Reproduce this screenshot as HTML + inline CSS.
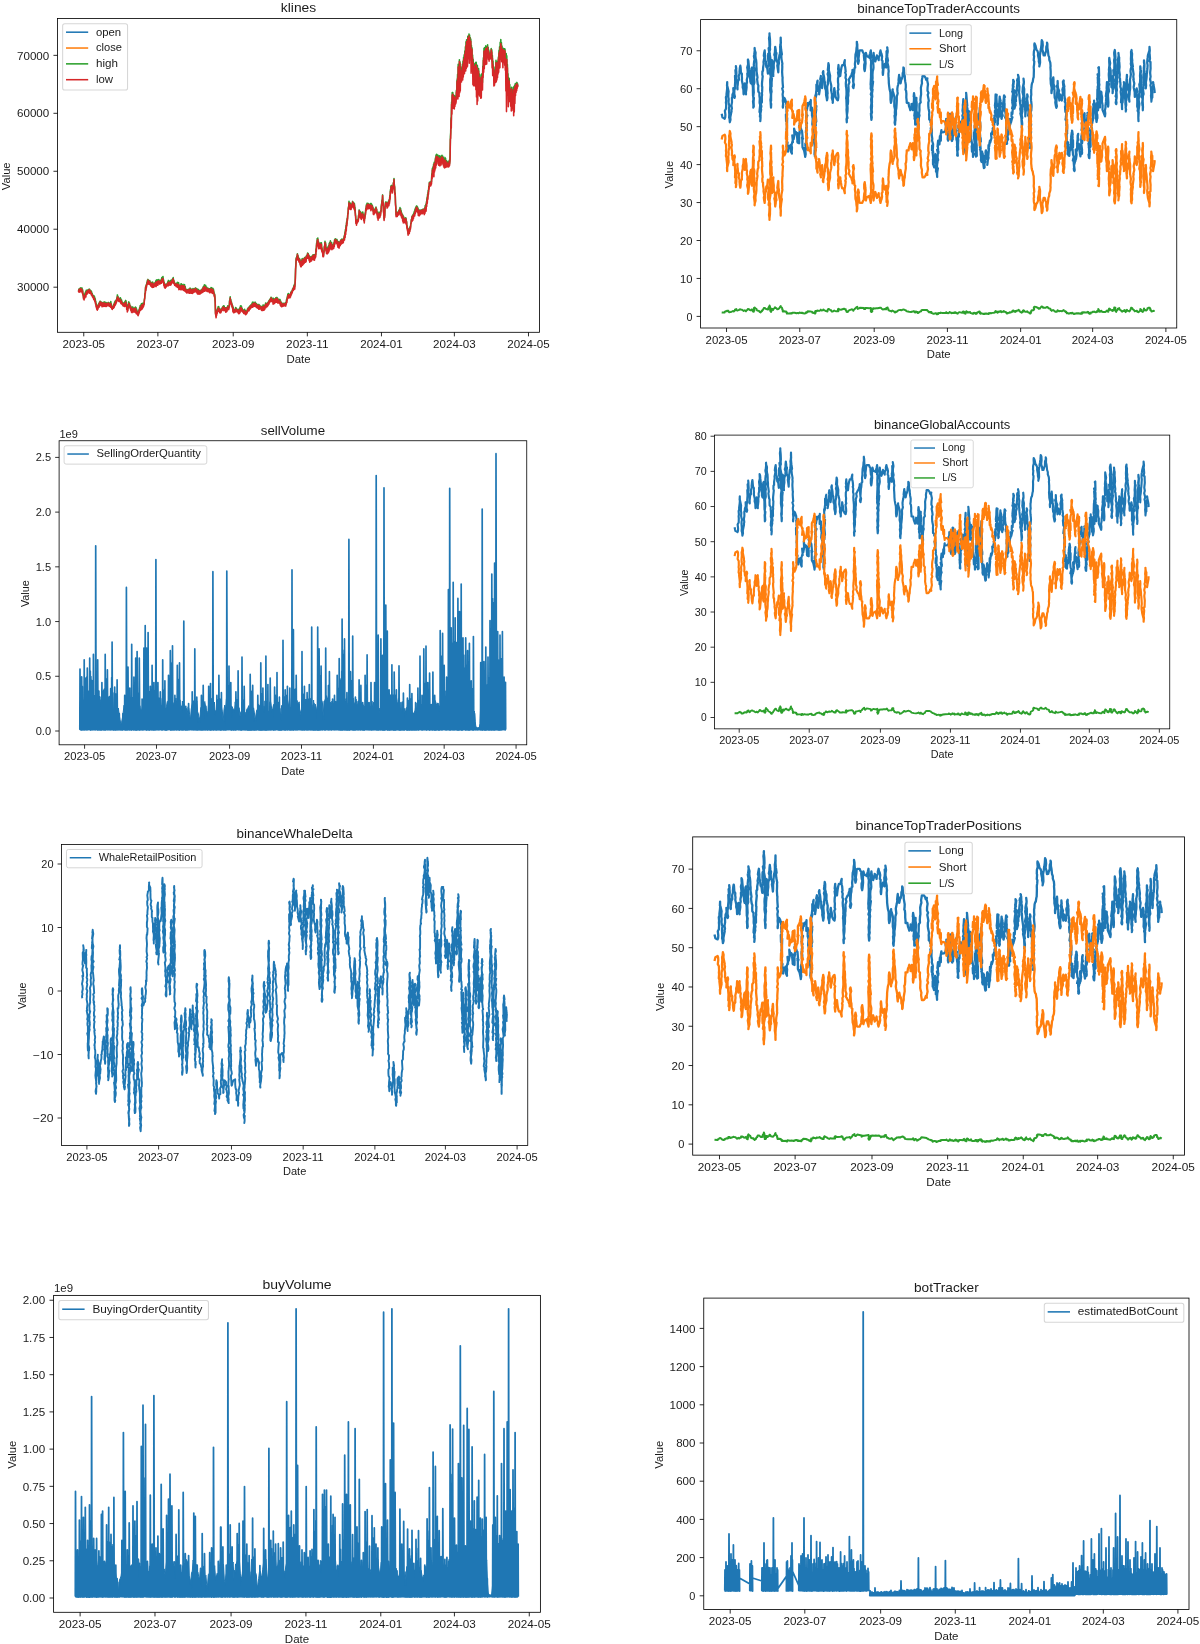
<!DOCTYPE html>
<html><head><meta charset="utf-8"><title>charts</title>
<style>
html,body{margin:0;padding:0;background:#fff;}
svg{display:block;will-change:transform;}
text{font-family:"Liberation Sans",sans-serif;fill:#1a1a1a;}
</style></head><body>
<svg width="1200" height="1644" viewBox="0 0 1200 1644">
<rect width="1200" height="1644" fill="#fff"/>
<path d="M78.4 289.8l.3 1 .3-1.8 .3 2.1 .3-2.4 .3 1.7 .3-2.3 .3 2.3 .3-2.5 .3 2.4 .3-2.1 .3 1.9 .3-2.2 .3 2.9 .3-1 .3 3.9 .3 .1 .3 3.7 .3-2 .3 3 .3-3.6 .3 1 .3-2.8 .3 1.2 .3-2.5 .3 2.2 .3-3.7 .3 2 .3-2.1 .3 2.8 .3-2.2 .3 .7 .3-1.6 .3 1.9 .3-2.3 .3 1.8 .3-2.2 .3 2.8 .3-2.3 .3 2.4 .3-1.4 .3 1.8 .3-1.7 .3 2.3 .3-1.2 .3 2.3 .3-.7 .3 2.6 .3-.9 .3 1.6 .3-1.2 .3 2 .3-1.7 .3 2 .3-.9 .3 2.4 .3-.7 .3 2.7 .3 .2 .3 3.4 .3-.8 .3 3.5 .3-.7 .3 1.8 .3-3.1 .3 2.3 .3-3 .3 .6 .3-1.9 .3 2.3 .3-3.5 .3 2 .3-3.1 .3 1.4 .3-1.3 .3 2.9 .3-2.3 .3 2.6 .3-1.4 .3 2.3 .3-3 .3 2.6 .3-2.1 .3 1.3 .3-1.9 .3 2.8 .3-3.1 .3 2.4 .3-2.5 .3 2.1 .3-1.5 .3 2.1 .3-2.1 .3 2.7 .3-2.3 .3 1.8 .3-1.8 .3 1.8 .3-1.7 .3 1.5 .3-2.2 .3 1.4 .3-1.1 .3 2.4 .3-1.8 .3 1.3 .3-1.3 .3 2 .3-3.7 .3 2.5 .3 .3 .3 3.1 .3-1.3 .3 2.4 .3-2.1 .3 .8 .3-1.3 .3 1.4 .3-3 .3 1.8 .3-3.5 .3 .7 .3-2 .3 1.9 .3-2.4 .3 1.9 .3-2.9 .3 1.3 .3-3.1 .3 .4 .3-3.6 .3 1.8 .3-.1 .3 3.1 .3-1.6 .3 2.3 .3-2.1 .3 2 .3-1.8 .3 1.1 .3-1.8 .3 3.1 .3-2 .3 2.5 .3-1.4 .3 3 .3-.8 .3 1.9 .3-1 .3 1.8 .3-1.9 .3 1.8 .3-1.9 .3 2 .3-2.8 .3 2.2 .3-3.3 .3 2.5 .3-3.1 .3 2.7 .3-.9 .3 4.4 .3-1.9 .3 4.6 .3-1.5 .3 .6 .3-3.6 .3 .8 .3-3.8 .3 2 .3-.9 .3 2.5 .3 0 .3 2.5 .3-1.8 .3 3.3 .3-2 .3 2.9 .3-2.9 .3 2.9 .3-3.4 .3 1.6 .3-1.3 .3 2.9 .3-1.9 .3 2.5 .3-2.4 .3 2.1 .3-2.7 .3 2.6 .3-3.3 .3 2.7 .3-2.3 .3 3.8 .3-2.1 .3 2.7 .3-.9 .3 2.7 .3-1 .3 2.2 .3-2.6 .3 .9 .3-3.4 .3 1.2 .3-3.2 .3 .7 .3-2.8 .3 2.3 .3-2.8 .3 1.8 .3-3.1 .3 3.1 .3-3.4 .3 2.9 .3-3.1 .3 2.6 .3-2.6 .3 1.9 .3-2.2 .3 .8 .3-4.4 .3-1.6 .3-4.6 .3-.7 .3-5.6 .3 2 .3-4 .3 .8 .3-2.9 .3-.1 .3-2.4 .3 1.7 .3-2.6 .3 3.4 .3-2 .3 2.2 .3-2.3 .3 2.5 .3-2.7 .3 2.1 .3-.5 .3 2.5 .3-1.9 .3 2.4 .3-1.6 .3 1.9 .3-3.3 .3 2.6 .3-2.4 .3 3.2 .3-1.3 .3 2 .3-1.9 .3 .9 .3-2.1 .3 1 .3-1.7 .3 1.8 .3-3.5 .3 3 .3-3.6 .3 2.4 .3-2.7 .3 2 .3-1.7 .3 2.8 .3-3.2 .3 1.9 .3-2 .3 2.1 .3-1.4 .3 2.4 .3-2 .3 2 .3-2.1 .3 .3 .3-1.6 .3 1.5 .3-3.3 .3 1.9 .3-2.4 .3 1.4 .3-1.9 .3 4 .3-.5 .3 3.9 .3-1.4 .3 3.5 .3-2.2 .3 3.3 .3-2.2 .3 .6 .3-1.1 .3 1.7 .3-1.8 .3 .9 .3-1.9 .3 1.2 .3-2.8 .3 1.4 .3-2.7 .3 2.8 .3-2.1 .3 2.6 .3-2.1 .3 1.9 .3-2.6 .3 2.1 .3-2.6 .3 2.4 .3-2.4 .3 1.9 .3-2.5 .3 1.5 .3-2.6 .3 1.1 .3-2.2 .3 3.9 .3-1.5 .3 2.8 .3-.8 .3 2.3 .3-1 .3 1.2 .3-.7 .3 1.3 .3-1.6 .3 2 .3-2.5 .3 .8 .3-1.4 .3 2.5 .3-2.3 .3 1.9 .3-1.8 .3 4.4 .3-2.2 .3 2.1 .3-1.1 .3 2 .3-2.6 .3 2 .3-3.5 .3 3.1 .3-3 .3 3.5 .3-2.1 .3 2.9 .3-3.3 .3 2.6 .3-2.4 .3 3 .3-3.7 .3 3.3 .3-2.9 .3 3.5 .3-1.7 .3 2.3 .3-.1 .3 2.3 .3-1.1 .3 1.8 .3-2.1 .3 2 .3-1.9 .3 1.4 .3-1.9 .3 2.1 .3-2.2 .3 2.5 .3-2.2 .3 2.2 .3-3.6 .3 2.9 .3-2.4 .3 3.2 .3-2.1 .3 1.6 .3-2 .3 2.6 .3-2.7 .3 2.6 .3-3.2 .3 2 .3-1.7 .3 2.3 .3-1.8 .3 .6 .3-1.4 .3 2 .3-2.7 .3 1.4 .3-1.1 .3 2.5 .3-1.7 .3 2.5 .3-2.6 .3 2.8 .3-2.5 .3 1.3 .3-.9 .3 3.2 .3-2.2 .3 2 .3-2.1 .3 2.5 .3-2.4 .3 1.7 .3-1.9 .3 .9 .3-1.5 .3 1.9 .3-2.5 .3 .8 .3-1.8 .3 2.5 .3-3.8 .3 2.5 .3-3.3 .3 2.3 .3-3.7 .3 3.5 .3-2.8 .3 2 .3-2.2 .3 2.8 .3-1.3 .3 2.4 .3-1.8 .3 3 .3-1.6 .3 1.5 .3-1.8 .3 2.2 .3-2.2 .3 1.7 .3-1.3 .3 2.5 .3-2.4 .3 2.5 .3-2.9 .3 1.9 .3-2.8 .3 1.9 .3-1.8 .3 3.2 .3-2.2 .3 2.6 .3-3 .3 2.6 .3-1.9 .3 2.6 .3 .6 .3 3.2 .3-1.4 .3 2.8 .3 5 .3 11.3 .3 1.2 .3 1.8 .3-4 .3 1.3 .3-3.5 .3 1.4 .3-3 .3 1.1 .3-2.8 .3 1.7 .3-1.6 .3 2.9 .3-1.1 .3 2.7 .3-2.1 .3 2.5 .3-2.4 .3 2.3 .3-2.5 .3 1.1 .3-1.6 .3 .8 .3-2 .3 1.7 .3-2.7 .3 2 .3-2.5 .3 2.4 .3-2.2 .3 2.8 .3-1.3 .3 1.9 .3-1.6 .3 3 .3-3.1 .3 2.8 .3-2.7 .3 2.3 .3-3 .3 1.3 .3-2.7 .3 1.6 .3-1.2 .3 2 .3-1.6 .3-.6 .3-5.6 .3-.2 .3-3.4 .3 3.7 .3-1 .3 3.4 .3-1 .3 3.4 .3-1.4 .3 3.1 .3-1.3 .3 3.9 .3-2.2 .3 4.2 .3-1.3 .3 1.3 .3-1.7 .3 1.8 .3-2.6 .3 1.4 .3-2.9 .3 2 .3-1.4 .3 2.1 .3-.7 .3 1.7 .3-1.6 .3 1.5 .3-1.8 .3 2.8 .3-2 .3 2.3 .3-3.3 .3 2.2 .3-3.6 .3 2.3 .3-3.9 .3 1 .3-1.4 .3 2.3 .3-1.2 .3 3.1 .3-1.3 .3 2.5 .3-1.5 .3 1.5 .3-.7 .3 2.1 .3-1.5 .3 1.1 .3-2.8 .3 2.4 .3-1.4 .3 3 .3-1.9 .3 2 .3-2 .3 1.1 .3-2.3 .3 1.4 .3-2.9 .3 1.2 .3-2.1 .3 1.8 .3-2.3 .3 2.3 .3-3 .3 1.8 .3-2.5 .3 1.9 .3-2.5 .3 1.7 .3-2.4 .3 1.6 .3-2.3 .3 .8 .3-2.4 .3 2.2 .3-2.5 .3 3.1 .3-1.9 .3 1.7 .3-2.2 .3 2.3 .3-2.8 .3 2.3 .3-2.3 .3 2.1 .3-.7 .3 2.4 .3-2.3 .3 2.7 .3-1.9 .3 2.2 .3-2 .3 1.9 .3-1.5 .3 2.5 .3-3.2 .3 3.3 .3-2.5 .3 2 .3-1.1 .3 1.5 .3-1 .3 2.2 .3-2 .3 2.5 .3-2.9 .3 2.7 .3-3.1 .3 2 .3-3.1 .3 3 .3-2.3 .3 3 .3-2.9 .3 2.1 .3-2.9 .3 1.3 .3-3.1 .3 3.3 .3-2.9 .3 2 .3-2.1 .3 2.1 .3-2.2 .3 1.6 .3-2.7 .3 1.8 .3-2.6 .3 1.9 .3-3.1 .3 1.3 .3-2.2 .3 1 .3-1.7 .3 1.6 .3-3 .3 1.8 .3-1.4 .3 2.7 .3-1.5 .3 1.6 .3-1 .3 2.4 .3-3.5 .3 3.6 .3-2.8 .3 2.8 .3-2.9 .3 2.6 .3-3 .3 2.2 .3-3 .3 2.8 .3-2.9 .3 2.8 .3-3.1 .3 2.8 .3-2 .3 3.5 .3-2.4 .3 2.4 .3-2.1 .3 2.2 .3-2 .3 1.7 .3-2.1 .3 3.6 .3-2.1 .3 3.7 .3-2.3 .3 3.2 .3-2.5 .3 2.6 .3-2.1 .3 1.7 .3-1.8 .3 1.9 .3-2 .3 2 .3-1.5 .3 1.2 .3-1.8 .3 1.6 .3-2 .3 2.2 .3-2.3 .3-.3 .3-3.2 .3 1.1 .3-3.4 .3-.1 .3-2.8 .3 1.5 .3-1.9 .3 2.9 .3-2.5 .3 1.9 .3-1.4 .3 2 .3-2.3 .3 1.5 .3-3.3 .3 1.7 .3-2.7 .3 1.5 .3-2.2 .3 .9 .3-2.7 .3 1.2 .3-2.2 .3 1.3 .3-3.5 .3 1.6 .3-3.1 .3 2.6 .3-3.2 .3-5.2 .3-10.1 .3-4.7 .3-5.8 .3 1.1 .3-2.7 .3 1.4 .3-3.9 .3 3 .3-1.1 .3 3.4 .3-1.5 .3 2.8 .3-1.9 .3 2.1 .3-1.5 .3 4.1 .3-2 .3 3.8 .3-3.8 .3 3.4 .3-4.2 .3 2.1 .3-3.8 .3 4.5 .3-3.9 .3 3.4 .3-3.3 .3 2.7 .3-3.8 .3 3.2 .3-3.8 .3 2.6 .3-2.9 .3 3.2 .3-2.8 .3 2.3 .3-4.1 .3 1.4 .3-2.3 .3 1.8 .3-3.8 .3 2.2 .3-1.8 .3 3.4 .3-1.9 .3 3.6 .3-2.4 .3 3.8 .3-3.2 .3 2.8 .3-2.2 .3 1.6 .3-2.4 .3 2.7 .3-2.9 .3 1.9 .3-2.2 .3 1.3 .3-2.5 .3 3.2 .3-3 .3 3.1 .3-3.6 .3 3.8 .3-3.3 .3 1.7 .3-2.2 .3 .3 .3-6.1 .3 0 .3-5.6 .3 .8 .3-5.3 .3 .6 .3-1.1 .3 5 .3-1.7 .3 5.3 .3-3.7 .3 2.8 .3-1.9 .3 2.7 .3-3.6 .3 3.5 .3-3.5 .3 3 .3-3.2 .3 5.7 .3-.8 .3 3.5 .3-.3 .3 4.4 .3-.8 .3 1 .3-3.9 .3-.6 .3-5 .3-.3 .3-4.5 .3 3.8 .3-2.2 .3 5.6 .3-.9 .3 4.2 .3-2.4 .3 2.8 .3-4 .3 3 .3-4.2 .3 3 .3-4.2 .3 2.8 .3-5.1 .3 3.3 .3-4.4 .3 3.4 .3-5 .3 4 .3-2.5 .3 3.6 .3-3.2 .3 4.5 .3-2.4 .3 2.5 .3-1.7 .3 1.8 .3-2.9 .3 2 .3-3.8 .3 1.8 .3-4.7 .3 2.6 .3-3.4 .3 2.3 .3-2.3 .3 2.2 .3-1.2 .3 1.3 .3-1.7 .3 3.1 .3-1.5 .3 3.9 .3-3.6 .3 4.2 .3-3.5 .3 4.1 .3-3.4 .3 1.9 .3-3.1 .3 2.3 .3-3.8 .3 2.7 .3-3 .3 2.4 .3-3.1 .3 2.2 .3-1.9 .3 2.1 .3-2.5 .3 2.2 .3-2.7 .3 .4 .3-3 .3 1.8 .3-4.9 .3 1.7 .3-5 .3 1.7 .3-5.6 .3 1.7 .3-5.4 .3 1.7 .3-5.2 .3 .4 .3-5.3 .3-1 .3-5.5 .3-.2 .3-5.5 .3 4.2 .3-2.6 .3 3.1 .3-2.9 .3 4.5 .3-2.3 .3 2.4 .3-3.1 .3 1.6 .3-3 .3 2 .3-3.8 .3 3.5 .3-2.6 .3 3.7 .3-3.3 .3 4.1 .3-3.2 .3 4.1 .3-.3 .3 5 .3 2.1 .3 6.9 .3-.7 .3 2.8 .3-3.4 .3 1.8 .3-2 .3 1.1 .3-2 .3 .7 .3-4.7 .3 .9 .3-6 .3 2.7 .3-1.5 .3 3.7 .3-3.1 .3 4.4 .3-2.4 .3 3.2 .3-3.7 .3 2.3 .3-3.3 .3 2.7 .3-2.9 .3 2.6 .3-.1 .3 3.7 .3-1.3 .3 4.2 .3-4.4 .3 .3 .3-4.1 .3 .2 .3-4.8 .3 .6 .3-4 .3 2.4 .3-4.1 .3 2.9 .3-2.7 .3 3.3 .3-3.3 .3 3.3 .3-2.8 .3 2.5 .3-1.8 .3 2.4 .3-2.9 .3 1.5 .3-2 .3 3.1 .3-3.2 .3 2.3 .3-1.5 .3 3.3 .3-2 .3 2.9 .3-1.1 .3 4.1 .3-2.3 .3 3.3 .3-2.1 .3 1.2 .3-2.3 .3 1.9 .3-2.8 .3 1.8 .3-3.2 .3 3.1 .3-1.2 .3 3.7 .3-.9 .3 4.3 .3-1.6 .3 3.4 .3-4.8 .3 2.3 .3-3.2 .3 3.8 .3-2.5 .3 2.4 .3-3.5 .3 1.9 .3-3.5 .3-1.3 .3-5.2 .3-.5 .3-3.7 .3 .4 .3-5.5 .3 6.3 .3 1.2 .3 8.2 .3 2.1 .3 6.2 .3-2.4 .3-.9 .3-8.6 .3-2.6 .3-2.3 .3 2.2 .3-2.2 .3 2.5 .3-1.5 .3 3.3 .3-2 .3 1.1 .3-3.5 .3 2.3 .3-3.3 .3 2.9 .3-4.4 .3 1.8 .3-5.7 .3 .9 .3-6.6 .3 1.1 .3-5.1 .3 2.2 .3-2.7 .3 3.8 .3-2.7 .3 4.6 .3-3.3 .3-.3 .3-5 .3 1 .3-5 .3 6 .3 1.5 .3 6.8 .3 .3 .3 9.5 .3 4.1 .3 8.3 .3-2.8 .3 2.2 .3-2.2 .3 2.8 .3-2.7 .3 1.4 .3-1.9 .3 1.8 .3-3 .3 2.4 .3-3.8 .3 1.6 .3-3.2 .3 2.8 .3-1.8 .3 3.7 .3-1.5 .3 4.1 .3-1.8 .3 3.5 .3-2.2 .3 4.4 .3-3.6 .3 4.5 .3-3.1 .3 3.3 .3-1.7 .3 2.7 .3-2.4 .3 2.7 .3-3.4 .3 3.2 .3-3 .3 4.7 .3-1.4 .3 5.2 .3-.8 .3 3.7 .3 .3 .3 3.9 .3-3.5 .3 1.7 .3-3 .3 2.9 .3-4 .3 2.1 .3-3.6 .3 1.1 .3-4 .3-.6 .3-3.4 .3 1 .3-4 .3 2.7 .3-3.7 .3 2.9 .3-4 .3 1.9 .3-3.1 .3 .4 .3-2.2 .3 1.7 .3-3.8 .3 1.7 .3-2.9 .3 .9 .3-2.4 .3 2.7 .3-3.2 .3 3.5 .3-2.7 .3 2.9 .3-1.5 .3 4.8 .3-3.1 .3 3.9 .3-2.9 .3 3 .3-3.7 .3 2.9 .3-2.4 .3 2 .3-2.6 .3 2.2 .3-1.8 .3 1.7 .3-2.6 .3 2.8 .3-3.1 .3 2.2 .3-1.3 .3 1.3 .3-2.5 .3 3.6 .3-4.3 .3 2.4 .3-5 .3 2.6 .3-3.6 .3 3 .3-5.9 .3 1.7 .3-5.6 .3 2.3 .3-5.7 .3 1.6 .3-5.4 .3 1.1 .3-5.4 .3 1.2 .3-5.2 .3 2.6 .3-2.8 .3 2.3 .3-2.5 .3 2.2 .3-3.1 .3 .6 .3-7.7 .3 1 .3-6.7 .3 4.4 .3-5.6 .3 1.6 .3-4.3 .3 7.2 .3-9.2 .3 5.4 .3-5.6 .3 3.6 .3-7.7 .3 5.2 .3-8.1 .3 5.7 .3-6.6 .3 3.1 .3-1.9 .3 3 .3-3.3 .3 5.2 .3-4.6 .3 5.7 .3-5.1 .3 3.4 .3-3.9 .3 5.4 .3-5 .3 3.2 .3-2.6 .3 4.1 .3-5.1 .3 3 .3-3.5 .3 4.5 .3-3.9 .3 5.1 .3-3.9 .3 5.7 .3-4 .3 5.3 .3-5 .3 4.7 .3-6.4 .3 4.9 .3-3.8 .3 5.3 .3-3.4 .3 4.2 .3-3.7 .3 4 .3-3 .3 2.9 .3-2.7 .3 2.9 .3-3.3 .3 2.8 .3-4.3 .3 3.6 .3-2.6 .3-6.2 .3-18 .3-4.5 .3-14.8 .3 2.8 .3-18.5 .3 3.8 .3-13.3 .3 8.7 .3-8.7 .3 9.6 .3-7.3 .3 6.6 .3-6.2 .3 8.6 .3-8.1 .3 6.3 .3-5.8 .3 4 .3-3.4 .3 2.8 .3-9.3 .3 3.1 .3-13.3 .3 3.7 .3-9.6 .3 11.1 .3-21.1 .3 14.5 .3-12 .3 15.3 .3-22.3 .3 20 .3-18 .3 18.1 .3-12.8 .3 7.5 .3-5.4 .3 7.8 .3-8 .3 3.1 .3-7.7 .3 8.2 .3-11.2 .3 7.8 .3-11.9 .3 3.6 .3-5.9 .3 9.4 .3-13.3 .3 9.8 .3-14 .3 11.6 .3-16.6 .3 15 .3-17 .3 16.4 .3-14.2 .3 12.9 .3-18.5 .3 10.5 .3-10.1 .3 11.9 .3-14.7 .3 17.7 .3-16.6 .3 9.3 .3-6.8 .3 11.2 .3-9.7 .3 21.1 .3-15 .3 14 .3-11.4 .3 14.8 .3-7.5 .3 18 .3-13.5 .3 15.6 .3-11.8 .3 8.3 .3-7.9 .3 12.5 .3-12.5 .3 12.7 .3-13.9 .3 15.5 .3-15.8 .3 20.3 .3-17.9 .3 23.5 .3-22.7 .3 21 .3-17.5 .3 14.3 .3-14.8 .3 14.7 .3-9.5 .3 12.5 .3-11.3 .3 12.1 .3-8.2 .3 10.3 .3-10 .3 9 .3-14 .3 8.3 .3-8.8 .3 8.9 .3-16.2 .3 4.7 .3-13.2 .3 5.9 .3-15.4 .3 11 .3-11.8 .3 5.5 .3-5.4 .3 8.5 .3-10.2 .3 10.6 .3-8.7 .3 9.3 .3-10.5 .3 5.8 .3-7.6 .3 6.9 .3-4.3 .3 7.4 .3-4.7 .3 7.2 .3-3.9 .3 2.8 .3-1.8 .3 2.2 .3-4.5 .3 2.8 .3-6.4 .3 4.1 .3-2.9 .3 11.6 .3-5.9 .3 11.9 .3-6.2 .3 8.5 .3-3.2 .3 12.3 .3-5.1 .3 7.4 .3-9.1 .3 3.5 .3-8 .3 6.8 .3-13.9 .3 13.2 .3-11.1 .3 10.3 .3-10.9 .3 9.5 .3-10.2 .3 7.3 .3-11.4 .3 7.5 .3-14.1 .3 8.6 .3-12.3 .3 9.4 .3-13.8 .3 5.8 .3-8.6 .3 10.5 .3-7.6 .3 11.2 .3-7.7 .3 7.3 .3-4 .3 10.9 .3-11.8 .3 7.3 .3-6.2 .3 7.3 .3-7.9 .3 9.8 .3-9.6 .3 12.4 .3-6.9 .3 19.1 .3-20.1 .3 32.4 .3-30.2 .3 22.3 .3-13.5 .3 18.6 .3-9.3 .3 19 .3-15 .3 12.8 .3-12.2 .3 13.9 .3-7.7 .3 10 .3-5.2 .3 9.4 .3-8.8 .3 11.7 .3-14.4 .3 13.7 .3-9.6 .3 7.9 .3-9.5 .3 8.4 .3-10.8 .3 16 .3-16.9 .3 14.3 .3-15.6 .3 10.2 .3-11.5 .3 6.7 .3-7.1 .3 5 .3-5.8 .3 4.8 .3-5.1 .3 3.6 .3-2.2 .3 2" fill="none" stroke="#2ca02c" stroke-width="1.55" stroke-linejoin="round" />
<path d="M78.4 290.8l.3 1.1 .3-2.3 .3 2.6 .3-2.9 .3 2.1 .3-2.6 .3 2.8 .3-3.1 .3 3.2 .3-2.4 .3 2.6 .3-2.5 .3 3.7 .3-2.1 .3 4.3 .3-.6 .3 4.3 .3-2.9 .3 3.9 .3-3.7 .3 1.9 .3-3 .3 1.7 .3-3.1 .3 3.2 .3-4.7 .3 2.1 .3-3.2 .3 2.9 .3-2.7 .3 .9 .3-1.8 .3 2.3 .3-2.7 .3 2.4 .3-2.7 .3 3.4 .3-3 .3 2.9 .3-1.8 .3 2.4 .3-1.8 .3 3.1 .3-1.6 .3 2.2 .3-1.2 .3 2.6 .3-1.3 .3 2.1 .3-1.1 .3 2.7 .3-1.9 .3 2.6 .3-1.3 .3 3 .3-1 .3 3 .3-.4 .3 3.6 .3-1.8 .3 4 .3-1.4 .3 2.4 .3-3.9 .3 3 .3-3.6 .3 .9 .3-2.3 .3 3 .3-4.3 .3 2.7 .3-3.6 .3 1.7 .3-1.8 .3 3.5 .3-2.9 .3 3.2 .3-1.8 .3 2.8 .3-3.7 .3 3.3 .3-2.7 .3 1.5 .3-2.2 .3 3.4 .3-3.4 .3 3.2 .3-2.9 .3 2.4 .3-1.8 .3 2.5 .3-2.8 .3 2.8 .3-2.8 .3 2.1 .3-2.1 .3 2.2 .3-2 .3 1.7 .3-2.5 .3 1.7 .3-1.3 .3 2.9 .3-2.3 .3 1.6 .3-1.6 .3 3.2 .3-3.7 .3 2.7 .3-.6 .3 3 .3-1.8 .3 2.7 .3-2.4 .3 .9 .3-1.3 .3 1.6 .3-3.3 .3 2.4 .3-3.6 .3 2.1 .3-2.7 .3 1.9 .3-3.6 .3 2.4 .3-3.4 .3 1.7 .3-3.1 .3 1.4 .3-3.6 .3 1.4 .3-1 .3 3.6 .3-2.2 .3 2.7 .3-2.5 .3 2.6 .3-1.5 .3 1.8 .3-2.2 .3 3.7 .3-2.5 .3 3 .3-2.4 .3 2.8 .3-1.3 .3 2 .3-1.2 .3 2.2 .3-2.2 .3 2.2 .3-2.2 .3 2.7 .3-3 .3 3.1 .3-3.8 .3 3.3 .3-4 .3 3.5 .3-1.5 .3 5.4 .3-3 .3 5.5 .3-2.2 .3 1.1 .3-4.2 .3 1.2 .3-4.4 .3 2.5 .3-2 .3 2.5 .3-.3 .3 2.9 .3-2.3 .3 4.1 .3-2.6 .3 4 .3-3.3 .3 3.7 .3-4.4 .3 2.2 .3-1.5 .3 3 .3-2.9 .3 2.9 .3-2.9 .3 2.6 .3-3.2 .3 3.8 .3-3.6 .3 4 .3-3.4 .3 4.6 .3-3 .3 3.1 .3-1.7 .3 2.5 .3-1.4 .3 2.4 .3-2.8 .3 1.2 .3-3.7 .3 2 .3-3.3 .3 1.2 .3-3.1 .3 3.3 .3-3.3 .3 2.3 .3-4 .3 3.9 .3-4.5 .3 3.8 .3-4.1 .3 3.2 .3-3.2 .3 2.1 .3-3 .3 1.1 .3-4.7 .3-1.5 .3-4.8 .3-.1 .3-6.1 .3 2.8 .3-4.8 .3 1.6 .3-3.1 .3 .5 .3-2.8 .3 1.7 .3-3.5 .3 4 .3-2.5 .3 2.6 .3-2.8 .3 3.2 .3-2.7 .3 2.4 .3-1.2 .3 2.9 .3-2.6 .3 3.1 .3-2 .3 2.7 .3-3.7 .3 4 .3-4.1 .3 3.6 .3-1.8 .3 2.2 .3-2.2 .3 1 .3-2.3 .3 1.2 .3-1.6 .3 2.7 .3-3.9 .3 4.4 .3-4.3 .3 3.1 .3-3.8 .3 2.5 .3-2.5 .3 3.6 .3-4.1 .3 2.5 .3-2.7 .3 2.8 .3-2.2 .3 2.6 .3-2.7 .3 2.3 .3-2.4 .3 .9 .3-1.5 .3 2.5 .3-4 .3 2.6 .3-2.9 .3 1.9 .3-2.4 .3 4.2 .3-1.3 .3 4.3 .3-2.4 .3 4.3 .3-3.1 .3 3.9 .3-2.6 .3 .7 .3-1.3 .3 1.8 .3-2 .3 1.1 .3-2.1 .3 1.8 .3-2.4 .3 2.6 .3-3.7 .3 3 .3-2.9 .3 2.6 .3-2.3 .3 2.5 .3-2.9 .3 2.9 .3-3.1 .3 2.7 .3-3.3 .3 2 .3-2.9 .3 1.9 .3-2.8 .3 1.8 .3-2.7 .3 4.5 .3-2.4 .3 3.2 .3-1.2 .3 2.5 .3-1.3 .3 1.5 .3-1 .3 1.6 .3-2 .3 2.7 .3-2.6 .3 1.5 .3-1.4 .3 3.2 .3-2.9 .3 2.7 .3-2.6 .3 5 .3-3.6 .3 2.2 .3-1.6 .3 2.6 .3-2.9 .3 3.3 .3-3.8 .3 3.9 .3-4.4 .3 4.1 .3-3.2 .3 3.5 .3-4.1 .3 3.6 .3-3 .3 4.2 .3-4.7 .3 4.5 .3-3.8 .3 4.7 .3-2.8 .3 2.2 .3-1 .3 2.7 .3-1.5 .3 2.2 .3-2.7 .3 2.5 .3-2.3 .3 1.7 .3-2.3 .3 2.7 .3-2.8 .3 3.3 .3-2.7 .3 2.8 .3-4.2 .3 3.8 .3-3.5 .3 4 .3-2.8 .3 1.9 .3-2.4 .3 3.3 .3-3.3 .3 3.5 .3-4.3 .3 2.6 .3-2.2 .3 2.7 .3-2.1 .3 .7 .3-1.7 .3 2.5 .3-3.1 .3 1.6 .3-1.3 .3 3.1 .3-2.2 .3 3.1 .3-2.9 .3 4 .3-2.9 .3 1.6 .3-2 .3 3.4 .3-2.9 .3 2.4 .3-2.5 .3 3.1 .3-2.9 .3 2.1 .3-2.3 .3 1.1 .3-1.7 .3 2.4 .3-3 .3 1.2 .3-2.2 .3 3.3 .3-4.4 .3 3.7 .3-3.9 .3 3.5 .3-4.5 .3 4.7 .3-3.8 .3 2.7 .3-2.8 .3 3.4 .3-2.3 .3 2.5 .3-2.7 .3 3.1 .3-2 .3 1.8 .3-2.2 .3 2.6 .3-2.6 .3 2.1 .3-1.6 .3 3.2 .3-3.1 .3 3.2 .3-3.3 .3 2.5 .3-3.1 .3 2.3 .3-2.2 .3 3.9 .3-2.7 .3 3.2 .3-3.8 .3 3.3 .3-2.4 .3 2.8 .3-.1 .3 3.4 .3-1.9 .3 3.1 .3 4.6 .3 11.8 .3 .8 .3 2.8 .3-4.7 .3 2 .3-4.1 .3 2.1 .3-3.4 .3 1.8 .3-3.4 .3 2.2 .3-1.9 .3 3.1 .3-2.1 .3 3.2 .3-2.7 .3 3.1 .3-3.1 .3 2.7 .3-2.9 .3 1.3 .3-1.8 .3 1 .3-2.3 .3 2.2 .3-3.1 .3 2.8 .3-2.6 .3 3.6 .3-3.3 .3 2.8 .3-2.1 .3 2.3 .3-2.1 .3 3.8 .3-3.9 .3 3.6 .3-3.4 .3 2.9 .3-3.7 .3 2 .3-2.8 .3 2 .3-1.6 .3 2.3 .3-2.2 .3-.2 .3-5.9 .3 .6 .3-3.8 .3 4.6 .3-2 .3 3.7 .3-1.9 .3 3.8 .3-1.9 .3 3.6 .3-1.6 .3 5.2 .3-3.2 .3 4.4 .3-1.8 .3 1.5 .3-2.1 .3 2.1 .3-2.8 .3 2.3 .3-2.7 .3 2.2 .3-2.4 .3 1.9 .3-.8 .3 1.7 .3-1.7 .3 1.8 .3-2 .3 3.3 .3-2.4 .3 2.9 .3-3.8 .3 3.4 .3-4.2 .3 3.3 .3-4.7 .3 1.7 .3-1.7 .3 2.3 .3-1.9 .3 3.1 .3-1.9 .3 2.6 .3-1.8 .3 1.7 .3-.9 .3 2.4 .3-1.6 .3 1.5 .3-2.6 .3 3.1 .3-2.1 .3 3 .3-2.6 .3 2.4 .3-2.4 .3 1.5 .3-2.6 .3 1.8 .3-3.5 .3 1.7 .3-2.5 .3 2.4 .3-3 .3 2.9 .3-3.6 .3 2.1 .3-2.8 .3 2.3 .3-2.9 .3 2.1 .3-2.7 .3 2.3 .3-2.3 .3 1.6 .3-2.5 .3 2.9 .3-3.7 .3 3 .3-2.8 .3 1.9 .3-2.4 .3 2.8 .3-3 .3 3.3 .3-3 .3 2.1 .3-1.2 .3 2.8 .3-2.7 .3 3.2 .3-2.3 .3 2.8 .3-2.6 .3 2.3 .3-1.9 .3 3.4 .3-3.9 .3 3.8 .3-3.4 .3 2.3 .3-1.4 .3 1.6 .3-1.1 .3 2.5 .3-2.3 .3 3.1 .3-3.5 .3 3.4 .3-3.2 .3 3.2 .3-3.9 .3 3.4 .3-3.3 .3 3.5 .3-3.6 .3 2.9 .3-3.7 .3 2 .3-3.5 .3 3.6 .3-3.7 .3 2.5 .3-2.5 .3 2.6 .3-2.7 .3 1.9 .3-3.1 .3 2.1 .3-2.9 .3 2.2 .3-3.4 .3 1.5 .3-2.3 .3 1.3 .3-1.9 .3 2.2 .3-3.6 .3 2.1 .3-1.8 .3 3.2 .3-1.9 .3 2 .3-1.1 .3 3.6 .3-4.1 .3 4 .3-4.2 .3 3.6 .3-3.8 .3 3.4 .3-3.7 .3 2.9 .3-3.7 .3 3.7 .3-3.6 .3 3.7 .3-3.8 .3 3.8 .3-3.2 .3 4 .3-3.1 .3 2.7 .3-2.5 .3 2.7 .3-2 .3 2.8 .3-2.4 .3 4 .3-3.2 .3 4.1 .3-3.3 .3 3.9 .3-3.2 .3 3 .3-2.4 .3 1.8 .3-2 .3 2.1 .3-2.2 .3 2 .3-1.5 .3 1.3 .3-1.9 .3 1.7 .3-2 .3 2.6 .3-2.6 .3 .5 .3-3.5 .3 1.9 .3-3.8 .3 .3 .3-3.2 .3 1.7 .3-2.6 .3 3.2 .3-3.3 .3 2.4 .3-1.8 .3 2.5 .3-2.9 .3 2 .3-3.9 .3 2.1 .3-3 .3 1.7 .3-2.4 .3 1 .3-2.9 .3 1.2 .3-2.2 .3 1.7 .3-3.7 .3 2.8 .3-3.6 .3 3.4 .3-4.1 .3-4.4 .3-11 .3-3.8 .3-7.1 .3 1.8 .3-3.3 .3 2.3 .3-5.1 .3 3.7 .3-1.8 .3 4.2 .3-2.1 .3 3.6 .3-2.3 .3 2.8 .3-2.8 .3 5.3 .3-3.1 .3 4.9 .3-4.9 .3 4.8 .3-5.1 .3 3.8 .3-5.6 .3 5.4 .3-5.2 .3 4.4 .3-4.3 .3 3.6 .3-4.9 .3 4.3 .3-4.9 .3 3.5 .3-3.8 .3 4.4 .3-3.6 .3 3.1 .3-5.3 .3 2.1 .3-2.7 .3 2.4 .3-4.6 .3 3 .3-2.5 .3 4.2 .3-2.7 .3 4.8 .3-3.5 .3 5.3 .3-4.6 .3 3.7 .3-3.2 .3 2.2 .3-3 .3 3.5 .3-3.8 .3 2.5 .3-2.8 .3 1.8 .3-3.1 .3 4.2 .3-3.8 .3 4.1 .3-4.9 .3 5.2 .3-4.4 .3 2.2 .3-2.6 .3 1.4 .3-7 .3 1.6 .3-6.7 .3 2.1 .3-6.2 .3 1.1 .3-2.2 .3 5.7 .3-3.2 .3 6.7 .3-5 .3 3.7 .3-2.6 .3 3.6 .3-4.7 .3 4.9 .3-4.4 .3 4.4 .3-4.3 .3 6.8 .3-2.5 .3 3.9 .3-1 .3 5 .3-1.3 .3 1.4 .3-4.3 .3-.1 .3-5.5 .3 .4 .3-4.7 .3 5.2 .3-3.5 .3 6.4 .3-2.1 .3 4.9 .3-3.3 .3 3.8 .3-5.1 .3 4.7 .3-5.3 .3 4.6 .3-5.4 .3 4.4 .3-6.5 .3 4.8 .3-5.8 .3 4.9 .3-6.7 .3 5.6 .3-3.9 .3 4.5 .3-4.6 .3 5.7 .3-3.7 .3 2.8 .3-2.5 .3 2.4 .3-3.6 .3 3.2 .3-4.6 .3 2.8 .3-5.9 .3 3.6 .3-4.4 .3 2.9 .3-3.2 .3 3 .3-1.4 .3 2.1 .3-2.2 .3 3.9 .3-2.5 .3 4.7 .3-5.2 .3 5.5 .3-4.7 .3 5.3 .3-4.6 .3 2.8 .3-4 .3 3.1 .3-4.7 .3 3.6 .3-3.6 .3 3.3 .3-4.1 .3 3 .3-2.5 .3 2.7 .3-3.3 .3 2.8 .3-3.3 .3 1.1 .3-3.4 .3 2.9 .3-5.6 .3 3.2 .3-6.3 .3 3.3 .3-6.9 .3 3 .3-7.6 .3 2.6 .3-6.5 .3 1 .3-5.8 .3-.3 .3-6 .3 1.5 .3-6.6 .3 5.5 .3-3.7 .3 3.9 .3-4.3 .3 5.2 .3-3.3 .3 3.2 .3-4 .3 2.3 .3-3.7 .3 2.8 .3-4.8 .3 4.5 .3-3.4 .3 4.8 .3-4.5 .3 5.8 .3-4.2 .3 5.7 .3-1.2 .3 5.8 .3 .9 .3 7.3 .3-2 .3 3.8 .3-4.5 .3 2.4 .3-2.6 .3 1.6 .3-2.6 .3 1.6 .3-5.4 .3 2.1 .3-7.2 .3 3.8 .3-2.3 .3 4.8 .3-4.6 .3 5.8 .3-3.1 .3 4.4 .3-4.7 .3 3.4 .3-4.1 .3 3.7 .3-3.9 .3 3.3 .3-.9 .3 4.1 .3-2.4 .3 4.9 .3-5.6 .3 1.1 .3-4.7 .3 1 .3-5.6 .3 1.6 .3-4.6 .3 3.7 .3-4.8 .3 3.4 .3-4.2 .3 4.6 .3-4.5 .3 4.4 .3-4 .3 3.2 .3-2.5 .3 3 .3-3.5 .3 2.3 .3-1.9 .3 5.4 .3-5.1 .3 2.6 .3-2.6 .3 3.9 .3-3.1 .3 3.9 .3-1.8 .3 5.6 .3-3.4 .3 3.9 .3-3 .3 1.7 .3-3 .3 2.6 .3-3.6 .3 2.6 .3-4 .3 3.5 .3-1.8 .3 4.6 .3-1.7 .3 5.5 .3-2.6 .3 4.8 .3-5.9 .3 3.8 .3-4.8 .3 4.6 .3-3.6 .3 3.1 .3-4.4 .3 2.7 .3-3.8 .3-.3 .3-5.7 .3-.2 .3-4.4 .3 .9 .3-6.6 .3 7.3 .3 .1 .3 9.4 .3 1.2 .3 6.9 .3-3.3 .3 .5 .3-9.9 .3-1.7 .3-3.1 .3 2.7 .3-2.9 .3 3.1 .3-2.2 .3 4.4 .3-2.8 .3 1.9 .3-4.5 .3 3.3 .3-4.2 .3 4 .3-5.5 .3 3 .3-6.8 .3 2.6 .3-7.6 .3 2 .3-6.8 .3 3.6 .3-4 .3 4.8 .3-3.9 .3 5.8 .3-4.2 .3 .2 .3-5.8 .3 2.2 .3-5.9 .3 6.8 .3 .6 .3 7.9 .3-1 .3 10.8 .3 2.7 .3 9.4 .3-3.7 .3 2.8 .3-2.8 .3 3.5 .3-3.5 .3 1.9 .3-2.4 .3 2.5 .3-3.7 .3 3.5 .3-4.5 .3 2.7 .3-3.8 .3 4 .3-2.3 .3 4.8 .3-3 .3 4.6 .3-3.2 .3 4.3 .3-3.2 .3 6 .3-4.7 .3 6.4 .3-4.9 .3 3.7 .3-2.8 .3 3.6 .3-3.2 .3 3.7 .3-4.4 .3 4.3 .3-3.9 .3 5.6 .3-2.5 .3 6.2 .3-1.7 .3 4.3 .3-.4 .3 4.8 .3-4.6 .3 2.5 .3-3.8 .3 4.2 .3-5.1 .3 3 .3-4.5 .3 2 .3-4.8 .3-.5 .3-3.8 .3 1.8 .3-4.6 .3 3.9 .3-4.9 .3 4.1 .3-4.9 .3 3.1 .3-3.7 .3 1 .3-2.4 .3 2.7 .3-4.7 .3 2.4 .3-3.9 .3 1.1 .3-3.4 .3 3.7 .3-4 .3 4.7 .3-3.8 .3 3.9 .3-2.7 .3 6.1 .3-4.8 .3 5 .3-3.9 .3 4 .3-4.9 .3 3.8 .3-3.1 .3 2.6 .3-3.5 .3 3 .3-2.4 .3 2.3 .3-3.4 .3 3.6 .3-3.9 .3 2.8 .3-1.6 .3 1.9 .3-3.4 .3 5.1 .3-5.3 .3 4.2 .3-6.2 .3 4.4 .3-5 .3 4.4 .3-7.6 .3 3 .3-7 .3 3.8 .3-7.1 .3 2.9 .3-6.6 .3 1.8 .3-7 .3 1.9 .3-6.2 .3 3.4 .3-3.5 .3 3 .3-3.1 .3 3 .3-3.9 .3 2.1 .3-8.7 .3 3.5 .3-8.8 .3 6.8 .3-7.3 .3 2.8 .3-6.1 .3 10.5 .3-13 .3 8.3 .3-7.8 .3 5.7 .3-10.2 .3 8.3 .3-11 .3 8.2 .3-8.9 .3 4 .3-2.6 .3 3.7 .3-4.3 .3 6.8 .3-6.1 .3 7.5 .3-6.8 .3 4.8 .3-4.9 .3 7.6 .3-7.1 .3 4.3 .3-3.8 .3 5.6 .3-7.4 .3 3.9 .3-4.6 .3 5.8 .3-5.1 .3 6.5 .3-5.5 .3 7.3 .3-5.5 .3 7 .3-6.7 .3 7.3 .3-8 .3 6.2 .3-5.5 .3 6.4 .3-4.9 .3 4.7 .3-4.6 .3 4.4 .3-3.5 .3 3.1 .3-2.8 .3 3.4 .3-3.7 .3 3.6 .3-5.3 .3 4.2 .3-3.1 .3-3.2 .3-20.1 .3-1 .3-18.4 .3 8.4 .3-24.1 .3 10 .3-19.2 .3 12.8 .3-13.5 .3 13.8 .3-11.2 .3 9.2 .3-9.6 .3 12.4 .3-11.5 .3 9.1 .3-7.7 .3 5.4 .3-5.1 .3 3.8 .3-10.8 .3 6.6 .3-17.1 .3 8.6 .3-11.9 .3 20.7 .3-32 .3 23.4 .3-18.6 .3 24.7 .3-35.1 .3 31.3 .3-29.5 .3 27.7 .3-20.9 .3 10.6 .3-9.1 .3 10.5 .3-10.6 .3 5.5 .3-10.3 .3 13.3 .3-15.8 .3 13 .3-17.1 .3 6.5 .3-8.1 .3 15.3 .3-19.4 .3 16.7 .3-20 .3 19.9 .3-25.5 .3 23 .3-27 .3 25.9 .3-21.8 .3 20.7 .3-28.1 .3 17 .3-14.7 .3 18.4 .3-23.1 .3 27.6 .3-25.9 .3 14.6 .3-11.2 .3 16.5 .3-16.1 .3 32.1 .3-24.7 .3 20.6 .3-19.7 .3 21.6 .3-13.2 .3 26.5 .3-22 .3 23.3 .3-18.6 .3 11.9 .3-12.4 .3 19.2 .3-19.4 .3 19.8 .3-21.8 .3 25.4 .3-24.2 .3 31.4 .3-29 .3 36.5 .3-36.2 .3 32.6 .3-28.1 .3 21.8 .3-23.5 .3 21.8 .3-15.6 .3 18.7 .3-18.3 .3 17.8 .3-12.9 .3 15.6 .3-15.4 .3 15.1 .3-20.9 .3 12.6 .3-13.2 .3 13.5 .3-22.2 .3 9.9 .3-17.4 .3 12 .3-21 .3 17.5 .3-17.8 .3 8.7 .3-7.8 .3 12.7 .3-16.1 .3 15.5 .3-13.4 .3 13.6 .3-15.7 .3 9.1 .3-10.5 .3 10.8 .3-7.6 .3 9.2 .3-7.7 .3 9.4 .3-5.9 .3 3.3 .3-2.6 .3 3 .3-5.2 .3 4.1 .3-7.9 .3 6.1 .3-4 .3 16 .3-9.8 .3 17.3 .3-10.5 .3 11.1 .3-6.8 .3 16.6 .3-9.5 .3 9 .3-11.8 .3 6.8 .3-10.1 .3 12.2 .3-20.1 .3 19.4 .3-17 .3 15.2 .3-16.4 .3 14.1 .3-15.1 .3 11.3 .3-14.8 .3 13.2 .3-19.2 .3 15.2 .3-16.8 .3 16.3 .3-20.6 .3 9.2 .3-12.8 .3 15.6 .3-13.1 .3 15.7 .3-13.1 .3 10.2 .3-6.8 .3 15.6 .3-18 .3 11 .3-9.4 .3 11.1 .3-11.9 .3 14.7 .3-14.2 .3 19.2 .3-10.3 .3 31.1 .3-31.7 .3 52.3 .3-52 .3 32.8 .3-24.7 .3 27.1 .3-16.5 .3 28.4 .3-24.6 .3 19.1 .3-20.1 .3 20 .3-12.8 .3 13.6 .3-9.3 .3 13.6 .3-13.1 .3 17.9 .3-21.9 .3 21.3 .3-14.5 .3 12.6 .3-14.6 .3 13 .3-16.6 .3 25.5 .3-26.2 .3 22.4 .3-24.1 .3 15.5 .3-17.3 .3 9.7 .3-10.3 .3 7 .3-8.1 .3 6.3 .3-6.8 .3 4.3 .3-2.9 .3 1.9" fill="none" stroke="#d62728" stroke-width="1.55" stroke-linejoin="round" />
<rect x="57.50" y="18.50" width="482.00" height="313.80" fill="none" stroke="#000" stroke-width="0.825"/>
<text x="298.50" y="12.06" font-size="12.75" text-anchor="middle" textLength="35.34" lengthAdjust="spacingAndGlyphs">klines</text>
<line x1="83.76" y1="332.30" x2="83.76" y2="336.36" stroke="#000" stroke-width="0.825"/>
<text x="83.76" y="348.00" font-size="10.61" text-anchor="middle" textLength="42.52" lengthAdjust="spacingAndGlyphs">2023-05</text>
<line x1="157.88" y1="332.30" x2="157.88" y2="336.36" stroke="#000" stroke-width="0.825"/>
<text x="157.88" y="348.00" font-size="10.61" text-anchor="middle" textLength="42.52" lengthAdjust="spacingAndGlyphs">2023-07</text>
<line x1="233.22" y1="332.30" x2="233.22" y2="336.36" stroke="#000" stroke-width="0.825"/>
<text x="233.22" y="348.00" font-size="10.61" text-anchor="middle" textLength="42.52" lengthAdjust="spacingAndGlyphs">2023-09</text>
<line x1="307.34" y1="332.30" x2="307.34" y2="336.36" stroke="#000" stroke-width="0.825"/>
<text x="307.34" y="348.00" font-size="10.61" text-anchor="middle" textLength="42.52" lengthAdjust="spacingAndGlyphs">2023-11</text>
<line x1="381.46" y1="332.30" x2="381.46" y2="336.36" stroke="#000" stroke-width="0.825"/>
<text x="381.46" y="348.00" font-size="10.61" text-anchor="middle" textLength="42.52" lengthAdjust="spacingAndGlyphs">2024-01</text>
<line x1="454.37" y1="332.30" x2="454.37" y2="336.36" stroke="#000" stroke-width="0.825"/>
<text x="454.37" y="348.00" font-size="10.61" text-anchor="middle" textLength="42.52" lengthAdjust="spacingAndGlyphs">2024-03</text>
<line x1="528.49" y1="332.30" x2="528.49" y2="336.36" stroke="#000" stroke-width="0.825"/>
<text x="528.49" y="348.00" font-size="10.61" text-anchor="middle" textLength="42.52" lengthAdjust="spacingAndGlyphs">2024-05</text>
<text x="298.50" y="363.00" font-size="10.61" text-anchor="middle" textLength="24.10" lengthAdjust="spacingAndGlyphs">Date</text>
<line x1="53.44" y1="55.35" x2="57.50" y2="55.35" stroke="#000" stroke-width="0.825"/>
<text x="49.28" y="59.51" font-size="10.61" text-anchor="end" textLength="32.25" lengthAdjust="spacingAndGlyphs">70000</text>
<line x1="53.44" y1="113.31" x2="57.50" y2="113.31" stroke="#000" stroke-width="0.825"/>
<text x="49.28" y="117.47" font-size="10.61" text-anchor="end" textLength="32.25" lengthAdjust="spacingAndGlyphs">60000</text>
<line x1="53.44" y1="171.27" x2="57.50" y2="171.27" stroke="#000" stroke-width="0.825"/>
<text x="49.28" y="175.43" font-size="10.61" text-anchor="end" textLength="32.25" lengthAdjust="spacingAndGlyphs">50000</text>
<line x1="53.44" y1="229.23" x2="57.50" y2="229.23" stroke="#000" stroke-width="0.825"/>
<text x="49.28" y="233.39" font-size="10.61" text-anchor="end" textLength="32.25" lengthAdjust="spacingAndGlyphs">40000</text>
<line x1="53.44" y1="287.19" x2="57.50" y2="287.19" stroke="#000" stroke-width="0.825"/>
<text x="49.28" y="291.35" font-size="10.61" text-anchor="end" textLength="32.25" lengthAdjust="spacingAndGlyphs">30000</text>
<text x="10.07" y="176.29" font-size="10.61" text-anchor="middle" textLength="27.77" lengthAdjust="spacingAndGlyphs" transform="rotate(-90 10.07 176.29)">Value</text>
<rect x="62.65" y="23.65" width="64.90" height="66.44" rx="2.08" fill="#fff" fill-opacity="0.8" stroke="#ccc" stroke-opacity="0.8" stroke-width="1.03"/>
<line x1="66.78" y1="32.19" x2="87.41" y2="32.19" stroke="#1f77b4" stroke-width="1.55" stroke-linecap="square"/>
<text x="95.94" y="35.65" font-size="10.61" text-anchor="start" textLength="25.19" lengthAdjust="spacingAndGlyphs">open</text>
<line x1="66.78" y1="48.03" x2="87.41" y2="48.03" stroke="#ff7f0e" stroke-width="1.55" stroke-linecap="square"/>
<text x="95.94" y="51.49" font-size="10.61" text-anchor="start" textLength="26.02" lengthAdjust="spacingAndGlyphs">close</text>
<line x1="66.78" y1="63.86" x2="87.41" y2="63.86" stroke="#2ca02c" stroke-width="1.55" stroke-linecap="square"/>
<text x="95.94" y="67.33" font-size="10.61" text-anchor="start" textLength="21.94" lengthAdjust="spacingAndGlyphs">high</text>
<line x1="66.78" y1="79.70" x2="87.41" y2="79.70" stroke="#d62728" stroke-width="1.55" stroke-linecap="square"/>
<text x="95.94" y="83.17" font-size="10.61" text-anchor="start" textLength="17.07" lengthAdjust="spacingAndGlyphs">low</text>
<path d="M721.7 113.8l.5 2.5 .3 1.1 2.2 1.3 .5-1.3 .2-2.6-.5-4 1.1-2 .2-4.2-.3-2.1 .3-1.6-.3-3.7 .7-1.7-.1-1.4 .6-5 .1-2.7 0-2.7 0-1.6-.2 3.8 .5 .8 1.1 4.7-.2 1.7-.1 4 .4 1.8-.2 3.5 .6 2.7 .3 .6-.4 2.3 0 2.4 .3 4.2-.2 2.9 .5 1.6 .2 3.2 .7-2.5-.2-2.4 .7-3.7 .6-2.6-.2-1 .5-1.7-.5-2.9 .6-3.4-.1-4.3 .4 0 .2-3.4 1-2.1-.2-4.1 .1 2 .5 3.7-.1 2.3 .7 1.7 .4-1.5-.6-2.4 .1-4.5 .7-.9-.2-2.6 .3-4.5-.1-3-.1-2.7 .8-.1-.4-5.5 .9-1.2-.4-2.8 .1 1.8 .4 4.4 0 1.3-.2 4.1 .1 1.3 1 1.5 .1 5 .1 2.1 0 1.7-.1-2.9 .3-1.4 .3-3.9 1-1.5-.3-3.7 .9-2.7-.1-1.8 .4-3.9 .4-2 .3 1.6 .3 5.1 1 1.5-.1 2.2 .2 2.1-.1 2.4 .9 4.4-.1 2.4 .7 2.3 .1 2.8 .1 1.9 .2-2.1 .2-3.4 .8-2.2 0-3.3 .1 4.1 .7 1.6-.4 2.7 .8 2.6-.1-2.1 .4-2.1 .3-2.7-.1-3 .5-2.1-.2-2.5 .7-3.1-.2-3.1 .5-1-.3-3.6-.3-1.4 .9-3.4-.1-1.7-.1-3 .5 1.4 .3 3.6 .2 1.8 .3 3.4 .3 2.2 .2 1.7-.2 1.4 .7 3.9 .1 2.5 .6 1.9 .3-4 .1-2.1-.2-2.9 .4-2.5 .1-3.1 .5-1.2 .1 2.3 .2 3.3-.3 3.6-.2 1.2 .4 2.7-.1 3.9 .4 .3 .3 2.9 0 3.4 .1 4.6 .3 1 .1 3.4-.4 1.1 .4 4-.1 2.5 .5-1.3-.2-4.6 .3-3.8-.7-1 .5-4 .1-.4-.2-4.1-.1-3.2 .8-2.4 .1-1.1-.4-4.7 .5-2-.5-3.2 .6-2.2-.6-2.8-.2-2.3 .4-3.7 .4-1.1-.7-3.6 .3-1.5 .6-4.8-.2-1.9 0 1.5 1 3.1-.2 3.1 .3 3 .4 1.2 .3 3.1 0 3.2 .2 2.3 0 3.3 .4 2.3 .5 3.4-.4 1.7 .6 4.8 .7 1.6-.2 2.6 .1 3.3 1.1 1.6 0 2.7 .4 2.8-.2 3.3 0 1 .6 2-.5 4.4-.2 2.6 .7 1.3-.3 3.6 .7 .7-.3 3.6 .1-2.4 .2-3.2-.2-1.8 .8-4.1-.5-.3 .7-3-.6-2.4 1.1-1.7-.1-5.4 .3-2-.2-1.7 .2-1.2 .2-5.1-.3-.2 0-3.4 .4-4 .3-2.9-.4-1.5 .1-3.5 .6-.5 .1-3.3 .6-3.6-.2-1.9 .4-1.9 .5-2.8-.6-1.4 .3-2.7 .6-2.8 .2 3.7 .3 1.5-.1 2.3 .3 3 .5 .6 .2 3.5 .2 1.8 1 1.5 .4 3.6 .2 1.7-.3-2.2 .1-4.3 .7-2.4 .3-1.9-.4-1.8-.2-2.8 .1-4.5 1-1-.6-4.4 .9-1.1-.1-4.2-.1-2-.3-2.8 .5-2.6 0-2.3 0 1.7 .5 4.3 0 2.1 .1 3-.2 2.9 .2 2.3-.6 1.6 .2 2.8 .7 4.1-.1 1.3-.2 5.4 .2 1.4-.1 1.7-.3 3 .3 3.4 .6 2.1-.6 3.1 0 2.8 .1 3.3-.2 4.1 .4 2.8 .4 1.9-.2 3.6-.3 1.9 .3 2.8 .5 1.2-.2 3.8-.3-4.2 .1-2.7 .3-.1 0-4.8 .1-2.8 .4-1.5-.6-4.3 .6-.7 0-4.3 .4-4.1-.8-.4 .4-5 .2 0 0-4.7-.4-3.6 .9-1.6-.3-2.7 .6 1.3-.4 2.6 .4 2.7 .1 3.6 .3 1.6 .4 4-.3-1.2 .3-4.1 .4-2.6-.1-3.3 .2-2 .9-2.5 .1-3.8-.6-1.7 .6-2.5 .1-2.5 .2-3 .6 3.6-.1 1.1 .8 1.7-.4 2.7 .3 3.9 .7 1.6 .6 2.2-.4 2 .4 2.8 .6 3.9 .1-2.4 0-4.2 .6-2.7-.3-2 .4-3.2 .2-2 .5-2 .4-2.4 0-2.9-.1-1.9 .4-2.3 .3-3.4-.1-3.3-.1 3.7 .3 .7-.2 2.8 .4 4.3 .1 .9 .7 4.2-.6 1.3 .2 3.6 .9 4.5-.2 1.4 .1 1.9-.1 3-.1 1.7 .3 5.1 .2 .4-.1 2.9 .2 3.5 .3 3.7-.8 1.3 .9 3.1-.5 2.6 .4 4.1-.2 2.8 .1 .1 .3 3.6-.3 2.9-.1-1 .4-3.7 .8-1.5 .4-3.6 .8 1.6 1 3.3-.3-1.2 .5 3.1 .3 .5-.5 1.7 .9 7.4-.2-.5-.5-3 .6 5-1.1-1.4 .2 6.9 1.1-3.4-.1 2.9-.1 6.8 0 1-.3-5.9 .2 7.2-.4-.3 .2-1.8 0 5 .3 4.7-.1 4.4 .7 1-.2-.8-.1 2.9-.2-.3 .4 .9-.5-2.6-.2 4.3 .6 3 .7 1.3 .8-5.6 .3 .7 1.1-1 .2-.7 .5 7 .1-.4 .8 2.1-.2-2.1 .3-3.9-.5-2.5 1.1-4.3 .3 1.3-.6-6.8 .2 .1 .4 1.4 .7 2.3 .8-4.2-.3-6.4 .6 2.2 .9 1.8 .6-.5 .3 2.4 .9-1.3-.5 1.9 .7 7.5-.3-1.1 1.1-2.5 0 4-.5-1 1.3 1.3 0-6.1-.3-.5 .9-3.9-.7 1.3 1.1-5.7-1.2-2.4 .9 3.1-.3-5.7 .6 1.3 .6 3 .6 2.3-.5-.8 1.1 1.6 .6 6-.6 .5 .6 2.3-.5-.7 .9-.5-.9-1.2 .2 .6 .1 6.6 .1 2.9 1 2.1-.3-1.5 1.1 3.6 .7 3.8 .2 1.6 .5-2.9-.5-5.5-.1-.6 .5 .8 .5 1.1-.8-4.9 .7-1.9-.6 .6 .5-.8 .2 1 .6-10.2-.2 4.6-.6-7.4 .3 .7 .4 3.8-.4-7.7 .2 2.3 .4-2.8-.6-3.9 .8 .1-1.1-2.6 .3 .8-.1-5.5 0 .4 1.3-1-.8 2.1-.3-7.1 .6-.3 .9-6.3 .4 1.9-.6-2.5 1.1 .8 .9-1.7 .9 .5 .3-2.8-.2 10.4 .5-3.3-.2-.3 1.4 5.4-.4-4.5 .1 8.4 .4-1.1 0 2.5 .8 2.1-.2-4.2-.7 8.7 .7 2.6 .7 2-.4 2.5 .6 .6-.7 .5 .6 3.5 .9-5.7-.5 4.4-.1-.6 .2 1.7 .3 .1-.6 4.8-.1 .8 1.2 6.5-.9-6.8 1 10.7-.3-6.4-.4 9.2 1-7-1 5.4 .5 2.3-.3 .8 .2-1.5-.3-4.2 1.2 .1-1.2-7.3 .8 .8-.4-.7 .4 3.1-.5-5.5 .1-2 .7-5.6-.4 3.8-.6-1 .6-4.3 .3 1.1-.8-4.5 0-2.7 .5-5.2 0 2.4 .5 2.9-.4-5.5 .5 2.3 .4-1.2-.9-9.6 .9-2.5-.6 4.6 .1-5 .6-2.6-.5 3.5-.6-6.3 .5 .4-.3-2.8-.2-5.2 .4-1.1 .9-.6-.9 3.4 .3-4.4 .5-3.9 .3 1.9-.4-1.5 0-5.1 1 .1 .2-4-.4 1.5 0 1.1 1 4-.4 .8 1.2 3.8 .1 2.5 .6-4 0-2.4 .4-1.1 .1-3.8 .6-2.9-.6-.9 .7-3.2-.2 1.1 .6 4.2 .7 2.7-.6 2.2 .7 2 .5-3.6 .1-2-.3-3.2 .7-.9 .3-2.6-.6-3.2 .5-1.6 .1 3.8 .2-.1 .5 2.4 .4 4 .5 1.1 .1 3.4 0 2.5 .8 2.3 .2 3.8-.1 .5 .7 3.2 .3 2.4 .5-2.5-.2-3.1 .3-1.4-.4-4.8 0-1.9 .8-3-.2-1.5 .5-4.2-.1-2-.6-1.8 .9-2.8-.7-1.5 .4-3.6 .2-3.1 .5 2 0 3-.1 1.9 .9 3.8 .4 1.7-.1 4.1 .1 1.1 1 4 .2 1.3-.1 2.1-.1 2.2 .3 1.2 .6 3.3-.2 3.1 1.1 3.7-.2 1.1 .2-3.6 .6-2.4 0-2.6 .7-1-.3-3.3 .4-1.7 .5 3.8 .3 .2 .5 4.6 .5 1.1 .8 1.7 1 .8 .5-3.3-.1-2.1-.6-4.1 .8-1.5-.4-1.4 .2-3.9-.3-2 0-3.6 .6-2.3-.6-3.9 .6-1.1-.5-2 .4-4.2 .1 1.8 .4 3.6 1 3.9 .3 1.7 .2-2.1 .4-3.1 .6-3.5 .7-2.3 1.8 0 0-1.7 .8-3.1-.2 3.3 .3 2.1 .4 2.2 .4 3.9-.5 .8 .7 2-.4 3.4 .7 1.7-.4 3.7 .2 3.6 .2 .5 .3 3.7 0 3.8-.4 3.4 .3 1.2 .1 3.3 .1 3.1 .1 1.5-.2 2.3 .4 5.1 .1 .6-.2 4.1 0 2.8-.3-3.5 1-.8-.6-2.7 .6-4 .1-3.1-.2-3.3 .5-1 .2-2.9-.2-3.2 .5-2.5-.1-2.2 .3-1.7 0-2.7-.2-3.7 1-2.7-.6-2.9 .7-1 1.2-2.4 .6 0 .4-2.2 .7-1.9 .1-2 .2 1.2 .4 4.8-.1 2.8 .1 2.3 .4 2.3-.7 3.4 .6 1.5 .6-3.6-.7-2.3 .2-2.6 .2-3.2 0-2.1 .5-1.8 .3-4.4 .7-.5-.3-3.9 .5-3.6-.1-2 .2-4 .3-.6 .5-2.4 .2-3 .4-2.3-.1-4 .5 2.5 0 3.4 .4 2.9-.3 1.2 .1 2.9 .6 4.3-.4 2.1 .5 2.6 .7-3.1-.4-1.9 .5-4.1 .3-3.1 .5-1.2 2.5 0 .5 1.6 1.3 2.1-.3 .9 .5 5.3 .4 .6 .1 1.7-.6 2.2 0 4.2 .5 2.1 .4-2.7 .2-2.6 .3-2.2-.2-3.9 .1-1.8 .6-3.3-.2-1.8 .7 2.8 1.1 .9 1.9 1.2-.1-2.3 .6-2.1 .7-2.9 .1 1.6 .1 3.7-.3 4.1 .4 1.1 0 2.3-.2 2.6 .2 5.3 0 .2-.1 4 0 1.8-.2 3.7-.2 3.5 .2 1.6-.1 2.8 .9 2.8-.8 2.9 .8 2-.5 3.1 .3 3.6-.5 4 .2 2.2 .2 3.4-.4 .8 .2 2.9 .3 3.5 .4-2.6-.4-2.7 .6-2.4-.3-2.4 .3-3.3-.1-3.5 .1-.4-.1-4.1 .4-2-.3-3 .6-3.9-.5-.5 .5-3.4 .5-4-.8-1.1 .3-2.6-.1-3.4 .2-3.1 .6-2.2 .2-1.7-.1-2.7-.4-3.9 .2-2.3-.1-2 .5-3.9 .3 3 1 2.6-.2 1.9 .6 1.1 1-3.2 .3-.2 .3-2.7 .8 1.8 1 3.1 .1-2.7 1.2-2.5-.2-1.8 .7-2.8 .5 2.4 .5 1 .6 2.7-.4 3.6 .8 .9 0 3.6 .1 3.6 .4 .8-.3 3.5 .2 2.3 .2-1.5 .3-4 .7-2.7 .7-2.8 .2 1 1.2 2.7 .6-1.7-.6-3.5-.1-3.5 .3 .1 .2-4.8-.1-2.9 1.1-.6-.4-3.2 .5 3.6 0 .9-.5 2.6 .1 2.4 .7 3.5-.6 2.1 1 4.3 0 2.2 .3 2.1-.3 2.5 .1 2.8 .1 1 .2 4 0 1.5 .4 3.5 .4 3 .7 2.6 .2 3.5 0 1.4 0 2.7 .4 3.2 .5-1.6 .5-4.4-.3-3.5 .8-2 .3-1.9-.1 1.5 .7 1.9 .9 3.3 .3 1.8-.2 3.4 0 3.3 0 1.7 .7 3.1-.2 3.1 .2 2.1-.5 1.2 .5 3.7-.4 3.3 .5 1.9 .1-2.8 .3-1.6 0-3.6 .5-2.5-.1-3.8 .4-1.8 .3-4.1 .1-1.7 .1-2.4 0-4 .9-2.9-.2-1.8-.2-2.6 .3-2.3 .6-2.3 .6-3.7-.3-.6 .5-4.4 .1-1 .1 1.5 1.1 2.6-.3 2.2 .6 2.2 .7-3.5 .7-1.4 .6-2 .1-3.3 .6-1.5 .1-4.1 .5 .7 .2 4 .2 2.2 .5 1.6 .1 3 .4 2.9 .5 2.8 0 2.6-.3 2.4 .6 1.1 .3 3.1-.1 3.6 .4 3.4 0 1.9 1.8 0 .6 3.8 .6 1.3 .6 2.2 .9-2.5 .1-.2 .2-3.4 0 2.9 1 1.3 .3 1.9 .4-1.3-.4-3.6 .6-1.8 .5-2.1 .1-4.7-.3 .1 .3-3.6 .5 3.4-.5 2.7 .3 2.3 .2 3.2 .2 3-.1 1.2 .2 2.8-.5 3.9 .4 1.2-.2 1.7 1 2.9-.3 3.3-.1-1.7 .1-3.1 .4-2 .1-4.4-.1-2.6-.2-3.4 .3-2.1 .7-.8-.3-4.7 .3-2-.1 3 .3 1.1 .1 3.1-.2 4.1 0 1.6 .8 2.9 .2 2 .2 1.8 0 3.7-.7 2.1 1 4-.1 2.9-.6 1.1 .6 3.2 .1-1.5 .6-5 .3-1.5-.5-4.1 .3-1.4 .2-3.3 .6-2.2-.4-1.8 .4-3.6-.1-2.9 .1-3.2 1.2-1.6-.3-2.5 .3-3.2 .4-2.5-.1-3.7-.1-2.7 .6-2.9 .5-1.6-.2-2.7 .5-2.9 .2-1.7 1.8 0 1.3 1.8 .5 1.9 1.3-1.3-.3 1.6 .9 4.2-.4 3.2-.1 3.3 1 2.2-.8 2 .6 3 .5 2.9-.5 1.6 0 3.4 .2 2.4 .8 4-.2 2.3 .1 1.7 0 3.4 1.2 .6 0 2.1 .7-.4 .3 1.9 .1 6.5 .2 .5-1-2.7 1 7.6 .2-6.7-.2 4.5-.1 .4 .6 4.2 .1 .5-.2 2.1 1 3.4-.2 4.9-.9 1.2 .1-4.9 1 7-.1-1 .2 1.2-.6-.3-.1-.1 1.3 10.5-.8-3.5 0 5.2 .4-4.2 0 4.9 .8 2.5-.9-6.1 .5 .2 .5-4.9 .2 1.5 .5-2.8 .3-1.4 .4 1.3 .5 1.3-.1 6.3-.1-1.7 .4 2.8-.7-1.2 .1-2.3 .9 4.6-.5-1.3-.2 7.8 .6-.7 .6 6.1-.1-2.3 .3-4.3 .5-2-.5 2.8-.4 .7 .5-3.3-.6-.4 .2-3.7 .7-4.5-.6-1.5 1 1.5-.6-2.6 .3-4.5-.8-3.1 .8 3.1 .6-1.4-.2 1.9-.4-7.1 0-2.1 .4 .4-.8 2 .6-6 .5 3.6 .5-.3 .4 .3 .3-5.2-.4 4.5 .5-7.3 .9 4.5 .1-5-.7 2.1 .4-2.4 .8-5.3 0 .7 .5 1.5 1.9-.2 1.2-1.1 .6-.7 .4-5-.2 .5-.1-2.8-.3 .8 .7 2 .1-5.5 0-1.5 .4 2.8-.3-1.9 .6 2.7-.8-.5 .6 6.5 .5-.3 .4 0-.5 5.7 .5-1.6 .5-2.3-.4 9.6 .6-4.8 0 4.8-.3 1.2 .8-3.3-.3 1.4 .6-4.6-.8-3.8 .6-2.2 .3-.9-.8 6 .6-3.5-.1-6.6 .1 5.4-.1-2.4 1-3.8-.7-1.2 1-3-.8-1.5 .5-2.8 .7 2.6-1-2.1 .8 .2-.8 4.8 .5 2.8-.1 2.4 .9-.7 0 3.7 .4 2.1-.1 1.6 .4-2.8-.9 9.1 1.1-6.6 .2 7.4 .1 2.6-.4-.3 .1-5.3 .9 4.1-.1-5.8 .1 4.7 .5-8.6 .3 1.2 .9 3.1-.9-9.1 1 .3-.1 1.4-.1-2.4 .2-5.1 .7 .4 .1-.8 .7-1.8 .1 2.8-.7 .2 0 10.1 .2 .2 .9 .4-1-.9 0-.1 .4 .9 .5 5-.4-.9-.2 .3 .5 1.3 .2 3.4 .5 1.8 .2 8.2 .2-5.3 0 4 .1 1.6-.4-.3 .3 2.7-.2 3 .6 .3-.6-8.2-.1 2 .2 0-.4-2.8 1.3 3-.2-4.3-.1 1.4 .4-6.9-.4 2.9 .2-4.9-.3-1.1 .3 1 .8-1.1 0-10.9-.5 2.8-.2-2.8 1.6 .9-.4-5.6 .8 2.6 0-2.2 .1 7.4 .4-4.2 .9 1.1 .6 6.4-.2 0 .6 .5-.1-6.1-.4-.5 0 3.4 .2-2.8 .3-8.5-.5 3.1 .9-5-.7-.3 .3-1.2 .7 .1-.8-4.2 .4-3.4-.1-2.6 .4 6 .4-4.2-.6-2.1 .3-5.3 0 1.4 .1 1.7-.4 1.1 .9 3.6-.6-2.2 .4 4.7-.4 .8 .3 3.2 .7-.8-.4 3.5 .2-1.4-.5 8.2-.1-.6 .2-.2 .3-.8-.3 8.6-.1-6.2 1 3.9-.7 5.6 1.2-3.8-.3 3.4 .4 3.6-.1 2.3-1-.4 .9-1.1-.8 9.7 1.2-1.6-1.1 2.1 1.3 2.5-.3-1.7-.2 2.3 .2 2.4-.1-9.8-.5 6.8 .8-1.8-.7-9.6 .8 1.4-.3-3.5 .4 3.6 0-5-.3-2 0-2.3 .1 4.4 .5-9.5-.2 4.9-.4-1 .9-9.5-.4 1.3-.2 0 .6-.9 0-5.3-.1-.3-.8 2.3 .6-7.2 .5 .9-.3 3.1-.4-5.9 .3-4.1 0 4.9 .3-8.4 0 1.7-.4-1.1 .1-.6 0-1.2 .2-4.8-.2-1.5 .2 1.2 .8 10-.5-5.7 .7 7.5-.8-3.6 .5 0-.3 4.1 0-.8 .8 3.2 .5 7.9-.2-4.9 .2 2.2 .2 2.4-.1 4.8 .1 1.7-.4-4.2 .3 5 .1 2.8-.2-8 .6-.1 1.1-4.1-.8-3.1 .6 5.3 .4-3.8 .1 3.1 .1-1.1-.1-1.5 .9 8.3-1.2-3.4 1.1 4.6 0 4-.8 2.3 .2-4.9 .8 8.1-.5-2.5 .6 .8-.3 8.4-.4 1.2 1.2 2.1-.9-6 .5 4.5 .1-1.5 .9 5.5 .1 .8-.3 6.1-.3-5.4 1.2 5.1 .1 5.6 .2-2.1-.2 .6 .5-1.4-.7-3.7 1.1 .3-1.1-.6 1.5-1.8-.6-3.3 .3-.2-.1 1.1 .7-2.8-.2-2.3-.6-3.9 .2-4.4 1.1-1.4-.1 4.1-.4-9.4 .2 2.9-.4 3 .9-1.1-.1-.2 .1 7.6 .3-.5-.3-3.7-.3 5.5-.2-1.6 1.3 7.6-.5 1.7 .5 1.1-.5-.7 .8 7.1-1.1 .3 .8-2.9 .1 1-.2 3.8 .5-1.1-.2-6.5 .5 7-.1-8 0-3.3-.1 .5-.1-2.1-.4-.3 .3-4.1 .2-2.2-.4 6.6 .2-2.4 .6-9.1 0 2.1-.4-1.3 0-4 1.1 3.6-.7-5.9 1.2-2.5-1.1-2.3 1.1-.7-.2 4.1-.1-5.9 .4-4.5 .1-.4 .3 1.1 1-.9-.3-.4 .3-4.6 0-1.3 .3 2.4-.6 2.7 .4-1.7-.1 10.5 .2-4 0 4.8 .1-1.1 .2 .4 .1 3 .1 1 0 .1-.2 4.5-.6-1.8 .6 7.8 .5 2.4 .1 2.8-.8-6.2-.1 7.8 .1-2.9 0 7.4 .1-4.9 .6 6.2-.7 .5 .7 1.4 0 3.9 .5 2.3-.7-6.2 .3 1.5 .3 6-.2 1.8 .6 1.8 .2-2.8-.3-1.2 .7-6.3 0 1.2 .7 1.3-.3-1.1 .6 4.1 .1 5.1-.1-.9 .1-1.9 .6 8.1-.9-7 .8 2 .2 5.6 .1-3.2-.1 2.6 .7-.2-.4-6.8 .7 2.2-.1-7.3 .1 2.1 1-.8 0 .1-.4-4.7 .3-1.7 .7 3.7-.4-3.7 .7 2.6-.4 1.1 .8 5.3 .6 1-.5 4.3 .3-2.1-.4-.8 1.4-4.1-1-3.7-.1 4.3 .7-.8 .8-9.2-.6 .6 .1-3.9 .1 1.4 .5 .2 .8-5.7-.5 2.2-.1 2.4 .6-5 .3 2 1.3-4.6-.3-2.1-.1-2.5 1.3 .7-.1-2.9 .8-.2-.4-2.5 1.3-1.6-.3-3.7 .6 .9-.2 1.9 .1-8.2 .7 4.8 0-3.8-.5-3.1 1.2-.1-.6-5.3-.1 2.7 1-.9 .2-4.1-1.2-2.3 .5-4.4-.3 6.6 1.2-9.2-1 6.5 .2-8.1 .1-2.6 .5 1.2-.5 1.2 1.1-2.1-.3 2.3 .5 9 .3-1.9-.9 3.4 0 2.2 .4 2.8 .1 .2 .4-3.2 .1 3.5-.4 2.8 .7 3.1-.2 .8-.1 .8 .2 4.2 .4-1.1-.3-3.6 0-1.5 .7-2.3-.4 4.8 .3-8.1 .3 4.4 .6-1-.2-7.1 .1-4.3 .3 5.9 .5-1.6-.3-1.9-.4-3.9 0 2 .6-8.9 .1 1.5 .8 2.7-1 3.8 .8-.6 .5-1.3-.7 4 0 2.9 .5-3.2-.3 1.2 .7 8.8 .5 1-.2 1.1-.2-2.6 .4 2.9 .7-4-.2 1.3-.6-1.6 1.2 1.4-.4-1.5-.3-1.6 1.1-2.6-.2-3.8 .7-5.1-.7 3.4 1.1-6.7-.3 1-.1 1.6 .4-4.9-.2 4.2 .3-4.5 .9 1.6-1 .5 .4 1.5-.1 10.4 .2-.6 .1-5.2-.2 2.7 .8 5.2 .8 1.2-.9-2.2 .6 4.2-.5 2.9 .8 .7-.1 .2 .1 .3 .6 10.2-.4-2.7-.1 4.3 .3 1.3-.1-1.4 .5-.4-.4 2.2-.1 7.7 .2 .5-.3 3.4 .7 0 .2-.7-.4-.5 1.1-4.6-.8-.6 1.1 2.1-.9-5.7 1.4-1.9-1 4.1 .7-5.1 .7-2.1 0 1.5 .4-7 .1 5.6 .3-5.4-.3 2.9 1.1-3.2-.5-4.5 .9 3.8 .9-3.8 .6-1.6-1-.6 .1-4.3 .6 0 .2 1.5 .5-6.6 0-1.5-.8 2.6 1-4-.2 1.4-.7-3.6 1-7.4-1.1 6.6 .6-6 .4-1.4-.9-2.5 1 1.1-.4-7.6 .8-1-1 5.2 1-2.6-.7-1.1 .4-3.2-.1-2.4 .5 2.2-.3-1.2 .5 .3-.9 6.7 .1 4 .3-2.3 .2 1.9 .6-1.1 0 9.1-.4-5.5 .2 .6-.2 9.8 1.5-7.1-.1 6.8-.7 4.6 .5-2-.4-.2 1-1-.5-6.8 .7-.2 .2 2.8-.7-1.7 1.5-4.7-.4-2.2 .6-2.6-.9 1.1 .7-1.5 .1-1-.2 1.8 .6-6.8 .4-5 .4 6-.8-5.2-.2 1.6 1.4-3.5-.5-2.6 .7 2.5 .1 3.7 .2 1.4-.2 1.3 .6 2.7-.2 4.1-.2 1.8 .3 1.5 .3 3.7 .2 2.9 .4 3.3 .5 3.2-.5 1.9 .6 3.2-.4 1.3 .7 2.7 .4 2.9 0 1.7 .4 5.4-.2 1.2 .5-3.1 0-.8-.6-5.5 .6 .1-.5-3.2 .7-3.8-.4-2.6 .5-3.6 .5-1.1-.6-3.1 .5-1.7 .5-2.9-.9-4.1 .2-1.7 .1-2.5 .6-3.3 .4-2-.3-3.8 .4 3.1-.1 2.3-.4 1.8 .8 3.3-.1 4 .1 2.4 .5 3-.4 2 .3 2.6-.2 1.5 .3 4.5 .6 1.5 0 2.9 0 2.9 .3-3.5 0-.6 .8-5.3-.5-.5 .5-3.4 .4-2.9 .5-4.1-.1-1.7 .5 1.9-.6 2.6 .6 4.1 .2 3-.2 .8 .5 3.2 .3 2.3-.4 3.4 .8 .4 .2 2.3-.1 4.1 .3 2.9-.3 .9 .1 4.2 .4 3.1-.2 2 .2 .8 0 2.8 .1 2.3 .9 3.6-.3 3 .3-3-.2-3.3 .5-2.9 .1-1 0-4.8 .2-1.1-.4-3-.1-1.6 .6-2.8-.7-4 .6-3.8 .2-1.1-.7-4.1 .7-1 .3-4.5-.1-1.9-.4-3.8-.2-3.3 .4-2.5-.1-2.2 0-3.1 .1-.4 .4-4.2 .4-1.7 .6-1 .5-3.4 .5-1.4 .1-3.3 .1-4-.2-2.7 .4-2.9 .2-2.8-.6-1.2 .4-4.3-.4-.7 .2-3.9 .7-2.8-.3-3.6 .2-1.7 1 2.3 .3 1.4 .5 2.3 1.1 1.5 .7 2.2-.1 2.2 .9 4.3-.1 2 .7 2.7-.2 2.2 .7-3.2 .1-.9-.1-2.9-.2-4.2 .1 .2 .6-3.6 .2-2 .3-1.5 .5-3.8 .1-2.8 .2-1.5 .7 1.5 .3 3.7-.5 3.9 .4 1.6 .3 .9 .6 3.6 1.2 0 .6-2.4 .8-2.1 .1-4.1 .8-2.1-.1-2.1 .4 1.2 0 4 .4 2.3 .2 1.3 .4 4 .8 2 .1 2.5 1 2.8 .3 3.6-.2 .8 .3 4.3 0 3.8 0 1.5-.2 1.6 .2 2.9 .1 2.5 .9 4.2-.3 2.7 .1 2.6 .1-1.5 .7-4-.4-3.9 .3-.5 .3-3.4 .8-2.5 .2 2.2 0 4.4 .9 2.1-.2 3.2 .3 .5 0 3.4 0 1.4 .2 3.2 .9 1.9-.3 2.8 .7 4 .4 1.3 .5-1.7-.5-2.7 .1-3.3 .4-3.8 .1-2.6 .4-2.7 .1-2.9-.7-1.9 1-2.1-.2-3.1 0 2.8 .3 3.3 .2 1.3 1 2.4-.6 3.6 .5 3.5 .4 2.6 .2-3 .5-.4-.1-2.7 .3 1.1 .5 3 1 2 .4-1.8-.2-2.1 .9-3.7-.5-3.4 .8-2.8 .1-.6-.4-4.2 .8-1.5-.1 2.5 .8 3.7-.3 .2 .3 3.2 0 4.8 .1 1 .6 4.3-.4 1.5 .8 1.3 0 3.7-.5 .1 .4 5.2 1 1.3-.7 4.9 .8-3.7-.6 2.4-.4 2.9 .9 .1-.1 5.8 .1-.4 .4 2.1-.5 3.8 .8-6.7 .1 2.5-.1 6.2-.4 .3 .5 .1-.5 0-.1 .9 .2 8.4 .6 1.9 .8-2.4-1 5.9 0-2.1 1.2-2.2-.7 6.7-.1 3.6 1-1.4 .2-2.5-.3 5.1 1-.9-.2 1.4 .5-8.6 .5 3.2 .5-6.1-.1 .1 0 .3 .5 .5-.3-5.5 .7-3.2-.1 4.7 .2-8.4-.6 4.3 1.2-1.7 .4-1-.5-3.5-.1 6-.1-6.5 .2 .8 .4 6.5-.5 2.4 .5 2.5 .5 2.5-.1-5.1 0 7.1-.5-1.2 .5 .7-.5 1.7 .5 6.3 .9 2.4 0 2.9-.5-1.9-.6 2.6 1.2-1.9-.2-.8 .5 4.8-.6-.4 .7 8.7-.6-2.5 .2 1.4 0 .4 .7-.2-.6-4.9 1.6-6.2-.2 1.9-.5-2.3 .8 .3 .8-4.4-.6 4.6-.3-9.7 .8 4.1-.7 .4 1.2-4-.6 1.5 .1-.9 .6-2.5 .1-4.6 .7-3.3-.8 3.5 1.1-9.8-.6 2 .8 4.1-.8-3.4 0 7.4 .3 1.6 1.2 3.1-.8-.1 .2-5.1 1.3 1.9-.3 5.1 .9 5.9 .3-4.2 .6 1.9 .6-.2 .2-1.1-.7-7.8 .7 5.2-1-2.3 .2-4-.1-5 .5 4.5 .4-.3 .3-2.7-.8-1.3 .7-7.9-1 6 .3-2 1.2-5.9-.6-5-.6 5.9 .9-7.3-.6-3.3 .9 .2-1 3.7 .7-4.7 .2-4.4 .8 .7 .4-.3 .4-.9 .3-.7 .1 8.2-.3-3.6 .6 1.9 0 3.2 .9-3-.5 9.5-.4-1.2 .6-.3 .7-.8-.1 3.9-.5-.3 1.4-3.5 .1-1.1-.2-.2 .3-1.8 0-1-.5-.1 .7-5.3 .1-3.2-.4 3.9 .5-5.7-.3 .3 .6 3-.7-.5 1 .4-.4 1.4-.5 10 .6-3.2-.5-1.3 .7 9.1 .6-3.5-.5 0 .5 .9-.7 2.2 .6 8.1-.4-3.5 .8-.5-.2 3.8 .2 1 0 7.4-.7-4.5 .5 .4-.1 3.9 .2-.3 .1 3.3-.1 6-.5-2.1 .5 3.3 .4 .3 .3-8-.6 1.6 .8-.2-.7-4.8 .3 .2-.5 1.2 1.3-3.7-.5 2.9 .8-.7-.1-9.1-.5 0 .7 2.7-.3-4.3 .6-4.9-.6 6.5 .3-5.4 .3-.3-.4-.7 1.4-2.7-.6-1.5-.1-.8 1-3.3 .1-.6-.1-3.4 .5 2.2 .1-1.6 .1-9.6-.5 6.3 0-2.1 1.1-8.6 .4 3.9-.8-5.3 .8 1 0 .6 .1-5.1-.1 5 1.1 1.6-.6-4.3 .3 3.1 .4-1.4-.3 1.6-.1 3.7 .8 6.2-.1 2.5 .4-2.1 .6 5.6 .6-3.2-.2-3.3-.2 2.8 .7-.1-.1-3.5-.5 0 0-8.8 1.3-2.8 0 7.2-1.2-7.1 1 3.6-.3-2.2-.1-3.2-.5-2.6 .3-1 .1-8.3 .3 .3 .1-3.8-.1 .4 0 2.1 .5-2.9-.4-3.5 .3 2.7-.4-7.6 .6-.3 .2 1.2-.9-3.7 1.2 3-.4-.1 .5-3.6-.1-4.4-.5-1.7 .6-.4 .2 8.3-.2 1.4-.1-1-.8 2 .1 3.3 1 1.4 0-4.1-.2 3.6 .5 2.7-.6 2.8 .5 .8-.5 1.9 .3-3.7-.3 2 .4 1.3 .4 6.2-.9 2.7 1-4.8 0 5.9 .3 5.9-.4 .4-.5 1.1 .5-.7 .4 .8-.1-6.6 .1-2.3 .6 3.3 .1-.5-.2-3.4 .9-1.4-.7-4.9 .7 .4 .1 2.2 .6 3-.2 4.5 .6 2.7 .1 .4-.1 5.1 .7 1.6 .4 1.2 1.4 3.7 .3-2.9-.4-2.9 .6-3.1 0-2.4 .2-.7 .3-3 .3-4.9-.5-.2 .5-3.8 .5-3.1-.2-1 .3-4.8 0-1.4-.1 3.8 .4 1.4 .5 3.1 .1 1.9-.2 3-.4 3.6 .6 1.7 0 3 .3 2.9 .2-1.3 .1-2.8-.3-5.4-.1-.3 0-2.9 1-2.7-.5-4.4 .5-2.8-.8-1.8 1-1.2-.4-5.5 0-1.6 .3-2.9-.2-1.2 .5-4.6-.2-3.3 0-2.8 .1-1.2 .3 2.2 .6 3-.6 3.3 .5 2 .6 2.1 0 1.6 0 2.6 .4 3.9 .3 2.4-.1 2 .1 4.3 1.1 .5 .3 3.7-.2 1.7 .1-3.3 .4-1.1 .2-3.8 .2-3.5 .1-.4-.7-5.1 .8-1.2-.4-4.7 .9 .2 .2-5.4-.1-1.6-.2-3.1 .5-2.4-.4-3.8 0-1.6 .6-2.4 .3 2.9 .3 3.6 0 1.7-.3 3.2 .2 1.1 0 3.6 0 2.8 .1 3.1-.2 1.3 .8 4.5-.6 3 .5 1.2-.4 2.3-.2 2.9 1 4.8-.2 2.8-.5 1.4 1 1.8-.9 4.8 .5 1.4 .3-1.4-.5-3 .7-2.6-.2-5.2 .4-1.8-.3-3.2 0-1.4 .8-4.2-.4-.5 .1-3.4 .1-2 .5-4.9-.1-.9 0-4.3 .3-3.1-.3-2.4 .4-.6 .7-3.9-.3-2.4 .4 3.6 .4 .9-.1 4.7 .2 .1 .3 4.8-.1 .5-.3 2.5 .6 4.5-.3 3.3 .5 .6 .2 3.7 .3 2-.2 2.5 .8 2.4-.4 2.8 .6 4.3 0 1.1-.3 5 .8 .1 .2 5 .1 1.7-.1-1.4 .1-4.2 .5-1.1 .2-3.4 .4-4-.1-2.1 .1-3.5 0-.3 .9-5.2-.2-1.7 .7 2.2-.1 3.1-.1 2.5-.3 2.9 .4 3.9 .5 .7 .4 3.6 0 3.1 .2 1.1 .3 4.3-.2 1.9 .4-1.9-.5-1.9 .6-2.8-.3-4.4 .6-.6-.1-5.1-.3-1.5-.2-3.2 .7-.8 .2-2.7-.4-2.7 .1-4.5 .5-2.6-.1-1.9-.2 3.3 .3 2.5 .3 2.3 1 2.4-.4 4.1 .9 1.4 .1 2-.5 2.7 .8 4.3 .2 1.8-.3-3.8 .3-2.3 .2-1.3 .1-2.7 .4-2.2 .1-2.6-.1-4-.1-3.7 .3-.8 .6-3.9-.4-3.2 .3-2.3 .6-2-.6-3.1 .3-1.6-.2-3.2 .2-3.9-.1-3.2 .6-1.9 0 1.8 .5 2-.2 3.8 .4 2.7-.2 1.5 .8 4.7-.4-.2 .5 3.8 .6 4.1-.3 2.6 .4 2.5-.4 0 1 4.1-.6 3.6 .1 .9 .9 4.3 0 2.3 .1 2.4 .6-2.9 .2-1 .4-1.7 .7-3 .5 3.2-.6 1.7 .6 3.2 0 1.5 .1 3.8-.1 4.6 .8 2.6-.4 1.9 .7 1.5 0 4.1 .1 2.2 .1 2.6-.2-3.4 .2-2 .2-3.7-.3-.3 .4-3.1 .6-4.9-.6-2.6-.1-2.7 .7-1.3-.3-3.3 .5-2.1 .2-2.7-.5-4.6 .7-1.8 .1-1.9 .1-2.8-.2-2.2 .3-4 .3-3.1-.3-2.3 0 3 .8 1.6-.5 2.4 .5 3.9 0 2.4 0 3.4-.1 2.4 .2 2.9 .5 2.4 0 3.9 0 1.9 .9 2.3-.4 3.7 .3 3 .5 1.1-.2 3.6 0-2.9 .1-2.3-.2-3.8 .1-2.3 .1-3.2 .7-1.8-.6-4.4 .4-1.2 0-4.5 .1-.5 .1-3.2-.2-3.6 0-1.6 .5-3.5-.1-3.5 .5-3.5-.3-2 0-2.2 .4 4 0 1.8-.2 3.3 .4 2.2-.3 .9 .9 2.1-.6 3 .9 4.2-.3 1.7 .8 3.1-.2 1.7 .3-2.8-.2-3.4 .5-2.7 .3-2.9 .1-2.9 .2-.7 .4-4.2 .2-3.6-.4-2.3 .2-3.5 .2-1.4 .3-2.5 .9-3.2 .6-2 .1-3.3 .3 3.8-.3 2.5 .2 1.3 .3 4-.5 2.8 1 .7 0 3.9 .1 2.6-.4 3.6 0 1.4 .4 3.1-.5 2.6 .9 4.1-.6 2 .5 1.8 .3 5.1 0 2.2-.2 1.1 .4 4.6-.1 1.6 .5-3.8 .5-.5 0-4.9-.3-3 .9-1.5 .4-3.9-.2-1.9 .3 2.1 .8 4.2 .3 2 .2 2.7" fill="none" stroke="#1f77b4" stroke-width="2.25" stroke-linejoin="round" />
<path d="M721.7 139.5l.5-2.5 .3-1.1 2.2-1.3 .5 1.3 .2 2.6-.5 4 1.1 2 .2 4.2-.3 2.1 .3 1.6-.3 3.7 .7 1.7-.1 1.4 .6 5 .1 2.7 0 2.7 0 1.6-.2-3.8 .5-.8 1.1-4.7-.2-1.7-.1-4 .4-1.8-.2-3.5 .6-2.7 .3-.6-.4-2.3 0-2.4 .3-4.2-.2-2.9 .5-1.6 .2-3.2 .7 2.5-.2 2.4 .7 3.7 .6 2.6-.2 1 .5 1.7-.5 2.9 .6 3.4-.1 4.3 .4 0 .2 3.4 1 2.1-.2 4.1 .1-2 .5-3.7-.1-2.3 .7-1.7 .4 1.5-.6 2.4 .1 4.5 .7 .9-.2 2.6 .3 4.5-.1 3-.1 2.7 .8 .1-.4 5.5 .9 1.2-.4 2.8 .1-1.8 .4-4.4 0-1.3-.2-4.1 .1-1.3 1-1.5 .1-5 .1-2.1 0-1.7-.1 2.9 .3 1.4 .3 3.9 1 1.5-.3 3.7 .9 2.7-.1 1.8 .4 3.9 .4 2 .3-1.6 .3-5.1 1-1.5-.1-2.2 .2-2.1-.1-2.4 .9-4.4-.1-2.4 .7-2.3 .1-2.8 .1-1.9 .2 2.1 .2 3.4 .8 2.2 0 3.3 .1-4.1 .7-1.6-.4-2.7 .8-2.6-.1 2.1 .4 2.1 .3 2.7-.1 3 .5 2.1-.2 2.5 .7 3.1-.2 3.1 .5 1-.3 3.6-.3 1.4 .9 3.4-.1 1.7-.1 3 .5-1.4 .3-3.6 .2-1.8 .3-3.4 .3-2.2 .2-1.7-.2-1.4 .7-3.9 .1-2.5 .6-1.9 .3 4 .1 2.1-.2 2.9 .4 2.5 .1 3.1 .5 1.2 .1-2.3 .2-3.3-.3-3.6-.2-1.2 .4-2.7-.1-3.9 .4-.3 .3-2.9 0-3.4 .1-4.6 .3-1 .1-3.4-.4-1.1 .4-4-.1-2.5 .5 1.3-.2 4.6 .3 3.8-.7 1 .5 4 .1 .4-.2 4.1-.1 3.2 .8 2.4 .1 1.1-.4 4.7 .5 2-.5 3.2 .6 2.2-.6 2.8-.2 2.3 .4 3.7 .4 1.1-.7 3.6 .3 1.5 .6 4.8-.2 1.9 0-1.5 1-3.1-.2-3.1 .3-3 .4-1.2 .3-3.1 0-3.2 .2-2.3 0-3.3 .4-2.3 .5-3.4-.4-1.7 .6-4.8 .7-1.6-.2-2.6 .1-3.3 1.1-1.6 0-2.7 .4-2.8-.2-3.3 0-1 .6-2-.5-4.4-.2-2.6 .7-1.3-.3-3.6 .7-.7-.3-3.6 .1 2.4 .2 3.2-.2 1.8 .8 4.1-.5 .3 .7 3-.6 2.4 1.1 1.7-.1 5.4 .3 2-.2 1.7 .2 1.2 .2 5.1-.3 .2 0 3.4 .4 4 .3 2.9-.4 1.5 .1 3.5 .6 .5 .1 3.3 .6 3.6-.2 1.9 .4 1.9 .5 2.8-.6 1.4 .3 2.7 .6 2.8 .2-3.7 .3-1.5-.1-2.3 .3-3 .5-.6 .2-3.5 .2-1.8 1-1.5 .4-3.6 .2-1.7-.3 2.2 .1 4.3 .7 2.4 .3 1.9-.4 1.8-.2 2.8 .1 4.5 1 1-.6 4.4 .9 1.1-.1 4.2-.1 2-.3 2.8 .5 2.6 0 2.3 0-1.7 .5-4.3 0-2.1 .1-3-.2-2.9 .2-2.3-.6-1.6 .2-2.8 .7-4.1-.1-1.3-.2-5.4 .2-1.4-.1-1.7-.3-3 .3-3.4 .6-2.1-.6-3.1 0-2.8 .1-3.3-.2-4.1 .4-2.8 .4-1.9-.2-3.6-.3-1.9 .3-2.8 .5-1.2-.2-3.8-.3 4.2 .1 2.7 .3 .1 0 4.8 .1 2.8 .4 1.5-.6 4.3 .6 .7 0 4.3 .4 4.1-.8 .4 .4 5 .2 0 0 4.7-.4 3.6 .9 1.6-.3 2.7 .6-1.3-.4-2.6 .4-2.7 .1-3.6 .3-1.6 .4-4-.3 1.2 .3 4.1 .4 2.6-.1 3.3 .2 2 .9 2.5 .1 3.8-.6 1.7 .6 2.5 .1 2.5 .2 3 .6-3.6-.1-1.1 .8-1.7-.4-2.7 .3-3.9 .7-1.6 .6-2.2-.4-2 .4-2.8 .6-3.9 .1 2.4 0 4.2 .6 2.7-.3 2 .4 3.2 .2 2 .5 2 .4 2.4 0 2.9-.1 1.9 .4 2.3 .3 3.4-.1 3.3-.1-3.7 .3-.7-.2-2.8 .4-4.3 .1-.9 .7-4.2-.6-1.3 .2-3.6 .9-4.5-.2-1.4 .1-1.9-.1-3-.1-1.7 .3-5.1 .2-.4-.1-2.9 .2-3.5 .3-3.7-.8-1.3 .9-3.1-.5-2.6 .4-4.1-.2-2.8 .1-.1 .3-3.6-.3-2.9-.1 1 .4 3.7 .8 1.5 .4 3.6 .8-1.6 1-3.3-.3 1.2 .5-3.1 .3-.5-.5-1.7 .9-7.4-.2 .5-.5 3 .6-5-1.1 1.4 .2-6.9 1.1 3.4-.1-2.9-.1-6.8 0-1-.3 5.9 .2-7.2-.4 .3 .2 1.8 0-5 .3-4.7-.1-4.4 .7-1-.2 .8-.1-2.9-.2 .3 .4-.9-.5 2.6-.2-4.3 .6-3 .7-1.3 .8 5.6 .3-.7 1.1 1 .2 .7 .5-7 .1 .4 .8-2.1-.2 2.1 .3 3.9-.5 2.5 1.1 4.3 .3-1.3-.6 6.8 .2-.1 .4-1.4 .7-2.3 .8 4.2-.3 6.4 .6-2.2 .9-1.8 .6 .5 .3-2.4 .9 1.3-.5-1.9 .7-7.5-.3 1.1 1.1 2.5 0-4-.5 1 1.3-1.3 0 6.1-.3 .5 .9 3.9-.7-1.3 1.1 5.7-1.2 2.4 .9-3.1-.3 5.7 .6-1.3 .6-3 .6-2.3-.5 .8 1.1-1.6 .6-6-.6-.5 .6-2.3-.5 .7 .9 .5-.9 1.2 .2-.6 .1-6.6 .1-2.9 1-2.1-.3 1.5 1.1-3.6 .7-3.8 .2-1.6 .5 2.9-.5 5.5-.1 .6 .5-.8 .5-1.1-.8 4.9 .7 1.9-.6-.6 .5 .8 .2-1 .6 10.2-.2-4.6-.6 7.4 .3-.7 .4-3.8-.4 7.7 .2-2.3 .4 2.8-.6 3.9 .8-.1-1.1 2.6 .3-.8-.1 5.5 0-.4 1.3 1-.8-2.1-.3 7.1 .6 .3 .9 6.3 .4-1.9-.6 2.5 1.1-.8 .9 1.7 .9-.5 .3 2.8-.2-10.4 .5 3.3-.2 .3 1.4-5.4-.4 4.5 .1-8.4 .4 1.1 0-2.5 .8-2.1-.2 4.2-.7-8.7 .7-2.6 .7-2-.4-2.5 .6-.6-.7-.5 .6-3.5 .9 5.7-.5-4.4-.1 .6 .2-1.7 .3-.1-.6-4.8-.1-.8 1.2-6.5-.9 6.8 1-10.7-.3 6.4-.4-9.2 1 7-1-5.4 .5-2.3-.3-.8 .2 1.5-.3 4.2 1.2-.1-1.2 7.3 .8-.8-.4 .7 .4-3.1-.5 5.5 .1 2 .7 5.6-.4-3.8-.6 1 .6 4.3 .3-1.1-.8 4.5 0 2.7 .5 5.2 0-2.4 .5-2.9-.4 5.5 .5-2.3 .4 1.2-.9 9.6 .9 2.5-.6-4.6 .1 5 .6 2.6-.5-3.5-.6 6.3 .5-.4-.3 2.8-.2 5.2 .4 1.1 .9 .6-.9-3.4 .3 4.4 .5 3.9 .3-1.9-.4 1.5 0 5.1 1-.1 .2 4-.4-1.5 0-1.1 1-4-.4-.8 1.2-3.8 .1-2.5 .6 4 0 2.4 .4 1.1 .1 3.8 .6 2.9-.6 .9 .7 3.2-.2-1.1 .6-4.2 .7-2.7-.6-2.2 .7-2 .5 3.6 .1 2-.3 3.2 .7 .9 .3 2.6-.6 3.2 .5 1.6 .1-3.8 .2 .1 .5-2.4 .4-4 .5-1.1 .1-3.4 0-2.5 .8-2.3 .2-3.8-.1-.5 .7-3.2 .3-2.4 .5 2.5-.2 3.1 .3 1.4-.4 4.8 0 1.9 .8 3-.2 1.5 .5 4.2-.1 2-.6 1.8 .9 2.8-.7 1.5 .4 3.6 .2 3.1 .5-2 0-3-.1-1.9 .9-3.8 .4-1.7-.1-4.1 .1-1.1 1-4 .2-1.3-.1-2.1-.1-2.2 .3-1.2 .6-3.3-.2-3.1 1.1-3.7-.2-1.1 .2 3.6 .6 2.4 0 2.6 .7 1-.3 3.3 .4 1.7 .5-3.8 .3-.2 .5-4.6 .5-1.1 .8-1.7 1-.8 .5 3.3-.1 2.1-.6 4.1 .8 1.5-.4 1.4 .2 3.9-.3 2 0 3.6 .6 2.3-.6 3.9 .6 1.1-.5 2 .4 4.2 .1-1.8 .4-3.6 1-3.9 .3-1.7 .2 2.1 .4 3.1 .6 3.5 .7 2.3 1.8 0 0 1.7 .8 3.1-.2-3.3 .3-2.1 .4-2.2 .4-3.9-.5-.8 .7-2-.4-3.4 .7-1.7-.4-3.7 .2-3.6 .2-.5 .3-3.7 0-3.8-.4-3.4 .3-1.2 .1-3.3 .1-3.1 .1-1.5-.2-2.3 .4-5.1 .1-.6-.2-4.1 0-2.8-.3 3.5 1 .8-.6 2.7 .6 4 .1 3.1-.2 3.3 .5 1 .2 2.9-.2 3.2 .5 2.5-.1 2.2 .3 1.7 0 2.7-.2 3.7 1 2.7-.6 2.9 .7 1 1.2 2.4 .6 0 .4 2.2 .7 1.9 .1 2 .2-1.2 .4-4.8-.1-2.8 .1-2.3 .4-2.3-.7-3.4 .6-1.5 .6 3.6-.7 2.3 .2 2.6 .2 3.2 0 2.1 .5 1.8 .3 4.4 .7 .5-.3 3.9 .5 3.6-.1 2 .2 4 .3 .6 .5 2.4 .2 3 .4 2.3-.1 4 .5-2.5 0-3.4 .4-2.9-.3-1.2 .1-2.9 .6-4.3-.4-2.1 .5-2.6 .7 3.1-.4 1.9 .5 4.1 .3 3.1 .5 1.2 2.5 0 .5-1.6 1.3-2.1-.3-.9 .5-5.3 .4-.6 .1-1.7-.6-2.2 0-4.2 .5-2.1 .4 2.7 .2 2.6 .3 2.2-.2 3.9 .1 1.8 .6 3.3-.2 1.8 .7-2.8 1.1-.9 1.9-1.2-.1 2.3 .6 2.1 .7 2.9 .1-1.6 .1-3.7-.3-4.1 .4-1.1 0-2.3-.2-2.6 .2-5.3 0-.2-.1-4 0-1.8-.2-3.7-.2-3.5 .2-1.6-.1-2.8 .9-2.8-.8-2.9 .8-2-.5-3.1 .3-3.6-.5-4 .2-2.2 .2-3.4-.4-.8 .2-2.9 .3-3.5 .4 2.6-.4 2.7 .6 2.4-.3 2.4 .3 3.3-.1 3.5 .1 .4-.1 4.1 .4 2-.3 3 .6 3.9-.5 .5 .5 3.4 .5 4-.8 1.1 .3 2.6-.1 3.4 .2 3.1 .6 2.2 .2 1.7-.1 2.7-.4 3.9 .2 2.3-.1 2 .5 3.9 .3-3 1-2.6-.2-1.9 .6-1.1 1 3.2 .3 .2 .3 2.7 .8-1.8 1-3.1 .1 2.7 1.2 2.5-.2 1.8 .7 2.8 .5-2.4 .5-1 .6-2.7-.4-3.6 .8-.9 0-3.6 .1-3.6 .4-.8-.3-3.5 .2-2.3 .2 1.5 .3 4 .7 2.7 .7 2.8 .2-1 1.2-2.7 .6 1.7-.6 3.5-.1 3.5 .3-.1 .2 4.8-.1 2.9 1.1 .6-.4 3.2 .5-3.6 0-.9-.5-2.6 .1-2.4 .7-3.5-.6-2.1 1-4.3 0-2.2 .3-2.1-.3-2.5 .1-2.8 .1-1 .2-4 0-1.5 .4-3.5 .4-3 .7-2.6 .2-3.5 0-1.4 0-2.7 .4-3.2 .5 1.6 .5 4.4-.3 3.5 .8 2 .3 1.9-.1-1.5 .7-1.9 .9-3.3 .3-1.8-.2-3.4 0-3.3 0-1.7 .7-3.1-.2-3.1 .2-2.1-.5-1.2 .5-3.7-.4-3.3 .5-1.9 .1 2.8 .3 1.6 0 3.6 .5 2.5-.1 3.8 .4 1.8 .3 4.1 .1 1.7 .1 2.4 0 4 .9 2.9-.2 1.8-.2 2.6 .3 2.3 .6 2.3 .6 3.7-.3 .6 .5 4.4 .1 1 .1-1.5 1.1-2.6-.3-2.2 .6-2.2 .7 3.5 .7 1.4 .6 2 .1 3.3 .6 1.5 .1 4.1 .5-.7 .2-4 .2-2.2 .5-1.6 .1-3 .4-2.9 .5-2.8 0-2.6-.3-2.4 .6-1.1 .3-3.1-.1-3.6 .4-3.4 0-1.9 1.8 0 .6-3.8 .6-1.3 .6-2.2 .9 2.5 .1 .2 .2 3.4 0-2.9 1-1.3 .3-1.9 .4 1.3-.4 3.6 .6 1.8 .5 2.1 .1 4.7-.3-.1 .3 3.6 .5-3.4-.5-2.7 .3-2.3 .2-3.2 .2-3-.1-1.2 .2-2.8-.5-3.9 .4-1.2-.2-1.7 1-2.9-.3-3.3-.1 1.7 .1 3.1 .4 2 .1 4.4-.1 2.6-.2 3.4 .3 2.1 .7 .8-.3 4.7 .3 2-.1-3 .3-1.1 .1-3.1-.2-4.1 0-1.6 .8-2.9 .2-2 .2-1.8 0-3.7-.7-2.1 1-4-.1-2.9-.6-1.1 .6-3.2 .1 1.5 .6 5 .3 1.5-.5 4.1 .3 1.4 .2 3.3 .6 2.2-.4 1.8 .4 3.6-.1 2.9 .1 3.2 1.2 1.6-.3 2.5 .3 3.2 .4 2.5-.1 3.7-.1 2.7 .6 2.9 .5 1.6-.2 2.7 .5 2.9 .2 1.7 1.8 0 1.3-1.8 .5-1.9 1.3 1.3-.3-1.6 .9-4.2-.4-3.2-.1-3.3 1-2.2-.8-2 .6-3 .5-2.9-.5-1.6 0-3.4 .2-2.4 .8-4-.2-2.3 .1-1.7 0-3.4 1.2-.6 0-2.1 .7 .4 .3-1.9 .1-6.5 .2-.5-1 2.7 1-7.6 .2 6.7-.2-4.5-.1-.4 .6-4.2 .1-.5-.2-2.1 1-3.4-.2-4.9-.9-1.2 .1 4.9 1-7-.1 1 .2-1.2-.6 .3-.1 .1 1.3-10.5-.8 3.5 0-5.2 .4 4.2 0-4.9 .8-2.5-.9 6.1 .5-.2 .5 4.9 .2-1.5 .5 2.8 .3 1.4 .4-1.3 .5-1.3-.1-6.3-.1 1.7 .4-2.8-.7 1.2 .1 2.3 .9-4.6-.5 1.3-.2-7.8 .6 .7 .6-6.1-.1 2.3 .3 4.3 .5 2-.5-2.8-.4-.7 .5 3.3-.6 .4 .2 3.7 .7 4.5-.6 1.5 1-1.5-.6 2.6 .3 4.5-.8 3.1 .8-3.1 .6 1.4-.2-1.9-.4 7.1 0 2.1 .4-.4-.8-2 .6 6 .5-3.6 .5 .3 .4-.3 .3 5.2-.4-4.5 .5 7.3 .9-4.5 .1 5-.7-2.1 .4 2.4 .8 5.3 0-.7 .5-1.5 1.9 .2 1.2 1.1 .6 .7 .4 5-.2-.5-.1 2.8-.3-.8 .7-2 .1 5.5 0 1.5 .4-2.8-.3 1.9 .6-2.7-.8 .5 .6-6.5 .5 .3 .4 0-.5-5.7 .5 1.6 .5 2.3-.4-9.6 .6 4.8 0-4.8-.3-1.2 .8 3.3-.3-1.4 .6 4.6-.8 3.8 .6 2.2 .3 .9-.8-6 .6 3.5-.1 6.6 .1-5.4-.1 2.4 1 3.8-.7 1.2 1 3-.8 1.5 .5 2.8 .7-2.6-1 2.1 .8-.2-.8-4.8 .5-2.8-.1-2.4 .9 .7 0-3.7 .4-2.1-.1-1.6 .4 2.8-.9-9.1 1.1 6.6 .2-7.4 .1-2.6-.4 .3 .1 5.3 .9-4.1-.1 5.8 .1-4.7 .5 8.6 .3-1.2 .9-3.1-.9 9.1 1-.3-.1-1.4-.1 2.4 .2 5.1 .7-.4 .1 .8 .7 1.8 .1-2.8-.7-.2 0-10.1 .2-.2 .9-.4-1 .9 0 .1 .4-.9 .5-5-.4 .9-.2-.3 .5-1.3 .2-3.4 .5-1.8 .2-8.2 .2 5.3 0-4 .1-1.6-.4 .3 .3-2.7-.2-3 .6-.3-.6 8.2-.1-2 .2 0-.4 2.8 1.3-3-.2 4.3-.1-1.4 .4 6.9-.4-2.9 .2 4.9-.3 1.1 .3-1 .8 1.1 0 10.9-.5-2.8-.2 2.8 1.6-.9-.4 5.6 .8-2.6 0 2.2 .1-7.4 .4 4.2 .9-1.1 .6-6.4-.2 0 .6-.5-.1 6.1-.4 .5 0-3.4 .2 2.8 .3 8.5-.5-3.1 .9 5-.7 .3 .3 1.2 .7-.1-.8 4.2 .4 3.4-.1 2.6 .4-6 .4 4.2-.6 2.1 .3 5.3 0-1.4 .1-1.7-.4-1.1 .9-3.6-.6 2.2 .4-4.7-.4-.8 .3-3.2 .7 .8-.4-3.5 .2 1.4-.5-8.2-.1 .6 .2 .2 .3 .8-.3-8.6-.1 6.2 1-3.9-.7-5.6 1.2 3.8-.3-3.4 .4-3.6-.1-2.3-1 .4 .9 1.1-.8-9.7 1.2 1.6-1.1-2.1 1.3-2.5-.3 1.7-.2-2.3 .2-2.4-.1 9.8-.5-6.8 .8 1.8-.7 9.6 .8-1.4-.3 3.5 .4-3.6 0 5-.3 2 0 2.3 .1-4.4 .5 9.5-.2-4.9-.4 1 .9 9.5-.4-1.3-.2 0 .6 .9 0 5.3-.1 .3-.8-2.3 .6 7.2 .5-.9-.3-3.1-.4 5.9 .3 4.1 0-4.9 .3 8.4 0-1.7-.4 1.1 .1 .6 0 1.2 .2 4.8-.2 1.5 .2-1.2 .8-10-.5 5.7 .7-7.5-.8 3.6 .5 0-.3-4.1 0 .8 .8-3.2 .5-7.9-.2 4.9 .2-2.2 .2-2.4-.1-4.8 .1-1.7-.4 4.2 .3-5 .1-2.8-.2 8 .6 .1 1.1 4.1-.8 3.1 .6-5.3 .4 3.8 .1-3.1 .1 1.1-.1 1.5 .9-8.3-1.2 3.4 1.1-4.6 0-4-.8-2.3 .2 4.9 .8-8.1-.5 2.5 .6-.8-.3-8.4-.4-1.2 1.2-2.1-.9 6 .5-4.5 .1 1.5 .9-5.5 .1-.8-.3-6.1-.3 5.4 1.2-5.1 .1-5.6 .2 2.1-.2-.6 .5 1.4-.7 3.7 1.1-.3-1.1 .6 1.5 1.8-.6 3.3 .3 .2-.1-1.1 .7 2.8-.2 2.3-.6 3.9 .2 4.4 1.1 1.4-.1-4.1-.4 9.4 .2-2.9-.4-3 .9 1.1-.1 .2 .1-7.6 .3 .5-.3 3.7-.3-5.5-.2 1.6 1.3-7.6-.5-1.7 .5-1.1-.5 .7 .8-7.1-1.1-.3 .8 2.9 .1-1-.2-3.8 .5 1.1-.2 6.5 .5-7-.1 8 0 3.3-.1-.5-.1 2.1-.4 .3 .3 4.1 .2 2.2-.4-6.6 .2 2.4 .6 9.1 0-2.1-.4 1.3 0 4 1.1-3.6-.7 5.9 1.2 2.5-1.1 2.3 1.1 .7-.2-4.1-.1 5.9 .4 4.5 .1 .4 .3-1.1 1 .9-.3 .4 .3 4.6 0 1.3 .3-2.4-.6-2.7 .4 1.7-.1-10.5 .2 4 0-4.8 .1 1.1 .2-.4 .1-3 .1-1 0-.1-.2-4.5-.6 1.8 .6-7.8 .5-2.4 .1-2.8-.8 6.2-.1-7.8 .1 2.9 0-7.4 .1 4.9 .6-6.2-.7-.5 .7-1.4 0-3.9 .5-2.3-.7 6.2 .3-1.5 .3-6-.2-1.8 .6-1.8 .2 2.8-.3 1.2 .7 6.3 0-1.2 .7-1.3-.3 1.1 .6-4.1 .1-5.1-.1 .9 .1 1.9 .6-8.1-.9 7 .8-2 .2-5.6 .1 3.2-.1-2.6 .7 .2-.4 6.8 .7-2.2-.1 7.3 .1-2.1 1 .8 0-.1-.4 4.7 .3 1.7 .7-3.7-.4 3.7 .7-2.6-.4-1.1 .8-5.3 .6-1-.5-4.3 .3 2.1-.4 .8 1.4 4.1-1 3.7-.1-4.3 .7 .8 .8 9.2-.6-.6 .1 3.9 .1-1.4 .5-.2 .8 5.7-.5-2.2-.1-2.4 .6 5 .3-2 1.3 4.6-.3 2.1-.1 2.5 1.3-.7-.1 2.9 .8 .2-.4 2.5 1.3 1.6-.3 3.7 .6-.9-.2-1.9 .1 8.2 .7-4.8 0 3.8-.5 3.1 1.2 .1-.6 5.3-.1-2.7 1 .9 .2 4.1-1.2 2.3 .5 4.4-.3-6.6 1.2 9.2-1-6.5 .2 8.1 .1 2.6 .5-1.2-.5-1.2 1.1 2.1-.3-2.3 .5-9 .3 1.9-.9-3.4 0-2.2 .4-2.8 .1-.2 .4 3.2 .1-3.5-.4-2.8 .7-3.1-.2-.8-.1-.8 .2-4.2 .4 1.1-.3 3.6 0 1.5 .7 2.3-.4-4.8 .3 8.1 .3-4.4 .6 1-.2 7.1 .1 4.3 .3-5.9 .5 1.6-.3 1.9-.4 3.9 0-2 .6 8.9 .1-1.5 .8-2.7-1-3.8 .8 .6 .5 1.3-.7-4 0-2.9 .5 3.2-.3-1.2 .7-8.8 .5-1-.2-1.1-.2 2.6 .4-2.9 .7 4-.2-1.3-.6 1.6 1.2-1.4-.4 1.5-.3 1.6 1.1 2.6-.2 3.8 .7 5.1-.7-3.4 1.1 6.7-.3-1-.1-1.6 .4 4.9-.2-4.2 .3 4.5 .9-1.6-1-.5 .4-1.5-.1-10.4 .2 .6 .1 5.2-.2-2.7 .8-5.2 .8-1.2-.9 2.2 .6-4.2-.5-2.9 .8-.7-.1-.2 .1-.3 .6-10.2-.4 2.7-.1-4.3 .3-1.3-.1 1.4 .5 .4-.4-2.2-.1-7.7 .2-.5-.3-3.4 .7 0 .2 .7-.4 .5 1.1 4.6-.8 .6 1.1-2.1-.9 5.7 1.4 1.9-1-4.1 .7 5.1 .7 2.1 0-1.5 .4 7 .1-5.6 .3 5.4-.3-2.9 1.1 3.2-.5 4.5 .9-3.8 .9 3.8 .6 1.6-1 .6 .1 4.3 .6 0 .2-1.5 .5 6.6 0 1.5-.8-2.6 1 4-.2-1.4-.7 3.6 1 7.4-1.1-6.6 .6 6 .4 1.4-.9 2.5 1-1.1-.4 7.6 .8 1-1-5.2 1 2.6-.7 1.1 .4 3.2-.1 2.4 .5-2.2-.3 1.2 .5-.3-.9-6.7 .1-4 .3 2.3 .2-1.9 .6 1.1 0-9.1-.4 5.5 .2-.6-.2-9.8 1.5 7.1-.1-6.8-.7-4.6 .5 2-.4 .2 1 1-.5 6.8 .7 .2 .2-2.8-.7 1.7 1.5 4.7-.4 2.2 .6 2.6-.9-1.1 .7 1.5 .1 1-.2-1.8 .6 6.8 .4 5 .4-6-.8 5.2-.2-1.6 1.4 3.5-.5 2.6 .7-2.5 .1-3.7 .2-1.4-.2-1.3 .6-2.7-.2-4.1-.2-1.8 .3-1.5 .3-3.7 .2-2.9 .4-3.3 .5-3.2-.5-1.9 .6-3.2-.4-1.3 .7-2.7 .4-2.9 0-1.7 .4-5.4-.2-1.2 .5 3.1 0 .8-.6 5.5 .6-.1-.5 3.2 .7 3.8-.4 2.6 .5 3.6 .5 1.1-.6 3.1 .5 1.7 .5 2.9-.9 4.1 .2 1.7 .1 2.5 .6 3.3 .4 2-.3 3.8 .4-3.1-.1-2.3-.4-1.8 .8-3.3-.1-4 .1-2.4 .5-3-.4-2 .3-2.6-.2-1.5 .3-4.5 .6-1.5 0-2.9 0-2.9 .3 3.5 0 .6 .8 5.3-.5 .5 .5 3.4 .4 2.9 .5 4.1-.1 1.7 .5-1.9-.6-2.6 .6-4.1 .2-3-.2-.8 .5-3.2 .3-2.3-.4-3.4 .8-.4 .2-2.3-.1-4.1 .3-2.9-.3-.9 .1-4.2 .4-3.1-.2-2 .2-.8 0-2.8 .1-2.3 .9-3.6-.3-3 .3 3-.2 3.3 .5 2.9 .1 1 0 4.8 .2 1.1-.4 3-.1 1.6 .6 2.8-.7 4 .6 3.8 .2 1.1-.7 4.1 .7 1 .3 4.5-.1 1.9-.4 3.8-.2 3.3 .4 2.5-.1 2.2 0 3.1 .1 .4 .4 4.2 .4 1.7 .6 1 .5 3.4 .5 1.4 .1 3.3 .1 4-.2 2.7 .4 2.9 .2 2.8-.6 1.2 .4 4.3-.4 .7 .2 3.9 .7 2.8-.3 3.6 .2 1.7 1-2.3 .3-1.4 .5-2.3 1.1-1.5 .7-2.2-.1-2.2 .9-4.3-.1-2 .7-2.7-.2-2.2 .7 3.2 .1 .9-.1 2.9-.2 4.2 .1-.2 .6 3.6 .2 2 .3 1.5 .5 3.8 .1 2.8 .2 1.5 .7-1.5 .3-3.7-.5-3.9 .4-1.6 .3-.9 .6-3.6 1.2 0 .6 2.4 .8 2.1 .1 4.1 .8 2.1-.1 2.1 .4-1.2 0-4 .4-2.3 .2-1.3 .4-4 .8-2 .1-2.5 1-2.8 .3-3.6-.2-.8 .3-4.3 0-3.8 0-1.5-.2-1.6 .2-2.9 .1-2.5 .9-4.2-.3-2.7 .1-2.6 .1 1.5 .7 4-.4 3.9 .3 .5 .3 3.4 .8 2.5 .2-2.2 0-4.4 .9-2.1-.2-3.2 .3-.5 0-3.4 0-1.4 .2-3.2 .9-1.9-.3-2.8 .7-4 .4-1.3 .5 1.7-.5 2.7 .1 3.3 .4 3.8 .1 2.6 .4 2.7 .1 2.9-.7 1.9 1 2.1-.2 3.1 0-2.8 .3-3.3 .2-1.3 1-2.4-.6-3.6 .5-3.5 .4-2.6 .2 3 .5 .4-.1 2.7 .3-1.1 .5-3 1-2 .4 1.8-.2 2.1 .9 3.7-.5 3.4 .8 2.8 .1 .6-.4 4.2 .8 1.5-.1-2.5 .8-3.7-.3-.2 .3-3.2 0-4.8 .1-1 .6-4.3-.4-1.5 .8-1.3 0-3.7-.5-.1 .4-5.2 1-1.3-.7-4.9 .8 3.7-.6-2.4-.4-2.9 .9-.1-.1-5.8 .1 .4 .4-2.1-.5-3.8 .8 6.7 .1-2.5-.1-6.2-.4-.3 .5-.1-.5 0-.1-.9 .2-8.4 .6-1.9 .8 2.4-1-5.9 0 2.1 1.2 2.2-.7-6.7-.1-3.6 1 1.4 .2 2.5-.3-5.1 1 .9-.2-1.4 .5 8.6 .5-3.2 .5 6.1-.1-.1 0-.3 .5-.5-.3 5.5 .7 3.2-.1-4.7 .2 8.4-.6-4.3 1.2 1.7 .4 1-.5 3.5-.1-6-.1 6.5 .2-.8 .4-6.5-.5-2.4 .5-2.5 .5-2.5-.1 5.1 0-7.1-.5 1.2 .5-.7-.5-1.7 .5-6.3 .9-2.4 0-2.9-.5 1.9-.6-2.6 1.2 1.9-.2 .8 .5-4.8-.6 .4 .7-8.7-.6 2.5 .2-1.4 0-.4 .7 .2-.6 4.9 1.6 6.2-.2-1.9-.5 2.3 .8-.3 .8 4.4-.6-4.6-.3 9.7 .8-4.1-.7-.4 1.2 4-.6-1.5 .1 .9 .6 2.5 .1 4.6 .7 3.3-.8-3.5 1.1 9.8-.6-2 .8-4.1-.8 3.4 0-7.4 .3-1.6 1.2-3.1-.8 .1 .2 5.1 1.3-1.9-.3-5.1 .9-5.9 .3 4.2 .6-1.9 .6 .2 .2 1.1-.7 7.8 .7-5.2-1 2.3 .2 4-.1 5 .5-4.5 .4 .3 .3 2.7-.8 1.3 .7 7.9-1-6 .3 2 1.2 5.9-.6 5-.6-5.9 .9 7.3-.6 3.3 .9-.2-1-3.7 .7 4.7 .2 4.4 .8-.7 .4 .3 .4 .9 .3 .7 .1-8.2-.3 3.6 .6-1.9 0-3.2 .9 3-.5-9.5-.4 1.2 .6 .3 .7 .8-.1-3.9-.5 .3 1.4 3.5 .1 1.1-.2 .2 .3 1.8 0 1-.5 .1 .7 5.3 .1 3.2-.4-3.9 .5 5.7-.3-.3 .6-3-.7 .5 1-.4-.4-1.4-.5-10 .6 3.2-.5 1.3 .7-9.1 .6 3.5-.5 0 .5-.9-.7-2.2 .6-8.1-.4 3.5 .8 .5-.2-3.8 .2-1 0-7.4-.7 4.5 .5-.4-.1-3.9 .2 .3 .1-3.3-.1-6-.5 2.1 .5-3.3 .4-.3 .3 8-.6-1.6 .8 .2-.7 4.8 .3-.2-.5-1.2 1.3 3.7-.5-2.9 .8 .7-.1 9.1-.5 0 .7-2.7-.3 4.3 .6 4.9-.6-6.5 .3 5.4 .3 .3-.4 .7 1.4 2.7-.6 1.5-.1 .8 1 3.3 .1 .6-.1 3.4 .5-2.2 .1 1.6 .1 9.6-.5-6.3 0 2.1 1.1 8.6 .4-3.9-.8 5.3 .8-1 0-.6 .1 5.1-.1-5 1.1-1.6-.6 4.3 .3-3.1 .4 1.4-.3-1.6-.1-3.7 .8-6.2-.1-2.5 .4 2.1 .6-5.6 .6 3.2-.2 3.3-.2-2.8 .7 .1-.1 3.5-.5 0 0 8.8 1.3 2.8 0-7.2-1.2 7.1 1-3.6-.3 2.2-.1 3.2-.5 2.6 .3 1 .1 8.3 .3-.3 .1 3.8-.1-.4 0-2.1 .5 2.9-.4 3.5 .3-2.7-.4 7.6 .6 .3 .2-1.2-.9 3.7 1.2-3-.4 .1 .5 3.6-.1 4.4-.5 1.7 .6 .4 .2-8.3-.2-1.4-.1 1-.8-2 .1-3.3 1-1.4 0 4.1-.2-3.6 .5-2.7-.6-2.8 .5-.8-.5-1.9 .3 3.7-.3-2 .4-1.3 .4-6.2-.9-2.7 1 4.8 0-5.9 .3-5.9-.4-.4-.5-1.1 .5 .7 .4-.8-.1 6.6 .1 2.3 .6-3.3 .1 .5-.2 3.4 .9 1.4-.7 4.9 .7-.4 .1-2.2 .6-3-.2-4.5 .6-2.7 .1-.4-.1-5.1 .7-1.6 .4-1.2 1.4-3.7 .3 2.9-.4 2.9 .6 3.1 0 2.4 .2 .7 .3 3 .3 4.9-.5 .2 .5 3.8 .5 3.1-.2 1 .3 4.8 0 1.4-.1-3.8 .4-1.4 .5-3.1 .1-1.9-.2-3-.4-3.6 .6-1.7 0-3 .3-2.9 .2 1.3 .1 2.8-.3 5.4-.1 .3 0 2.9 1 2.7-.5 4.4 .5 2.8-.8 1.8 1 1.2-.4 5.5 0 1.6 .3 2.9-.2 1.2 .5 4.6-.2 3.3 0 2.8 .1 1.2 .3-2.2 .6-3-.6-3.3 .5-2 .6-2.1 0-1.6 0-2.6 .4-3.9 .3-2.4-.1-2 .1-4.3 1.1-.5 .3-3.7-.2-1.7 .1 3.3 .4 1.1 .2 3.8 .2 3.5 .1 .4-.7 5.1 .8 1.2-.4 4.7 .9-.2 .2 5.4-.1 1.6-.2 3.1 .5 2.4-.4 3.8 0 1.6 .6 2.4 .3-2.9 .3-3.6 0-1.7-.3-3.2 .2-1.1 0-3.6 0-2.8 .1-3.1-.2-1.3 .8-4.5-.6-3 .5-1.2-.4-2.3-.2-2.9 1-4.8-.2-2.8-.5-1.4 1-1.8-.9-4.8 .5-1.4 .3 1.4-.5 3 .7 2.6-.2 5.2 .4 1.8-.3 3.2 0 1.4 .8 4.2-.4 .5 .1 3.4 .1 2 .5 4.9-.1 .9 0 4.3 .3 3.1-.3 2.4 .4 .6 .7 3.9-.3 2.4 .4-3.6 .4-.9-.1-4.7 .2-.1 .3-4.8-.1-.5-.3-2.5 .6-4.5-.3-3.3 .5-.6 .2-3.7 .3-2-.2-2.5 .8-2.4-.4-2.8 .6-4.3 0-1.1-.3-5 .8-.1 .2-5 .1-1.7-.1 1.4 .1 4.2 .5 1.1 .2 3.4 .4 4-.1 2.1 .1 3.5 0 .3 .9 5.2-.2 1.7 .7-2.2-.1-3.1-.1-2.5-.3-2.9 .4-3.9 .5-.7 .4-3.6 0-3.1 .2-1.1 .3-4.3-.2-1.9 .4 1.9-.5 1.9 .6 2.8-.3 4.4 .6 .6-.1 5.1-.3 1.5-.2 3.2 .7 .8 .2 2.7-.4 2.7 .1 4.5 .5 2.6-.1 1.9-.2-3.3 .3-2.5 .3-2.3 1-2.4-.4-4.1 .9-1.4 .1-2-.5-2.7 .8-4.3 .2-1.8-.3 3.8 .3 2.3 .2 1.3 .1 2.7 .4 2.2 .1 2.6-.1 4-.1 3.7 .3 .8 .6 3.9-.4 3.2 .3 2.3 .6 2-.6 3.1 .3 1.6-.2 3.2 .2 3.9-.1 3.2 .6 1.9 0-1.8 .5-2-.2-3.8 .4-2.7-.2-1.5 .8-4.7-.4 .2 .5-3.8 .6-4.1-.3-2.6 .4-2.5-.4 0 1-4.1-.6-3.6 .1-.9 .9-4.3 0-2.3 .1-2.4 .6 2.9 .2 1 .4 1.7 .7 3 .5-3.2-.6-1.7 .6-3.2 0-1.5 .1-3.8-.1-4.6 .8-2.6-.4-1.9 .7-1.5 0-4.1 .1-2.2 .1-2.6-.2 3.4 .2 2 .2 3.7-.3 .3 .4 3.1 .6 4.9-.6 2.6-.1 2.7 .7 1.3-.3 3.3 .5 2.1 .2 2.7-.5 4.6 .7 1.8 .1 1.9 .1 2.8-.2 2.2 .3 4 .3 3.1-.3 2.3 0-3 .8-1.6-.5-2.4 .5-3.9 0-2.4 0-3.4-.1-2.4 .2-2.9 .5-2.4 0-3.9 0-1.9 .9-2.3-.4-3.7 .3-3 .5-1.1-.2-3.6 0 2.9 .1 2.3-.2 3.8 .1 2.3 .1 3.2 .7 1.8-.6 4.4 .4 1.2 0 4.5 .1 .5 .1 3.2-.2 3.6 0 1.6 .5 3.5-.1 3.5 .5 3.5-.3 2 0 2.2 .4-4 0-1.8-.2-3.3 .4-2.2-.3-.9 .9-2.1-.6-3 .9-4.2-.3-1.7 .8-3.1-.2-1.7 .3 2.8-.2 3.4 .5 2.7 .3 2.9 .1 2.9 .2 .7 .4 4.2 .2 3.6-.4 2.3 .2 3.5 .2 1.4 .3 2.5 .9 3.2 .6 2 .1 3.3 .3-3.8-.3-2.5 .2-1.3 .3-4-.5-2.8 1-.7 0-3.9 .1-2.6-.4-3.6 0-1.4 .4-3.1-.5-2.6 .9-4.1-.6-2 .5-1.8 .3-5.1 0-2.2-.2-1.1 .4-4.6-.1-1.6 .5 3.8 .5 .5 0 4.9-.3 3 .9 1.5 .4 3.9-.2 1.9 .3-2.1 .8-4.2 .3-2 .2-2.7" fill="none" stroke="#ff7f0e" stroke-width="2.25" stroke-linejoin="round" />
<path d="M721.7 312.4l3 .2 .2-1 1-.4 .7 .1 .6-.6-.2 0 1.4 .1 .1 .8 .5 .3 .1 .4 1.4-.2 1.1-.2-.2-.3 .9-.2 1-.4 .5 .5 .5-.4 .6-.6 .1-.8 1.3-.7 .1 .2-.1 .8 1.2 .5 .2-.1 1-.3 1.2-.9 1 .4 1.1 .2 .7 .5 .9 .6 1.2-.6 .8 .4 .3 .6 .6-.8 1-.8 0-.1 .5-.7 .7 .2 .8 .7 .7 .4 1 .1 .3-.9 .7 .3-.3 .6 .7-.1 .4 1.1 0 .3 .8 .1-.6-.5 .4-.5 .8-.1-.4-1.1-.2-.3 .1-1.2 .7-.5 .8 .9 1 .4 .2 .8 .5 .8 1.1 .4 1.2 .3 .2 .2-.1 .5 1.1 .6 0-.5 .1 .2 1.2-.8 .1-.9 .7-.2 .3-.6 .5-.9 .3-.6 1.1-.1 .5 .6 .9 .4 1.6 .5 .5-.6-.3-.3 .5-1.2 .7-1.3 .2-.6 .5 1.1 .1 1.1 .3 .4-.1 1.1-.1 .2 0 1 .3 .4-.1 .4 .6 .8 .1-.9 .5-.2 0-.4 0-1.1-.2-.7 1.2 .2 .1 .5 .4 .5 .6-1.3 1.2-.5 .1-.9 .7 .5 .7 .5 .9 1.1 1.1-.3 .3-.2 1.1-1.3 .3-.6 .6-.8 0 .5 1.2 1.1 .5 1.3-.2 .3 .4 .3 .4 1.4-.4-.2 .3 .3-.1 .5 1.6-.3 1.5 .3 .3-.1 .2 .3-.3 .3 .9 .5-.1 .3-.2 .1 .9 .5-.5-.1-.3 .2 2.1-.1 1.6-.2 1.4 .1-.4 0 .8-.6 1.3 0 1.1-.1 1.8 .5 1.1-.3 .8 .4 .8-.4-.1 0 .8-.4 .9 .5 1.2-.4 .6 .6-.5-.3 .4 .1 1.8 .5 1.4-.2-.1-.2 .4-.2 .1 .1-.2-.5 .3 .2 0-.2 0 .2 1.2-.3-.5-.2 .7-.9 2.9 .2 .6 .1 .8 .2 .5 .5-.1 .4 1 .2 .5-.1 .3 0-.1 .3 .2-.3 .3 .5 .5 .2-.4-.3 .8 .2-.5-.5 .4-.2 .3-.1-.3-.4 .1-.1 0-.1 .4-.2-.5-.4 0-.2 .4-.2 1.1 .1 .6-.3-.2-.3 1.8 .4 .7-.2 1.1-.5-.1-.6 .7 .9 1.3-.2 .7-.7 0-.1 1.1 .9 .6 .2 .9 .5 1.5 .4-.3-.7 .6-.7-.2-.1 .6-1 .7-.1 1.2 1 1 .3 0 .5 .7 .8 1.1-.1 1.3-.8 .6 .3 1.3 .3 2.3 0 .1-.7-.5-.2 0-1 .5-.5 1.5 .8 .9 .1 3.1-1 .6 .3 1.1 .3-.2 .7 .5 .5 .5 .6 0 .6 0 .1 .3 .2 .7 0 .1-.5 .5 .2 .2-.6 .1-.3 1.1-.6 2.2-.9 1 .3 .4 .8 .3 .4 .1-.7 .7-.6 .7-.7 .6-.7 1-1 .8-.3 .1 .9 .3 1.2 .8-.3 1.3-.8 4.3 .3 .6 .3-.5 .7 1.1-.1 .2-.9 1.1-.1 2.9 .2 1.4-.2 .2 .6 0 1.1-.1-.1-.2 .8 0 1 .6-.1-.1 .6 .1 .1 .6-.3-.1 .1 .4-.3-.2-.7 .2-.9 .4-.5 .7-.6-.3-.5 1.8 .2 1.4-.2 1.4-.1 2.3-.5 1 .1 .7 1 .9 .6 .3 .1 1.2-.4 2.1 .2-.1-1.1 .4-.3 1.2-.4-.4 .8 1.1 .7 0 1 .4 .4 .8 .4 .9 .1 .9 .5 1-.9 .9 .5 1 .7 .7-.1-.5 .6 .6 .3 .4-.4 .8-.1 .5-.3 .7-.7 .7-.6 .8-.3 1.3-.2 1 .4 1.4-.6 1.2-.3 .9 .7 1 .2 .3 .6 .6 .4 2.4 .5 2.1 .3 .3-.3 1.7-.3 .7-.1 .1-.3 .3 .6 .3 .2 .1 .5 .5-.2 .4 .3-.2-.6 .7-.5 .5 .4-.1 .4 1.2-.3 .3 1-.1 .2 1-.7 .6-.5 1.2-.6 .4 0 .4-1.1 .8-.2 3.3-.1 1.5 .1 .4 .9 .8 .3 0 .3 .8 .9 1.3-.4 1 .1-.7 .6 1 .4 .6 .1 .6 .4 .2-.1-.5 .1 .4 0 .4 .1 .4 .1 1.2-.5 1.2 0 .2 .7 .3-.3-.1 .5 .8 0-.4-.2 .1 0 1.1-.1-1.1-.2 1.2-.4 0-.3 .3 .2 1.2-.2 1 0-.2-.4 1.3 .3 3.7 .2 .1-.7 .5 0 .1-.2 .4 .4 .4 .5 .6-.1 .3 .2 1.1-.3 .1-.2-.3 .1 1-.7-.5 .3 .2-.5 .5 .6 .8 .3 .7 0 .4 .2-.2 .2 .9-.4 1.7 .2 0-.5 .8-.2 .9 .3-.5 .4-.1-.2 .5 0 .5 .1 .9 .3-.3 0 .7 .3-.5 .2 .7-.7-.1 .4 .2-.5 .3-.3 1-.4 .9 .2 1.9 .4 .3-.4-.2 .2 .7-.6 .3 .4-.5-.5 .2-.3 .4 0-.1 .3 .3 0 .5-.1-.4 .4-.1 .1 1.5 .5 0 .2-.9 .2 1.4 .4-.3-.3 .2 .3-.2-.5 .1-.3 .6 0 .3-.6 0 .4-.9-.1 .8-.4-.1-.1-.1-.3 .3-.5 .8 .6-.6-.1 .2 .3 1.1 .1 .3 .6 0-.4 .5 0 .9 0 .6-.3-.4 .2 .3 .3 .5 .5-.1 0 .8 .1 1.1 .5 .6-.3 .1 .6 .9-.7-.2-.3 .9 .2-.6-.4 .6 .2 .7 .1 .3 .2-.8-.2 1.3 .4-.8 0 .7 .5 .8-.4-.2-.4-.2 .1 0-.3 .2-.2 .4 .2 1.2-.8 .1-.3 1.4 .1 0-.3 .1 .3 .1 .4 .4 .1-.1 .2 .5 .3-.8 .4 .2-.2 .6 .3-.2 .3 .4-.3 .5 0 1.4 .4 .4 0 .6 .3 .1-.4 .7 .3 .2-.2 1.1-.3 .6 .3-.1-.2 .9 .2 1.3 .2-.4-.4 .3-.3 1.4-.1 0-.2 1.3 .2 1.1-.3 1.7-.2 .1-.1 .8 0 .1-.4 1.1-.2-1-.3 .4-.6 .1 .1 1.3 .2-.6 .2 .9 .6 .4-.2-.1 .8 .1-.4 .6-.1 .7-.8 .9 .2-.7 .2 1.5-.8 .3 .1-.2 .4 .9 .4-.1 .2 .5-.5 1.6 .1 .1-.4 .1-.4 .2 .5 .5 .1 .7 .3 .5 .2 .2-.1 .3 .6 .1-.2 0 .5 .6 .6 .9-.2-.6-.4 1.1 0 1.1-.2 .1-.4 1.5 .1 .5-.5 .9-.1-.3-.3 .1-.2 .5-.5 .5-.1-.6-.1 .7-.2 .1 0-.3 .8 1.1-.2-.2 .1 1.2 .8-.6-.4 1.2-.5 1 .3-.7-.4 .6-.3 1.4-.2 .4-.6 .3 .4 .6 .3-.1 .5 .9 .8 .6 .4 .7 .1 .2 .3-.1-.5 .8 0 .6-.2 .4-.9-.6-.2 .7-.6-.1 .4 .8 .2 .4 .8 .7 .1 .3 .1 .3 0 1.4-.5-.2 .1 .6 .5 .4 .4 .9 .1 .1 0 .4 .8 1 .3-.2-.1 .6-.5-.3-.6 .5-.3 .2-.4-.2-.1 .1-.5 .5-.8 1.5 .1 .7-.6 .4-.8-.6-.9 .6-1.3 1.5 .2 2.3 1.1 .7 .8 1.2-.2-.2-.3 .9-.8 .9-1.1 1.2 .5 .2 .9 2.4 0 1.7-.9 .3 0 1 1.3 1.9 .4 .4 1.2-.2 0 1.2 .7-.1 .4 .6-.6 1.3-.2 .7 .9 .3-.1 .8 .8 1.6 .1 0-.4 .6-.8 .1-.4 .5 .4 .9 .6 1.1-.2 .7 .1 1.2 .1 1.2-.8 .5-.3 .4 .5 .4 .4 1 .3-.1 .7 1.1 .3-.1-.2 .4 .6 .4 0 0 .4-.4 .2 .4-.1 .5 0 1.1 .5 .5-.2 1.5-.6 .4 .6 .3-.6 .8-.1-.2 .1 .5 0 .5 .5-.6-.2 .5 .3 .4 .1 .4 .3 .6-.2-.4 .4 1.7-.6 .1 0-.1 0 1.3-.1 .1-.3 0 .2 1.3 .1-.5 0 .6-.2 1.9 .6 1.5 0 .2-.6-.9-.3 1.2 .5-1.1-.1 .9-1-.3 .2 .6 0 1.4-.3 .8 .3 .3 0 1.2 .1 1-.3 .1 .3 .3-.8-.2 .3 .9 0-.3 .4 .8 .5-.7-.3 1 .2 0 .4-.3-.1 .2 .2 .4 .3 .5 0-.9-.6 1.6 .5 .1-.4-.3-.5 .2 .2 .7-.4 1-.2 .7-.7 .6 .1 .4-.1 0 .3 .8-.2 0 .3 1.1 .3 1-.4 .4-.1 .8-.3-.2 0-.9-.4 .7-.4 .4-.2 .4-.4-.1 .2-.1-1.4 .6 1-.8 0 .8 .5 .4 .2-.5-.2-.1 .8 1.3 .6-.4-.1 .4-.1 .5-.5 .9-.3 .5 1 .6 .1 2.5 0 .5 .1 .5-.7 .3 0 .6-.8 .3 .3 .4 .6 .2 .2 .6 .2-.4-1.1 1-.4-.2-.3 .1-1 .3-.5 1 .6 .5 .5 .4 .7 .3 0 1.2 .7 .7-.5-.4-.7 1.3-.5-.1-.6 .1-1.2 1.2 .3-.1 1 .1 1.1 0 .5-.1 .3 .3 .3 .6 .9 .5-1-.1-.5 .4 0 .7-.7 .2-1.1 .8-.3 .5-.3 .4 1.2 .2 .2 .4 .7 .9 .4 .2 .4 .7 .8 .1-.1 1.1-.7 0-.1 1.4-.7-.5 .9 1.3 .4 .5 .4-.3 .3 .9-1-.6-.4 .5-.3 .5-.7 .4 1 1.5 .2 .4 .5 .2-.3 .7-.4-.1-.3 .5-.7 .3-.8 .3-1.1 .5-.1 .7 .6 .2 .7 .8 .6 1 .9 .4 .8 .7-.2 1.3-.4 .5 .3 0 .7 1.1 .3 .2 .3 .2-.5 .7-.4 .4-.4 .3-.6 .2-.8 0-.6 .8 .8-.1 .9 .7 .7 .5 .1 .6 .4-.1-.3 .9-.8-.2-.3 0-.7 .4-.3 .2-1 .2 .9 1 .4 0 .6 .9 .1 .6-.3 .7-.8 0-1 1.4-.7 1 .1 .2 .7 .5 .6-.3 .9 .8 .1 .2 .9 .2 .5 .9-.3 .6-.2 .5-.2 1.3 .1" fill="none" stroke="#2ca02c" stroke-width="1.96" stroke-linejoin="round" />
<rect x="700.60" y="19.60" width="476.15" height="308.40" fill="none" stroke="#000" stroke-width="0.815"/>
<text x="938.67" y="13.24" font-size="12.60" text-anchor="middle" textLength="162.70" lengthAdjust="spacingAndGlyphs">binanceTopTraderAccounts</text>
<line x1="726.54" y1="328.00" x2="726.54" y2="332.01" stroke="#000" stroke-width="0.815"/>
<text x="726.54" y="343.51" font-size="10.48" text-anchor="middle" textLength="42.01" lengthAdjust="spacingAndGlyphs">2023-05</text>
<line x1="799.76" y1="328.00" x2="799.76" y2="332.01" stroke="#000" stroke-width="0.815"/>
<text x="799.76" y="343.51" font-size="10.48" text-anchor="middle" textLength="42.01" lengthAdjust="spacingAndGlyphs">2023-07</text>
<line x1="874.19" y1="328.00" x2="874.19" y2="332.01" stroke="#000" stroke-width="0.815"/>
<text x="874.19" y="343.51" font-size="10.48" text-anchor="middle" textLength="42.01" lengthAdjust="spacingAndGlyphs">2023-09</text>
<line x1="947.41" y1="328.00" x2="947.41" y2="332.01" stroke="#000" stroke-width="0.815"/>
<text x="947.41" y="343.51" font-size="10.48" text-anchor="middle" textLength="42.01" lengthAdjust="spacingAndGlyphs">2023-11</text>
<line x1="1020.63" y1="328.00" x2="1020.63" y2="332.01" stroke="#000" stroke-width="0.815"/>
<text x="1020.63" y="343.51" font-size="10.48" text-anchor="middle" textLength="42.01" lengthAdjust="spacingAndGlyphs">2024-01</text>
<line x1="1092.65" y1="328.00" x2="1092.65" y2="332.01" stroke="#000" stroke-width="0.815"/>
<text x="1092.65" y="343.51" font-size="10.48" text-anchor="middle" textLength="42.01" lengthAdjust="spacingAndGlyphs">2024-03</text>
<line x1="1165.88" y1="328.00" x2="1165.88" y2="332.01" stroke="#000" stroke-width="0.815"/>
<text x="1165.88" y="343.51" font-size="10.48" text-anchor="middle" textLength="42.01" lengthAdjust="spacingAndGlyphs">2024-05</text>
<text x="938.67" y="358.33" font-size="10.48" text-anchor="middle" textLength="23.81" lengthAdjust="spacingAndGlyphs">Date</text>
<line x1="696.59" y1="316.40" x2="700.60" y2="316.40" stroke="#000" stroke-width="0.815"/>
<text x="692.48" y="320.51" font-size="10.48" text-anchor="end" textLength="5.97" lengthAdjust="spacingAndGlyphs">0</text>
<line x1="696.59" y1="278.45" x2="700.60" y2="278.45" stroke="#000" stroke-width="0.815"/>
<text x="692.48" y="282.56" font-size="10.48" text-anchor="end" textLength="12.44" lengthAdjust="spacingAndGlyphs">10</text>
<line x1="696.59" y1="240.50" x2="700.60" y2="240.50" stroke="#000" stroke-width="0.815"/>
<text x="692.48" y="244.61" font-size="10.48" text-anchor="end" textLength="12.44" lengthAdjust="spacingAndGlyphs">20</text>
<line x1="696.59" y1="202.55" x2="700.60" y2="202.55" stroke="#000" stroke-width="0.815"/>
<text x="692.48" y="206.66" font-size="10.48" text-anchor="end" textLength="12.44" lengthAdjust="spacingAndGlyphs">30</text>
<line x1="696.59" y1="164.60" x2="700.60" y2="164.60" stroke="#000" stroke-width="0.815"/>
<text x="692.48" y="168.71" font-size="10.48" text-anchor="end" textLength="12.44" lengthAdjust="spacingAndGlyphs">40</text>
<line x1="696.59" y1="126.65" x2="700.60" y2="126.65" stroke="#000" stroke-width="0.815"/>
<text x="692.48" y="130.76" font-size="10.48" text-anchor="end" textLength="12.44" lengthAdjust="spacingAndGlyphs">50</text>
<line x1="696.59" y1="88.70" x2="700.60" y2="88.70" stroke="#000" stroke-width="0.815"/>
<text x="692.48" y="92.81" font-size="10.48" text-anchor="end" textLength="12.44" lengthAdjust="spacingAndGlyphs">60</text>
<line x1="696.59" y1="50.75" x2="700.60" y2="50.75" stroke="#000" stroke-width="0.815"/>
<text x="692.48" y="54.86" font-size="10.48" text-anchor="end" textLength="12.44" lengthAdjust="spacingAndGlyphs">70</text>
<text x="673.17" y="174.68" font-size="10.48" text-anchor="middle" textLength="27.43" lengthAdjust="spacingAndGlyphs" transform="rotate(-90 673.17 174.68)">Value</text>
<rect x="906.07" y="24.69" width="65.21" height="49.99" rx="2.05" fill="#fff" fill-opacity="0.8" stroke="#ccc" stroke-opacity="0.8" stroke-width="1.02"/>
<line x1="910.15" y1="33.12" x2="930.53" y2="33.12" stroke="#1f77b4" stroke-width="1.53" stroke-linecap="square"/>
<text x="938.96" y="36.55" font-size="10.48" text-anchor="start" textLength="24.12" lengthAdjust="spacingAndGlyphs">Long</text>
<line x1="910.15" y1="48.77" x2="930.53" y2="48.77" stroke="#ff7f0e" stroke-width="1.53" stroke-linecap="square"/>
<text x="938.96" y="52.19" font-size="10.48" text-anchor="start" textLength="26.80" lengthAdjust="spacingAndGlyphs">Short</text>
<line x1="910.15" y1="64.41" x2="930.53" y2="64.41" stroke="#2ca02c" stroke-width="1.53" stroke-linecap="square"/>
<text x="938.96" y="67.84" font-size="10.48" text-anchor="start" textLength="15.05" lengthAdjust="spacingAndGlyphs">L/S</text>
<path d="M734.6 527.3l.5 2.5 .3 1.1 2.1 1.2 .5-1.2 .1-2.6-.5-3.9 1.1-2 .1-4.1-.2-2.1 .3-1.6-.3-3.6 .6-1.7-.1-1.4 .6-4.8 .2-2.7-.1-2.7 0-1.5-.2 3.8 .5 .7 1 4.7-.1 1.6-.1 3.9 .4 1.8-.2 3.4 .6 2.7 .3 .6-.4 2.2-.1 2.3 .3 4.2-.2 2.9 .5 1.5 .3 3.2 .6-2.5-.2-2.4 .7-3.6 .5-2.5-.1-1 .4-1.7-.4-2.8 .5-3.3-.1-4.3 .4 0 .2-3.3 .9-2.1-.2-4 .2 1.9 .4 3.7-.1 2.3 .7 1.6 .4-1.5-.6-2.3 .2-4.4 .6-.9-.2-2.6 .3-4.4-.1-3-.1-2.6 .7-.1-.4-5.4 .9-1.2-.3-2.7 .1 1.8 .3 4.2 .1 1.4-.3 4 .2 1.2 .9 1.5 .1 4.9 .1 2.1 0 1.7-.1-2.9 .2-1.4 .4-3.8 .9-1.4-.2-3.7 .8-2.7-.1-1.7 .4-3.8 .4-2 .2 1.5 .4 5.1 .9 1.4-.1 2.2 .2 2.1-.1 2.4 .9 4.3-.2 2.3 .7 2.3 .1 2.8 .1 1.8 .2-2.1 .2-3.4 .8-2.1 0-3.2 .1 4 .6 1.6-.3 2.6 .7 2.6 0-2.1 .3-2.1 .3-2.6-.1-3 .5-2-.2-2.5 .6-3-.2-3.1 .6-.9-.4-3.6-.2-1.4 .8-3.3-.1-1.6-.1-3 .5 1.4 .3 3.5 .2 1.8 .3 3.3 .3 2.2 .1 1.6-.1 1.4 .7 3.8 0 2.5 .6 1.9 .3-4 .1-2-.2-2.9 .4-2.4 .1-3.1 .5-1.2 0 2.3 .2 3.3-.2 3.5-.2 1.2 .3 2.6 0 3.9 .3 .3 .3 2.8 0 3.3 .1 4.5 .3 1 .1 3.3-.3 1.2 .2 3.9 0 2.4 .5-1.3-.3-4.5 .4-3.7-.7-1 .5-3.9 .1-.4-.2-4-.1-3.1 .8-2.4 0-1.1-.3-4.6 .4-2-.5-3.2 .6-2.1-.6-2.7-.1-2.3 .4-3.6 .4-1.1-.7-3.5 .3-1.5 .5-4.7-.2-1.9 0 1.5 1 3-.2 3.1 .3 2.9 .4 1.2 .2 3.1 0 3.1 .3 2.2 0 3.3 .4 2.2 .4 3.4-.4 1.7 .6 4.6 .6 1.6-.1 2.6 .1 3.2 1.1 1.6 0 2.7 .3 2.6-.1 3.4-.1 .9 .6 2-.5 4.3-.1 2.6 .6 1.3-.3 3.5 .7 .6-.3 3.6 .1-2.4 .1-3.1-.2-1.8 .8-4-.4-.3 .7-3-.6-2.3 1-1.7-.1-5.3 .3-2-.2-1.6 .2-1.2 .2-5-.3-.2 0-3.4 .4-3.8 .3-2.9-.4-1.5 .1-3.5 .6-.5 0-3.2 .6-3.5-.2-1.8 .4-1.9 .5-2.7-.6-1.5 .3-2.6 .6-2.7 .2 3.6 .3 1.5-.1 2.2 .3 3 .4 .6 .3 3.4 .1 1.7 1 1.6 .4 3.5 .2 1.6-.3-2.1 .1-4.3 .6-2.3 .4-1.9-.5-1.7-.1-2.8 .1-4.4 .9-1-.6-4.3 .9-1-.1-4.2-.1-2-.2-2.7 .4-2.6 0-2.2 0 1.6 .4 4.3 .1 2 .1 3-.2 2.8 .2 2.2-.6 1.7 .1 2.7 .8 4-.1 1.3-.2 5.3 .1 1.3 0 1.8-.3 2.9 .3 3.3 .5 2-.5 3.1-.1 2.8 .1 3.2-.1 4 .4 2.8 .3 1.9-.1 3.5-.3 1.9 .2 2.7 .5 1.2-.2 3.7-.2-4.1 .1-2.6 .2-.1 0-4.7 .2-2.9 .3-1.4-.5-4.2 .5-.6 0-4.3 .4-4-.8-.5 .4-4.9 .2 .1 0-4.7-.4-3.5 .9-1.5-.4-2.8 .7 1.3-.4 2.6 .3 2.6 .1 3.6 .3 1.6 .4 3.9-.2-1.2 .2-4 .4-2.5-.1-3.3 .2-1.9 .9-2.5 .1-3.7-.7-1.7 .7-2.5 0-2.4 .3-3 .5 3.6-.1 1 .8 1.7-.4 2.7 .2 3.7 .7 1.6 .6 2.2-.3 2 .4 2.7 .5 3.9 .1-2.4 0-4.1 .6-2.7-.3-1.9 .4-3.2 .2-2 .5-1.9 .3-2.3 .1-2.9-.2-1.9 .4-2.2 .3-3.4-.1-3.2-.1 3.6 .3 .7-.2 2.8 .4 4.2 .1 .9 .6 4.1-.6 1.2 .3 3.6 .8 4.5-.2 1.3 .2 1.9-.2 3 0 1.5 .3 5.1 .2 .4-.2 2.9 .2 3.4 .3 3.6-.8 1.3 .9 3-.5 2.6 .4 4-.2 2.7 .1 .1 .3 3.6-.3 2.8-.1-1 .4-3.5 .7-1.5 .4-3.6 .8 1.6 1 3.2-.3-1.2 .4 3.1 .3 .5-.5 1.7 .9 7.2-.1-.5-.6-2.9 .6 4.9-1-1.4 .1 6.8 1.1-3.3-.1 2.8-.1 6.7 0 1-.3-5.9 .2 7.1-.4-.3 .2-1.8 .1 5 .2 4.6 0 4.3 .6 1-.2-.7-.1 2.8-.2-.4 .4 1-.4-2.6-.3 4.2 .6 3 .7 1.3 .8-5.5 .3 .6 1-.9 .1-.7 .5 6.8 .1-.4 .8 2.2-.1-2.2 .2-3.7-.5-2.5 1.1-4.2 .3 1.2-.6-6.7 .2 .1 .4 1.4 .6 2.3 .8-4.2-.3-6.2 .6 2.2 .8 1.7 .7-.5 .3 2.3 .8-1.3-.5 1.9 .7 7.4-.3-1.1 1.1-2.5-.1 4-.4-1 1.2 1.3 0-6-.3-.5 .8-3.8-.6 1.2 1-5.6-1.1-2.3 .9 3-.3-5.5 .5 1.3 .6 2.8 .6 2.3-.4-.8 1 1.7 .5 5.8-.5 .5 .5 2.3-.5-.7 1-.5-.9-1.2 .2 .6 .1 6.4 0 2.9 1 2.1-.2-1.5 .9 3.5 .8 3.8 .2 1.6 .4-2.9-.5-5.4 0-.6 .4 .8 .5 1.1-.8-4.8 .7-1.9-.5 .5 .4-.7 .2 1 .6-10-.2 4.5-.6-7.3 .3 .7 .4 3.7-.4-7.5 .2 2.2 .4-2.7-.6-3.9 .8 .2-1.1-2.6 .3 .8-.1-5.4 0 .4 1.3-1-.8 2.1-.3-7.1 .5-.2 .9-6.2 .4 1.9-.6-2.5 1.1 .8 .8-1.7 .9 .5 .3-2.7-.2 10.2 .5-3.2-.2-.4 1.3 5.4-.3-4.5 0 8.3 .4-1.1 0 2.5 .8 2.1-.2-4.2-.7 8.5 .7 2.6 .7 2-.5 2.4 .7 .6-.7 .5 .5 3.4 .9-5.5-.5 4.2 0-.6 .1 1.8 .3 0-.6 4.7 0 .8 1.1 6.4-.8-6.6 .9 10.4-.3-6.2-.4 9 1-6.9-.9 5.4 .4 2.2-.2 .7 .1-1.4-.2-4.1 1.1 .1-1.2-7.2 .8 .8-.4-.7 .4 3-.5-5.4 .1-1.9 .6-5.5-.3 3.7-.6-1 .6-4.2 .3 1.1-.8-4.4 .1-2.7 .4-5.1-.1 2.4 .6 2.8-.4-5.4 .5 2.2 .3-1.1-.8-9.4 .8-2.5-.6 4.5 .2-4.9 .5-2.5-.5 3.4-.5-6.2 .5 .4-.3-2.7-.2-5.1 .4-1.2 .8-.5-.9 3.3 .4-4.3 .5-3.8 .2 1.9-.4-1.5 0-5 1 .1 .2-4-.4 1.5 0 1.1 1 3.9-.4 .8 1.1 3.7 .1 2.5 .6-4 0-2.3 .3-1.1 .2-3.7 .6-2.9-.6-.9 .6-3.1-.1 1.1 .6 4.1 .6 2.6-.6 2.2 .7 2 .5-3.5 .1-2-.3-3.2 .6-.9 .3-2.5-.5-3.1 .5-1.6 0 3.7 .3-.1 .4 2.4 .3 3.9 .6 1.1 .1 3.4-.1 2.3 .9 2.3 .1 3.8-.1 .5 .7 3.1 .2 2.3 .5-2.4-.1-3 .2-1.4-.4-4.8 .1-1.8 .7-2.9-.1-1.5 .4-4.2-.1-1.9-.5-1.7 .8-2.8-.7-1.5 .4-3.6 .2-3 .5 2 0 2.9-.1 1.9 .9 3.7 .4 1.7-.1 4 .1 1.1 .9 3.9 .2 1.3-.1 2.1-.1 2.1 .3 1.3 .6 3.1-.2 3.1 1 3.7-.2 1 .2-3.5 .6-2.4 0-2.5 .7-1-.3-3.2 .3-1.7 .5 3.8 .3 .1 .5 4.5 .5 1.1 .7 1.6 1 .8 .5-3.1-.1-2.1-.6-4.1 .8-1.4-.4-1.4 .2-3.9-.3-1.9 0-3.5 .6-2.3-.6-3.8 .6-1.2-.5-1.8 .4-4.2 .1 1.7 .4 3.6 .9 3.9 .3 1.6 .2-2.1 .3-3 .6-3.4 .7-2.3 1.7 0 0-1.7 .8-3.1-.2 3.3 .3 2.1 .4 2.2 .3 3.8-.4 .8 .6 1.9-.3 3.4 .6 1.7-.3 3.6 .2 3.5 .1 .5 .3 3.6 0 3.8-.4 3.3 .3 1.2 .2 3.2 0 3.1 .2 1.4-.3 2.3 .4 5 .1 .6-.2 4 0 2.8-.2-3.5 .9-.7-.6-2.7 .6-3.9 .1-3.1-.2-3.2 .4-1 .3-2.8-.2-3.2 .4-2.4-.1-2.2 .3-1.7 0-2.6-.1-3.6 .9-2.8-.5-2.7 .6-1 1.1-2.4 .6 0 .4-2.2 .7-1.9 .1-1.9 .1 1.2 .4 4.7-.1 2.8 .2 2.2 .3 2.3-.7 3.3 .6 1.5 .6-3.6-.7-2.2 .2-2.6 .2-3.1 .1-2 .4-1.8 .3-4.3 .7-.5-.3-3.9 .4-3.5 0-2 .2-3.9 .2-.6 .5-2.4 .2-3 .4-2.2-.1-3.9 .4 2.4 .1 3.4 .3 2.9-.2 1.1 .1 2.9 .5 4.2-.3 2 .4 2.6 .7-3-.4-1.9 .5-4 .3-3.1 .5-1.1 2.3 0 .5 1.5 1.2 2.1-.3 .9 .5 5.2 .4 .5 .2 1.7-.7 2.2 0 4.1 .5 2.1 .4-2.6 .2-2.7 .3-2.1-.2-3.8 .1-1.8 .5-3.2-.1-1.7 .7 2.7 1 .9 1.8 1.1 0-2.2 .5-2.1 .6-2.8 .2 1.5 .1 3.7-.4 4 .5 1.1-.1 2.2-.1 2.6 .1 5.2 .1 .1-.1 4-.1 1.8-.1 3.6-.2 3.4 .2 1.6-.1 2.8 .8 2.7-.8 2.9 .9 1.9-.6 3.1 .4 3.5-.6 3.9 .3 2.2 .1 3.3-.4 .8 .3 2.9 .2 3.4 .4-2.6-.3-2.6 .5-2.3-.3-2.4 .3-3.3-.1-3.4 .1-.3-.1-4.1 .4-1.9-.3-3.1 .6-3.7-.5-.5 .5-3.3 .4-4-.7-1 .3-2.6-.2-3.3 .2-3.1 .6-2.2 .3-1.7-.2-2.6-.3-3.8 .2-2.3-.1-1.9 .4-3.8 .3 2.9 1 2.5-.2 1.9 .5 1 1-3 .3-.3 .3-2.6 .8 1.7 .9 3 .1-2.6 1.2-2.4-.2-1.8 .6-2.7 .5 2.3 .5 1 .6 2.7-.4 3.5 .7 .8 0 3.6 .1 3.5 .4 .8-.3 3.5 .3 2.2 .1-1.4 .3-4 .7-2.6 .6-2.8 .3 1 1.1 2.6 .6-1.6-.6-3.4-.1-3.5 .3 .1 .2-4.7-.1-2.8 1-.6-.4-3.2 .6 3.5 0 .9-.5 2.6 0 2.3 .7 3.5-.5 2 .9 4.2 0 2.2 .3 2.1-.3 2.4 .1 2.8 .1 1 .2 3.9 0 1.4 .3 3.5 .5 3 .6 2.6 .2 3.4 0 1.3 0 2.7 .3 3.1 .5-1.6 .5-4.2-.2-3.5 .7-2 .3-1.8 0 1.5 .6 1.8 .9 3.2 .2 1.8-.1 3.4 0 3.1-.1 1.7 .7 3.1-.2 3 .2 2.1-.5 1.1 .5 3.7-.3 3.3 .4 1.9 .1-2.8 .3-1.6 0-3.5 .5-2.4-.1-3.8 .3-1.8 .4-4.1 0-1.6 .2-2.4-.1-3.9 .9-2.8-.2-1.7-.2-2.7 .3-2.2 .5-2.2 .6-3.7-.3-.5 .5-4.4 .2-1 0 1.5 1 2.5-.2 2.2 .6 2.2 .6-3.4 .7-1.4 .5-2 .2-3.3 .6-1.4 0-4.1 .5 .8 .2 3.9 .2 2.1 .5 1.6 .1 3 .4 2.8 .5 2.7-.1 2.6-.3 2.4 .6 1 .3 3.1-.1 3.5 .4 3.4 0 1.8 1.7 0 .6 3.7 .5 1.3 .7 2.2 .8-2.5 .1-.1 .2-3.4 0 2.8 .9 1.3 .3 1.9 .4-1.3-.4-3.5 .6-1.8 .5-2.1 0-4.5-.2 .1 .3-3.6 .5 3.3-.5 2.6 .3 2.3 .2 3.2 .1 2.9-.1 1.2 .3 2.8-.5 3.8 .4 1.2-.2 1.7 .9 2.8-.3 3.3-.1-1.7 .1-3.1 .4-2 .1-4.3-.1-2.5-.2-3.3 .3-2.1 .7-.8-.3-4.7 .3-1.9-.1 3 .3 1 .1 3.1-.3 4 .1 1.6 .7 2.9 .2 1.9 .2 1.7 .1 3.7-.8 2.1 1 3.9-.1 2.8-.6 1.1 .6 3.1 .1-1.4 .6-4.9 .2-1.5-.4-4 .2-1.4 .2-3.3 .7-2.1-.5-1.8 .4-3.5 0-2.9 .1-3.1 1.1-1.5-.3-2.5 .3-3.2 .3-2.4 0-3.7-.1-2.6 .5-2.9 .5-1.6-.2-2.6 .5-2.8 .2-1.7 1.7 0 1.3 1.7 .5 1.9 1.2-1.2-.3 1.5 .9 4.2-.4 3.1-.1 3.3 .9 2.1-.7 2 .6 2.9 .4 2.9-.5 1.5 0 3.4 .2 2.3 .8 3.9-.2 2.3 .1 1.7 0 3.3 1.1 .6 .1 2.1 .7-.4 .3 1.8 .1 6.4 .1 .5-.9-2.6 .9 7.5 .2-6.7-.2 4.5-.1 .4 .6 4.1 .1 .5-.3 2 1 3.4-.2 4.8-.9 1.2 .2-4.9 .9 6.9-.1-.9 .3 1.2-.7-.4 1.2 10.2-.7-3.4-.1 5.1 .4-4.1 .1 4.8 .7 2.5-.8-6 .5 .2 .4-4.8 .2 1.4 .5-2.7 .2-1.4 .4 1.3 .5 1.2-.1 6.3-.1-1.7 .4 2.7-.7-1.2 .1-2.2 .8 4.5-.4-1.3-.2 7.7 .6-.7 .6 6-.1-2.3 .3-4.2 .4-1.9-.5 2.7-.3 .7 .4-3.3-.5-.4 .2-3.6 .6-4.4-.5-1.5 1 1.5-.7-2.5 .3-4.5-.7-3 .7 3 .6-1.4-.1 1.9-.5-6.9 0-2.1 .5 .3-.9 2 .6-5.9 .5 3.6 .5-.3 .4 .3 .3-5.1-.4 4.4 .5-7.2 .8 4.4 .1-4.9-.6 2.1 .3-2.3 .8-5.2-.1 .7 .5 1.4 1.9-.2 1.1-1.1 .6-.7 .4-4.8-.2 .4-.1-2.7-.3 .8 .6 1.9 .2-5.4 0-1.5 .3 2.8-.2-1.9 .5 2.7-.7-.5 .5 6.4 .5-.3 .4 0-.5 5.5 .5-1.5 .5-2.2-.4 9.3 .6-4.7 0 4.8-.3 1.2 .7-3.3-.2 1.3 .5-4.5-.7-3.6 .5-2.2 .4-.9-.8 5.9 .5-3.5-.1-6.5 .1 5.4-.1-2.4 1.1-3.8-.8-1.1 1-3-.8-1.5 .5-2.6 .7 2.5-1-2.1 .8 .2-.8 4.7 .5 2.8-.1 2.3 .9-.7 0 3.7 .3 2.1 0 1.5 .3-2.8-.8 9 1-6.5 .2 7.3 .1 2.5-.4-.2 .2-5.3 .8 4.1-.1-5.8 .1 4.7 .4-8.4 .4 1.1 .8 3-.8-8.8 .9 .3-.1 1.3 0-2.4 .1-5 .7 .5 .1-.9 .6-1.7 .1 2.8-.7 .1 .1 9.9 .1 .3 .9 .3-1-.9 .1-.1 .3 .9 .6 5-.5-.9-.1 .3 .5 1.2 .2 3.4 .4 1.7 .2 8.1 .1-5.2 .1 3.9 0 1.6-.3-.3 .3 2.7-.2 2.8 .5 .4-.5-8.1-.1 2 .2-.1-.4-2.7 1.2 2.9-.2-4.1 0 1.3 .3-6.7-.3 2.8 .1-4.8-.2-1.1 .3 1 .7-1.1 .1-10.7-.6 2.7-.1-2.7 1.4 .9-.3-5.5 .8 2.5-.1-2.1 .2 7.2 .3-4 .9 1 .6 6.3-.2 0 .6 .5-.2-6-.3-.5 0 3.3 .1-2.7 .4-8.4-.5 3.1 .8-4.9-.7-.3 .4-1.2 .7 .1-.8-4.1 .3-3.4-.1-2.5 .4 5.9 .4-4.2-.6-2 .3-5.2 0 1.4 .1 1.6-.4 1.1 .9 3.5-.6-2.1 .4 4.6-.3 .8 .2 3.1 .7-.7-.4 3.4 .2-1.4-.5 8.1-.1-.7 .2-.1 .3-.8-.3 8.4-.1-6 1 3.8-.7 5.4 1.1-3.7-.3 3.4 .5 3.5-.1 2.3-1-.4 .9-1.1-.8 9.5 1.2-1.6-1.1 2.1 1.3 2.5-.3-1.6-.3 2.2 .2 2.4-.1-9.7-.4 6.7 .7-1.8-.7-9.5 .8 1.5-.3-3.5 .5 3.6-.1-5-.2-1.9 0-2.3 0 4.4 .5-9.4-.2 4.8-.4-1 .9-9.3-.4 1.3-.2 0 .6-.9 0-5.2-.1-.3-.7 2.3 .5-7.1 .5 .9-.3 3.1-.4-5.8 .3-4.1 0 4.8 .3-8.2 0 1.7-.4-1.1 .1-.6 0-1.2 .2-4.7-.2-1.5 .2 1.2 .8 9.8-.5-5.6 .7 7.4-.8-3.6 .5 0-.3 4.1 0-.8 .7 3.1 .5 7.8-.2-4.9 .2 2.2 .2 2.4-.1 4.7 .1 1.6-.4-4.1 .3 4.9 .1 2.8-.2-7.9 .6-.1 1-4-.7-3 .5 5.1 .5-3.6 0 3 .1-1.1 0-1.4 .8 8.1-1.1-3.4 1 4.5 0 4-.7 2.3 .1-4.9 .8 8-.5-2.4 .6 .7-.3 8.3-.4 1.1 1.1 2.1-.8-5.9 .4 4.5 .2-1.5 .8 5.3 .1 .9-.3 6-.3-5.3 1.2 5 .1 5.4 .2-2-.2 .5 .4-1.3-.6-3.6 1.1 .3-1.1-.6 1.4-1.8-.6-3.2 .3-.2 0 1.1 .6-2.8-.1-2.2-.6-3.8 .2-4.4 1-1.4-.1 4.1-.4-9.3 .2 2.8-.3 3 .8-1.1-.1-.2 .1 7.4 .3-.4-.3-3.7-.3 5.5-.2-1.6 1.3 7.4-.5 1.7 .5 1.1-.5-.7 .8 6.9-1.1 .4 .8-2.9 .1 1-.2 3.7 .4-1-.1-6.4 .5 6.9-.1-7.9 0-3.2-.2 .5 0-2.1-.5-.3 .3-4 .2-2.1-.3 6.4 .1-2.4 .6-8.9 .1 2-.5-1.3 .1-3.9 1 3.6-.7-5.8 1.1-2.5-1-2.2 1.1-.7-.2 4-.2-5.8 .5-4.4 .1-.4 .3 1.1 .9-.9-.3-.4 .3-4.5 0-1.3 .3 2.3-.6 2.8 .4-1.8-.1 10.4 .2-4 0 4.8 .1-1.2 .1 .4 .2 3.1 .1 .9-.1 .2-.1 4.4-.6-1.9 .6 7.7 .5 2.4 0 2.7-.7-6-.1 7.6 .1-2.8 0 7.2 .1-4.8 .6 6.1-.7 .4 .7 1.4 0 3.9 .4 2.3-.6-6.2 .2 1.5 .3 5.9-.1 1.8 .5 1.7 .2-2.7-.3-1.1 .7-6.3 0 1.2 .7 1.3-.3-1.1 .6 4.1 0 5-.1-1 .1-1.8 .6 8-.8-6.9 .8 1.9 .2 5.5 0-3.1-.1 2.6 .7-.2-.4-6.7 .7 2.1-.1-7.1 .1 2 1-.8 0 .2-.4-4.7 .2-1.6 .7 3.6-.4-3.6 .7 2.5-.4 1.1 .8 5.2 .5 1-.4 4.3 .3-2.2-.4-.7 1.3-4-1-3.7 0 4.2 .7-.7 .7-9.1-.6 .6 .1-3.8 .1 1.3 .5 .3 .8-5.6-.5 2.1-.1 2.3 .5-4.8 .4 1.9 1.2-4.5-.2-2.1-.2-2.4 1.3 .6-.1-2.8 .7-.2-.4-2.4 1.3-1.6-.3-3.6 .6 .8-.3 1.9 .1-8.1 .7 4.8 0-3.8-.5-3 1.2-.1-.5-5.2-.1 2.7 .9-.9 .2-4.1-1.2-2.2 .5-4.3-.3 6.4 1.2-9-1 6.4 .2-8 .2-2.5 .4 1.1-.5 1.3 1.1-2.1-.3 2.2 .5 8.9 .2-1.9-.9 3.4 0 2.1 .5 2.8 0 .1 .4-3.1 .1 3.5-.3 2.7 .6 3-.2 .9-.1 .7 .2 4.1 .5-1.1-.4-3.5 0-1.5 .7-2.3-.4 4.8 .3-8 .3 4.3 .5-1-.1-6.9 0-4.2 .4 5.8 .4-1.6-.2-1.9-.4-3.8-.1 2 .6-8.8 .1 1.5 .8 2.7-.9 3.7 .7-.6 .4-1.3-.6 4 0 2.8 .5-3.2-.3 1.2 .7 8.7 .4 .9-.1 1.2-.2-2.6 .3 2.8 .8-3.9-.3 1.3-.6-1.6 1.2 1.4-.3-1.5-.4-1.6 1-2.5-.1-3.7 .7-5.1-.7 3.4 1.1-6.6-.3 1-.1 1.6 .4-4.9-.2 4.2 .3-4.4 .8 1.5-1 .5 .5 1.5-.2 10.2 .3-.6 0-5-.1 2.5 .7 5.2 .7 1.2-.8-2.2 .6 4.1-.5 2.8 .8 .8-.1 .1 .1 .3 .5 10-.3-2.7-.2 4.3 .4 1.3-.1-1.3 .4-.5-.4 2.2-.1 7.6 .3 .4-.3 3.4 .6-.1 .2-.6-.4-.5 1.1-4.5-.8-.6 1 2.1-.8-5.7 1.3-1.8-1 4 .7-5 .7-2 0 1.4 .5-6.8 0 5.4 .3-5.3-.3 2.9 1-3.2-.4-4.4 .9 3.7 .8-3.7 .6-1.5-1-.6 .1-4.2 .6 0 .2 1.4 .4-6.4 .1-1.5-.8 2.5 .9-4-.2 1.5-.6-3.6 .9-7.2-1 6.4 .6-5.9 .4-1.3-.9-2.5 .9 1.1-.3-7.5 .7-1-.9 5.2 .9-2.6-.7-1 .5-3.2-.2-2.4 .5 2.2-.2-1.1 .4 .2-.8 6.5 0 4 .3-2.2 .2 1.8 .6-1.1 0 9-.4-5.5 .2 .6-.1 9.7 1.3-7 0 6.7-.8 4.5 .5-1.9-.3-.2 .9-1-.4-6.7 .7-.2 .1 2.7-.6-1.6 1.4-4.6-.4-2.2 .6-2.6-.9 1.2 .7-1.6 0-.9-.1 1.8 .5-6.7 .4-4.9 .4 5.9-.8-5.2-.1 1.6 1.4-3.4-.5-2.5 .6 2.4 .1 3.6 .2 1.4-.2 1.2 .6 2.7-.2 4-.2 1.8 .3 1.5 .2 3.6 .3 2.9 .4 3.2 .4 3.1-.5 1.9 .6 3.2-.4 1.3 .7 2.5 .4 3 0 1.6 .4 5.3-.3 1.2 .6-3.1 0-.8-.6-5.3 .6 0-.5-3.1 .7-3.7-.4-2.6 .4-3.5 .5-1.1-.6-3 .5-1.7 .5-2.8-.8-4.1 .2-1.7 0-2.4 .6-3.2 .4-2-.3-3.8 .3 3.1 0 2.3-.4 1.7 .8 3.3-.1 3.9 0 2.3 .6 3-.5 2 .4 2.6-.3 1.4 .3 4.4 .7 1.5-.1 2.8 0 2.8 .3-3.3 0-.7 .8-5.2-.6-.4 .6-3.4 .3-2.8 .6-4-.2-1.7 .5 1.8-.6 2.6 .6 4 .2 3-.2 .8 .5 3.1 .3 2.2-.4 3.4 .8 .4 .2 2.3-.2 3.9 .3 2.9-.2 .9 0 4.1 .4 3.1-.2 2 .2 .8 0 2.7 .1 2.3 .9 3.4-.3 3 .3-3-.2-3.2 .5-2.8 .1-1-.1-4.8 .2-1-.3-3-.1-1.5 .6-2.8-.7-3.9 .6-3.7 .2-1.1-.7-4 .6-1 .4-4.5-.1-1.8-.4-3.7-.2-3.3 .4-2.5-.2-2.1 0-3 .2-.5 .3-4.1 .4-1.6 .6-1 .5-3.4 .4-1.4 .1-3.2 .1-3.9-.1-2.6 .4-2.9 .1-2.8-.5-1.1 .3-4.3-.3-.7 .1-3.7 .7-2.8-.2-3.6 .1-1.7 1 2.3 .3 1.4 .4 2.3 1.1 1.5 .7 2.1-.1 2.2 .8 4.2 0 2 .6 2.6-.2 2.2 .7-3.1 .1-1-.1-2.8-.2-4.1 0 .2 .7-3.6 .1-2 .3-1.4 .5-3.8 .2-2.7 .1-1.5 .7 1.5 .2 3.6-.4 3.9 .3 1.5 .4 .9 .5 3.6 1.1 0 .6-2.4 .8-2 .1-4.1 .8-2-.1-2.1 .4 1.2-.1 3.9 .5 2.2 .2 1.4 .4 3.9 .7 2 0 2.4 1 2.8 .3 3.4-.2 .9 .3 4.1 0 3.9 0 1.4-.2 1.5 .2 2.9 .1 2.5 .9 4.1-.4 2.7 .2 2.5 0-1.5 .8-3.9-.4-3.8 .3-.5 .3-3.4 .7-2.5 .2 2.3 0 4.2 .8 2.1-.2 3.2 .4 .4 0 3.4-.1 1.4 .3 3.1 .7 1.8-.2 2.8 .7 4 .3 1.3 .5-1.7-.5-2.6 .2-3.4 .3-3.7 .1-2.5 .4-2.7 .1-2.8-.6-1.9 .9-2-.2-3.1 0 2.8 .3 3.2 .2 1.3 1 2.3-.6 3.6 .4 3.4 .4 2.6 .2-3 .5-.4-.1-2.6 .3 1 .5 3 .9 2 .4-1.8-.2-2.1 .9-3.6-.5-3.3 .7-2.8 .2-.6-.4-4.1 .7-1.5-.1 2.4 .8 3.7-.3 .2 .3 3.1 0 4.8 .1 1 .6 4.1-.4 1.6 .7 1.2 0 3.7-.4 0 .4 5.1 .9 1.3-.7 4.8 .8-3.6-.6 2.4-.4 2.8 .9 .1-.1 5.7 .1-.4 .5 2.1-.5 3.7 .7-6.6 .1 2.5-.1 6.1-.4 .3 .5 .1-.5-.1-.1 1 .2 8.2 .6 1.9 .7-2.4-1 5.8 .1-2.1 1.1-2.1-.7 6.5-.1 3.6 1-1.4 .2-2.4-.3 4.9 .9-.8-.1 1.4 .5-8.5 .5 3.2 .4-6 0 .1-.1 .3 .5 .5-.3-5.5 .7-3.1-.1 4.6 .2-8.2-.6 4.2 1.1-1.6 .4-1-.5-3.5 0 5.9-.2-6.4 .3 .8 .3 6.4-.4 2.3 .4 2.5 .5 2.5 0-5-.1 6.9-.4-1.1 .5 .6-.5 1.7 .5 6.2 .8 2.3 0 2.9-.5-1.8-.6 2.5 1.2-1.9-.2-.8 .5 4.7-.6-.3 .6 8.5-.5-2.5 .2 1.4-.1 .4 .7-.2-.5-4.8 1.5-6-.2 1.7-.4-2.2 .7 .3 .8-4.3-.6 4.5-.3-9.5 .8 4-.7 .4 1.1-3.9-.5 1.5 .1-.9 .5-2.5 .1-4.5 .7-3.2-.7 3.4 1-9.6-.5 1.9 .7 4.1-.7-3.4 0 7.3 .2 1.6 1.1 3-.7-.1 .2-5 1.2 1.9-.3 5 .9 5.7 .3-4.1 .6 1.9 .5-.2 .2-1.1-.6-7.7 .6 5.1-1-2.1 .3-4-.1-4.9 .4 4.4 .4-.3 .3-2.6-.8-1.3 .7-7.8-.9 5.9 .3-1.9 1.1-5.9-.5-4.8-.6 5.7 .8-7.1-.5-3.3 .8 .2-.9 3.7 .6-4.7 .2-4.3 .8 .7 .4-.3 .4-.8 .2-.7 .1 8-.2-3.5 .5 1.8 0 3.2 .9-3-.5 9.3-.4-1.1 .6-.3 .7-.8-.2 3.8-.4-.3 1.4-3.4 0-1.1-.2-.2 .3-1.7 0-1.1-.4 0 .6-5.2 .1-3.1-.3 3.7 .4-5.5-.3 .3 .5 2.9-.6-.5 1 .4-.4 1.4-.5 9.8 .6-3.2-.5-1.2 .6 8.9 .7-3.4-.6 0 .5 .8-.7 2.2 .7 8-.4-3.4 .7-.6-.2 3.7 .3 1.1 0 7.2-.8-4.4 .5 .4 0 3.8 .2-.3 0 3.2-.1 6-.5-2.2 .5 3.3 .4 .3 .3-7.8-.5 1.5 .7-.1-.6-4.8 .2 .2-.4 1.2 1.2-3.7-.5 3 .8-.8-.2-8.9-.4 0 .7 2.6-.3-4.2 .6-4.8-.7 6.4 .4-5.3 .2-.3-.4-.7 1.4-2.6-.6-1.5 0-.8 .9-3.2 .1-.6-.2-3.4 .6 2.2 .1-1.5 .1-9.5-.5 6.2 0-2 1-8.6 .4 3.9-.8-5.2 .8 1 0 .6 .1-5-.1 4.9 1.1 1.5-.6-4.2 .3 3 .4-1.3-.3 1.6-.1 3.6 .7 6.1 0 2.4 .3-2.1 .6 5.6 .6-3.2-.2-3.2-.2 2.7 .6-.1-.1-3.3-.4-.1 0-8.6 1.2-2.8 0 7.1-1.1-7 1 3.6-.3-2.3-.2-3.1-.4-2.5 .2-1 .2-8.1 .2 .3 .1-3.8 0 .4-.1 2.1 .6-2.9-.4-3.4 .3 2.6-.5-7.4 .7-.3 .1 1.1-.9-3.6 1.2 3-.3-.1 .4-3.6-.1-4.3-.4-1.6 .5-.5 .2 8.2-.2 1.4-.1-1-.7 2 0 3.2 1 1.4 0-4.1-.2 3.6 .5 2.7-.6 2.7 .5 .8-.5 1.9 .3-3.7-.3 2 .4 1.2 .3 6.2-.8 2.6 1-4.7-.1 5.7 .3 5.8-.3 .5-.5 1 .4-.6 .5 .7-.2-6.4 .1-2.3 .6 3.3 .2-.6-.3-3.3 .9-1.4-.7-4.8 .7 .4 0 2.2 .6 2.9-.2 4.4 .6 2.7 .2 .4-.1 5 .6 1.6 .4 1.1 1.4 3.6 .2-2.8-.4-2.8 .6-3.1 0-2.3 .2-.7 .3-3 .3-4.7-.5-.2 .5-3.8 .5-3.1-.3-.9 .4-4.8-.1-1.3-.1 3.8 .5 1.2 .4 3.1 .1 1.9-.1 3-.5 3.5 .6 1.6 0 3 .3 2.9 .2-1.3 .1-2.7-.3-5.4-.1-.3 0-2.9 .9-2.5-.4-4.4 .4-2.7-.7-1.8 .9-1.2-.3-5.4 0-1.5 .3-2.9-.2-1.2 .4-4.5-.1-3.2 0-2.8 0-1.2 .4 2.2 .5 2.9-.5 3.3 .4 1.9 .5 2.1 .1 1.5 0 2.6 .4 3.8 .2 2.4 0 2 0 4.1 1.1 .6 .3 3.6-.2 1.7 .1-3.2 .3-1.1 .2-3.8 .3-3.3 0-.5-.6-5 .8-1.2-.4-4.5 .9 .2 .1-5.4 0-1.6-.3-3 .5-2.4-.4-3.7 0-1.6 .6-2.4 .3 2.9 .3 3.6 0 1.6-.3 3.1 .2 1.2-.1 3.5 .1 2.7 0 3-.1 1.4 .7 4.4-.6 2.9 .6 1.2-.4 2.2-.2 2.9 .9 4.8-.2 2.6-.5 1.4 1 1.9-.9 4.6 .6 1.4 .2-1.4-.4-2.9 .6-2.6-.2-5.1 .4-1.7-.3-3.2 .1-1.3 .7-4.2-.4-.5 .1-3.3 .1-2 .5-4.8-.2-.9 .1-4.2 .2-3-.2-2.4 .4-.6 .6-3.9-.2-2.3 .4 3.6 .3 .8-.1 4.6 .2 .1 .3 4.8-.1 .4-.3 2.5 .6 4.4-.3 3.3 .5 .6 .2 3.6 .3 2-.2 2.4 .7 2.4-.3 2.7 .5 4.2 0 1.1-.2 4.9 .7 .1 .2 4.9 .1 1.7-.2-1.4 .2-4.1 .4-1.1 .2-3.3 .4-3.9 0-2.1 0-3.5 0-.3 .9-5-.2-1.7 .6 2.2 0 3-.1 2.4-.3 2.9 .4 3.8 .5 .8 .3 3.5 0 3 .3 1.1 .2 4.2-.2 1.9 .4-1.9-.4-1.9 .5-2.7-.3-4.4 .6-.5-.1-5.1-.3-1.4-.2-3.1 .7-.9 .2-2.6-.4-2.7 .1-4.3 .5-2.6-.1-1.8-.2 3.2 .3 2.4 .2 2.3 1 2.3-.4 4.1 .9 1.4 .1 1.9-.5 2.6 .8 4.3 .1 1.8-.2-3.8 .3-2.3 .1-1.2 .2-2.7 .3-2.2 .1-2.5-.1-3.9-.1-3.7 .3-.8 .6-3.8-.4-3.1 .3-2.3 .5-2-.4-3 .2-1.5-.2-3.2 .2-3.8-.1-3.1 .5-2 0 1.8 .5 2-.1 3.8 .4 2.5-.2 1.6 .7 4.6-.4-.2 .5 3.7 .6 4.1-.3 2.5 .3 2.5-.3 0 .9 3.9-.5 3.6 .1 .9 .9 4.2-.1 2.3 .2 2.3 .5-2.8 .2-1 .3-1.6 .7-3 .6 3.1-.6 1.7 .5 3.1 0 1.5 .1 3.7-.1 4.5 .8 2.6-.4 1.9 .6 1.4 .1 4.1 .1 2.2 .1 2.5-.2-3.4 .2-2 .2-3.5-.3-.4 .4-3 .6-4.8-.6-2.5-.1-2.7 .7-1.3-.4-3.2 .6-2.1 .1-2.6-.5-4.6 .7-1.7 .1-1.9 .1-2.7-.2-2.2 .3-3.9 .2-3.1-.2-2.2 0 2.9 .8 1.5-.5 2.5 .4 3.8 0 2.3 .1 3.4-.1 2.4 .1 2.7 .5 2.4 0 3.9 .1 1.9 .8 2.2-.4 3.6 .2 3 .6 1.1-.3 3.5 .1-2.8 0-2.3-.2-3.8 .2-2.2 .1-3.2 .7-1.7-.6-4.3 .4-1.2 0-4.4 .1-.5 0-3.1-.1-3.6 0-1.6 .5-3.4-.2-3.4 .5-3.5-.3-1.9 0-2.2 .5 3.9-.1 1.8-.2 3.2 .4 2.2-.3 .9 .8 2-.5 3 .9 4.1-.4 1.7 .8 3-.1 1.7 .2-2.7-.2-3.4 .5-2.6 .3-2.9 .1-2.8 .2-.8 .3-4.1 .2-3.5-.3-2.3 .1-3.4 .3-1.4 .3-2.4 .8-3.2 .6-2 0-3.2 .4 3.7-.3 2.5 .2 1.3 .3 3.9-.6 2.7 1 .7 .1 3.9 .1 2.6-.4 3.4-.1 1.5 .5 3-.6 2.5 1 4-.7 2.1 .5 1.7 .3 5 0 2.2-.2 1.1 .4 4.5-.1 1.6 .5-3.8 .5-.5-.1-4.8-.2-3 .8-1.4 .5-3.9-.3-1.8 .3 2.1 .8 4.1 .3 1.9 .1 2.7" fill="none" stroke="#1f77b4" stroke-width="2.15" stroke-linejoin="round" />
<path d="M734.6 556.1l.5-2.5 .3-1.1 2.1-1.2 .5 1.2 .1 2.6-.5 3.9 1.1 2 .1 4.1-.2 2.1 .3 1.6-.3 3.6 .6 1.7-.1 1.4 .6 4.8 .2 2.7-.1 2.7 0 1.5-.2-3.8 .5-.7 1-4.7-.1-1.6-.1-3.9 .4-1.8-.2-3.4 .6-2.7 .3-.6-.4-2.2-.1-2.3 .3-4.2-.2-2.9 .5-1.5 .3-3.2 .6 2.5-.2 2.4 .7 3.6 .5 2.5-.1 1 .4 1.7-.4 2.8 .5 3.3-.1 4.3 .4 0 .2 3.3 .9 2.1-.2 4 .2-1.9 .4-3.7-.1-2.3 .7-1.6 .4 1.5-.6 2.3 .2 4.4 .6 .9-.2 2.6 .3 4.4-.1 3-.1 2.6 .7 .1-.4 5.4 .9 1.2-.3 2.7 .1-1.8 .3-4.2 .1-1.4-.3-4 .2-1.2 .9-1.5 .1-4.9 .1-2.1 0-1.7-.1 2.9 .2 1.4 .4 3.8 .9 1.4-.2 3.7 .8 2.7-.1 1.7 .4 3.8 .4 2 .2-1.5 .4-5.1 .9-1.4-.1-2.2 .2-2.1-.1-2.4 .9-4.3-.2-2.3 .7-2.3 .1-2.8 .1-1.8 .2 2.1 .2 3.4 .8 2.1 0 3.2 .1-4 .6-1.6-.3-2.6 .7-2.6 0 2.1 .3 2.1 .3 2.6-.1 3 .5 2-.2 2.5 .6 3-.2 3.1 .6 .9-.4 3.6-.2 1.4 .8 3.3-.1 1.6-.1 3 .5-1.4 .3-3.5 .2-1.8 .3-3.3 .3-2.2 .1-1.6-.1-1.4 .7-3.8 0-2.5 .6-1.9 .3 4 .1 2-.2 2.9 .4 2.4 .1 3.1 .5 1.2 0-2.3 .2-3.3-.2-3.5-.2-1.2 .3-2.6 0-3.9 .3-.3 .3-2.8 0-3.3 .1-4.5 .3-1 .1-3.3-.3-1.2 .2-3.9 0-2.4 .5 1.3-.3 4.5 .4 3.7-.7 1 .5 3.9 .1 .4-.2 4-.1 3.1 .8 2.4 0 1.1-.3 4.6 .4 2-.5 3.2 .6 2.1-.6 2.7-.1 2.3 .4 3.6 .4 1.1-.7 3.5 .3 1.5 .5 4.7-.2 1.9 0-1.5 1-3-.2-3.1 .3-2.9 .4-1.2 .2-3.1 0-3.1 .3-2.2 0-3.3 .4-2.2 .4-3.4-.4-1.7 .6-4.6 .6-1.6-.1-2.6 .1-3.2 1.1-1.6 0-2.7 .3-2.6-.1-3.4-.1-.9 .6-2-.5-4.3-.1-2.6 .6-1.3-.3-3.5 .7-.6-.3-3.6 .1 2.4 .1 3.1-.2 1.8 .8 4-.4 .3 .7 3-.6 2.3 1 1.7-.1 5.3 .3 2-.2 1.6 .2 1.2 .2 5-.3 .2 0 3.4 .4 3.8 .3 2.9-.4 1.5 .1 3.5 .6 .5 0 3.2 .6 3.5-.2 1.8 .4 1.9 .5 2.7-.6 1.5 .3 2.6 .6 2.7 .2-3.6 .3-1.5-.1-2.2 .3-3 .4-.6 .3-3.4 .1-1.7 1-1.6 .4-3.5 .2-1.6-.3 2.1 .1 4.3 .6 2.3 .4 1.9-.5 1.7-.1 2.8 .1 4.4 .9 1-.6 4.3 .9 1-.1 4.2-.1 2-.2 2.7 .4 2.6 0 2.2 0-1.6 .4-4.3 .1-2 .1-3-.2-2.8 .2-2.2-.6-1.7 .1-2.7 .8-4-.1-1.3-.2-5.3 .1-1.3 0-1.8-.3-2.9 .3-3.3 .5-2-.5-3.1-.1-2.8 .1-3.2-.1-4 .4-2.8 .3-1.9-.1-3.5-.3-1.9 .2-2.7 .5-1.2-.2-3.7-.2 4.1 .1 2.6 .2 .1 0 4.7 .2 2.9 .3 1.4-.5 4.2 .5 .6 0 4.3 .4 4-.8 .5 .4 4.9 .2-.1 0 4.7-.4 3.5 .9 1.5-.4 2.8 .7-1.3-.4-2.6 .3-2.6 .1-3.6 .3-1.6 .4-3.9-.2 1.2 .2 4 .4 2.5-.1 3.3 .2 1.9 .9 2.5 .1 3.7-.7 1.7 .7 2.5 0 2.4 .3 3 .5-3.6-.1-1 .8-1.7-.4-2.7 .2-3.7 .7-1.6 .6-2.2-.3-2 .4-2.7 .5-3.9 .1 2.4 0 4.1 .6 2.7-.3 1.9 .4 3.2 .2 2 .5 1.9 .3 2.3 .1 2.9-.2 1.9 .4 2.2 .3 3.4-.1 3.2-.1-3.6 .3-.7-.2-2.8 .4-4.2 .1-.9 .6-4.1-.6-1.2 .3-3.6 .8-4.5-.2-1.3 .2-1.9-.2-3 0-1.5 .3-5.1 .2-.4-.2-2.9 .2-3.4 .3-3.6-.8-1.3 .9-3-.5-2.6 .4-4-.2-2.7 .1-.1 .3-3.6-.3-2.8-.1 1 .4 3.5 .7 1.5 .4 3.6 .8-1.6 1-3.2-.3 1.2 .4-3.1 .3-.5-.5-1.7 .9-7.2-.1 .5-.6 2.9 .6-4.9-1 1.4 .1-6.8 1.1 3.3-.1-2.8-.1-6.7 0-1-.3 5.9 .2-7.1-.4 .3 .2 1.8 .1-5 .2-4.6 0-4.3 .6-1-.2 .7-.1-2.8-.2 .4 .4-1-.4 2.6-.3-4.2 .6-3 .7-1.3 .8 5.5 .3-.6 1 .9 .1 .7 .5-6.8 .1 .4 .8-2.2-.1 2.2 .2 3.7-.5 2.5 1.1 4.2 .3-1.2-.6 6.7 .2-.1 .4-1.4 .6-2.3 .8 4.2-.3 6.2 .6-2.2 .8-1.7 .7 .5 .3-2.3 .8 1.3-.5-1.9 .7-7.4-.3 1.1 1.1 2.5-.1-4-.4 1 1.2-1.3 0 6-.3 .5 .8 3.8-.6-1.2 1 5.6-1.1 2.3 .9-3-.3 5.5 .5-1.3 .6-2.8 .6-2.3-.4 .8 1-1.7 .5-5.8-.5-.5 .5-2.3-.5 .7 1 .5-.9 1.2 .2-.6 .1-6.4 0-2.9 1-2.1-.2 1.5 .9-3.5 .8-3.8 .2-1.6 .4 2.9-.5 5.4 0 .6 .4-.8 .5-1.1-.8 4.8 .7 1.9-.5-.5 .4 .7 .2-1 .6 10-.2-4.5-.6 7.3 .3-.7 .4-3.7-.4 7.5 .2-2.2 .4 2.7-.6 3.9 .8-.2-1.1 2.6 .3-.8-.1 5.4 0-.4 1.3 1-.8-2.1-.3 7.1 .5 .2 .9 6.2 .4-1.9-.6 2.5 1.1-.8 .8 1.7 .9-.5 .3 2.7-.2-10.2 .5 3.2-.2 .4 1.3-5.4-.3 4.5 0-8.3 .4 1.1 0-2.5 .8-2.1-.2 4.2-.7-8.5 .7-2.6 .7-2-.5-2.4 .7-.6-.7-.5 .5-3.4 .9 5.5-.5-4.2 0 .6 .1-1.8 .3 0-.6-4.7 0-.8 1.1-6.4-.8 6.6 .9-10.4-.3 6.2-.4-9 1 6.9-.9-5.4 .4-2.2-.2-.7 .1 1.4-.2 4.1 1.1-.1-1.2 7.2 .8-.8-.4 .7 .4-3-.5 5.4 .1 1.9 .6 5.5-.3-3.7-.6 1 .6 4.2 .3-1.1-.8 4.4 .1 2.7 .4 5.1-.1-2.4 .6-2.8-.4 5.4 .5-2.2 .3 1.1-.8 9.4 .8 2.5-.6-4.5 .2 4.9 .5 2.5-.5-3.4-.5 6.2 .5-.4-.3 2.7-.2 5.1 .4 1.2 .8 .5-.9-3.3 .4 4.3 .5 3.8 .2-1.9-.4 1.5 0 5 1-.1 .2 4-.4-1.5 0-1.1 1-3.9-.4-.8 1.1-3.7 .1-2.5 .6 4 0 2.3 .3 1.1 .2 3.7 .6 2.9-.6 .9 .6 3.1-.1-1.1 .6-4.1 .6-2.6-.6-2.2 .7-2 .5 3.5 .1 2-.3 3.2 .6 .9 .3 2.5-.5 3.1 .5 1.6 0-3.7 .3 .1 .4-2.4 .3-3.9 .6-1.1 .1-3.4-.1-2.3 .9-2.3 .1-3.8-.1-.5 .7-3.1 .2-2.3 .5 2.4-.1 3 .2 1.4-.4 4.8 .1 1.8 .7 2.9-.1 1.5 .4 4.2-.1 1.9-.5 1.7 .8 2.8-.7 1.5 .4 3.6 .2 3 .5-2 0-2.9-.1-1.9 .9-3.7 .4-1.7-.1-4 .1-1.1 .9-3.9 .2-1.3-.1-2.1-.1-2.1 .3-1.3 .6-3.1-.2-3.1 1-3.7-.2-1 .2 3.5 .6 2.4 0 2.5 .7 1-.3 3.2 .3 1.7 .5-3.8 .3-.1 .5-4.5 .5-1.1 .7-1.6 1-.8 .5 3.1-.1 2.1-.6 4.1 .8 1.4-.4 1.4 .2 3.9-.3 1.9 0 3.5 .6 2.3-.6 3.8 .6 1.2-.5 1.8 .4 4.2 .1-1.7 .4-3.6 .9-3.9 .3-1.6 .2 2.1 .3 3 .6 3.4 .7 2.3 1.7 0 0 1.7 .8 3.1-.2-3.3 .3-2.1 .4-2.2 .3-3.8-.4-.8 .6-1.9-.3-3.4 .6-1.7-.3-3.6 .2-3.5 .1-.5 .3-3.6 0-3.8-.4-3.3 .3-1.2 .2-3.2 0-3.1 .2-1.4-.3-2.3 .4-5 .1-.6-.2-4 0-2.8-.2 3.5 .9 .7-.6 2.7 .6 3.9 .1 3.1-.2 3.2 .4 1 .3 2.8-.2 3.2 .4 2.4-.1 2.2 .3 1.7 0 2.6-.1 3.6 .9 2.8-.5 2.7 .6 1 1.1 2.4 .6 0 .4 2.2 .7 1.9 .1 1.9 .1-1.2 .4-4.7-.1-2.8 .2-2.2 .3-2.3-.7-3.3 .6-1.5 .6 3.6-.7 2.2 .2 2.6 .2 3.1 .1 2 .4 1.8 .3 4.3 .7 .5-.3 3.9 .4 3.5 0 2 .2 3.9 .2 .6 .5 2.4 .2 3 .4 2.2-.1 3.9 .4-2.4 .1-3.4 .3-2.9-.2-1.1 .1-2.9 .5-4.2-.3-2 .4-2.6 .7 3-.4 1.9 .5 4 .3 3.1 .5 1.1 2.3 0 .5-1.5 1.2-2.1-.3-.9 .5-5.2 .4-.5 .2-1.7-.7-2.2 0-4.1 .5-2.1 .4 2.6 .2 2.7 .3 2.1-.2 3.8 .1 1.8 .5 3.2-.1 1.7 .7-2.7 1-.9 1.8-1.1 0 2.2 .5 2.1 .6 2.8 .2-1.5 .1-3.7-.4-4 .5-1.1-.1-2.2-.1-2.6 .1-5.2 .1-.1-.1-4-.1-1.8-.1-3.6-.2-3.4 .2-1.6-.1-2.8 .8-2.7-.8-2.9 .9-1.9-.6-3.1 .4-3.5-.6-3.9 .3-2.2 .1-3.3-.4-.8 .3-2.9 .2-3.4 .4 2.6-.3 2.6 .5 2.3-.3 2.4 .3 3.3-.1 3.4 .1 .3-.1 4.1 .4 1.9-.3 3.1 .6 3.7-.5 .5 .5 3.3 .4 4-.7 1 .3 2.6-.2 3.3 .2 3.1 .6 2.2 .3 1.7-.2 2.6-.3 3.8 .2 2.3-.1 1.9 .4 3.8 .3-2.9 1-2.5-.2-1.9 .5-1 1 3 .3 .3 .3 2.6 .8-1.7 .9-3 .1 2.6 1.2 2.4-.2 1.8 .6 2.7 .5-2.3 .5-1 .6-2.7-.4-3.5 .7-.8 0-3.6 .1-3.5 .4-.8-.3-3.5 .3-2.2 .1 1.4 .3 4 .7 2.6 .6 2.8 .3-1 1.1-2.6 .6 1.6-.6 3.4-.1 3.5 .3-.1 .2 4.7-.1 2.8 1 .6-.4 3.2 .6-3.5 0-.9-.5-2.6 0-2.3 .7-3.5-.5-2 .9-4.2 0-2.2 .3-2.1-.3-2.4 .1-2.8 .1-1 .2-3.9 0-1.4 .3-3.5 .5-3 .6-2.6 .2-3.4 0-1.3 0-2.7 .3-3.1 .5 1.6 .5 4.2-.2 3.5 .7 2 .3 1.8 0-1.5 .6-1.8 .9-3.2 .2-1.8-.1-3.4 0-3.1-.1-1.7 .7-3.1-.2-3 .2-2.1-.5-1.1 .5-3.7-.3-3.3 .4-1.9 .1 2.8 .3 1.6 0 3.5 .5 2.4-.1 3.8 .3 1.8 .4 4.1 0 1.6 .2 2.4-.1 3.9 .9 2.8-.2 1.7-.2 2.7 .3 2.2 .5 2.2 .6 3.7-.3 .5 .5 4.4 .2 1 0-1.5 1-2.5-.2-2.2 .6-2.2 .6 3.4 .7 1.4 .5 2 .2 3.3 .6 1.4 0 4.1 .5-.8 .2-3.9 .2-2.1 .5-1.6 .1-3 .4-2.8 .5-2.7-.1-2.6-.3-2.4 .6-1 .3-3.1-.1-3.5 .4-3.4 0-1.8 1.7 0 .6-3.7 .5-1.3 .7-2.2 .8 2.5 .1 .1 .2 3.4 0-2.8 .9-1.3 .3-1.9 .4 1.3-.4 3.5 .6 1.8 .5 2.1 0 4.5-.2-.1 .3 3.6 .5-3.3-.5-2.6 .3-2.3 .2-3.2 .1-2.9-.1-1.2 .3-2.8-.5-3.8 .4-1.2-.2-1.7 .9-2.8-.3-3.3-.1 1.7 .1 3.1 .4 2 .1 4.3-.1 2.5-.2 3.3 .3 2.1 .7 .8-.3 4.7 .3 1.9-.1-3 .3-1 .1-3.1-.3-4 .1-1.6 .7-2.9 .2-1.9 .2-1.7 .1-3.7-.8-2.1 1-3.9-.1-2.8-.6-1.1 .6-3.1 .1 1.4 .6 4.9 .2 1.5-.4 4 .2 1.4 .2 3.3 .7 2.1-.5 1.8 .4 3.5 0 2.9 .1 3.1 1.1 1.5-.3 2.5 .3 3.2 .3 2.4 0 3.7-.1 2.6 .5 2.9 .5 1.6-.2 2.6 .5 2.8 .2 1.7 1.7 0 1.3-1.7 .5-1.9 1.2 1.2-.3-1.5 .9-4.2-.4-3.1-.1-3.3 .9-2.1-.7-2 .6-2.9 .4-2.9-.5-1.5 0-3.4 .2-2.3 .8-3.9-.2-2.3 .1-1.7 0-3.3 1.1-.6 .1-2.1 .7 .4 .3-1.8 .1-6.4 .1-.5-.9 2.6 .9-7.5 .2 6.7-.2-4.5-.1-.4 .6-4.1 .1-.5-.3-2 1-3.4-.2-4.8-.9-1.2 .2 4.9 .9-6.9-.1 .9 .3-1.2-.7 .4 1.2-10.2-.7 3.4-.1-5.1 .4 4.1 .1-4.8 .7-2.5-.8 6 .5-.2 .4 4.8 .2-1.4 .5 2.7 .2 1.4 .4-1.3 .5-1.2-.1-6.3-.1 1.7 .4-2.7-.7 1.2 .1 2.2 .8-4.5-.4 1.3-.2-7.7 .6 .7 .6-6-.1 2.3 .3 4.2 .4 1.9-.5-2.7-.3-.7 .4 3.3-.5 .4 .2 3.6 .6 4.4-.5 1.5 1-1.5-.7 2.5 .3 4.5-.7 3 .7-3 .6 1.4-.1-1.9-.5 6.9 0 2.1 .5-.3-.9-2 .6 5.9 .5-3.6 .5 .3 .4-.3 .3 5.1-.4-4.4 .5 7.2 .8-4.4 .1 4.9-.6-2.1 .3 2.3 .8 5.2-.1-.7 .5-1.4 1.9 .2 1.1 1.1 .6 .7 .4 4.8-.2-.4-.1 2.7-.3-.8 .6-1.9 .2 5.4 0 1.5 .3-2.8-.2 1.9 .5-2.7-.7 .5 .5-6.4 .5 .3 .4 0-.5-5.5 .5 1.5 .5 2.2-.4-9.3 .6 4.7 0-4.8-.3-1.2 .7 3.3-.2-1.3 .5 4.5-.7 3.6 .5 2.2 .4 .9-.8-5.9 .5 3.5-.1 6.5 .1-5.4-.1 2.4 1.1 3.8-.8 1.1 1 3-.8 1.5 .5 2.6 .7-2.5-1 2.1 .8-.2-.8-4.7 .5-2.8-.1-2.3 .9 .7 0-3.7 .3-2.1 0-1.5 .3 2.8-.8-9 1 6.5 .2-7.3 .1-2.5-.4 .2 .2 5.3 .8-4.1-.1 5.8 .1-4.7 .4 8.4 .4-1.1 .8-3-.8 8.8 .9-.3-.1-1.3 0 2.4 .1 5 .7-.5 .1 .9 .6 1.7 .1-2.8-.7-.1 .1-9.9 .1-.3 .9-.3-1 .9 .1 .1 .3-.9 .6-5-.5 .9-.1-.3 .5-1.2 .2-3.4 .4-1.7 .2-8.1 .1 5.2 .1-3.9 0-1.6-.3 .3 .3-2.7-.2-2.8 .5-.4-.5 8.1-.1-2 .2 .1-.4 2.7 1.2-2.9-.2 4.1 0-1.3 .3 6.7-.3-2.8 .1 4.8-.2 1.1 .3-1 .7 1.1 .1 10.7-.6-2.7-.1 2.7 1.4-.9-.3 5.5 .8-2.5-.1 2.1 .2-7.2 .3 4 .9-1 .6-6.3-.2 0 .6-.5-.2 6-.3 .5 0-3.3 .1 2.7 .4 8.4-.5-3.1 .8 4.9-.7 .3 .4 1.2 .7-.1-.8 4.1 .3 3.4-.1 2.5 .4-5.9 .4 4.2-.6 2 .3 5.2 0-1.4 .1-1.6-.4-1.1 .9-3.5-.6 2.1 .4-4.6-.3-.8 .2-3.1 .7 .7-.4-3.4 .2 1.4-.5-8.1-.1 .7 .2 .1 .3 .8-.3-8.4-.1 6 1-3.8-.7-5.4 1.1 3.7-.3-3.4 .5-3.5-.1-2.3-1 .4 .9 1.1-.8-9.5 1.2 1.6-1.1-2.1 1.3-2.5-.3 1.6-.3-2.2 .2-2.4-.1 9.7-.4-6.7 .7 1.8-.7 9.5 .8-1.5-.3 3.5 .5-3.6-.1 5-.2 1.9 0 2.3 0-4.4 .5 9.4-.2-4.8-.4 1 .9 9.3-.4-1.3-.2 0 .6 .9 0 5.2-.1 .3-.7-2.3 .5 7.1 .5-.9-.3-3.1-.4 5.8 .3 4.1 0-4.8 .3 8.2 0-1.7-.4 1.1 .1 .6 0 1.2 .2 4.7-.2 1.5 .2-1.2 .8-9.8-.5 5.6 .7-7.4-.8 3.6 .5 0-.3-4.1 0 .8 .7-3.1 .5-7.8-.2 4.9 .2-2.2 .2-2.4-.1-4.7 .1-1.6-.4 4.1 .3-4.9 .1-2.8-.2 7.9 .6 .1 1 4-.7 3 .5-5.1 .5 3.6 0-3 .1 1.1 0 1.4 .8-8.1-1.1 3.4 1-4.5 0-4-.7-2.3 .1 4.9 .8-8-.5 2.4 .6-.7-.3-8.3-.4-1.1 1.1-2.1-.8 5.9 .4-4.5 .2 1.5 .8-5.3 .1-.9-.3-6-.3 5.3 1.2-5 .1-5.4 .2 2-.2-.5 .4 1.3-.6 3.6 1.1-.3-1.1 .6 1.4 1.8-.6 3.2 .3 .2 0-1.1 .6 2.8-.1 2.2-.6 3.8 .2 4.4 1 1.4-.1-4.1-.4 9.3 .2-2.8-.3-3 .8 1.1-.1 .2 .1-7.4 .3 .4-.3 3.7-.3-5.5-.2 1.6 1.3-7.4-.5-1.7 .5-1.1-.5 .7 .8-6.9-1.1-.4 .8 2.9 .1-1-.2-3.7 .4 1-.1 6.4 .5-6.9-.1 7.9 0 3.2-.2-.5 0 2.1-.5 .3 .3 4 .2 2.1-.3-6.4 .1 2.4 .6 8.9 .1-2-.5 1.3 .1 3.9 1-3.6-.7 5.8 1.1 2.5-1 2.2 1.1 .7-.2-4-.2 5.8 .5 4.4 .1 .4 .3-1.1 .9 .9-.3 .4 .3 4.5 0 1.3 .3-2.3-.6-2.8 .4 1.8-.1-10.4 .2 4 0-4.8 .1 1.2 .1-.4 .2-3.1 .1-.9-.1-.2-.1-4.4-.6 1.9 .6-7.7 .5-2.4 0-2.7-.7 6-.1-7.6 .1 2.8 0-7.2 .1 4.8 .6-6.1-.7-.4 .7-1.4 0-3.9 .4-2.3-.6 6.2 .2-1.5 .3-5.9-.1-1.8 .5-1.7 .2 2.7-.3 1.1 .7 6.3 0-1.2 .7-1.3-.3 1.1 .6-4.1 0-5-.1 1 .1 1.8 .6-8-.8 6.9 .8-1.9 .2-5.5 0 3.1-.1-2.6 .7 .2-.4 6.7 .7-2.1-.1 7.1 .1-2 1 .8 0-.2-.4 4.7 .2 1.6 .7-3.6-.4 3.6 .7-2.5-.4-1.1 .8-5.2 .5-1-.4-4.3 .3 2.2-.4 .7 1.3 4-1 3.7 0-4.2 .7 .7 .7 9.1-.6-.6 .1 3.8 .1-1.3 .5-.3 .8 5.6-.5-2.1-.1-2.3 .5 4.8 .4-1.9 1.2 4.5-.2 2.1-.2 2.4 1.3-.6-.1 2.8 .7 .2-.4 2.4 1.3 1.6-.3 3.6 .6-.8-.3-1.9 .1 8.1 .7-4.8 0 3.8-.5 3 1.2 .1-.5 5.2-.1-2.7 .9 .9 .2 4.1-1.2 2.2 .5 4.3-.3-6.4 1.2 9-1-6.4 .2 8 .2 2.5 .4-1.1-.5-1.3 1.1 2.1-.3-2.2 .5-8.9 .2 1.9-.9-3.4 0-2.1 .5-2.8 0-.1 .4 3.1 .1-3.5-.3-2.7 .6-3-.2-.9-.1-.7 .2-4.1 .5 1.1-.4 3.5 0 1.5 .7 2.3-.4-4.8 .3 8 .3-4.3 .5 1-.1 6.9 0 4.2 .4-5.8 .4 1.6-.2 1.9-.4 3.8-.1-2 .6 8.8 .1-1.5 .8-2.7-.9-3.7 .7 .6 .4 1.3-.6-4 0-2.8 .5 3.2-.3-1.2 .7-8.7 .4-.9-.1-1.2-.2 2.6 .3-2.8 .8 3.9-.3-1.3-.6 1.6 1.2-1.4-.3 1.5-.4 1.6 1 2.5-.1 3.7 .7 5.1-.7-3.4 1.1 6.6-.3-1-.1-1.6 .4 4.9-.2-4.2 .3 4.4 .8-1.5-1-.5 .5-1.5-.2-10.2 .3 .6 0 5-.1-2.5 .7-5.2 .7-1.2-.8 2.2 .6-4.1-.5-2.8 .8-.8-.1-.1 .1-.3 .5-10-.3 2.7-.2-4.3 .4-1.3-.1 1.3 .4 .5-.4-2.2-.1-7.6 .3-.4-.3-3.4 .6 .1 .2 .6-.4 .5 1.1 4.5-.8 .6 1-2.1-.8 5.7 1.3 1.8-1-4 .7 5 .7 2 0-1.4 .5 6.8 0-5.4 .3 5.3-.3-2.9 1 3.2-.4 4.4 .9-3.7 .8 3.7 .6 1.5-1 .6 .1 4.2 .6 0 .2-1.4 .4 6.4 .1 1.5-.8-2.5 .9 4-.2-1.5-.6 3.6 .9 7.2-1-6.4 .6 5.9 .4 1.3-.9 2.5 .9-1.1-.3 7.5 .7 1-.9-5.2 .9 2.6-.7 1 .5 3.2-.2 2.4 .5-2.2-.2 1.1 .4-.2-.8-6.5 0-4 .3 2.2 .2-1.8 .6 1.1 0-9-.4 5.5 .2-.6-.1-9.7 1.3 7 0-6.7-.8-4.5 .5 1.9-.3 .2 .9 1-.4 6.7 .7 .2 .1-2.7-.6 1.6 1.4 4.6-.4 2.2 .6 2.6-.9-1.2 .7 1.6 0 .9-.1-1.8 .5 6.7 .4 4.9 .4-5.9-.8 5.2-.1-1.6 1.4 3.4-.5 2.5 .6-2.4 .1-3.6 .2-1.4-.2-1.2 .6-2.7-.2-4-.2-1.8 .3-1.5 .2-3.6 .3-2.9 .4-3.2 .4-3.1-.5-1.9 .6-3.2-.4-1.3 .7-2.5 .4-3 0-1.6 .4-5.3-.3-1.2 .6 3.1 0 .8-.6 5.3 .6 0-.5 3.1 .7 3.7-.4 2.6 .4 3.5 .5 1.1-.6 3 .5 1.7 .5 2.8-.8 4.1 .2 1.7 0 2.4 .6 3.2 .4 2-.3 3.8 .3-3.1 0-2.3-.4-1.7 .8-3.3-.1-3.9 0-2.3 .6-3-.5-2 .4-2.6-.3-1.4 .3-4.4 .7-1.5-.1-2.8 0-2.8 .3 3.3 0 .7 .8 5.2-.6 .4 .6 3.4 .3 2.8 .6 4-.2 1.7 .5-1.8-.6-2.6 .6-4 .2-3-.2-.8 .5-3.1 .3-2.2-.4-3.4 .8-.4 .2-2.3-.2-3.9 .3-2.9-.2-.9 0-4.1 .4-3.1-.2-2 .2-.8 0-2.7 .1-2.3 .9-3.4-.3-3 .3 3-.2 3.2 .5 2.8 .1 1-.1 4.8 .2 1-.3 3-.1 1.5 .6 2.8-.7 3.9 .6 3.7 .2 1.1-.7 4 .6 1 .4 4.5-.1 1.8-.4 3.7-.2 3.3 .4 2.5-.2 2.1 0 3 .2 .5 .3 4.1 .4 1.6 .6 1 .5 3.4 .4 1.4 .1 3.2 .1 3.9-.1 2.6 .4 2.9 .1 2.8-.5 1.1 .3 4.3-.3 .7 .1 3.7 .7 2.8-.2 3.6 .1 1.7 1-2.3 .3-1.4 .4-2.3 1.1-1.5 .7-2.1-.1-2.2 .8-4.2 0-2 .6-2.6-.2-2.2 .7 3.1 .1 1-.1 2.8-.2 4.1 0-.2 .7 3.6 .1 2 .3 1.4 .5 3.8 .2 2.7 .1 1.5 .7-1.5 .2-3.6-.4-3.9 .3-1.5 .4-.9 .5-3.6 1.1 0 .6 2.4 .8 2 .1 4.1 .8 2-.1 2.1 .4-1.2-.1-3.9 .5-2.2 .2-1.4 .4-3.9 .7-2 0-2.4 1-2.8 .3-3.4-.2-.9 .3-4.1 0-3.9 0-1.4-.2-1.5 .2-2.9 .1-2.5 .9-4.1-.4-2.7 .2-2.5 0 1.5 .8 3.9-.4 3.8 .3 .5 .3 3.4 .7 2.5 .2-2.3 0-4.2 .8-2.1-.2-3.2 .4-.4 0-3.4-.1-1.4 .3-3.1 .7-1.8-.2-2.8 .7-4 .3-1.3 .5 1.7-.5 2.6 .2 3.4 .3 3.7 .1 2.5 .4 2.7 .1 2.8-.6 1.9 .9 2-.2 3.1 0-2.8 .3-3.2 .2-1.3 1-2.3-.6-3.6 .4-3.4 .4-2.6 .2 3 .5 .4-.1 2.6 .3-1 .5-3 .9-2 .4 1.8-.2 2.1 .9 3.6-.5 3.3 .7 2.8 .2 .6-.4 4.1 .7 1.5-.1-2.4 .8-3.7-.3-.2 .3-3.1 0-4.8 .1-1 .6-4.1-.4-1.6 .7-1.2 0-3.7-.4 0 .4-5.1 .9-1.3-.7-4.8 .8 3.6-.6-2.4-.4-2.8 .9-.1-.1-5.7 .1 .4 .5-2.1-.5-3.7 .7 6.6 .1-2.5-.1-6.1-.4-.3 .5-.1-.5 .1-.1-1 .2-8.2 .6-1.9 .7 2.4-1-5.8 .1 2.1 1.1 2.1-.7-6.5-.1-3.6 1 1.4 .2 2.4-.3-4.9 .9 .8-.1-1.4 .5 8.5 .5-3.2 .4 6 0-.1-.1-.3 .5-.5-.3 5.5 .7 3.1-.1-4.6 .2 8.2-.6-4.2 1.1 1.6 .4 1-.5 3.5 0-5.9-.2 6.4 .3-.8 .3-6.4-.4-2.3 .4-2.5 .5-2.5 0 5-.1-6.9-.4 1.1 .5-.6-.5-1.7 .5-6.2 .8-2.3 0-2.9-.5 1.8-.6-2.5 1.2 1.9-.2 .8 .5-4.7-.6 .3 .6-8.5-.5 2.5 .2-1.4-.1-.4 .7 .2-.5 4.8 1.5 6-.2-1.7-.4 2.2 .7-.3 .8 4.3-.6-4.5-.3 9.5 .8-4-.7-.4 1.1 3.9-.5-1.5 .1 .9 .5 2.5 .1 4.5 .7 3.2-.7-3.4 1 9.6-.5-1.9 .7-4.1-.7 3.4 0-7.3 .2-1.6 1.1-3-.7 .1 .2 5 1.2-1.9-.3-5 .9-5.7 .3 4.1 .6-1.9 .5 .2 .2 1.1-.6 7.7 .6-5.1-1 2.1 .3 4-.1 4.9 .4-4.4 .4 .3 .3 2.6-.8 1.3 .7 7.8-.9-5.9 .3 1.9 1.1 5.9-.5 4.8-.6-5.7 .8 7.1-.5 3.3 .8-.2-.9-3.7 .6 4.7 .2 4.3 .8-.7 .4 .3 .4 .8 .2 .7 .1-8-.2 3.5 .5-1.8 0-3.2 .9 3-.5-9.3-.4 1.1 .6 .3 .7 .8-.2-3.8-.4 .3 1.4 3.4 0 1.1-.2 .2 .3 1.7 0 1.1-.4 0 .6 5.2 .1 3.1-.3-3.7 .4 5.5-.3-.3 .5-2.9-.6 .5 1-.4-.4-1.4-.5-9.8 .6 3.2-.5 1.2 .6-8.9 .7 3.4-.6 0 .5-.8-.7-2.2 .7-8-.4 3.4 .7 .6-.2-3.7 .3-1.1 0-7.2-.8 4.4 .5-.4 0-3.8 .2 .3 0-3.2-.1-6-.5 2.2 .5-3.3 .4-.3 .3 7.8-.5-1.5 .7 .1-.6 4.8 .2-.2-.4-1.2 1.2 3.7-.5-3 .8 .8-.2 8.9-.4 0 .7-2.6-.3 4.2 .6 4.8-.7-6.4 .4 5.3 .2 .3-.4 .7 1.4 2.6-.6 1.5 0 .8 .9 3.2 .1 .6-.2 3.4 .6-2.2 .1 1.5 .1 9.5-.5-6.2 0 2 1 8.6 .4-3.9-.8 5.2 .8-1 0-.6 .1 5-.1-4.9 1.1-1.5-.6 4.2 .3-3 .4 1.3-.3-1.6-.1-3.6 .7-6.1 0-2.4 .3 2.1 .6-5.6 .6 3.2-.2 3.2-.2-2.7 .6 .1-.1 3.3-.4 .1 0 8.6 1.2 2.8 0-7.1-1.1 7 1-3.6-.3 2.3-.2 3.1-.4 2.5 .2 1 .2 8.1 .2-.3 .1 3.8 0-.4-.1-2.1 .6 2.9-.4 3.4 .3-2.6-.5 7.4 .7 .3 .1-1.1-.9 3.6 1.2-3-.3 .1 .4 3.6-.1 4.3-.4 1.6 .5 .5 .2-8.2-.2-1.4-.1 1-.7-2 0-3.2 1-1.4 0 4.1-.2-3.6 .5-2.7-.6-2.7 .5-.8-.5-1.9 .3 3.7-.3-2 .4-1.2 .3-6.2-.8-2.6 1 4.7-.1-5.7 .3-5.8-.3-.5-.5-1 .4 .6 .5-.7-.2 6.4 .1 2.3 .6-3.3 .2 .6-.3 3.3 .9 1.4-.7 4.8 .7-.4 0-2.2 .6-2.9-.2-4.4 .6-2.7 .2-.4-.1-5 .6-1.6 .4-1.1 1.4-3.6 .2 2.8-.4 2.8 .6 3.1 0 2.3 .2 .7 .3 3 .3 4.7-.5 .2 .5 3.8 .5 3.1-.3 .9 .4 4.8-.1 1.3-.1-3.8 .5-1.2 .4-3.1 .1-1.9-.1-3-.5-3.5 .6-1.6 0-3 .3-2.9 .2 1.3 .1 2.7-.3 5.4-.1 .3 0 2.9 .9 2.5-.4 4.4 .4 2.7-.7 1.8 .9 1.2-.3 5.4 0 1.5 .3 2.9-.2 1.2 .4 4.5-.1 3.2 0 2.8 0 1.2 .4-2.2 .5-2.9-.5-3.3 .4-1.9 .5-2.1 .1-1.5 0-2.6 .4-3.8 .2-2.4 0-2 0-4.1 1.1-.6 .3-3.6-.2-1.7 .1 3.2 .3 1.1 .2 3.8 .3 3.3 0 .5-.6 5 .8 1.2-.4 4.5 .9-.2 .1 5.4 0 1.6-.3 3 .5 2.4-.4 3.7 0 1.6 .6 2.4 .3-2.9 .3-3.6 0-1.6-.3-3.1 .2-1.2-.1-3.5 .1-2.7 0-3-.1-1.4 .7-4.4-.6-2.9 .6-1.2-.4-2.2-.2-2.9 .9-4.8-.2-2.6-.5-1.4 1-1.9-.9-4.6 .6-1.4 .2 1.4-.4 2.9 .6 2.6-.2 5.1 .4 1.7-.3 3.2 .1 1.3 .7 4.2-.4 .5 .1 3.3 .1 2 .5 4.8-.2 .9 .1 4.2 .2 3-.2 2.4 .4 .6 .6 3.9-.2 2.3 .4-3.6 .3-.8-.1-4.6 .2-.1 .3-4.8-.1-.4-.3-2.5 .6-4.4-.3-3.3 .5-.6 .2-3.6 .3-2-.2-2.4 .7-2.4-.3-2.7 .5-4.2 0-1.1-.2-4.9 .7-.1 .2-4.9 .1-1.7-.2 1.4 .2 4.1 .4 1.1 .2 3.3 .4 3.9 0 2.1 0 3.5 0 .3 .9 5-.2 1.7 .6-2.2 0-3-.1-2.4-.3-2.9 .4-3.8 .5-.8 .3-3.5 0-3 .3-1.1 .2-4.2-.2-1.9 .4 1.9-.4 1.9 .5 2.7-.3 4.4 .6 .5-.1 5.1-.3 1.4-.2 3.1 .7 .9 .2 2.6-.4 2.7 .1 4.3 .5 2.6-.1 1.8-.2-3.2 .3-2.4 .2-2.3 1-2.3-.4-4.1 .9-1.4 .1-1.9-.5-2.6 .8-4.3 .1-1.8-.2 3.8 .3 2.3 .1 1.2 .2 2.7 .3 2.2 .1 2.5-.1 3.9-.1 3.7 .3 .8 .6 3.8-.4 3.1 .3 2.3 .5 2-.4 3 .2 1.5-.2 3.2 .2 3.8-.1 3.1 .5 2 0-1.8 .5-2-.1-3.8 .4-2.5-.2-1.6 .7-4.6-.4 .2 .5-3.7 .6-4.1-.3-2.5 .3-2.5-.3 0 .9-3.9-.5-3.6 .1-.9 .9-4.2-.1-2.3 .2-2.3 .5 2.8 .2 1 .3 1.6 .7 3 .6-3.1-.6-1.7 .5-3.1 0-1.5 .1-3.7-.1-4.5 .8-2.6-.4-1.9 .6-1.4 .1-4.1 .1-2.2 .1-2.5-.2 3.4 .2 2 .2 3.5-.3 .4 .4 3 .6 4.8-.6 2.5-.1 2.7 .7 1.3-.4 3.2 .6 2.1 .1 2.6-.5 4.6 .7 1.7 .1 1.9 .1 2.7-.2 2.2 .3 3.9 .2 3.1-.2 2.2 0-2.9 .8-1.5-.5-2.5 .4-3.8 0-2.3 .1-3.4-.1-2.4 .1-2.7 .5-2.4 0-3.9 .1-1.9 .8-2.2-.4-3.6 .2-3 .6-1.1-.3-3.5 .1 2.8 0 2.3-.2 3.8 .2 2.2 .1 3.2 .7 1.7-.6 4.3 .4 1.2 0 4.4 .1 .5 0 3.1-.1 3.6 0 1.6 .5 3.4-.2 3.4 .5 3.5-.3 1.9 0 2.2 .5-3.9-.1-1.8-.2-3.2 .4-2.2-.3-.9 .8-2-.5-3 .9-4.1-.4-1.7 .8-3-.1-1.7 .2 2.7-.2 3.4 .5 2.6 .3 2.9 .1 2.8 .2 .8 .3 4.1 .2 3.5-.3 2.3 .1 3.4 .3 1.4 .3 2.4 .8 3.2 .6 2 0 3.2 .4-3.7-.3-2.5 .2-1.3 .3-3.9-.6-2.7 1-.7 .1-3.9 .1-2.6-.4-3.4-.1-1.5 .5-3-.6-2.5 1-4-.7-2.1 .5-1.7 .3-5 0-2.2-.2-1.1 .4-4.5-.1-1.6 .5 3.8 .5 .5-.1 4.8-.2 3 .8 1.4 .5 3.9-.3 1.8 .3-2.1 .8-4.1 .3-1.9 .1-2.7" fill="none" stroke="#ff7f0e" stroke-width="2.15" stroke-linejoin="round" />
<path d="M734.6 713.2l2.9 .1 .1-.2 1-.6 .6-.4 .7-.3-.3 .3 1.4 .4 .1 .5 .5-.1 0 .7 1.4-.1 1-.5-.1-.3 .8-.4 .9-.1 .5 .5 .5-.2 .6-.5 .1-1.2 1.2-.4 .1 .5 0 .6 1.1 .7 .1-.2 1.1-1.2 1.1-.4 1 .5 1 .3 .6 .5 .9 .6 1.2-.7 .7 .7 .4 .2 .5-.8 .9-.7 0-.2 .5-.9 .7 .4 .8 .7 .7 .3 .9 0 .3-.5 .6-.3-.2 .5 .6 .6 .4 1 .1-.2 .7 .3-.6-.1 .4-.8 .7-.3-.4-.8-.1-.7 .1-.4 .6-1.6 .8 1.1 .9 .6 .3 1.1 .4 .4 1.1 .6 1.2 .8 .1 .1 0 .6 1 .5-.1-.6 .2-.4 1.1-.2 0-.2 .1-.5 .7-1 .3-.4 .4-.9 .3-.4 1.1-.5 .5 1.2 .8 .7 1.6 .6 .4-.9-.2-.5 .4-1.9 .7-.8 .2-.8 .5 1.2 .1 .9 .3 1.3-.2 .6 0 .9-.1 .2 .4 .6-.1 .6 .5 .2 .1-.2 .5-.1 0-1.1 0-.9-.2-.7 1.2-.3 0 1.3 .5 .1 .5-.9 1.2-1 0-.2 .7-.2 .6 .8 1 .5 1 .4 .3-.8 1.1-.4 .2-1.3 .6-1.4 0 1.4 1.1 1 .5 1.5-.2 0 .5 .9 .3 .9-.4 .2 .3 .8-.1-.1 1.5-.6 1.5 .3 .2 0 .2 .5-.3 .3 .9 .7-.1 .1-.1-.1 .8 0-.5 .2-.3 .1 2.1-.1 1.4 0 1.4 .7-.4-.8 .8-.4 1.2 .8 1.1-.6 1.8 .5 1-.2 .7 .4 .8-.4-.1 0 .8-.2 .8-.3 1.2-.1 .5 .4-.4 .4 .3 .3 1.7 .2 1.4-.4-.1 .1 .4-.1 .1-.1-.2-.3 .3-.3 0-.1 0-.1 1.2-.5-.6 .2 .7-.4 2.8-.6 .6 .9 .8 0 .4 .2-.1-.1 .9 .9 .5-.4 .4 .5-.2 0 .3-.4 .2 .5 .5 .4-.3-.2 .7-.1-.5 0 .4-.6 .3-.3-.3 .1 .1-.6 0 .2 .4-.7-.5 .3 0-.5 .3 .2 1.1-.6 .6-.2-.2-.6 1.7 .9 .7-.5 1.1-.1-.1-.3 .6 .4 1.3-.2 .6-.9 1 .8 .6 .4 .9 .7 1.4 0-.3-.9 .7-.3-.2-.3 .5-.8 .7-.2 1.2 1.2 .9 .6 0-.1 .7 .8 1-.1 1.3 0 .5-.4 1.3 .3 2.2 .1 .1-.2-.5-1.1 0-.7 .5-.3 1.4 1 .8-.6 3-.5 .6 .1 1 .7-.1 0 .5 1.2 .4 .1 .1 .5-.1 .7 .3 .2 .7 .2 .1-.9 .5 .1 .1-1 .2-.5 1-.2 2.1-.5 .9-.1 .5 1 .2 .4 .1-1.1 .7-.3 .7-.7 .6-1 .9-.6 .7-.7 .2 .7 .3 1.2 .7 .1 1.3-1.3 4 .8 .6 .9-.5 .5 1.1-.3 .2-.8 1.1-.5 2.8 .4 1.3-.7 .2 1.3-.1 .5-.1 .9-.1 .6-.1 .4 .7 .4-.2 .3 .1 .7 .6-.6-.1-.3 .4-.7-.2-.5 .2-.5 .3-.3 .7-1-.2-.3 1.7-.2 1.3 .1 1.4-.3 2.2 0 .9-.6 .7 1 .8 1.1 .4 0 1.1-.3 2-.2-.1-.8 .4-1.1 1.2 0-.5 1.3 1.1 .9 0 .6 .4 .6 .8 .6 .8-.1 .8 .6 1-.7 .9 .2 1 .7 .6 .3-.5 .5 .6-.2 .4 0 .7-.4 .6-.4 .6-.5 .6-.4 .8-1 1.2 .7 1-.3 1.4-.4 1.1-.2 .9 .5 1 .4 .2 .3 .6 .7 2.3 .5 2 .3 .3-.1 1.6-.3 .7-.3 .1-.2 .3 .1 .2 .5 .2 .1 .4 .4 .4 0-.2-.4 .7-.5 .5 0-.1 .8 1.1 .1 .3 .1-.1 .2 .9 .3 0-.3 .6-.4 1.2-.6 .3-.7 .4-.8 .8-.4 3.2 0 1.4 .7 .4 .7 .8 .3-.1 0 .8 .5 1.2 .3 1.1 .6-.7-.4 .9 .7 .6 .1 .5 .2 .2 .4-.5-.5 .5 .4 .4-.1 .4-.1 1.1-.2 1.1 .2 .2 .1 .2 0 0 .8 .8-.5-.4 .4 .1-.3 1.1-.1-1.1-.4 1.2 .4 0-.4 .2-.1 1.2-.3 .9 .2-.2-.2 1.2-.2 3.6-.1 .1-.6 .5 .4 .1-.3 .3 .1 .4 .3 .6 .7 .3-.4 1-.2 .2 0-.4-.1 1.1-.4-.6-.2 .2-.1 .5 .1 .8 .8 .6-.6 .4 1.1-.1-.7 .8 .1 1.6 .3 0-.3 .8-.7 .8 .3-.5 .3 0 .2 .4-.2 .6 .6 .7 .3-.2 0 .6 .3-.4-.2 .6-.5 0 .3 .2-.2 .2-.6 1-.6 .9 .7 1.8 .3 .2-.6-.2 .2 .7-.2 .4-.3-.6-.9 .2 .4 .4-.4-.1 .6 .3 .3 .5-.2-.4 .7-.1-.1 1.4 0 .1 .7-.9 .3 1.4 .1-.4 .1 .2-.3-.2-.4 .2-.2 .5-.3 .3 .1 0-.4-.8-.4 .7 .3-.1-.4-.1-.4 .3-.3 .8 .3-.6-.1 .2 .1 1 .8 .3 .5 0-.1 .5-.6 .8 .5 .6-.2-.3 0 .3 .1 .4 .6-.1 .2 .7 0 1.1-.2 .6 .6 .1-.3 .9 .1-.3-.4 .9 .1-.5 0 .5-.4 .7 .3 .3-.1-.8 0 1.3 .5-.8-.1 .7 .3 .8 .4-.3-.5-.2-.2 0-.3 .2 0 .4-.2 1.2-.3 .1-.5 1.3-.2 0-.4 .1 .8 .1 .5 .4-.3-.1 .5 .5 .1-.8 .3 .2 .1 .6-.1-.2 .3 .4 0 .4 .1 1.4-.5 .3 .4 .6 .2 .2 .5 .6-.6 .2 .1 1.1-.4 .5 .5-.1-.6 .9 .3 1.2-.1-.3 .5 .2-.6 1.4 0-.1-.3 1.4-.4 1 0 1.6-.1 0 .3 .8-.8 .2-.4 1 .3-1-.5 .4 0 .1-.5 1.3 .7-.7 .3 .9 .1 .4-.1-.1 .8 .1-.8 .6 .2 .7-.7 .8 .5-.7-.6 1.5-.2 .2 0-.1 .4 .8 .5 0 .5-.1-.4 .5-.3 1.6-.1 .1-.7 .1 .1 .1 .3 .6 .6 .6 0 .5 .3 .2-.4 .3 .9 .1 0-.1 .3 .6 .3 .9-.7-.6-.1 1-.2 1.2 0 0 .1 1.5-.1 .4-.4 .9 .1-.3-.2 .1-.4 .5-.8 .4-.1-.5-.2 .7-.4 .1 .1-.4 .5 1.1 .2-.2 0 1.2 .6-.6 .3 1.2-.2 .9-.8-.7-.1 .6 .4 1.3-.9 .5-.6 .2 .3 .6 .9-.1 .4 .9 .7 .5 .1 .7 0 .1 .5 0-.1 .8-.5 .5-.6 .4-.3-.6-.4 .7-.7-.1 .5 .7 .4 .5 .4 .7 .9 .2 .1 .2-.6 1.5-.7-.3 .3 .6 .6 .4 .6 .8 0 .1 .7 .4-.1 1 .1-.2 .2 .5-.4-.2-.2 .5-.3 .1-.8-.1-.3 0-.2 .5-.9 1.5-.6 .6-.6 .4-.7-.5-.5 .6-1.4 1.4 .5 2.2 .4 .7 1.1 1.1 .4-.2-1 .8-.3 1-1.1 1 0 .3 .9 2.2 .3 1.7-1.1 .2 .3 1.1 1.3 1.7 .3 .4 1-.2 .3 1.2 1.2-.2 0 .7-.2 1.2-.9 .6 1.1 .3 .2 .8 .1 1.5 .7 0-.5 .6-1.1 .1 .2 .5 .4 .8 .4 1.1-.1 .7-.1 1.1-.2 1.1-.4 .5-.1 .4-.1 .4 .8 .9 .3 0 .7 1 .3-.1 .2 .5-.1 .3 .1 0-.1-.4 .7 .3 .4 .5 .1 1.1-.5 .5 .4 1.4-.6 .4 .2 .3 .2 .7-.6-.1 .4 .4 .2 .5 .1-.5-.4 .5 .8 .3 .1 .4 0 .5-.3-.4 0 1.7-.1 .1 .1-.1-.3 1.2-.2 .1 .3 .1-.1 1.2-.2-.5 .1 .6 0 1.8 .5 1.4-.5 .2 .1-.8-.6 1.1 0-1 .4 .9-.8-.3-.2 .5-.1 1.4 .1 .7-.1 .3 .5 0-.2 1.1 .7 1-.7 .1 .3 .3-.6-.2-.1 .9 0-.3 .4 .8 .5-.8-.1 1 .2 .1 .2-.3 .3 .1-.1 .4 .3 .5-.1-.8-.2 1.5 0 .1-.2-.4-.4 .2 .3 .8-.4 .8-.3 .8-.2 .5-.6 .4-.1 .8 0 0 .2 1 .3 1-.1 .3 .2 .8-.7-.1 .2-.9-.2 .6-.8 0 .3 .5-.3 .3-.8 0 .3-.1-1.3 .5 .8-.8 .9 .8-.6 .4 .4-.5 .6-.1 0 1.2 .9-.4-.1 .4-.6 .5 0 .9 .1 .4 .2 .7 .3 2.4 .4 .4-.2 .5-.6 .3-.7 .6-.1 .3-.2 .4 .5 .1 .4 .6 .6-.4-.8 .9-.5-.1-.7 .1-.2 .3-1.5 .9 .4 .4 .9 .5 .2 .2 .9 1.2 .6 .6-.6-.3-.7 1.3-.2-.2-1.3 .1-.6 1.2 .2-.1 .4 0 1.1 0 .5 0 .3 .2 .8 .7 .3 .4-.1-.1-.5 .4-.4 .7-.7 .1-1.2 .8-.4 .5 .3 .4 .6 .2 1 .4 .1 .8 1 .2 .5 .7 .6 .1-.3 1-.6 0-.5 1.3-.2-.4 .7 1.2 .3 .5 .4-.2 .2 .8-.9-.6-.5 .5-.7 .5 0 .3 .4 1.5 .5 .4 .3 .2-.3 .6-.2-.1-.4 .5-1 .4-.6 .2-1 .4 0 .8 .4 .1 1.1 .8 .3 .9 1 .5 .6 .6-.1 1.2-.2 .5 .2 0 .4 1 .5 .3 .3 .2-.1 .7-.5 0-.3 .3-.3 .3-.7 .2-.7 .7 .6 0 .4 .6 .3 .5 .6 .5 .6-.1-.5 1-.3-.2-.8 0-.6 .3-1 .2-.5 .2 .6 .9 .8 0 .3 .9 0 .6 0 .6-.7 0-1.3 1.4-.9 1 .3 .2 .9 .5 .3-.4 1.1 .9 .7 .1 .5 .2 .2 .9-.3 .5-.6 .5 0 1.2 .8" fill="none" stroke="#2ca02c" stroke-width="1.87" stroke-linejoin="round" />
<rect x="714.40" y="435.10" width="455.35" height="293.75" fill="none" stroke="#000" stroke-width="0.779"/>
<text x="942.08" y="429.02" font-size="12.05" text-anchor="middle" textLength="136.34" lengthAdjust="spacingAndGlyphs">binanceGlobalAccounts</text>
<line x1="739.21" y1="728.85" x2="739.21" y2="732.69" stroke="#000" stroke-width="0.779"/>
<text x="739.21" y="743.68" font-size="10.02" text-anchor="middle" textLength="40.17" lengthAdjust="spacingAndGlyphs">2023-05</text>
<line x1="809.23" y1="728.85" x2="809.23" y2="732.69" stroke="#000" stroke-width="0.779"/>
<text x="809.23" y="743.68" font-size="10.02" text-anchor="middle" textLength="40.17" lengthAdjust="spacingAndGlyphs">2023-07</text>
<line x1="880.40" y1="728.85" x2="880.40" y2="732.69" stroke="#000" stroke-width="0.779"/>
<text x="880.40" y="743.68" font-size="10.02" text-anchor="middle" textLength="40.17" lengthAdjust="spacingAndGlyphs">2023-09</text>
<line x1="950.43" y1="728.85" x2="950.43" y2="732.69" stroke="#000" stroke-width="0.779"/>
<text x="950.43" y="743.68" font-size="10.02" text-anchor="middle" textLength="40.17" lengthAdjust="spacingAndGlyphs">2023-11</text>
<line x1="1020.45" y1="728.85" x2="1020.45" y2="732.69" stroke="#000" stroke-width="0.779"/>
<text x="1020.45" y="743.68" font-size="10.02" text-anchor="middle" textLength="40.17" lengthAdjust="spacingAndGlyphs">2024-01</text>
<line x1="1089.33" y1="728.85" x2="1089.33" y2="732.69" stroke="#000" stroke-width="0.779"/>
<text x="1089.33" y="743.68" font-size="10.02" text-anchor="middle" textLength="40.17" lengthAdjust="spacingAndGlyphs">2024-03</text>
<line x1="1159.35" y1="728.85" x2="1159.35" y2="732.69" stroke="#000" stroke-width="0.779"/>
<text x="1159.35" y="743.68" font-size="10.02" text-anchor="middle" textLength="40.17" lengthAdjust="spacingAndGlyphs">2024-05</text>
<text x="942.08" y="757.86" font-size="10.02" text-anchor="middle" textLength="22.77" lengthAdjust="spacingAndGlyphs">Date</text>
<line x1="710.56" y1="717.50" x2="714.40" y2="717.50" stroke="#000" stroke-width="0.779"/>
<text x="706.63" y="721.43" font-size="10.02" text-anchor="end" textLength="5.70" lengthAdjust="spacingAndGlyphs">0</text>
<line x1="710.56" y1="682.34" x2="714.40" y2="682.34" stroke="#000" stroke-width="0.779"/>
<text x="706.63" y="686.27" font-size="10.02" text-anchor="end" textLength="11.90" lengthAdjust="spacingAndGlyphs">10</text>
<line x1="710.56" y1="647.18" x2="714.40" y2="647.18" stroke="#000" stroke-width="0.779"/>
<text x="706.63" y="651.11" font-size="10.02" text-anchor="end" textLength="11.90" lengthAdjust="spacingAndGlyphs">20</text>
<line x1="710.56" y1="612.02" x2="714.40" y2="612.02" stroke="#000" stroke-width="0.779"/>
<text x="706.63" y="615.95" font-size="10.02" text-anchor="end" textLength="11.90" lengthAdjust="spacingAndGlyphs">30</text>
<line x1="710.56" y1="576.86" x2="714.40" y2="576.86" stroke="#000" stroke-width="0.779"/>
<text x="706.63" y="580.79" font-size="10.02" text-anchor="end" textLength="11.90" lengthAdjust="spacingAndGlyphs">40</text>
<line x1="710.56" y1="541.70" x2="714.40" y2="541.70" stroke="#000" stroke-width="0.779"/>
<text x="706.63" y="545.63" font-size="10.02" text-anchor="end" textLength="11.90" lengthAdjust="spacingAndGlyphs">50</text>
<line x1="710.56" y1="506.54" x2="714.40" y2="506.54" stroke="#000" stroke-width="0.779"/>
<text x="706.63" y="510.47" font-size="10.02" text-anchor="end" textLength="11.90" lengthAdjust="spacingAndGlyphs">60</text>
<line x1="710.56" y1="471.38" x2="714.40" y2="471.38" stroke="#000" stroke-width="0.779"/>
<text x="706.63" y="475.31" font-size="10.02" text-anchor="end" textLength="11.90" lengthAdjust="spacingAndGlyphs">70</text>
<line x1="710.56" y1="436.22" x2="714.40" y2="436.22" stroke="#000" stroke-width="0.779"/>
<text x="706.63" y="440.15" font-size="10.02" text-anchor="end" textLength="11.90" lengthAdjust="spacingAndGlyphs">80</text>
<text x="688.17" y="582.82" font-size="10.02" text-anchor="middle" textLength="26.24" lengthAdjust="spacingAndGlyphs" transform="rotate(-90 688.17 582.82)">Value</text>
<rect x="910.89" y="439.97" width="62.36" height="47.80" rx="1.96" fill="#fff" fill-opacity="0.8" stroke="#ccc" stroke-opacity="0.8" stroke-width="0.97"/>
<line x1="914.80" y1="448.03" x2="934.29" y2="448.03" stroke="#1f77b4" stroke-width="1.46" stroke-linecap="square"/>
<text x="942.34" y="451.31" font-size="10.02" text-anchor="start" textLength="23.06" lengthAdjust="spacingAndGlyphs">Long</text>
<line x1="914.80" y1="462.99" x2="934.29" y2="462.99" stroke="#ff7f0e" stroke-width="1.46" stroke-linecap="square"/>
<text x="942.34" y="466.27" font-size="10.02" text-anchor="start" textLength="25.63" lengthAdjust="spacingAndGlyphs">Short</text>
<line x1="914.80" y1="477.95" x2="934.29" y2="477.95" stroke="#2ca02c" stroke-width="1.46" stroke-linecap="square"/>
<text x="942.34" y="481.23" font-size="10.02" text-anchor="start" textLength="14.39" lengthAdjust="spacingAndGlyphs">L/S</text>
<path d="M714.5 934.4l.6 2.6 .3 1.2 2.2 1.2 .5-1.3 .2-2.7-.5-4.1 1.1-2.1 .2-4.3-.2-2.2 .2-1.7-.3-3.8 .7-1.7-.1-1.5 .6-5.2 .2-2.8-.1-2.8 0-1.6-.2 4 .6 .8 1.1 4.9-.2 1.6-.1 4.2 .4 1.9-.2 3.6 .6 2.8 .4 .7-.4 2.3-.1 2.4 .3 4.5-.2 3 .5 1.6 .3 3.3 .7-2.6-.2-2.5 .7-3.8 .6-2.7-.2-1 .5-1.8-.5-3 .6-3.5-.1-4.5 .4 0 .2-3.4 1-2.3-.2-4.2 .2 2.1 .5 3.8-.1 2.4 .7 1.8 .4-1.6-.6-2.5 .1-4.6 .7-1-.2-2.7 .4-4.6-.1-3.2-.1-2.8 .7-.1-.4-5.7 1-1.2-.4-2.8 .1 1.8 .4 4.5 0 1.4-.2 4.2 .1 1.4 1 1.5 .1 5.2 .1 2.2 0 1.7-.1-2.9 .3-1.5 .4-4 .9-1.6-.2-3.8 .9-2.9-.1-1.8 .4-4 .4-2 .3 1.5 .3 5.3 1 1.6-.1 2.3 .3 2.2-.2 2.5 1 4.5-.1 2.5 .7 2.4 .1 2.9 .1 1.9 .2-2.2 .2-3.5 .8-2.2 .1-3.5 .1 4.3 .7 1.7-.4 2.7 .8 2.7-.1-2.2 .4-2.2 .4-2.7-.2-3.2 .6-2.1-.3-2.6 .7-3.2-.2-3.2 .6-1-.4-3.8-.2-1.5 .9-3.5-.2-1.7-.1-3.1 .6 1.4 .3 3.7 .2 2 .3 3.5 .3 2.2 .2 1.8-.2 1.4 .8 4.1 .1 2.6 .6 1.9 .3-4.1 0-2.2-.2-3 .5-2.6 .1-3.2 .5-1.3 .1 2.4 .2 3.5-.3 3.7-.2 1.2 .4 2.8-.1 4.1 .4 .3 .3 3 0 3.5 .1 4.7 .4 1.1 0 3.5-.3 1.2 .3 4.1 0 2.6 .5-1.4-.3-4.7 .3-3.9-.7-1.1 .6-4.1 0-.5-.2-4.2-.1-3.3 .9-2.5 0-1.1-.3-4.9 .5-2.1-.6-3.3 .7-2.3-.7-2.8-.1-2.4 .4-3.8 .4-1.2-.7-3.7 .3-1.6 .6-4.9-.3-2 .1 1.6 1 3.1-.2 3.3 .4 3.1 .3 1.2 .3 3.3 0 3.3 .3 2.3 0 3.5 .4 2.3 .5 3.5-.5 1.8 .7 4.9 .7 1.7-.2 2.7 .1 3.4 1.2 1.6 0 2.9 .3 2.8-.1 3.5 0 1 .5 2.1-.5 4.6-.1 2.6 .7 1.4-.3 3.7 .7 .7-.4 3.7 .2-2.4 .1-3.4-.2-1.8 .9-4.2-.5-.3 .7-3.2-.6-2.4 1.1-1.8-.1-5.6 .3-2.1-.2-1.8 .2-1.2 .2-5.2-.3-.2 0-3.6 .4-4.1 .3-3-.4-1.6 .1-3.6 .7-.6 0-3.4 .7-3.6-.3-2 .4-2 .6-2.8-.7-1.6 .4-2.7 .6-2.9 .2 3.8 .3 1.6 0 2.3 .2 3.2 .5 .6 .3 3.6 .2 1.8 1 1.6 .4 3.7 .3 1.8-.4-2.3 .2-4.5 .6-2.4 .4-2-.5-1.8-.2-3 .2-4.6 1-1.1-.7-4.5 .9-1.1 0-4.4-.1-2.1-.3-2.8 .5-2.8 0-2.3-.1 1.7 .5 4.5 .1 2.2 .1 3.1-.2 3 .2 2.3-.6 1.7 .1 2.9 .8 4.2-.1 1.4-.2 5.6 .2 1.4-.1 1.8-.3 3.1 .3 3.5 .6 2.1-.6 3.3-.1 2.9 .2 3.4-.2 4.2 .4 2.9 .4 2.1-.2 3.7-.3 1.9 .3 2.9 .5 1.3-.2 3.9-.3-4.4 .1-2.7 .3-.1 0-5 .2-3 .3-1.5-.5-4.4 .5-.7 .1-4.5 .4-4.2-.9-.5 .4-5.2 .2 .1 0-4.9-.3-3.8 .9-1.6-.4-2.8 .7 1.3-.5 2.7 .5 2.8 .1 3.8 .3 1.6 .4 4.2-.3-1.3 .3-4.2 .4-2.7-.1-3.4 .2-2.1 1-2.5 .1-4-.7-1.7 .6-2.7 .1-2.6 .3-3.1 .5 3.8-.1 1.1 .9 1.8-.4 2.8 .2 4 .8 1.6 .6 2.3-.4 2.1 .5 2.9 .5 4.1 .2-2.5 0-4.4 .6-2.8-.3-2 .4-3.4 .2-2.1 .6-2 .3-2.5 0-3-.1-2 .4-2.3 .3-3.6 0-3.4-.1 3.8 .2 .8-.1 2.9 .3 4.4 .2 1 .6 4.3-.6 1.3 .3 3.8 .9 4.7-.2 1.4 .1 1.9-.1 3.2-.1 1.7 .3 5.3 .2 .5-.1 3 .2 3.6 .3 3.8-.8 1.3 .9 3.2-.5 2.7 .4 4.3-.2 2.9 .1 0 .3 3.8-.3 3-.1-1.1 .4-3.7 .8-1.6 .4-3.7 .9 1.6 1 3.4-.3-1.3 .5 3.3 .3 .5-.5 1.8 .9 7.6-.1-.5-.6-3.1 .6 5.2-1.1-1.5 .2 7.2 1.2-3.5-.1 2.9-.2 7.1 0 1.1-.3-6.2 .2 7.4-.4-.2 .2-1.9 .1 5.2 .2 4.9 0 4.4 .6 1.2-.1-.9-.2 3-.2-.3 .5 .9-.5-2.7-.3 4.5 .7 3.1 .7 1.3 .8-5.7 .4 .6 1-.9 .2-.8 .5 7.2 .1-.4 .9 2.2-.2-2.2 .3-4-.5-2.6 1.2-4.4 .3 1.3-.6-7 .2 0 .3 1.5 .7 2.4 .9-4.4-.3-6.6 .6 2.3 .9 1.8 .7-.5 .3 2.5 .9-1.4-.6 2.1 .8 7.7-.3-1.2 1.2-2.6-.1 4.2-.5-1 1.3 1.4 0-6.3-.2-.6 .8-4-.7 1.3 1.2-5.9-1.2-2.4 .9 3.1-.4-5.8 .7 1.3 .6 3.1 .6 2.4-.5-.9 1.2 1.7 .5 6.2-.6 .5 .6 2.4-.5-.7 1-.6-.9-1.2 .2 .6 .1 6.8 0 3.1 1 2.1-.2-1.5 1.1 3.7 .8 4 .2 1.7 .4-3.1-.5-5.6 0-.7 .5 .8 .5 1.2-.8-5.1 .7-1.9-.6 .5 .4-.8 .2 1.1 .7-10.6-.2 4.8-.6-7.7 .3 .7 .4 3.9-.4-7.9 .2 2.4 .4-2.9-.6-4.1 .8 .1-1.1-2.6 .3 .7-.2-5.6 .1 .4 1.3-1.1-.8 2.3-.4-7.5 .7-.2 .9-6.5 .4 2-.6-2.7 1.2 .9 .8-1.8 1.1 .5 .2-2.8-.2 10.7 .6-3.4-.3-.4 1.5 5.7-.4-4.8 0 8.8 .4-1.2 .1 2.6 .8 2.2-.2-4.3-.7 8.9 .7 2.8 .8 2.1-.5 2.5 .7 .6-.8 .6 .6 3.6 1-5.9-.6 4.5 0-.6 .1 1.8 .4 0-.7 5-.1 .9 1.3 6.6-.9-6.9 .9 11-.2-6.6-.5 9.5 1.1-7.2-1 5.6 .5 2.4-.3 .7 .2-1.5-.3-4.3 1.2 .1-1.3-7.6 .9 .9-.4-.7 .3 3.1-.4-5.7 0-2 .7-5.8-.3 3.9-.7-1 .7-4.4 .3 1.1-.8-4.7 0-2.8 .5-5.4-.1 2.5 .6 3-.4-5.7 .5 2.4 .4-1.3-.9-9.9 .9-2.6-.7 4.8 .2-5.2 .6-2.6-.5 3.5-.6-6.5 .5 .4-.4-2.8-.1-5.4 .4-1.2 .9-.5-.9 3.4 .3-4.6 .5-4 .3 2-.4-1.6 0-5.2 1 .1 .3-4.2-.4 1.6 0 1.1 1 4.1-.4 .9 1.2 4 .1 2.5 .6-4.1 0-2.5 .4-1.2 .1-3.9 .7-3-.7-1 .7-3.2-.1 1.1 .6 4.4 .7 2.7-.6 2.3 .7 2.1 .5-3.7 .1-2.1-.3-3.3 .7-1 .3-2.6-.6-3.3 .5-1.7 .1 3.9 .3-.1 .4 2.5 .4 4.2 .6 1.1 .1 3.6 0 2.5 .9 2.3 .2 4-.2 .5 .7 3.4 .3 2.4 .5-2.6-.1-3.1 .2-1.5-.4-5 .1-2 .8-3-.2-1.6 .5-4.4-.1-2-.6-1.9 .9-2.9-.8-1.5 .5-3.8 .2-3.2 .5 2.1 0 3.1-.1 2 .9 3.9 .5 1.8-.1 4.2 .1 1.2 .9 4.1 .3 1.3-.1 2.2-.1 2.2 .3 1.4 .6 3.3-.2 3.2 1.1 3.9-.2 1.1 .3-3.7 .5-2.5 .1-2.6 .7-1.1-.3-3.4 .4-1.8 .5 4 .3 .1 .6 4.8 .4 1.2 .9 1.7 1 .8 .5-3.4-.1-2.1-.6-4.3 .9-1.6-.5-1.4 .2-4.1-.3-2 .1-3.7 .5-2.4-.6-4.1 .7-1.1-.6-2 .5-4.4 0 1.8 .5 3.7 1 4.1 .3 1.8 .2-2.2 .4-3.3 .6-3.5 .7-2.4 1.9 0 0-1.8 .9-3.2-.3 3.5 .3 2.1 .5 2.3 .3 4-.5 .9 .7 2-.3 3.6 .7 1.7-.4 3.8 .2 3.7 .2 .6 .3 3.8-.1 4-.3 3.4 .3 1.3 .1 3.4 .1 3.3 .1 1.4-.2 2.4 .4 5.3 .1 .6-.2 4.3 0 2.9-.3-3.7 1.1-.7-.7-2.8 .6-4.2 .1-3.2-.2-3.4 .5-1 .2-3-.1-3.4 .4-2.5-.1-2.4 .3-1.7 .1-2.7-.2-3.9 1-2.9-.6-2.9 .7-1 1.2-2.5 .7 0 .3-2.3 .8-2 .1-2 .2 1.2 .4 5-.1 2.9 .1 2.4 .4 2.3-.7 3.6 .6 1.5 .7-3.7-.8-2.4 .2-2.7 .2-3.3 .1-2.1 .5-1.9 .2-4.6 .8-.5-.3-4 .5-3.8-.1-2.1 .2-4.1 .3-.6 .5-2.5 .2-3.2 .5-2.3-.2-4.1 .5 2.5 .1 3.6 .4 3-.3 1.2 .1 3.1 .5 4.4-.3 2.1 .5 2.8 .7-3.2-.4-2.1 .6-4.2 .2-3.2 .6-1.2 2.5 0 .5 1.6 1.4 2.2-.4 1 .6 5.4 .4 .6 .1 1.8-.7 2.2 0 4.4 .6 2.2 .4-2.7 .3-2.8 .2-2.2-.2-4.1 .1-1.9 .6-3.3-.2-1.9 .8 2.9 1.1 .9 1.9 1.3 0-2.5 .6-2.1 .7-3 .1 1.6 .2 3.8-.4 4.3 .5 1.2-.1 2.3-.2 2.7 .2 5.5 0 .2-.1 4.2 0 1.9-.2 3.8-.2 3.5 .2 1.7-.1 2.9 .9 2.9-.9 3 1 2.1-.6 3.2 .3 3.7-.5 4.1 .2 2.4 .2 3.4-.4 .9 .2 3 .3 3.6 .4-2.7-.4-2.7 .6-2.6-.3-2.4 .3-3.5-.1-3.6 .1-.4 0-4.3 .4-2-.4-3.2 .7-3.9-.6-.5 .5-3.5 .6-4.2-.8-1.1 .3-2.8-.2-3.4 .2-3.2 .7-2.3 .2-1.8-.2-2.9-.3-4 .2-2.3-.1-2.1 .5-4 .3 3.1 1 2.7-.1 1.9 .5 1.1 1.1-3.2 .3-.3 .2-2.8 .9 1.9 1 3.2 .2-2.8 1.2-2.6-.2-1.8 .7-2.9 .5 2.4 .6 1.1 .6 2.8-.4 3.7 .8 .9-.1 3.8 .2 3.7 .4 .8-.4 3.7 .3 2.3 .2-1.5 .3-4.2 .7-2.7 .7-2.9 .3 1 1.2 2.7 .7-1.7-.7-3.6-.1-3.6 .3 0 .3-4.8-.2-3.1 1.1-.6-.4-3.4 .6 3.8 0 .9-.5 2.8 0 2.4 .8 3.7-.6 2.1 1 4.4 0 2.3 .3 2.2-.3 2.6 .1 2.9 .1 1.1 .2 4 0 1.6 .4 3.6 .4 3.1 .8 2.8 .1 3.6 0 1.4 0 2.8 .4 3.3 .5-1.6 .6-4.6-.3-3.6 .8-2.1 .3-2 0 1.6 .7 1.9 .9 3.4 .3 2-.2 3.5 0 3.3 0 1.8 .6 3.2-.1 3.2 .2 2.2-.5 1.2 .4 3.9-.3 3.4 .5 2 .1-2.9 .3-1.7 0-3.7 .5-2.5-.1-4 .4-1.9 .4-4.3 0-1.7 .2-2.5 0-4.1 .9-3-.2-1.8-.3-2.8 .4-2.3 .5-2.4 .7-3.8-.3-.6 .5-4.7 .2-1 0 1.5 1.1 2.7-.3 2.4 .7 2.2 .7-3.6 .8-1.4 .5-2.2 .1-3.4 .7-1.5 .1-4.3 .4 .8 .3 4.2 .2 2.2 .6 1.7 0 3.1 .5 3 .5 2.8-.1 2.8-.3 2.5 .6 1.1 .3 3.2 0 3.7 .4 3.6-.1 1.9 1.9 0 .6 3.9 .6 1.4 .7 2.3 .9-2.7 .2-.1 .2-3.5 0 2.9 1 1.4 .2 2 .5-1.4-.5-3.7 .7-1.9 .5-2.2 .1-4.8-.3 .1 .3-3.8 .6 3.6-.6 2.7 .3 2.5 .2 3.3 .2 3.1-.1 1.2 .3 3-.5 3.9 .3 1.3-.1 1.8 1 3-.4 3.4 0-1.8 0-3.2 .5-2.1 0-4.5-.1-2.7-.1-3.5 .3-2.2 .7-.8-.3-4.9 .3-2-.1 3.1 .3 1.1 .2 3.2-.3 4.3 0 1.6 .8 3 .2 2 .2 1.9 .1 3.9-.8 2.2 1.1 4.1-.2 3-.6 1.1 .6 3.3 .2-1.5 .6-5.2 .3-1.5-.6-4.3 .3-1.4 .3-3.5 .6-2.3-.4-1.8 .3-3.7 0-3 .1-3.4 1.2-1.6-.2-2.6 .2-3.3 .4-2.6-.1-3.8-.1-2.8 .6-3 .6-1.7-.3-2.7 .5-3 .3-1.8 1.9 0 1.3 1.8 .6 2 1.2-1.3-.3 1.6 1 4.4-.5 3.3-.1 3.4 1.1 2.2-.8 2.2 .6 3.1 .5 3-.5 1.6-.1 3.6 .3 2.4 .9 4.1-.3 2.4 .1 1.8 0 3.5 1.2 .6 .1 2.2 .7-.4 .3 1.9 .1 6.8 .2 .5-1-2.8 1 7.9 .2-7-.3 4.7 0 .4 .6 4.4 .1 .5-.2 2.1 1 3.6-.2 5-.9 1.3 .1-5.1 1 7.3-.1-1.1 .3 1.3-.7-.3-.1-.1 1.3 10.8-.8-3.6 0 5.4 .4-4.4 .1 5.1 .8 2.6-.9-6.3 .5 .2 .5-5 .2 1.4 .5-2.8 .3-1.5 .4 1.4 .5 1.3-.1 6.5-.1-1.7 .4 2.9-.7-1.3 .1-2.3 .9 4.7-.5-1.4-.2 8.1 .7-.7 .6 6.3-.1-2.4 .3-4.4 .5-2.1-.6 2.9-.3 .8 .5-3.5-.7-.4 .3-3.9 .7-4.6-.6-1.6 1 1.6-.6-2.6 .3-4.7-.8-3.2 .8 3.2 .6-1.5-.2 2-.4-7.3 0-2.2 .5 .3-.9 2.1 .6-6.2 .5 3.8 .6-.4 .4 .4 .3-5.4-.4 4.6 .5-7.5 .9 4.6 .1-5.1-.7 2.1 .3-2.4 .9-5.5 0 .7 .5 1.6 2-.3 1.2-1.1 .6-.7 .4-5.2-.2 .5 0-2.9-.4 .9 .7 2 .2-5.6 0-1.6 .3 2.9-.2-2 .6 2.8-.8-.5 .6 6.7 .5-.3 .4 0-.5 5.9 .6-1.7 .4-2.3-.4 9.9 .7-5 0 5-.3 1.3 .7-3.5-.3 1.4 .6-4.7-.7-3.9 .5-2.3 .4-.9-.8 6.2 .5-3.7-.1-6.8 .2 5.6-.2-2.5 1.1-3.9-.7-1.3 1-3.1-.9-1.5 .6-2.9 .7 2.7-1-2.2 .8 .2-.8 5 .5 2.9-.1 2.4 .9-.6 0 3.8 .4 2.2-.1 1.6 .4-2.9-.9 9.4 1.2-6.8 .2 7.7 0 2.7-.4-.3 .2-5.5 .9 4.2-.2-6 .2 4.9 .5-8.9 .3 1.2 1 3.2-1-9.4 1.1 .3-.2 1.4 0-2.4 .1-5.3 .7 .4 .2-.8 .7-1.8 .1 2.9-.8 .1 .1 10.4 .1 .3 1 .3-1-.9 .4 .8 .5 5.3-.4-.9-.2 .3 .5 1.3 .3 3.5 .4 1.9 .2 8.4 .2-5.4 .1 4.2 0 1.6-.4-.3 .4 2.8-.3 3 .6 .4-.5-8.5-.2 2.1 .2-.1-.4-2.9 1.3 3.1-.2-4.4 0 1.4 .3-7.1-.3 3.1 .1-5.2-.2-1.1 .3 1.1 .8-1.2 0-11.2-.5 2.8-.2-2.9 1.6 .9-.4-5.8 .8 2.7 0-2.2 .2 7.6 .3-4.3 1 1.1 .6 6.7-.2 0 .6 .5-.1-6.3-.4-.6 0 3.6 .2-2.9 .3-8.9-.5 3.2 .9-5.1-.7-.3 .3-1.3 .8 .1-.9-4.3 .4-3.6-.1-2.6 .5 6.2 .4-4.4-.7-2.1 .3-5.5 0 1.5 .1 1.7-.4 1.1 1 3.7-.7-2.2 .5 4.8-.4 .9 .2 3.3 .7-.8-.4 3.6 .3-1.5-.6 8.5-.1-.7 .3-.1 .3-.8-.3 8.9-.2-6.4 1.1 4-.7 5.7 1.2-3.9-.4 3.6 .5 3.7-.1 2.4-1-.5 .9-1.1-.8 10 1.2-1.6-1.1 2.2 1.4 2.5-.4-1.6-.2 2.3 .2 2.5-.2-10.2-.4 7.1 .8-1.9-.8-10 .9 1.5-.3-3.6 .5 3.7-.1-5.2-.3-2 0-2.4 .1 4.6 .5-9.9-.2 5.1-.4-1.1 .9-9.8-.4 1.4-.2-.1 .6-.8 .1-5.6-.1-.2-.9 2.3 .6-7.4 .5 .9-.3 3.2-.4-6.1 .3-4.2 .1 5 .2-8.6 0 1.7-.4-1.1 .1-.6 0-1.3 .2-4.9-.2-1.6 .2 1.2 .9 10.3-.6-5.8 .8 7.8-.8-3.8 .5 0-.3 4.3-.1-.8 .8 3.2 .6 8.2-.3-5.1 .3 2.3 .2 2.5-.1 5 .1 1.7-.4-4.3 .3 5.1 .1 3-.2-8.4 .6 0 1.1-4.3-.8-3.2 .6 5.4 .5-3.8 0 3.1 .2-1.1-.1-1.5 .9 8.6-1.2-3.5 1.1 4.7 0 4.1-.8 2.4 .1-5.1 .9 8.5-.6-2.6 .7 .8-.3 8.7-.4 1.2 1.2 2.2-.9-6.2 .5 4.7 .1-1.6 .9 5.7 .1 .8-.3 6.3-.3-5.5 1.2 5.3 .1 5.7 .2-2.2-.2 .6 .5-1.4-.6-3.8 1.1 .3-1.2-.6 1.5-1.9-.6-3.4 .4-.2-.1 1.2 .7-3-.2-2.3-.6-4 .2-4.6 1.1-1.5 0 4.3-.5-9.8 .2 3-.4 3.1 .9-1.2-.1-.2 .2 7.9 .2-.5-.2-3.8-.4 5.7-.2-1.6 1.4 7.8-.5 1.7 .5 1.2-.6-.7 .9 7.3-1.1 .3 .7-3 .2 1-.2 4 .4-1.1-.1-6.7 .5 7.2-.1-8.3 0-3.4-.2 .5 0-2.2-.5-.3 .3-4.2 .3-2.3-.4 6.8 .1-2.5 .6-9.4 .1 2.2-.4-1.4 0-4.1 1.1 3.7-.7-6 1.2-2.7-1.1-2.3 1.1-.8-.2 4.2-.1-6 .5-4.7 .1-.4 .3 1.2 1-1-.3-.4 .3-4.8 0-1.4 .3 2.5-.6 2.9 .4-1.8-.1 10.9 .2-4.2 0 5 .1-1.2 .1 .4 .2 3.2 .1 1-.1 .2-.1 4.6-.7-1.9 .7 8.1 .6 2.5 0 2.9-.9-6.4 0 8.1 .1-3.1 0 7.6 .1-4.9 .6 6.3-.7 .5 .7 1.5 0 4.1 .5 2.3-.7-6.4 .3 1.5 .3 6.3-.2 1.9 .6 1.8 .3-2.9-.4-1.2 .7-6.6 .1 1.3 .7 1.3-.3-1.2 .6 4.4 .1 5.2-.2-1 .2-1.9 .6 8.4-.9-7.2 .8 2 .3 5.8 0-3.3-.1 2.7 .7-.2-.4-7.1 .8 2.3-.1-7.5 .1 2.1 1-.8 0 .1-.4-4.9 .2-1.7 .8 3.8-.4-3.8 .7 2.6-.5 1.2 .9 5.5 .6 1-.4 4.5 .2-2.2-.3-.8 1.3-4.2-1-3.9 0 4.5 .7-.8 .8-9.6-.7 .7 .1-4.1 .2 1.5 .4 .2 1-5.9-.6 2.2-.1 2.5 .6-5.1 .4 2 1.3-4.7-.3-2.3-.1-2.5 1.3 .7-.1-3 .8-.2-.4-2.5 1.3-1.8-.3-3.7 .6 .9-.2 1.9 .1-8.5 .7 5 .1-3.9-.6-3.3 1.3-.1-.6-5.4-.1 2.8 1-1 .2-4.2-1.2-2.4 .5-4.5-.3 6.8 1.2-9.5-1 6.7 .2-8.4 .1-2.7 .5 1.2-.5 1.3 1.1-2.1-.3 2.3 .6 9.4 .2-2-.9 3.5 0 2.3 .4 2.9 .1 .2 .4-3.3 .1 3.6-.3 2.9 .6 3.2-.2 .8 0 .8 .1 4.4 .5-1.2-.3-3.7-.1-1.6 .8-2.3-.5 4.9 .4-8.4 .3 4.6 .6-1.1-.2-7.3 .1-4.4 .4 6.1 .4-1.7-.3-1.9-.4-4.1 0 2.1 .6-9.2 .1 1.5 .8 2.9-.9 3.9 .7-.6 .5-1.4-.7 4.2 0 2.9 .6-3.3-.4 1.3 .8 9.1 .5 1-.2 1.2-.2-2.7 .4 3 .7-4.1-.2 1.3-.6-1.7 1.2 1.5-.3-1.6-.4-1.6 1.1-2.7-.2-3.9 .8-5.4-.8 3.6 1.2-7-.3 1.1-.2 1.6 .5-5.1-.2 4.4 .3-4.6 .9 1.6-1.1 .5 .5 1.6-.1 10.7 .2-.6 .1-5.3-.2 2.7 .9 5.4 .7 1.3-.9-2.3 .7 4.4-.6 2.9 .9 .8-.2 .2 .1 .2 .7 10.6-.4-2.8-.2 4.5 .4 1.3-.1-1.4 .5-.4-.5 2.3-.1 7.9 .3 .5-.3 3.6 .7-.1 .1-.7-.4-.5 1.2-4.7-.9-.7 1.2 2.2-.9-5.9 1.4-2-1.1 4.2 .8-5.2 .7-2.1 .1 1.4 .4-7.1 .1 5.7 .3-5.6-.3 3 1.1-3.3-.5-4.6 .9 3.9 1-3.9 .6-1.7-1.1-.6 .1-4.4 .7 0 .1 1.5 .5-6.8 .1-1.6-.8 2.7 .9-4.2-.2 1.5-.6-3.8 .9-7.6-1.1 6.8 .7-6.2 .4-1.4-.9-2.6 .9 1.2-.3-8 .8-1-1 5.4 1-2.7-.7-1.1 .4-3.3-.2-2.5 .6 2.3-.3-1.2 .5 .2-.9 6.9 .1 4.2 .3-2.3 .2 1.9 .6-1.1 .1 9.4-.5-5.7 .2 .6-.2 10.2 1.5-7.4 0 7.1-.8 4.7 .5-2-.4-.2 1-1.1-.5-7 .8-.2 .1 2.8-.6-1.7 1.5-4.8-.4-2.4 .6-2.6-1 1.1 .8-1.6 .1-1-.3 1.9 .7-7 .4-5.2 .4 6.2-.8-5.4-.2 1.6 1.5-3.6-.5-2.6 .6 2.5 .1 3.8 .3 1.5-.3 1.3 .7 2.8-.2 4.3-.3 1.8 .4 1.6 .2 3.8 .3 3.1 .5 3.4 .4 3.3-.5 1.9 .6 3.4-.4 1.3 .7 2.7 .5 3.1 0 1.7 .3 5.6-.2 1.3 .6-3.3 0-.8-.7-5.6 .7 0-.5-3.3 .7-3.9-.4-2.7 .5-3.7 .5-1.2-.7-3.1 .6-1.9 .5-2.9-.9-4.3 .2-1.8 .1-2.5 .6-3.4 .5-2.1-.4-3.9 .4 3.1-.1 2.5-.4 1.8 .8 3.5-.1 4.1 .1 2.4 .6 3.1-.5 2.1 .4 2.8-.3 1.5 .3 4.7 .7 1.5 0 3 0 3 .3-3.6 0-.7 .8-5.4-.6-.6 .6-3.5 .4-2.9 .6-4.3-.2-1.7 .5 1.8-.6 2.8 .6 4.2 .3 3.2-.3 .8 .6 3.3 .3 2.3-.5 3.5 .9 .5 .2 2.4-.1 4.2 .3 3-.3 1 .1 4.3 .4 3.2-.2 2.1 .2 .8 0 2.9 .1 2.4 1 3.7-.4 3.1 .4-3.1-.2-3.4 .5-3 .1-1.1-.1-5 .2-1.1-.3-3.1-.1-1.7 .6-2.8-.8-4.2 .7-3.9 .2-1.1-.7-4.3 .6-1 .4-4.7-.1-1.9-.4-3.9-.2-3.5 .4-2.6-.2-2.2 0-3.3 .2-.4 .3-4.3 .5-1.8 .7-1 .5-3.5 .4-1.5 .1-3.4 .1-4.1-.1-2.8 .4-3 .2-2.9-.6-1.3 .3-4.4-.3-.8 .1-3.9 .8-2.9-.3-3.9 .1-1.7 1.1 2.4 .4 1.5 .4 2.4 1.2 1.5 .7 2.3-.1 2.3 .9 4.3 0 2.2 .7 2.7-.2 2.3 .7-3.2 .1-1-.1-3-.3-4.4 .1 .2 .7-3.7 .2-2.1 .3-1.5 .5-4 .2-2.9 .1-1.5 .7 1.6 .3 3.8-.5 4 .4 1.7 .4 .9 .6 3.8 1.2-.1 .6-2.4 .9-2.2 .1-4.3 .8-2.1-.1-2.2 .4 1.2 0 4.2 .5 2.3 .2 1.4 .4 4.2 .8 2.1 0 2.5 1.1 3 .3 3.6-.2 .9 .3 4.4 0 4 0 1.5-.2 1.6 .3 3.1 0 2.6 .9 4.3-.3 2.8 .1 2.7 .1-1.6 .8-4.1-.4-4.1 .3-.4 .3-3.6 .8-2.6 .2 2.3 0 4.5 .9 2.2-.2 3.3 .4 .5 0 3.6-.1 1.4 .3 3.3 .8 2-.2 2.9 .7 4.2 .4 1.3 .5-1.7-.5-2.8 .1-3.5 .4-3.9 .1-2.7 .4-2.8 .1-3-.6-2 1-2.1-.3-3.2 0 2.9 .4 3.4 .2 1.3 1 2.5-.6 3.7 .5 3.6 .4 2.8 .2-3.2 .5-.4-.1-2.7 .3 1 .6 3.2 1 2.1 .4-2-.2-2.1 .9-3.8-.6-3.6 .9-2.9 .1-.6-.3-4.3 .7-1.6-.1 2.6 .8 3.8-.3 .3 .4 3.2-.1 5.1 .2 1 .6 4.4-.5 1.6 .8 1.3 .1 3.9-.5 0 .4 5.4 1 1.4-.7 5 .8-3.8-.6 2.5-.5 3 1 .1-.1 6 .1-.4 .5 2.2-.5 3.9 .7-7 .2 2.6-.1 6.5-.5 .3 .6 .1-.6-.1-.1 1 .2 8.7 .7 2 .7-2.6-1 6.2 0-2.2 1.2-2.2-.7 6.8-.1 3.8 1.1-1.5 .2-2.5-.3 5.2 1-.9-.2 1.5 .6-8.9 .5 3.3 .4-6.3 0 .1-.1 .3 .6 .5-.3-5.7 .7-3.3-.1 4.9 .2-8.7-.6 4.5 1.2-1.8 .4-1-.5-3.7 0 6.2-.2-6.7 .3 .8 .3 6.8-.5 2.4 .5 2.6 .6 2.6-.1-5.2-.1 7.3-.5-1.3 .6 .7-.6 1.8 .6 6.6 .9 2.4-.1 3-.4-1.9-.7 2.7 1.3-2.1-.3-.8 .6 5-.6-.4 .6 9-.5-2.6 .2 1.5-.1 .4 .8-.2-.6-5.1 1.6-6.4-.2 1.9-.5-2.4 .9 .4 .8-4.5-.6 4.7-.4-10.1 .8 4.3-.6 .4 1.1-4.1-.6 1.5 .1-.9 .6-2.6 .2-4.8 .7-3.3-.8 3.5 1.1-10.1-.6 2 .8 4.3-.8-3.5 0 7.6 .3 1.7 1.2 3.2-.8-.1 .2-5.3 1.3 2-.3 5.3 1 6.1 .3-4.4 .6 2.1 .6-.3 .2-1.2-.7-8 .7 5.3-1-2.3 .2-4.1-.1-5.2 .5 4.6 .4-.3 .4-2.7-.9-1.4 .7-8.2-.9 6.2 .2-2 1.2-6.2-.5-5.1-.6 6.1 .8-7.6-.5-3.4 .8 .2-.9 3.9 .7-4.9 .2-4.6 .8 .7 .4-.3 .5-.9 .2-.7 .1 8.5-.3-3.8 .6 2 0 3.3 1-3.1-.5 9.8-.5-1.2 .7-.3 .7-.8-.2 4-.4-.3 1.4-3.6 .1-1.1-.2-.3 .3-1.8 0-1.1-.5 0 .7-5.5 .2-3.3-.5 3.9 .6-5.8-.4 .3 .6 3.1-.7-.5 1 .4-.3 1.4-.6 10.4 .6-3.3-.5-1.4 .7 9.4 .7-3.5-.6-.1 .5 .9-.7 2.3 .7 8.4-.4-3.6 .7-.6-.2 3.9 .3 1.2 0 7.6-.8-4.7 .5 .5 0 4 .2-.3 .1 3.3-.2 6.3-.5-2.2 .5 3.4 .4 .3 .4-8.2-.6 1.6 .8-.1-.7-5.1 .3 .2-.5 1.3 1.4-3.9-.6 3.1 .9-.8-.2-9.3-.5-.1 .8 2.8-.4-4.5 .7-5-.7 6.7 .3-5.5 .3-.4-.4-.7 1.5-2.8-.7-1.6 0-.8 1-3.4 .1-.6-.2-3.5 .6 2.3 .1-1.7 .1-9.9-.5 6.5 0-2.2 1.1-8.9 .4 4-.8-5.4 .8 1 .1 .6 0-5.2-.1 5.1 1.2 1.6-.6-4.4 .3 3.2 .4-1.4-.4 1.6 0 3.9 .8 6.4-.1 2.6 .4-2.2 .6 5.8 .7-3.3-.2-3.5-.3 3 .7-.2-.1-3.5-.4-.1-.1-9.1 1.3-2.9 0 7.5-1.2-7.4 1.1 3.8-.3-2.4-.2-3.3-.4-2.6 .2-1 .1-8.7 .3 .4 .2-4-.1 .4-.1 2.2 .6-3-.4-3.6 .3 2.8-.5-7.8 .7-.4 .1 1.2-.9-3.8 1.3 3.2-.4-.1 .5-3.8-.1-4.6-.5-1.7 .6-.4 .2 8.6-.2 1.4-.1-1.1-.8 2.2 0 3.4 1.1 1.4 0-4.2-.2 3.7 .5 2.8-.6 2.9 .5 .8-.5 2 .3-3.9-.3 2.1 .4 1.4 .4 6.4-.9 2.8 1-5 0 6.1 .3 6.1-.4 .4-.5 1.2 .5-.7 .5 .8-.2-6.8 .1-2.4 .6 3.4 .2-.6-.3-3.5 1-1.4-.7-5.1 .7 .4 0 2.3 .7 3.1-.2 4.7 .6 2.7 .1 .5-.1 5.3 .7 1.6 .5 1.2 1.4 3.9 .3-3-.5-3 .7-3.2 0-2.5 .3-.7 .2-3.1 .4-5.1-.6-.2 .5-4 .5-3.2-.2-1 .4-5-.1-1.4-.1 4 .5 1.3 .4 3.2 .2 2-.2 3.2-.5 3.7 .7 1.7-.1 3.1 .4 3.1 .2-1.4 .1-2.9-.3-5.6-.1-.3 0-3 1-2.8-.5-4.6 .5-2.8-.8-1.9 1-1.2-.4-5.8 .1-1.6 .2-3-.2-1.3 .5-4.7-.2-3.4 .1-2.9 0-1.3 .4 2.3 .5 3.1-.5 3.5 .5 2 .5 2.2 .1 1.6 0 2.7 .4 4.1 .3 2.4-.1 2.2 .1 4.3 1.1 .6 .4 3.8-.3 1.8 .2-3.4 .3-1.2 .2-4 .3-3.5 0-.4-.6-5.3 .8-1.3-.4-4.8 .9 .2 .2-5.7-.1-1.6-.2-3.2 .5-2.5-.4-3.9 0-1.6 .6-2.6 .3 3.1 .3 3.7 0 1.8-.3 3.2 .2 1.2 0 3.7 0 2.9 .1 3.2-.1 1.4 .7 4.7-.6 3 .6 1.3-.5 2.4-.2 2.9 1 5.1-.2 2.8-.5 1.5 1 1.9-.9 4.9 .6 1.4 .2-1.4-.4-3.1 .6-2.7-.1-5.4 .4-1.8-.4-3.4 .1-1.3 .8-4.4-.5-.5 .2-3.6 .1-2 .5-5.1-.1-1 0-4.4 .3-3.2-.3-2.5 .4-.6 .7-4.1-.2-2.4 .4 3.7 .4 .9-.1 4.9 .2 .1 .3 5-.1 .5-.4 2.6 .7 4.6-.3 3.5 .5 .6 .2 3.8 .3 2.1-.2 2.6 .8 2.4-.4 2.9 .7 4.5-.1 1.1-.2 5.2 .8 .1 .2 5.2 0 1.7-.1-1.4 .2-4.3 .4-1.2 .3-3.5 .4-4.2-.1-2.2 .1-3.6 0-.3 1-5.3-.3-1.8 .7 2.3-.1 3.1-.1 2.7-.3 3 .4 4 .6 .8 .4 3.7-.1 3.2 .3 1.1 .3 4.4-.2 2 .4-1.9-.5-2 .6-2.9-.4-4.6 .7-.6-.1-5.3-.3-1.5-.2-3.3 .7-.9 .2-2.8-.4-2.8 .1-4.6 .5-2.7-.1-1.9-.2 3.4 .3 2.6 .3 2.3 1.1 2.5-.5 4.3 1 1.4 .1 2.1-.5 2.7 .8 4.5 .2 1.9-.3-3.9 .3-2.5 .2-1.3 .1-2.8 .4-2.3 .1-2.6-.1-4.2-.1-3.9 .3-.8 .7-4-.5-3.2 .4-2.5 .5-2.1-.5-3.2 .2-1.6-.2-3.3 .3-4.1-.2-3.2 .6-2.1 0 1.9 .5 2.1-.1 4 .4 2.7-.2 1.6 .8 4.8-.4-.2 .5 3.9 .6 4.4-.3 2.6 .4 2.6-.4 0 1 4.2-.5 3.7 0 1 1 4.5-.1 2.3 .2 2.5 .6-3 .2-1.1 .4-1.6 .7-3.2 .6 3.3-.6 1.8 .6 3.3-.1 1.5 .2 3.9-.2 4.8 .9 2.8-.4 1.9 .6 1.5 .1 4.3 .1 2.3 .1 2.7-.2-3.6 .2-2.1 .2-3.7-.3-.4 .4-3.2 .7-5.1-.7-2.6-.1-2.9 .8-1.3-.4-3.4 .6-2.2 .1-2.8-.5-4.7 .7-1.9 .1-2 .2-2.8-.3-2.3 .4-4.1 .2-3.3-.2-2.4 0 3.2 .8 1.6-.6 2.5 .6 4-.1 2.5 .1 3.5-.1 2.5 .2 3 .5 2.5 0 4.1 0 1.9 .9 2.4-.4 3.8 .3 3.2 .5 1.1-.2 3.7 .1-3 0-2.4-.2-4 .1-2.3 .1-3.3 .8-1.9-.6-4.5 .4-1.3 0-4.6 .1-.6 0-3.2-.1-3.8 0-1.7 .5-3.5-.2-3.7 .6-3.7-.4-2 0-2.3 .5 4.1 0 1.9-.2 3.5 .4 2.2-.3 1 .9 2.1-.6 3.2 .9 4.3-.3 1.8 .8 3.1-.2 1.8 .3-2.8-.2-3.6 .5-2.8 .3-3 .1-3 .3-.8 .3-4.3 .2-3.7-.3-2.4 .1-3.6 .3-1.5 .3-2.5 .9-3.3 .7-2.2 0-3.3 .3 3.9-.3 2.6 .3 1.3 .3 4.2-.6 2.8 1 .7 .1 4.1 .1 2.7-.4 3.7-.1 1.5 .5 3.2-.6 2.7 1 4.2-.7 2.1 .6 1.8 .3 5.3 0 2.3-.2 1.2 .4 4.7-.1 1.7 .5-3.9 .5-.6 0-5-.3-3.2 .9-1.5 .5-4.1-.2-1.9 .2 2.2 1 4.3 .2 2 .2 2.9" fill="none" stroke="#1f77b4" stroke-width="2.32" stroke-linejoin="round" />
<path d="M714.5 961l.6-2.6 .3-1.2 2.2-1.2 .5 1.3 .2 2.7-.5 4.1 1.1 2.1 .2 4.3-.2 2.2 .2 1.7-.3 3.8 .7 1.7-.1 1.5 .6 5.2 .2 2.8-.1 2.8 0 1.6-.2-4 .6-.8 1.1-4.9-.2-1.6-.1-4.2 .4-1.9-.2-3.6 .6-2.8 .4-.7-.4-2.3-.1-2.4 .3-4.5-.2-3 .5-1.6 .3-3.3 .7 2.6-.2 2.5 .7 3.8 .6 2.7-.2 1 .5 1.8-.5 3 .6 3.5-.1 4.5 .4 0 .2 3.4 1 2.3-.2 4.2 .2-2.1 .5-3.8-.1-2.4 .7-1.8 .4 1.6-.6 2.5 .1 4.6 .7 1-.2 2.7 .4 4.6-.1 3.2-.1 2.8 .7 .1-.4 5.7 1 1.2-.4 2.8 .1-1.8 .4-4.5 0-1.4-.2-4.2 .1-1.4 1-1.5 .1-5.2 .1-2.2 0-1.7-.1 2.9 .3 1.5 .4 4 .9 1.6-.2 3.8 .9 2.9-.1 1.8 .4 4 .4 2 .3-1.5 .3-5.3 1-1.6-.1-2.3 .3-2.2-.2-2.5 1-4.5-.1-2.5 .7-2.4 .1-2.9 .1-1.9 .2 2.2 .2 3.5 .8 2.2 .1 3.5 .1-4.3 .7-1.7-.4-2.7 .8-2.7-.1 2.2 .4 2.2 .4 2.7-.2 3.2 .6 2.1-.3 2.6 .7 3.2-.2 3.2 .6 1-.4 3.8-.2 1.5 .9 3.5-.2 1.7-.1 3.1 .6-1.4 .3-3.7 .2-2 .3-3.5 .3-2.2 .2-1.8-.2-1.4 .8-4.1 .1-2.6 .6-1.9 .3 4.1 0 2.2-.2 3 .5 2.6 .1 3.2 .5 1.3 .1-2.4 .2-3.5-.3-3.7-.2-1.2 .4-2.8-.1-4.1 .4-.3 .3-3 0-3.5 .1-4.7 .4-1.1 0-3.5-.3-1.2 .3-4.1 0-2.6 .5 1.4-.3 4.7 .3 3.9-.7 1.1 .6 4.1 0 .5-.2 4.2-.1 3.3 .9 2.5 0 1.1-.3 4.9 .5 2.1-.6 3.3 .7 2.3-.7 2.8-.1 2.4 .4 3.8 .4 1.2-.7 3.7 .3 1.6 .6 4.9-.3 2 .1-1.6 1-3.1-.2-3.3 .4-3.1 .3-1.2 .3-3.3 0-3.3 .3-2.3 0-3.5 .4-2.3 .5-3.5-.5-1.8 .7-4.9 .7-1.7-.2-2.7 .1-3.4 1.2-1.6 0-2.9 .3-2.8-.1-3.5 0-1 .5-2.1-.5-4.6-.1-2.6 .7-1.4-.3-3.7 .7-.7-.4-3.7 .2 2.4 .1 3.4-.2 1.8 .9 4.2-.5 .3 .7 3.2-.6 2.4 1.1 1.8-.1 5.6 .3 2.1-.2 1.8 .2 1.2 .2 5.2-.3 .2 0 3.6 .4 4.1 .3 3-.4 1.6 .1 3.6 .7 .6 0 3.4 .7 3.6-.3 2 .4 2 .6 2.8-.7 1.6 .4 2.7 .6 2.9 .2-3.8 .3-1.6 0-2.3 .2-3.2 .5-.6 .3-3.6 .2-1.8 1-1.6 .4-3.7 .3-1.8-.4 2.3 .2 4.5 .6 2.4 .4 2-.5 1.8-.2 3 .2 4.6 1 1.1-.7 4.5 .9 1.1 0 4.4-.1 2.1-.3 2.8 .5 2.8 0 2.3-.1-1.7 .5-4.5 .1-2.2 .1-3.1-.2-3 .2-2.3-.6-1.7 .1-2.9 .8-4.2-.1-1.4-.2-5.6 .2-1.4-.1-1.8-.3-3.1 .3-3.5 .6-2.1-.6-3.3-.1-2.9 .2-3.4-.2-4.2 .4-2.9 .4-2.1-.2-3.7-.3-1.9 .3-2.9 .5-1.3-.2-3.9-.3 4.4 .1 2.7 .3 .1 0 5 .2 3 .3 1.5-.5 4.4 .5 .7 .1 4.5 .4 4.2-.9 .5 .4 5.2 .2-.1 0 4.9-.3 3.8 .9 1.6-.4 2.8 .7-1.3-.5-2.7 .5-2.8 .1-3.8 .3-1.6 .4-4.2-.3 1.3 .3 4.2 .4 2.7-.1 3.4 .2 2.1 1 2.5 .1 4-.7 1.7 .6 2.7 .1 2.6 .3 3.1 .5-3.8-.1-1.1 .9-1.8-.4-2.8 .2-4 .8-1.6 .6-2.3-.4-2.1 .5-2.9 .5-4.1 .2 2.5 0 4.4 .6 2.8-.3 2 .4 3.4 .2 2.1 .6 2 .3 2.5 0 3-.1 2 .4 2.3 .3 3.6 0 3.4-.1-3.8 .2-.8-.1-2.9 .3-4.4 .2-1 .6-4.3-.6-1.3 .3-3.8 .9-4.7-.2-1.4 .1-1.9-.1-3.2-.1-1.7 .3-5.3 .2-.5-.1-3 .2-3.6 .3-3.8-.8-1.3 .9-3.2-.5-2.7 .4-4.3-.2-2.9 .1 0 .3-3.8-.3-3-.1 1.1 .4 3.7 .8 1.6 .4 3.7 .9-1.6 1-3.4-.3 1.3 .5-3.3 .3-.5-.5-1.8 .9-7.6-.1 .5-.6 3.1 .6-5.2-1.1 1.5 .2-7.2 1.2 3.5-.1-2.9-.2-7.1 0-1.1-.3 6.2 .2-7.4-.4 .2 .2 1.9 .1-5.2 .2-4.9 0-4.4 .6-1.2-.1 .9-.2-3-.2 .3 .5-.9-.5 2.7-.3-4.5 .7-3.1 .7-1.3 .8 5.7 .4-.6 1 .9 .2 .8 .5-7.2 .1 .4 .9-2.2-.2 2.2 .3 4-.5 2.6 1.2 4.4 .3-1.3-.6 7 .2 0 .3-1.5 .7-2.4 .9 4.4-.3 6.6 .6-2.3 .9-1.8 .7 .5 .3-2.5 .9 1.4-.6-2.1 .8-7.7-.3 1.2 1.2 2.6-.1-4.2-.5 1 1.3-1.4 0 6.3-.2 .6 .8 4-.7-1.3 1.2 5.9-1.2 2.4 .9-3.1-.4 5.8 .7-1.3 .6-3.1 .6-2.4-.5 .9 1.2-1.7 .5-6.2-.6-.5 .6-2.4-.5 .7 1 .6-.9 1.2 .2-.6 .1-6.8 0-3.1 1-2.1-.2 1.5 1.1-3.7 .8-4 .2-1.7 .4 3.1-.5 5.6 0 .7 .5-.8 .5-1.2-.8 5.1 .7 1.9-.6-.5 .4 .8 .2-1.1 .7 10.6-.2-4.8-.6 7.7 .3-.7 .4-3.9-.4 7.9 .2-2.4 .4 2.9-.6 4.1 .8-.1-1.1 2.6 .3-.7-.2 5.6 .1-.4 1.3 1.1-.8-2.3-.4 7.5 .7 .2 .9 6.5 .4-2-.6 2.7 1.2-.9 .8 1.8 1.1-.5 .2 2.8-.2-10.7 .6 3.4-.3 .4 1.5-5.7-.4 4.8 0-8.8 .4 1.2 .1-2.6 .8-2.2-.2 4.3-.7-8.9 .7-2.8 .8-2.1-.5-2.5 .7-.6-.8-.6 .6-3.6 1 5.9-.6-4.5 0 .6 .1-1.8 .4 0-.7-5-.1-.9 1.3-6.6-.9 6.9 .9-11-.2 6.6-.5-9.5 1.1 7.2-1-5.6 .5-2.4-.3-.7 .2 1.5-.3 4.3 1.2-.1-1.3 7.6 .9-.9-.4 .7 .3-3.1-.4 5.7 0 2 .7 5.8-.3-3.9-.7 1 .7 4.4 .3-1.1-.8 4.7 0 2.8 .5 5.4-.1-2.5 .6-3-.4 5.7 .5-2.4 .4 1.3-.9 9.9 .9 2.6-.7-4.8 .2 5.2 .6 2.6-.5-3.5-.6 6.5 .5-.4-.4 2.8-.1 5.4 .4 1.2 .9 .5-.9-3.4 .3 4.6 .5 4 .3-2-.4 1.6 0 5.2 1-.1 .3 4.2-.4-1.6 0-1.1 1-4.1-.4-.9 1.2-4 .1-2.5 .6 4.1 0 2.5 .4 1.2 .1 3.9 .7 3-.7 1 .7 3.2-.1-1.1 .6-4.4 .7-2.7-.6-2.3 .7-2.1 .5 3.7 .1 2.1-.3 3.3 .7 1 .3 2.6-.6 3.3 .5 1.7 .1-3.9 .3 .1 .4-2.5 .4-4.2 .6-1.1 .1-3.6 0-2.5 .9-2.3 .2-4-.2-.5 .7-3.4 .3-2.4 .5 2.6-.1 3.1 .2 1.5-.4 5 .1 2 .8 3-.2 1.6 .5 4.4-.1 2-.6 1.9 .9 2.9-.8 1.5 .5 3.8 .2 3.2 .5-2.1 0-3.1-.1-2 .9-3.9 .5-1.8-.1-4.2 .1-1.2 .9-4.1 .3-1.3-.1-2.2-.1-2.2 .3-1.4 .6-3.3-.2-3.2 1.1-3.9-.2-1.1 .3 3.7 .5 2.5 .1 2.6 .7 1.1-.3 3.4 .4 1.8 .5-4 .3-.1 .6-4.8 .4-1.2 .9-1.7 1-.8 .5 3.4-.1 2.1-.6 4.3 .9 1.6-.5 1.4 .2 4.1-.3 2 .1 3.7 .5 2.4-.6 4.1 .7 1.1-.6 2 .5 4.4 0-1.8 .5-3.7 1-4.1 .3-1.8 .2 2.2 .4 3.3 .6 3.5 .7 2.4 1.9 0 0 1.8 .9 3.2-.3-3.5 .3-2.1 .5-2.3 .3-4-.5-.9 .7-2-.3-3.6 .7-1.7-.4-3.8 .2-3.7 .2-.6 .3-3.8-.1-4-.3-3.4 .3-1.3 .1-3.4 .1-3.3 .1-1.4-.2-2.4 .4-5.3 .1-.6-.2-4.3 0-2.9-.3 3.7 1.1 .7-.7 2.8 .6 4.2 .1 3.2-.2 3.4 .5 1 .2 3-.1 3.4 .4 2.5-.1 2.4 .3 1.7 .1 2.7-.2 3.9 1 2.9-.6 2.9 .7 1 1.2 2.5 .7 0 .3 2.3 .8 2 .1 2 .2-1.2 .4-5-.1-2.9 .1-2.4 .4-2.3-.7-3.6 .6-1.5 .7 3.7-.8 2.4 .2 2.7 .2 3.3 .1 2.1 .5 1.9 .2 4.6 .8 .5-.3 4 .5 3.8-.1 2.1 .2 4.1 .3 .6 .5 2.5 .2 3.2 .5 2.3-.2 4.1 .5-2.5 .1-3.6 .4-3-.3-1.2 .1-3.1 .5-4.4-.3-2.1 .5-2.8 .7 3.2-.4 2.1 .6 4.2 .2 3.2 .6 1.2 2.5 0 .5-1.6 1.4-2.2-.4-1 .6-5.4 .4-.6 .1-1.8-.7-2.2 0-4.4 .6-2.2 .4 2.7 .3 2.8 .2 2.2-.2 4.1 .1 1.9 .6 3.3-.2 1.9 .8-2.9 1.1-.9 1.9-1.3 0 2.5 .6 2.1 .7 3 .1-1.6 .2-3.8-.4-4.3 .5-1.2-.1-2.3-.2-2.7 .2-5.5 0-.2-.1-4.2 0-1.9-.2-3.8-.2-3.5 .2-1.7-.1-2.9 .9-2.9-.9-3 1-2.1-.6-3.2 .3-3.7-.5-4.1 .2-2.4 .2-3.4-.4-.9 .2-3 .3-3.6 .4 2.7-.4 2.7 .6 2.6-.3 2.4 .3 3.5-.1 3.6 .1 .4 0 4.3 .4 2-.4 3.2 .7 3.9-.6 .5 .5 3.5 .6 4.2-.8 1.1 .3 2.8-.2 3.4 .2 3.2 .7 2.3 .2 1.8-.2 2.9-.3 4 .2 2.3-.1 2.1 .5 4 .3-3.1 1-2.7-.1-1.9 .5-1.1 1.1 3.2 .3 .3 .2 2.8 .9-1.9 1-3.2 .2 2.8 1.2 2.6-.2 1.8 .7 2.9 .5-2.4 .6-1.1 .6-2.8-.4-3.7 .8-.9-.1-3.8 .2-3.7 .4-.8-.4-3.7 .3-2.3 .2 1.5 .3 4.2 .7 2.7 .7 2.9 .3-1 1.2-2.7 .7 1.7-.7 3.6-.1 3.6 .3 0 .3 4.8-.2 3.1 1.1 .6-.4 3.4 .6-3.8 0-.9-.5-2.8 0-2.4 .8-3.7-.6-2.1 1-4.4 0-2.3 .3-2.2-.3-2.6 .1-2.9 .1-1.1 .2-4 0-1.6 .4-3.6 .4-3.1 .8-2.8 .1-3.6 0-1.4 0-2.8 .4-3.3 .5 1.6 .6 4.6-.3 3.6 .8 2.1 .3 2 0-1.6 .7-1.9 .9-3.4 .3-2-.2-3.5 0-3.3 0-1.8 .6-3.2-.1-3.2 .2-2.2-.5-1.2 .4-3.9-.3-3.4 .5-2 .1 2.9 .3 1.7 0 3.7 .5 2.5-.1 4 .4 1.9 .4 4.3 0 1.7 .2 2.5 0 4.1 .9 3-.2 1.8-.3 2.8 .4 2.3 .5 2.4 .7 3.8-.3 .6 .5 4.7 .2 1 0-1.5 1.1-2.7-.3-2.4 .7-2.2 .7 3.6 .8 1.4 .5 2.2 .1 3.4 .7 1.5 .1 4.3 .4-.8 .3-4.2 .2-2.2 .6-1.7 0-3.1 .5-3 .5-2.8-.1-2.8-.3-2.5 .6-1.1 .3-3.2 0-3.7 .4-3.6-.1-1.9 1.9 0 .6-3.9 .6-1.4 .7-2.3 .9 2.7 .2 .1 .2 3.5 0-2.9 1-1.4 .2-2 .5 1.4-.5 3.7 .7 1.9 .5 2.2 .1 4.8-.3-.1 .3 3.8 .6-3.6-.6-2.7 .3-2.5 .2-3.3 .2-3.1-.1-1.2 .3-3-.5-3.9 .3-1.3-.1-1.8 1-3-.4-3.4 0 1.8 0 3.2 .5 2.1 0 4.5-.1 2.7-.1 3.5 .3 2.2 .7 .8-.3 4.9 .3 2-.1-3.1 .3-1.1 .2-3.2-.3-4.3 0-1.6 .8-3 .2-2 .2-1.9 .1-3.9-.8-2.2 1.1-4.1-.2-3-.6-1.1 .6-3.3 .2 1.5 .6 5.2 .3 1.5-.6 4.3 .3 1.4 .3 3.5 .6 2.3-.4 1.8 .3 3.7 0 3 .1 3.4 1.2 1.6-.2 2.6 .2 3.3 .4 2.6-.1 3.8-.1 2.8 .6 3 .6 1.7-.3 2.7 .5 3 .3 1.8 1.9 0 1.3-1.8 .6-2 1.2 1.3-.3-1.6 1-4.4-.5-3.3-.1-3.4 1.1-2.2-.8-2.2 .6-3.1 .5-3-.5-1.6-.1-3.6 .3-2.4 .9-4.1-.3-2.4 .1-1.8 0-3.5 1.2-.6 .1-2.2 .7 .4 .3-1.9 .1-6.8 .2-.5-1 2.8 1-7.9 .2 7-.3-4.7 0-.4 .6-4.4 .1-.5-.2-2.1 1-3.6-.2-5-.9-1.3 .1 5.1 1-7.3-.1 1.1 .3-1.3-.7 .3-.1 .1 1.3-10.8-.8 3.6 0-5.4 .4 4.4 .1-5.1 .8-2.6-.9 6.3 .5-.2 .5 5 .2-1.4 .5 2.8 .3 1.5 .4-1.4 .5-1.3-.1-6.5-.1 1.7 .4-2.9-.7 1.3 .1 2.3 .9-4.7-.5 1.4-.2-8.1 .7 .7 .6-6.3-.1 2.4 .3 4.4 .5 2.1-.6-2.9-.3-.8 .5 3.5-.7 .4 .3 3.9 .7 4.6-.6 1.6 1-1.6-.6 2.6 .3 4.7-.8 3.2 .8-3.2 .6 1.5-.2-2-.4 7.3 0 2.2 .5-.3-.9-2.1 .6 6.2 .5-3.8 .6 .4 .4-.4 .3 5.4-.4-4.6 .5 7.5 .9-4.6 .1 5.1-.7-2.1 .3 2.4 .9 5.5 0-.7 .5-1.6 2 .3 1.2 1.1 .6 .7 .4 5.2-.2-.5 0 2.9-.4-.9 .7-2 .2 5.6 0 1.6 .3-2.9-.2 2 .6-2.8-.8 .5 .6-6.7 .5 .3 .4 0-.5-5.9 .6 1.7 .4 2.3-.4-9.9 .7 5 0-5-.3-1.3 .7 3.5-.3-1.4 .6 4.7-.7 3.9 .5 2.3 .4 .9-.8-6.2 .5 3.7-.1 6.8 .2-5.6-.2 2.5 1.1 3.9-.7 1.3 1 3.1-.9 1.5 .6 2.9 .7-2.7-1 2.2 .8-.2-.8-5 .5-2.9-.1-2.4 .9 .6 0-3.8 .4-2.2-.1-1.6 .4 2.9-.9-9.4 1.2 6.8 .2-7.7 0-2.7-.4 .3 .2 5.5 .9-4.2-.2 6 .2-4.9 .5 8.9 .3-1.2 1-3.2-1 9.4 1.1-.3-.2-1.4 0 2.4 .1 5.3 .7-.4 .2 .8 .7 1.8 .1-2.9-.8-.1 .1-10.4 .1-.3 1-.3-1 .9 .4-.8 .5-5.3-.4 .9-.2-.3 .5-1.3 .3-3.5 .4-1.9 .2-8.4 .2 5.4 .1-4.2 0-1.6-.4 .3 .4-2.8-.3-3 .6-.4-.5 8.5-.2-2.1 .2 .1-.4 2.9 1.3-3.1-.2 4.4 0-1.4 .3 7.1-.3-3.1 .1 5.2-.2 1.1 .3-1.1 .8 1.2 0 11.2-.5-2.8-.2 2.9 1.6-.9-.4 5.8 .8-2.7 0 2.2 .2-7.6 .3 4.3 1-1.1 .6-6.7-.2 0 .6-.5-.1 6.3-.4 .6 0-3.6 .2 2.9 .3 8.9-.5-3.2 .9 5.1-.7 .3 .3 1.3 .8-.1-.9 4.3 .4 3.6-.1 2.6 .5-6.2 .4 4.4-.7 2.1 .3 5.5 0-1.5 .1-1.7-.4-1.1 1-3.7-.7 2.2 .5-4.8-.4-.9 .2-3.3 .7 .8-.4-3.6 .3 1.5-.6-8.5-.1 .7 .3 .1 .3 .8-.3-8.9-.2 6.4 1.1-4-.7-5.7 1.2 3.9-.4-3.6 .5-3.7-.1-2.4-1 .5 .9 1.1-.8-10 1.2 1.6-1.1-2.2 1.4-2.5-.4 1.6-.2-2.3 .2-2.5-.2 10.2-.4-7.1 .8 1.9-.8 10 .9-1.5-.3 3.6 .5-3.7-.1 5.2-.3 2 0 2.4 .1-4.6 .5 9.9-.2-5.1-.4 1.1 .9 9.8-.4-1.4-.2 .1 .6 .8 .1 5.6-.1 .2-.9-2.3 .6 7.4 .5-.9-.3-3.2-.4 6.1 .3 4.2 .1-5 .2 8.6 0-1.7-.4 1.1 .1 .6 0 1.3 .2 4.9-.2 1.6 .2-1.2 .9-10.3-.6 5.8 .8-7.8-.8 3.8 .5 0-.3-4.3-.1 .8 .8-3.2 .6-8.2-.3 5.1 .3-2.3 .2-2.5-.1-5 .1-1.7-.4 4.3 .3-5.1 .1-3-.2 8.4 .6 0 1.1 4.3-.8 3.2 .6-5.4 .5 3.8 0-3.1 .2 1.1-.1 1.5 .9-8.6-1.2 3.5 1.1-4.7 0-4.1-.8-2.4 .1 5.1 .9-8.5-.6 2.6 .7-.8-.3-8.7-.4-1.2 1.2-2.2-.9 6.2 .5-4.7 .1 1.6 .9-5.7 .1-.8-.3-6.3-.3 5.5 1.2-5.3 .1-5.7 .2 2.2-.2-.6 .5 1.4-.6 3.8 1.1-.3-1.2 .6 1.5 1.9-.6 3.4 .4 .2-.1-1.2 .7 3-.2 2.3-.6 4 .2 4.6 1.1 1.5 0-4.3-.5 9.8 .2-3-.4-3.1 .9 1.2-.1 .2 .2-7.9 .2 .5-.2 3.8-.4-5.7-.2 1.6 1.4-7.8-.5-1.7 .5-1.2-.6 .7 .9-7.3-1.1-.3 .7 3 .2-1-.2-4 .4 1.1-.1 6.7 .5-7.2-.1 8.3 0 3.4-.2-.5 0 2.2-.5 .3 .3 4.2 .3 2.3-.4-6.8 .1 2.5 .6 9.4 .1-2.2-.4 1.4 0 4.1 1.1-3.7-.7 6 1.2 2.7-1.1 2.3 1.1 .8-.2-4.2-.1 6 .5 4.7 .1 .4 .3-1.2 1 1-.3 .4 .3 4.8 0 1.4 .3-2.5-.6-2.9 .4 1.8-.1-10.9 .2 4.2 0-5 .1 1.2 .1-.4 .2-3.2 .1-1-.1-.2-.1-4.6-.7 1.9 .7-8.1 .6-2.5 0-2.9-.9 6.4 0-8.1 .1 3.1 0-7.6 .1 4.9 .6-6.3-.7-.5 .7-1.5 0-4.1 .5-2.3-.7 6.4 .3-1.5 .3-6.3-.2-1.9 .6-1.8 .3 2.9-.4 1.2 .7 6.6 .1-1.3 .7-1.3-.3 1.2 .6-4.4 .1-5.2-.2 1 .2 1.9 .6-8.4-.9 7.2 .8-2 .3-5.8 0 3.3-.1-2.7 .7 .2-.4 7.1 .8-2.3-.1 7.5 .1-2.1 1 .8 0-.1-.4 4.9 .2 1.7 .8-3.8-.4 3.8 .7-2.6-.5-1.2 .9-5.5 .6-1-.4-4.5 .2 2.2-.3 .8 1.3 4.2-1 3.9 0-4.5 .7 .8 .8 9.6-.7-.7 .1 4.1 .2-1.5 .4-.2 1 5.9-.6-2.2-.1-2.5 .6 5.1 .4-2 1.3 4.7-.3 2.3-.1 2.5 1.3-.7-.1 3 .8 .2-.4 2.5 1.3 1.8-.3 3.7 .6-.9-.2-1.9 .1 8.5 .7-5 .1 3.9-.6 3.3 1.3 .1-.6 5.4-.1-2.8 1 1 .2 4.2-1.2 2.4 .5 4.5-.3-6.8 1.2 9.5-1-6.7 .2 8.4 .1 2.7 .5-1.2-.5-1.3 1.1 2.1-.3-2.3 .6-9.4 .2 2-.9-3.5 0-2.3 .4-2.9 .1-.2 .4 3.3 .1-3.6-.3-2.9 .6-3.2-.2-.8 0-.8 .1-4.4 .5 1.2-.3 3.7-.1 1.6 .8 2.3-.5-4.9 .4 8.4 .3-4.6 .6 1.1-.2 7.3 .1 4.4 .4-6.1 .4 1.7-.3 1.9-.4 4.1 0-2.1 .6 9.2 .1-1.5 .8-2.9-.9-3.9 .7 .6 .5 1.4-.7-4.2 0-2.9 .6 3.3-.4-1.3 .8-9.1 .5-1-.2-1.2-.2 2.7 .4-3 .7 4.1-.2-1.3-.6 1.7 1.2-1.5-.3 1.6-.4 1.6 1.1 2.7-.2 3.9 .8 5.4-.8-3.6 1.2 7-.3-1.1-.2-1.6 .5 5.1-.2-4.4 .3 4.6 .9-1.6-1.1-.5 .5-1.6-.1-10.7 .2 .6 .1 5.3-.2-2.7 .9-5.4 .7-1.3-.9 2.3 .7-4.4-.6-2.9 .9-.8-.2-.2 .1-.2 .7-10.6-.4 2.8-.2-4.5 .4-1.3-.1 1.4 .5 .4-.5-2.3-.1-7.9 .3-.5-.3-3.6 .7 .1 .1 .7-.4 .5 1.2 4.7-.9 .7 1.2-2.2-.9 5.9 1.4 2-1.1-4.2 .8 5.2 .7 2.1 .1-1.4 .4 7.1 .1-5.7 .3 5.6-.3-3 1.1 3.3-.5 4.6 .9-3.9 1 3.9 .6 1.7-1.1 .6 .1 4.4 .7 0 .1-1.5 .5 6.8 .1 1.6-.8-2.7 .9 4.2-.2-1.5-.6 3.8 .9 7.6-1.1-6.8 .7 6.2 .4 1.4-.9 2.6 .9-1.2-.3 8 .8 1-1-5.4 1 2.7-.7 1.1 .4 3.3-.2 2.5 .6-2.3-.3 1.2 .5-.2-.9-6.9 .1-4.2 .3 2.3 .2-1.9 .6 1.1 .1-9.4-.5 5.7 .2-.6-.2-10.2 1.5 7.4 0-7.1-.8-4.7 .5 2-.4 .2 1 1.1-.5 7 .8 .2 .1-2.8-.6 1.7 1.5 4.8-.4 2.4 .6 2.6-1-1.1 .8 1.6 .1 1-.3-1.9 .7 7 .4 5.2 .4-6.2-.8 5.4-.2-1.6 1.5 3.6-.5 2.6 .6-2.5 .1-3.8 .3-1.5-.3-1.3 .7-2.8-.2-4.3-.3-1.8 .4-1.6 .2-3.8 .3-3.1 .5-3.4 .4-3.3-.5-1.9 .6-3.4-.4-1.3 .7-2.7 .5-3.1 0-1.7 .3-5.6-.2-1.3 .6 3.3 0 .8-.7 5.6 .7 0-.5 3.3 .7 3.9-.4 2.7 .5 3.7 .5 1.2-.7 3.1 .6 1.9 .5 2.9-.9 4.3 .2 1.8 .1 2.5 .6 3.4 .5 2.1-.4 3.9 .4-3.1-.1-2.5-.4-1.8 .8-3.5-.1-4.1 .1-2.4 .6-3.1-.5-2.1 .4-2.8-.3-1.5 .3-4.7 .7-1.5 0-3 0-3 .3 3.6 0 .7 .8 5.4-.6 .6 .6 3.5 .4 2.9 .6 4.3-.2 1.7 .5-1.8-.6-2.8 .6-4.2 .3-3.2-.3-.8 .6-3.3 .3-2.3-.5-3.5 .9-.5 .2-2.4-.1-4.2 .3-3-.3-1 .1-4.3 .4-3.2-.2-2.1 .2-.8 0-2.9 .1-2.4 1-3.7-.4-3.1 .4 3.1-.2 3.4 .5 3 .1 1.1-.1 5 .2 1.1-.3 3.1-.1 1.7 .6 2.8-.8 4.2 .7 3.9 .2 1.1-.7 4.3 .6 1 .4 4.7-.1 1.9-.4 3.9-.2 3.5 .4 2.6-.2 2.2 0 3.3 .2 .4 .3 4.3 .5 1.8 .7 1 .5 3.5 .4 1.5 .1 3.4 .1 4.1-.1 2.8 .4 3 .2 2.9-.6 1.3 .3 4.4-.3 .8 .1 3.9 .8 2.9-.3 3.9 .1 1.7 1.1-2.4 .4-1.5 .4-2.4 1.2-1.5 .7-2.3-.1-2.3 .9-4.3 0-2.2 .7-2.7-.2-2.3 .7 3.2 .1 1-.1 3-.3 4.4 .1-.2 .7 3.7 .2 2.1 .3 1.5 .5 4 .2 2.9 .1 1.5 .7-1.6 .3-3.8-.5-4 .4-1.7 .4-.9 .6-3.8 1.2 .1 .6 2.4 .9 2.2 .1 4.3 .8 2.1-.1 2.2 .4-1.2 0-4.2 .5-2.3 .2-1.4 .4-4.2 .8-2.1 0-2.5 1.1-3 .3-3.6-.2-.9 .3-4.4 0-4 0-1.5-.2-1.6 .3-3.1 0-2.6 .9-4.3-.3-2.8 .1-2.7 .1 1.6 .8 4.1-.4 4.1 .3 .4 .3 3.6 .8 2.6 .2-2.3 0-4.5 .9-2.2-.2-3.3 .4-.5 0-3.6-.1-1.4 .3-3.3 .8-2-.2-2.9 .7-4.2 .4-1.3 .5 1.7-.5 2.8 .1 3.5 .4 3.9 .1 2.7 .4 2.8 .1 3-.6 2 1 2.1-.3 3.2 0-2.9 .4-3.4 .2-1.3 1-2.5-.6-3.7 .5-3.6 .4-2.8 .2 3.2 .5 .4-.1 2.7 .3-1 .6-3.2 1-2.1 .4 2-.2 2.1 .9 3.8-.6 3.6 .9 2.9 .1 .6-.3 4.3 .7 1.6-.1-2.6 .8-3.8-.3-.3 .4-3.2-.1-5.1 .2-1 .6-4.4-.5-1.6 .8-1.3 .1-3.9-.5 0 .4-5.4 1-1.4-.7-5 .8 3.8-.6-2.5-.5-3 1-.1-.1-6 .1 .4 .5-2.2-.5-3.9 .7 7 .2-2.6-.1-6.5-.5-.3 .6-.1-.6 .1-.1-1 .2-8.7 .7-2 .7 2.6-1-6.2 0 2.2 1.2 2.2-.7-6.8-.1-3.8 1.1 1.5 .2 2.5-.3-5.2 1 .9-.2-1.5 .6 8.9 .5-3.3 .4 6.3 0-.1-.1-.3 .6-.5-.3 5.7 .7 3.3-.1-4.9 .2 8.7-.6-4.5 1.2 1.8 .4 1-.5 3.7 0-6.2-.2 6.7 .3-.8 .3-6.8-.5-2.4 .5-2.6 .6-2.6-.1 5.2-.1-7.3-.5 1.3 .6-.7-.6-1.8 .6-6.6 .9-2.4-.1-3-.4 1.9-.7-2.7 1.3 2.1-.3 .8 .6-5-.6 .4 .6-9-.5 2.6 .2-1.5-.1-.4 .8 .2-.6 5.1 1.6 6.4-.2-1.9-.5 2.4 .9-.4 .8 4.5-.6-4.7-.4 10.1 .8-4.3-.6-.4 1.1 4.1-.6-1.5 .1 .9 .6 2.6 .2 4.8 .7 3.3-.8-3.5 1.1 10.1-.6-2 .8-4.3-.8 3.5 0-7.6 .3-1.7 1.2-3.2-.8 .1 .2 5.3 1.3-2-.3-5.3 1-6.1 .3 4.4 .6-2.1 .6 .3 .2 1.2-.7 8 .7-5.3-1 2.3 .2 4.1-.1 5.2 .5-4.6 .4 .3 .4 2.7-.9 1.4 .7 8.2-.9-6.2 .2 2 1.2 6.2-.5 5.1-.6-6.1 .8 7.6-.5 3.4 .8-.2-.9-3.9 .7 4.9 .2 4.6 .8-.7 .4 .3 .5 .9 .2 .7 .1-8.5-.3 3.8 .6-2 0-3.3 1 3.1-.5-9.8-.5 1.2 .7 .3 .7 .8-.2-4-.4 .3 1.4 3.6 .1 1.1-.2 .3 .3 1.8 0 1.1-.5 0 .7 5.5 .2 3.3-.5-3.9 .6 5.8-.4-.3 .6-3.1-.7 .5 1-.4-.3-1.4-.6-10.4 .6 3.3-.5 1.4 .7-9.4 .7 3.5-.6 .1 .5-.9-.7-2.3 .7-8.4-.4 3.6 .7 .6-.2-3.9 .3-1.2 0-7.6-.8 4.7 .5-.5 0-4 .2 .3 .1-3.3-.2-6.3-.5 2.2 .5-3.4 .4-.3 .4 8.2-.6-1.6 .8 .1-.7 5.1 .3-.2-.5-1.3 1.4 3.9-.6-3.1 .9 .8-.2 9.3-.5 .1 .8-2.8-.4 4.5 .7 5-.7-6.7 .3 5.5 .3 .4-.4 .7 1.5 2.8-.7 1.6 0 .8 1 3.4 .1 .6-.2 3.5 .6-2.3 .1 1.7 .1 9.9-.5-6.5 0 2.2 1.1 8.9 .4-4-.8 5.4 .8-1 .1-.6 0 5.2-.1-5.1 1.2-1.6-.6 4.4 .3-3.2 .4 1.4-.4-1.6 0-3.9 .8-6.4-.1-2.6 .4 2.2 .6-5.8 .7 3.3-.2 3.5-.3-3 .7 .2-.1 3.5-.4 .1-.1 9.1 1.3 2.9 0-7.5-1.2 7.4 1.1-3.8-.3 2.4-.2 3.3-.4 2.6 .2 1 .1 8.7 .3-.4 .2 4-.1-.4-.1-2.2 .6 3-.4 3.6 .3-2.8-.5 7.8 .7 .4 .1-1.2-.9 3.8 1.3-3.2-.4 .1 .5 3.8-.1 4.6-.5 1.7 .6 .4 .2-8.6-.2-1.4-.1 1.1-.8-2.2 0-3.4 1.1-1.4 0 4.2-.2-3.7 .5-2.8-.6-2.9 .5-.8-.5-2 .3 3.9-.3-2.1 .4-1.4 .4-6.4-.9-2.8 1 5 0-6.1 .3-6.1-.4-.4-.5-1.2 .5 .7 .5-.8-.2 6.8 .1 2.4 .6-3.4 .2 .6-.3 3.5 1 1.4-.7 5.1 .7-.4 0-2.3 .7-3.1-.2-4.7 .6-2.7 .1-.5-.1-5.3 .7-1.6 .5-1.2 1.4-3.9 .3 3-.5 3 .7 3.2 0 2.5 .3 .7 .2 3.1 .4 5.1-.6 .2 .5 4 .5 3.2-.2 1 .4 5-.1 1.4-.1-4 .5-1.3 .4-3.2 .2-2-.2-3.2-.5-3.7 .7-1.7-.1-3.1 .4-3.1 .2 1.4 .1 2.9-.3 5.6-.1 .3 0 3 1 2.8-.5 4.6 .5 2.8-.8 1.9 1 1.2-.4 5.8 .1 1.6 .2 3-.2 1.3 .5 4.7-.2 3.4 .1 2.9 0 1.3 .4-2.3 .5-3.1-.5-3.5 .5-2 .5-2.2 .1-1.6 0-2.7 .4-4.1 .3-2.4-.1-2.2 .1-4.3 1.1-.6 .4-3.8-.3-1.8 .2 3.4 .3 1.2 .2 4 .3 3.5 0 .4-.6 5.3 .8 1.3-.4 4.8 .9-.2 .2 5.7-.1 1.6-.2 3.2 .5 2.5-.4 3.9 0 1.6 .6 2.6 .3-3.1 .3-3.7 0-1.8-.3-3.2 .2-1.2 0-3.7 0-2.9 .1-3.2-.1-1.4 .7-4.7-.6-3 .6-1.3-.5-2.4-.2-2.9 1-5.1-.2-2.8-.5-1.5 1-1.9-.9-4.9 .6-1.4 .2 1.4-.4 3.1 .6 2.7-.1 5.4 .4 1.8-.4 3.4 .1 1.3 .8 4.4-.5 .5 .2 3.6 .1 2 .5 5.1-.1 1 0 4.4 .3 3.2-.3 2.5 .4 .6 .7 4.1-.2 2.4 .4-3.7 .4-.9-.1-4.9 .2-.1 .3-5-.1-.5-.4-2.6 .7-4.6-.3-3.5 .5-.6 .2-3.8 .3-2.1-.2-2.6 .8-2.4-.4-2.9 .7-4.5-.1-1.1-.2-5.2 .8-.1 .2-5.2 0-1.7-.1 1.4 .2 4.3 .4 1.2 .3 3.5 .4 4.2-.1 2.2 .1 3.6 0 .3 1 5.3-.3 1.8 .7-2.3-.1-3.1-.1-2.7-.3-3 .4-4 .6-.8 .4-3.7-.1-3.2 .3-1.1 .3-4.4-.2-2 .4 1.9-.5 2 .6 2.9-.4 4.6 .7 .6-.1 5.3-.3 1.5-.2 3.3 .7 .9 .2 2.8-.4 2.8 .1 4.6 .5 2.7-.1 1.9-.2-3.4 .3-2.6 .3-2.3 1.1-2.5-.5-4.3 1-1.4 .1-2.1-.5-2.7 .8-4.5 .2-1.9-.3 3.9 .3 2.5 .2 1.3 .1 2.8 .4 2.3 .1 2.6-.1 4.2-.1 3.9 .3 .8 .7 4-.5 3.2 .4 2.5 .5 2.1-.5 3.2 .2 1.6-.2 3.3 .3 4.1-.2 3.2 .6 2.1 0-1.9 .5-2.1-.1-4 .4-2.7-.2-1.6 .8-4.8-.4 .2 .5-3.9 .6-4.4-.3-2.6 .4-2.6-.4 0 1-4.2-.5-3.7 0-1 1-4.5-.1-2.3 .2-2.5 .6 3 .2 1.1 .4 1.6 .7 3.2 .6-3.3-.6-1.8 .6-3.3-.1-1.5 .2-3.9-.2-4.8 .9-2.8-.4-1.9 .6-1.5 .1-4.3 .1-2.3 .1-2.7-.2 3.6 .2 2.1 .2 3.7-.3 .4 .4 3.2 .7 5.1-.7 2.6-.1 2.9 .8 1.3-.4 3.4 .6 2.2 .1 2.8-.5 4.7 .7 1.9 .1 2 .2 2.8-.3 2.3 .4 4.1 .2 3.3-.2 2.4 0-3.2 .8-1.6-.6-2.5 .6-4-.1-2.5 .1-3.5-.1-2.5 .2-3 .5-2.5 0-4.1 0-1.9 .9-2.4-.4-3.8 .3-3.2 .5-1.1-.2-3.7 .1 3 0 2.4-.2 4 .1 2.3 .1 3.3 .8 1.9-.6 4.5 .4 1.3 0 4.6 .1 .6 0 3.2-.1 3.8 0 1.7 .5 3.5-.2 3.7 .6 3.7-.4 2 0 2.3 .5-4.1 0-1.9-.2-3.5 .4-2.2-.3-1 .9-2.1-.6-3.2 .9-4.3-.3-1.8 .8-3.1-.2-1.8 .3 2.8-.2 3.6 .5 2.8 .3 3 .1 3 .3 .8 .3 4.3 .2 3.7-.3 2.4 .1 3.6 .3 1.5 .3 2.5 .9 3.3 .7 2.2 0 3.3 .3-3.9-.3-2.6 .3-1.3 .3-4.2-.6-2.8 1-.7 .1-4.1 .1-2.7-.4-3.7-.1-1.5 .5-3.2-.6-2.7 1-4.2-.7-2.1 .6-1.8 .3-5.3 0-2.3-.2-1.2 .4-4.7-.1-1.7 .5 3.9 .5 .6 0 5-.3 3.2 .9 1.5 .5 4.1-.2 1.9 .2-2.2 1-4.3 .2-2 .2-2.9" fill="none" stroke="#ff7f0e" stroke-width="2.32" stroke-linejoin="round" />
<path d="M714.5 1139.8l3.1 .3 .2-.7 1.1-.5 .6-.6 .7-.1-.3-.2 1.5 .7 .1 .2 .6 .6 0 .1 1.5 .5 1.1-.5-.2-.5 .9-.3 1-.5 .6 .2 .5 .1 .6-.4 .2-1.1 1.3-.1 .1 .2-.1 .6 1.2 .2 .2-.3 1.1-.2 1.2-.7 1 .2 1.2 .2 .7 .7 .9 .8 1.2-.8 .9 .6 .3 0 .6-.8 1-.2 0-.9 .5-.1 .8 .1 .8 .4 .8 .6 1 .1 .3-.5 .7-.1-.3 0 .7 .8 .4 .8 .1 .1 .8 .5-.7-.9 .4 .1 .8-.7-.4-1.1-.1-.2 .1-1.1 .6-1 .9 1.1 1 .5 .3 .8 .4 1 1.2 .5 1.3 0 .2 .9-.1 0 1.1 .5-.1 .3 .2-.5 1.2-.6 0-.5 .1-.4 .7-.9 .4 .1 .4-1.4 .3-.4 1.2 .1 .5 .4 1 1 1.7 0 .4-.2-.3-.7 .5-1.2 .8-.8 .2-1.5 .5 1.5 .1 1 .3 .7-.1 .8-.1 .8-.1 .4 .4 .5-.1 .9 .6 0 .1-.2 .5-.3 .1-1.1-.1-.8-.1-.6 1.2 0 .1 .7 .4 .2 .6-.7 1.3-.4 0-1.2 .7 .3 .7 1.2 1 .3 1.2 .2 .3-.7 1.2-.7 .2-1.1 .7-1.1 0 1 1.1 1.4 .6 .6-.2 .8 .4 .8 .4 .7-.4 .1 .3 .5-.1 .1 1.6-.4 1.6 .3 .3 .5 .2 .3-.3 0 .9 .1-.1 .4-.1-.2 .8 .4-.5 .5-.3-.3 2.2 .4 1.6-.3 1.5 .7-.4-.4 .9-.9 1.2 .2 1.2 .3 1.9-.1 1.1 .1 .8 .3 .8-.2-.1-.3 .9-.3 .9-.3 1.3 .3 .5 .2-.4 .3 .3 .3 1.9-.2 1.4 .5 0-.6 .4-.2 0 .4-.1-.6 .3 .2 0-.4 1.2-.7-.5 .3 .7-.9 3.1 .3 .6 .5 .8 0 .5 .5-.1-.1 1 .5 .5 .2 .4-.5-.2 .8 .3 0 .2 .1 .6 .3-.4-.4 .8-.3-.5 .2 .4-.6 .3 .3-.3-.4 .1-.5 0 .1 .4-.7-.5 .2 0-.8 .4 .6 1.1-.8 .6-.1-.1-.7 1.8 .6 .7 .3 1.2-.7-.1-.3 .7 .3 1.3-.1 .7-.4 0-.3 1.1 1.1 .7 .4 .9 .5 1.5 0-.3-.8 .7-.6-.2-.2 .6-1.1 .7 .5 1.3 .6 .9 .6 .1 .1 .7 .5 1.2 .4 1.3-.7 .6 .2 1.3 .1 2.4 .1 .2-.6-.6-.2 0-.9 .6-.7 1.5 .8 .9-.1 3.2-.2 .6-.5 1.1 .5-.1 .6 .5 .6 .4 .7 .1 .6 0 .2 .3 .2 .8 .1 0-.5 .5-.3 .2-.5 .2-.1 1.1-.8 2.2-.2 1.1-.2 .4 .7 .3 .6 .1-.9 .8-.3 .7-.6 .6-1.5 1-.4 .8-.6 .2 .7 .3 .9 .8 .3 1.4-1.4 4.4 .9 .6 .2-.6 1 1.3-.6 .1-.4 1.2 0 3-.4 1.4-.2 .3 1.2-.1 .5-.1 .6-.2 .8-.1 .6 .7 0-.1 .9 .1-.1 .6-.3-.1 .1 .5-1-.3 .1 .3-.7 .3-.7 .7-.6-.2-.8 1.8-.1 1.5 .1 1.4-.3 2.4 .3 1-.3 .8 .7 .9 .4 .3 .8 1.2-.9 2.2 .4-.1-.8 .4-.7 1.3-.2-.5 .6 1.2 1 0 .1 .4 1 .8 .1 .9 .7 .9 .1 1.1 0 1-.6 1 1.2 .6 .4-.4-.1 .6 .7 .4-.9 .8-.3 .6-.5 .7-.5 .6-.5 .9-.1 1.3-.3 1.1 .5 1.4-.8 1.2-.5 1.1 .9 1 .4 .2 1 .7 .2 2.4 .4 2.2 0 .4 0 1.7 0 .7-.5 .1-.6 .3 1 .3-.1 .1 .6 .5 .6 .5-.5-.2-.2 .7-.5 .5-.1-.1 .2 1.2 .6 .4 .4-.2 .5 1.1-.5 0-.3 .5-.3 1.3-.6 .4-.2 .4-.6 .8-1 3.5 .5 1.5 .2 .4 .7 .9 .1-.1 .3 .9 .4 1.3 .4 1.1 .5-.7-.2 .9 0 .7 .4 .6 .2 .2 .5-.5 .1 .4 .3 .5-.4 .4 .1 1.2-.4 1.2 .6 .2 .2 .3-.2 0 .5 .8-.3-.4 .2 .1-.4 1.1-.2-1.1 .1 1.2 0 .1-.5 .2 .2 1.3-.3 1 .1-.3-.7 1.4-.1 3.8-.1 .2 .1 .5 0 .1-.5 .4 .6 .4 0 .6 .6 .4 .1 1-.7 .2 .3-.4-.4 1.1-.4-.6-.1 .3-.2 .5 .7 .8 .4 .7-.5 .5 .4-.2 .2 .9 .3 1.8-.3-.1-.5 .8-.5 1 .4-.6 .3 0 .2 .5 0 .6 .3 .8 .4-.3-.1 .7 .4-.5-.6 .7-.4 0 .6 .2-.8 .3 .3 1-.7 1 .1 1.9 .2 .3 .1-.2-.2 .7-.3 .4-.4-.6 0 .2-.4 .4 .2-.1-.3 .3 .8 .6-.1-.4 .3-.2-.2 1.6 .6 0 .6-.9-.2 1.5 .3-.4-.2 .2 .5-.2-.4 .1-.3 .6-.5 .3-.5-.9 .3 .8-.1 0-.1-.2-.5 .3-.7 .9 .4-.6 .1 .1 .1 1.1 .4 .4 .7 0-.2 .5 .2 .9-.3 .7-.6-.4 .7 .3 .4 .4 0 0-.1 .8 .7 1.1-.1 .6 .2 .1-.1 1-.3-.3-.2 1 .1-.6-.3 .6-.4 .7 .1 .3 .8-.8-.1 1.4 .5-.8-.2 .7 .4 .8-.1-.3-.7-.2 .3 0-.3 .3-.4 .4-.3 1.2 .3 .2-.8 1.4 .1 0-.2 .1 .1 .1 .7 .4-.3-.1 .5 .6 .4-.9 .2 .2 0 .6 0-.2 .3 .4 .5 .5-.4 1.5 0 .4 .4 .6-.3 .2 0 .6 .5 .3-.8 1.1 .1 .6-.1-.2 .4 1.1 0 1.2 .1-.3-.6 .2-.3 1.6 .1-.1-.2 1.4 .1 1.1-.3 1.7-.5 .1 0 .9-.1 .1-.3 1.1-.4-1 0 .4-.7 .1 .1 1.4 .6-.7 .2 .9 .2 .4 .6-.1 .1 .1-.2 .7-.6 .7 0 .9 .1-.7 0 1.5-.7 .3-.1-.1 .2 .9 .9 0 .3-.1-.7 .5 .4 1.7-.7 .1 0 .1 .1 .1-.7 .6 1.1 .8-.4 .5 .2 .1 .3 .4 .4 .1-.1-.1 .5 .7 .1 .9-.2-.6-.2 1.1-.2 1.2-.2 .1 .2 1.5-.1 .5 0 .9-.2-.2-.4 .1-.4 .5-.2 .4-.5-.5-.2 .7-.5 .1 .3-.3 .4 1.1-.1-.2 .4 1.3 .7-.7 .1 1.3-.4 1-.2-.8-.6 .6 .5 1.5-.5 .5-.7 .2 .2 .7 .5-.1 .2 1 .9 .5 .6 .8-.1 .1 .5-.1-.6 .9 .2 .6-.8 .4-.4-.6-.3 .7-.9-.1 .9 .8 .3 .5 .5 .7 .2 .3 .3 .2-.4 1.6-.8-.3 .7 .6-.1 .4 .7 1 .4 .1 .2 .4 .1 1.1 .4-.2 .3 .5-1-.2 .4 .5-.7 .1-.4-.1-.4 0-.5 .5-.3 1.7-.4 .6-1 .5-.8-.6-.7 .6-.8 1.6 0 2.3 .4 .8 1.2 1.2-.1-.3-.7 1-.4 1-1 1.1 .4 .3 1 2.4 0 1.8-.8 .3 .3 1.1 .5 1.9 1.1 .4 .4-.2 1 1.2 .4-.1 .1 .7-.7 1.3 .2 .7 .3 .3 .1 .9 1 1.6-.3 0-.5 .6-.6 .1 0 .6 .4 .9 .6 1.1 .2 .8-.2 1.2-.3 1.2-.1 .5-1 .4 .4 .5 .7 .9 .9 0 .1 1.1 0-.1 .3 .5 .3 .4 .3 0 .1-.5 .1 .4 .2 .5 .5 1.2-.2 .5 .1 1.5-.6 .5 .6 .3-.4 .8 0-.1-.1 .4 0 .6-.2-.7 .7 .6 .2 .4-.4 .3 0 .6 .8-.4 0 1.8-.7 .2 .6-.2-1 1.3 .4 .1-.1 .1-.3 1.3 .1-.5 0 .6 .2 2 .4 1.5-.6 .2 .1-.9-.2 1.3-.1-1.1 .1 .9-1-.3-.1 .6 .2 1.4-.4 .8 .3 .3 .3 0 .3 1.2 .2 1.1-.3 .1-.2 .4-.4-.3 .2 .9 .2-.3 .3 .9 .3-.8-.1 1-.2 .1 .8-.3-.3 .1 .3 .4 .1 .6-.4-.9 .1 1.7-.2 .1-.2-.4 0 .2 0 .8-.2 .9-.6 .8-.1 .6-.5 .4 0 .9 0 0 .1 1.1 .8 1.1-.3 .3 .1 .8-.7-.1 .2-.9-.4 .6-1 .5 .1 .3-.6 0-.3-.1-.7 .6 .8-.9 .8 .9 0 .4-.1-.5 .2-.1 .6 1.3 .2-.4 .2 .4 0 .5 0 1-.8 .5 .9 .6 0 2.6 .6 .5-.8 .5 .1 .3-.6 .7-.3 .3 0 .4 .7 .1 0 .7 .2-.4-.8 1-.7-.2 0 .1-1.1 .4-.8 .9 .4 .5 .6 .5 1.1 .3 .5 1.2 .1 .7-.4-.3-.5 1.3-1-.1-.5 .1-.6 1.2 .2-.1 .6 .1 .6 0 .6-.1 .5 .3 .7 .7 .4 .4-.1-.1-1 .4-.5 .8-.3 .2-1 .8-.9 .6 .7 .4 .4 .2 .8 .4 .6 .9 .5 .2 .4 .8 1 .1-.5 1.1-.6 0-.2 1.4-.5-.5 .7 1.4 .5 .5 .2-.3 .4 .9-1-.6 0 .5-.8 .5-.6 .4 .3 1.6 .9 .4 .4 .2-.1 .7-.3-.1-1.1 .5-.7 .4 0 .3-1.4 .4 0 .8 .9 .2 .6 .8 .3 1 .9 .5 .8 .7-.5 1.3-.4 .6 1.2-.1 .4 1.1 .3 .3 .4 .2-.5 .8-.7 0-.4 .3-.6 .3-.1 .3-.7 .8 .1-.1 .6 .7 .7 .5 .8 .6-.1-.1 0 1-.6-.2-.5 0-1 .3-.2 .2-1 .3 1 1 0 0 .8 .9 .3 .6-.8 .7-.5 0-1.1 1.5-.7 1 .1 .3 .6 .5 1.2-.4 .2 .9 .7 .2 .7 .2 .6 .9-.4 .6-.1 .5-.8 1.4 .9" fill="none" stroke="#2ca02c" stroke-width="2.02" stroke-linejoin="round" />
<rect x="692.70" y="836.90" width="491.80" height="318.25" fill="none" stroke="#000" stroke-width="0.842"/>
<text x="938.60" y="830.33" font-size="13.01" text-anchor="middle" textLength="166.23" lengthAdjust="spacingAndGlyphs">binanceTopTraderPositions</text>
<line x1="719.49" y1="1155.15" x2="719.49" y2="1159.29" stroke="#000" stroke-width="0.842"/>
<text x="719.49" y="1171.17" font-size="10.83" text-anchor="middle" textLength="43.39" lengthAdjust="spacingAndGlyphs">2023-05</text>
<line x1="795.12" y1="1155.15" x2="795.12" y2="1159.29" stroke="#000" stroke-width="0.842"/>
<text x="795.12" y="1171.17" font-size="10.83" text-anchor="middle" textLength="43.39" lengthAdjust="spacingAndGlyphs">2023-07</text>
<line x1="871.99" y1="1155.15" x2="871.99" y2="1159.29" stroke="#000" stroke-width="0.842"/>
<text x="871.99" y="1171.17" font-size="10.83" text-anchor="middle" textLength="43.39" lengthAdjust="spacingAndGlyphs">2023-09</text>
<line x1="947.62" y1="1155.15" x2="947.62" y2="1159.29" stroke="#000" stroke-width="0.842"/>
<text x="947.62" y="1171.17" font-size="10.83" text-anchor="middle" textLength="43.39" lengthAdjust="spacingAndGlyphs">2023-11</text>
<line x1="1023.25" y1="1155.15" x2="1023.25" y2="1159.29" stroke="#000" stroke-width="0.842"/>
<text x="1023.25" y="1171.17" font-size="10.83" text-anchor="middle" textLength="43.39" lengthAdjust="spacingAndGlyphs">2024-01</text>
<line x1="1097.64" y1="1155.15" x2="1097.64" y2="1159.29" stroke="#000" stroke-width="0.842"/>
<text x="1097.64" y="1171.17" font-size="10.83" text-anchor="middle" textLength="43.39" lengthAdjust="spacingAndGlyphs">2024-03</text>
<line x1="1173.27" y1="1155.15" x2="1173.27" y2="1159.29" stroke="#000" stroke-width="0.842"/>
<text x="1173.27" y="1171.17" font-size="10.83" text-anchor="middle" textLength="43.39" lengthAdjust="spacingAndGlyphs">2024-05</text>
<text x="938.60" y="1186.48" font-size="10.83" text-anchor="middle" textLength="24.60" lengthAdjust="spacingAndGlyphs">Date</text>
<line x1="688.56" y1="1144.10" x2="692.70" y2="1144.10" stroke="#000" stroke-width="0.842"/>
<text x="684.31" y="1148.34" font-size="10.83" text-anchor="end" textLength="6.16" lengthAdjust="spacingAndGlyphs">0</text>
<line x1="688.56" y1="1104.82" x2="692.70" y2="1104.82" stroke="#000" stroke-width="0.842"/>
<text x="684.31" y="1109.06" font-size="10.83" text-anchor="end" textLength="12.85" lengthAdjust="spacingAndGlyphs">10</text>
<line x1="688.56" y1="1065.54" x2="692.70" y2="1065.54" stroke="#000" stroke-width="0.842"/>
<text x="684.31" y="1069.78" font-size="10.83" text-anchor="end" textLength="12.85" lengthAdjust="spacingAndGlyphs">20</text>
<line x1="688.56" y1="1026.26" x2="692.70" y2="1026.26" stroke="#000" stroke-width="0.842"/>
<text x="684.31" y="1030.50" font-size="10.83" text-anchor="end" textLength="12.85" lengthAdjust="spacingAndGlyphs">30</text>
<line x1="688.56" y1="986.98" x2="692.70" y2="986.98" stroke="#000" stroke-width="0.842"/>
<text x="684.31" y="991.22" font-size="10.83" text-anchor="end" textLength="12.85" lengthAdjust="spacingAndGlyphs">40</text>
<line x1="688.56" y1="947.70" x2="692.70" y2="947.70" stroke="#000" stroke-width="0.842"/>
<text x="684.31" y="951.94" font-size="10.83" text-anchor="end" textLength="12.85" lengthAdjust="spacingAndGlyphs">50</text>
<line x1="688.56" y1="908.42" x2="692.70" y2="908.42" stroke="#000" stroke-width="0.842"/>
<text x="684.31" y="912.66" font-size="10.83" text-anchor="end" textLength="12.85" lengthAdjust="spacingAndGlyphs">60</text>
<line x1="688.56" y1="869.14" x2="692.70" y2="869.14" stroke="#000" stroke-width="0.842"/>
<text x="684.31" y="873.38" font-size="10.83" text-anchor="end" textLength="12.85" lengthAdjust="spacingAndGlyphs">70</text>
<text x="664.37" y="996.93" font-size="10.83" text-anchor="middle" textLength="28.34" lengthAdjust="spacingAndGlyphs" transform="rotate(-90 664.37 996.93)">Value</text>
<rect x="904.92" y="842.16" width="67.35" height="51.63" rx="2.12" fill="#fff" fill-opacity="0.8" stroke="#ccc" stroke-opacity="0.8" stroke-width="1.05"/>
<line x1="909.14" y1="850.87" x2="930.19" y2="850.87" stroke="#1f77b4" stroke-width="1.58" stroke-linecap="square"/>
<text x="938.89" y="854.40" font-size="10.83" text-anchor="start" textLength="24.91" lengthAdjust="spacingAndGlyphs">Long</text>
<line x1="909.14" y1="867.03" x2="930.19" y2="867.03" stroke="#ff7f0e" stroke-width="1.58" stroke-linecap="square"/>
<text x="938.89" y="870.56" font-size="10.83" text-anchor="start" textLength="27.68" lengthAdjust="spacingAndGlyphs">Short</text>
<line x1="909.14" y1="883.18" x2="930.19" y2="883.18" stroke="#2ca02c" stroke-width="1.58" stroke-linecap="square"/>
<text x="938.89" y="886.72" font-size="10.83" text-anchor="start" textLength="15.54" lengthAdjust="spacingAndGlyphs">L/S</text>
<path d="M80.0,729.9 L80.0,705.1 L80.8,698.9 L81.6,710.4 L82.4,700.5 L83.2,699.6 L84.0,707.9 L84.8,713.0 L85.6,711.7 L86.4,701.0 L87.2,708.1 L88.0,710.0 L88.8,707.7 L89.6,699.3 L90.4,711.1 L91.2,715.2 L92.0,698.9 L92.8,710.0 L93.6,708.8 L94.4,698.4 L95.2,710.6 L96.0,714.0 L96.8,700.0 L97.6,711.2 L98.4,711.6 L99.2,699.1 L100.0,711.5 L100.8,699.7 L101.6,709.7 L102.4,710.2 L103.2,711.7 L104.0,706.0 L104.8,705.7 L105.6,708.5 L106.4,706.6 L107.2,710.3 L108.0,700.8 L108.8,699.2 L109.6,702.3 L110.4,701.2 L111.2,714.3 L112.0,711.1 L112.8,711.9 L113.6,712.8 L114.4,698.6 L115.2,699.7 L116.0,699.5 L116.8,705.7 L117.6,713.5 L118.4,708.0 L119.2,715.0 L120.0,719.5 L120.8,723.9 L121.6,722.2 L122.4,717.9 L123.2,712.4 L124.0,705.2 L124.8,710.1 L125.6,703.9 L126.4,713.6 L127.2,699.8 L128.0,708.5 L128.8,709.5 L129.6,704.0 L130.4,705.1 L131.2,711.1 L132.0,713.3 L132.8,705.4 L133.6,715.1 L134.4,700.2 L135.2,709.5 L136.0,712.5 L136.8,709.8 L137.6,713.5 L138.4,710.0 L139.2,706.0 L140.0,708.4 L140.8,709.7 L141.6,710.4 L142.4,707.0 L143.2,701.9 L144.0,707.8 L144.8,702.1 L145.6,707.1 L146.4,713.4 L147.2,712.5 L148.0,700.7 L148.8,707.1 L149.6,708.8 L150.4,706.5 L151.2,700.7 L152.0,708.9 L152.8,709.2 L153.6,709.1 L154.4,715.3 L155.2,706.0 L156.0,707.1 L156.8,706.8 L157.6,707.6 L158.4,707.2 L159.2,703.0 L160.0,712.2 L160.8,698.3 L161.6,713.5 L162.4,700.3 L163.2,712.4 L164.0,701.6 L164.8,710.9 L165.6,714.1 L166.4,706.9 L167.2,701.7 L168.0,700.7 L168.8,700.2 L169.6,698.4 L170.4,714.6 L171.2,708.9 L172.0,713.6 L172.8,702.3 L173.6,707.6 L174.4,702.5 L175.2,701.6 L176.0,698.0 L176.8,703.7 L177.6,700.2 L178.4,705.9 L179.2,714.1 L180.0,699.9 L180.8,713.9 L181.6,714.0 L182.4,701.0 L183.2,710.6 L184.0,703.9 L184.8,715.0 L185.6,711.8 L186.4,708.3 L187.2,714.8 L188.0,706.8 L188.8,708.2 L189.6,714.3 L190.4,719.9 L191.2,709.1 L192.0,704.7 L192.8,702.1 L193.6,703.3 L194.4,715.3 L195.2,712.1 L196.0,706.1 L196.8,700.9 L197.6,711.7 L198.4,713.8 L199.2,720.3 L200.0,716.2 L200.8,707.7 L201.6,706.4 L202.4,703.8 L203.2,713.1 L204.0,702.7 L204.8,701.5 L205.6,706.8 L206.4,710.6 L207.2,711.4 L208.0,712.6 L208.8,699.8 L209.6,707.8 L210.4,708.7 L211.2,706.4 L212.0,703.3 L212.8,709.9 L213.6,709.6 L214.4,702.1 L215.2,712.1 L216.0,710.3 L216.8,714.2 L217.6,699.3 L218.4,702.7 L219.2,705.1 L220.0,708.4 L220.8,698.7 L221.6,708.0 L222.4,711.7 L223.2,721.7 L224.0,709.4 L224.8,705.0 L225.6,709.1 L226.4,698.9 L227.2,704.1 L228.0,707.5 L228.8,703.9 L229.6,705.0 L230.4,704.7 L231.2,706.8 L232.0,706.3 L232.8,708.2 L233.6,709.5 L234.4,712.1 L235.2,701.8 L236.0,710.3 L236.8,700.6 L237.6,714.2 L238.4,707.0 L239.2,707.7 L240.0,716.6 L240.8,712.0 L241.6,710.9 L242.4,713.2 L243.2,705.7 L244.0,705.4 L244.8,715.5 L245.6,712.4 L246.4,712.0 L247.2,708.7 L248.0,707.5 L248.8,705.6 L249.6,710.4 L250.4,704.0 L251.2,701.3 L252.0,703.8 L252.8,715.5 L253.6,707.8 L254.4,712.9 L255.2,720.8 L256.0,714.1 L256.8,709.9 L257.6,710.4 L258.4,704.6 L259.2,705.3 L260.0,706.8 L260.8,700.5 L261.6,706.4 L262.4,709.5 L263.2,714.4 L264.0,705.8 L264.8,709.1 L265.6,706.1 L266.4,709.4 L267.2,715.4 L268.0,714.8 L268.8,712.7 L269.6,713.9 L270.4,700.6 L271.2,705.3 L272.0,711.3 L272.8,708.3 L273.6,704.4 L274.4,714.4 L275.2,702.4 L276.0,711.5 L276.8,698.0 L277.6,713.0 L278.4,710.5 L279.2,711.1 L280.0,708.4 L280.8,717.7 L281.6,705.4 L282.4,712.9 L283.2,708.0 L284.0,703.2 L284.8,714.5 L285.6,699.4 L286.4,700.8 L287.2,699.2 L288.0,703.3 L288.8,704.7 L289.6,698.4 L290.4,710.8 L291.2,710.2 L292.0,713.3 L292.8,712.3 L293.6,701.5 L294.4,713.8 L295.2,702.5 L296.0,708.6 L296.8,700.1 L297.6,702.2 L298.4,703.5 L299.2,701.8 L300.0,714.8 L300.8,710.9 L301.6,709.0 L302.4,708.0 L303.2,703.8 L304.0,700.1 L304.8,702.5 L305.6,699.2 L306.4,703.3 L307.2,709.3 L308.0,706.6 L308.8,702.4 L309.6,701.2 L310.4,709.0 L311.2,709.3 L312.0,704.7 L312.8,711.5 L313.6,700.0 L314.4,715.5 L315.2,704.1 L316.0,707.0 L316.8,712.1 L317.6,705.5 L318.4,707.2 L319.2,698.7 L320.0,700.0 L320.8,705.2 L321.6,700.3 L322.4,702.2 L323.2,716.6 L324.0,701.0 L324.8,700.9 L325.6,698.2 L326.4,702.2 L327.2,708.6 L328.0,711.9 L328.8,704.1 L329.6,711.8 L330.4,702.2 L331.2,705.4 L332.0,701.0 L332.8,709.3 L333.6,710.2 L334.4,699.7 L335.2,703.9 L336.0,708.9 L336.8,705.7 L337.6,707.9 L338.4,704.2 L339.2,706.5 L340.0,710.5 L340.8,698.4 L341.6,700.0 L342.4,702.2 L343.2,710.6 L344.0,712.1 L344.8,702.7 L345.6,701.1 L346.4,704.1 L347.2,711.8 L348.0,702.9 L348.8,706.3 L349.6,709.0 L350.4,705.2 L351.2,707.6 L352.0,704.1 L352.8,702.3 L353.6,698.3 L354.4,713.6 L355.2,705.5 L356.0,699.0 L356.8,704.0 L357.6,705.4 L358.4,700.6 L359.2,715.0 L360.0,701.6 L360.8,704.6 L361.6,705.3 L362.4,710.1 L363.2,704.7 L364.0,713.3 L364.8,706.3 L365.6,711.0 L366.4,699.2 L367.2,701.4 L368.0,707.2 L368.8,702.3 L369.6,708.8 L370.4,706.3 L371.2,712.7 L372.0,701.1 L372.8,709.7 L373.6,702.2 L374.4,714.0 L375.2,701.2 L376.0,715.3 L376.8,705.6 L377.6,707.0 L378.4,714.5 L379.2,708.1 L380.0,713.8 L380.8,704.6 L381.6,710.0 L382.4,701.2 L383.2,709.3 L384.0,699.8 L384.8,708.5 L385.6,714.1 L386.4,698.5 L387.2,714.3 L388.0,711.1 L388.8,702.0 L389.6,713.5 L390.4,706.0 L391.2,700.5 L392.0,705.2 L392.8,709.4 L393.6,702.2 L394.4,701.1 L395.2,705.4 L396.0,704.5 L396.8,709.9 L397.6,708.4 L398.4,698.1 L399.2,698.5 L400.0,715.5 L400.8,712.1 L401.6,711.6 L402.4,701.6 L403.2,712.0 L404.0,712.5 L404.8,708.3 L405.6,713.1 L406.4,707.7 L407.2,707.5 L408.0,699.8 L408.8,701.2 L409.6,711.9 L410.4,701.8 L411.2,708.2 L412.0,711.6 L412.8,714.7 L413.6,714.2 L414.4,711.7 L415.2,710.2 L416.0,703.0 L416.8,712.1 L417.6,707.7 L418.4,714.0 L419.2,709.4 L420.0,700.0 L420.8,706.7 L421.6,712.8 L422.4,711.4 L423.2,704.2 L424.0,710.6 L424.8,700.0 L425.6,714.4 L426.4,700.3 L427.2,704.6 L428.0,701.1 L428.8,709.3 L429.6,714.3 L430.4,712.5 L431.2,704.5 L432.0,715.0 L432.8,713.6 L433.6,701.8 L434.4,700.1 L435.2,700.5 L436.0,702.8 L436.8,705.8 L437.6,703.1 L438.4,703.3 L439.2,705.7 L440.0,708.1 L440.8,715.1 L441.6,713.9 L442.4,711.1 L443.2,707.4 L444.0,713.4 L444.8,698.5 L445.6,705.4 L446.4,702.5 L447.2,699.9 L448.0,711.5 L448.8,700.0 L449.6,698.7 L450.4,710.8 L451.2,713.3 L452.0,701.5 L452.8,699.9 L453.6,701.5 L454.4,708.4 L455.2,705.0 L456.0,713.5 L456.8,711.4 L457.6,708.2 L458.4,702.5 L459.2,713.9 L460.0,699.3 L460.8,715.0 L461.6,698.5 L462.4,711.4 L463.2,701.2 L464.0,701.2 L464.8,698.8 L465.6,707.3 L466.4,703.3 L467.2,710.4 L468.0,700.9 L468.8,713.6 L469.6,700.0 L470.4,705.1 L471.2,714.4 L472.0,699.0 L472.8,710.0 L473.6,714.3 L474.4,711.0 L475.2,721.5 L476.0,727.7 L476.8,727.8 L477.6,727.9 L478.4,728.0 L479.2,728.1 L480.0,723.6 L480.8,703.0 L481.6,708.8 L482.4,711.1 L483.2,712.8 L484.0,705.9 L484.8,711.9 L485.6,702.6 L486.4,709.9 L487.2,705.4 L488.0,705.9 L488.8,704.5 L489.6,712.8 L490.4,711.0 L491.2,703.4 L492.0,711.8 L492.8,703.7 L493.6,698.6 L494.4,708.7 L495.2,698.7 L496.0,704.8 L496.8,699.0 L497.6,706.3 L498.4,702.3 L499.2,703.6 L500.0,712.1 L500.8,706.4 L501.6,705.3 L502.4,707.4 L503.2,704.0 L504.0,699.6 L504.8,701.6 L504.8,729.9 Z" fill="#1f77b4" stroke="#1f77b4" stroke-width="1"/>
<path d="M79.8 729.7l.2-60.7 .4 60.4 .3-38.7 .3 38.6 .2-28.7 .3 29.3 .2-53 .3 52.2 .3-42.7 .2 43.3 .3-14.8 .3 14.6 .2-20.7 .3 20.7 .2-28.4 .2 28.7 .2-70 .4 69.5 .3-19.6 .2 19.7 .3-24.7 .3 24.6 .2-51.2 .3 51.1 .2-30.4 .3 30.9 .2-52.9 .2 52.2 .2-60.9 .4 61.4 .2-25.7 .3 25.2 .2-25.4 .2 25.4 .3-37.9 .2 38 .2-36.1 .2 36 .2-71 .4 71 .2-57.8 .3 58.7 .3-53.3 .2 52.3 .3-42.3 .3 42.7 .2-48.8 .3 48.9 .2-45.1 .3 45.3 .3-36.2 .2 36 .2-75 .3 74.6 .2-32.8 .3 32.8 .2-24.4 .3 24.3 .2-33.2 .2 34.1 .3-25 .1 24.1 .2-183.1 .4 183.2 .2-35.3 .3 35.5 .2-51.5 .3 51.4 .2-35.2 .2 35.8 .2-69.9 .4 70.1 .3-15.8 .3 14.8 .2-37.8 .3 38 .2-28.3 .3 29 .2-32.6 .3 32 .3-14.5 .3 15.3 .2-23.1 .3 23.1 .2-20 .2 19.6 .2-47 .5 46.4 .2-11 .3 11.4 .2-10.9 .3 11.2 .3-39 .3 38.6 .2-40 .3 40.5 .3-29.1 .2 28.6 .2-74.9 .4 75.4 .3-51 .3 50.2 .2-39.9 .3 39.8 .3-17.5 .2 18.2 .2-59.7 .4 59.6 .2-32.5 .3 32.3 .3-29.4 .3 29.5 .2-28.6 .3 28.2 .2-32.5 .3 33 .3-24.8 .2 25 .3-41.1 .3 40.3 .2-31.8 .3 32.3 .2-51.8 .2 51.9 .2-87.4 .4 87.3 .3-36.5 .2 36.4 .3-19.7 .3 20.3 .2-20.4 .3 20 .2-18.6 .2 18.7 .2-42.4 .4 42 .2-16.7 .2 17.5 .3-35.9 .2 35.2 .2-10.6 .3 11 .2-24.9 .2 24.5 .2-49.4 .4 49.7 .2-10.1 .3 10.2 .3-10.1 .3 9.7 .2-10.4 .3 10.7 .2-15.9 .3 15.5 .2-3.8 .3 4 .2-1.4 .2 1.7 .2-3.6 .2 3 .2-4.5 .3 5.1 .3-3.7 .2 3.5 .2-1.6 .2 2 .3-3.4 .1 3.1 .2-15.9 .3 15.4 .3-8.8 .2 8.8 .2-11.6 .3 12.1 .2-7 .1 6.4 .2-33.6 .5 34.1 .2-24.9 .3 25.3 .2-18.6 .3 18.5 .2-142.4 .4 141.7 .2-20.9 .3 21.6 .3-43.9 .2 43.2 .2-62 .4 62.2 .2-14.6 .2 14.9 .2-32.9 .3 33 .2-15.3 .1 15.3 .2-41.6 .4 41.5 .2-25.3 .2 25.2 .3-25.4 .2 24.9 .2-31.6 .2 32.6 .2-85.7 .4 84.7 .2-15.9 .3 15.8 .3-30.7 .3 30.8 .2-14.3 .3 15.1 .2-52.6 .3 52 .2-17.5 .2 17.6 .3-28.3 .2 28.7 .2-34.7 .2 34.7 .2-71.7 .3 71.9 .3-36.3 .2 36.1 .3-26 .1 26.3 .2-78.4 .5 77.4 .2-30.6 .3 30.6 .3-21.3 .3 21.3 .2-35.9 .2 36.9 .2-72 .5 71.2 .2-23 .3 23.5 .2-13.7 .3 13.4 .3-18.4 .3 18 .2-14 .3 14.6 .2-30.5 .3 30.6 .2-9.8 .3 9.6 .2-11.2 .2 11.3 .3-22.9 .1 22.7 .2-81.4 .3 81.1 .2-62.3 .2 62.3 .3-23.3 .1 23.3 .2-103.6 .3 103.6 .3-70.8 .2 71 .3-26.6 .1 27.2 .2-81.9 .4 81.7 .2-57.9 .3 57.6 .2-49.5 .2 49.6 .2-97 .4 96.6 .3-37.5 .3 38.3 .2-34.8 .3 34.8 .2-36.4 .3 35.4 .2-42.6 .3 42.8 .2-35.1 .3 35.4 .2-29 .2 29.3 .3-28.3 .1 27.9 .2-64 .3 64.1 .3-30.1 .2 30.5 .2-31.5 .2 31.6 .3-24.8 .1 24.1 .2-46.6 .4 47 .2-38.8 .3 39 .2-30.2 .3 29.7 .2-17.3 .2 17.6 .2-170.1 .4 169.6 .3-21.9 .2 22.3 .3-29.9 .2 29.9 .3-19.9 .1 19.9 .2-46.9 .4 46.6 .2-21.5 .3 22 .2-20.2 .2 19.7 .3-31 .2 31.3 .3-22.7 .1 22.2 .2-37.2 .4 37.2 .2-23.5 .2 23.5 .3-13.3 .2 14 .3-22 .2 22.2 .2-13.6 .2 13 .2-69.5 .4 69.2 .2-17.4 .4 17.7 .2-19.6 .3 19.7 .2-39.4 .3 39.4 .2-48.6 .3 49.2 .2-17.1 .3 16.2 .2-17.6 .2 18.4 .3-17.6 .1 16.7 .2-20.8 .3 21.6 .3-18.6 .2 17.9 .2-16.5 .2 16.5 .3-8.8 .1 8.8 .2-53.8 .4 53.7 .2-26.9 .2 27 .2-45.9 .3 46 .2-29.5 .1 29.5 .2-78.5 .5 79.2 .2-32 .3 31.1 .3-65.6 .3 66.2 .2-41 .2 40.5 .2-83.3 .4 83.9 .2-26.1 .3 26.1 .2-16.5 .2 16 .3-20.9 .2 21.3 .2-21.2 .2 21.2 .2-34.2 .4 34.1 .2-28 .2 27.9 .3-8.3 .2 8.4 .2-13.4 .3 13.7 .2-14.9 .2 14.3 .2-63.9 .4 64 .2-34.9 .3 35.1 .3-30 .3 29.5 .2-49.7 .3 50.6 .2-67 .4 66.3 .2-6 .3 6.2 .3-13.4 .3 13.2 .2-17.1 .3 17.6 .2-23.3 .4 23.4 .2-11.6 .3 11.5 .3-16.9 .3 16.4 .2-5.4 .2 5.9 .2-108.5 .4 108 .3-13.7 .2 13.6 .3-11 .2 11.6 .3-17.1 .1 17.4 .2-23.6 .5 23.1 .2-14.4 .3 14.7 .3-15.1 .3 14.9 .2-8.6 .3 8.8 .3-5.5 .2 5.2 .2-25.9 .3 25.7 .3-5.5 .2 5.3 .2-2.7 .2 3 .3-5.5 .1 5.3 .2-10.1 .3 10 .3-5.7 .2 5.8 .2-1.8 .3 2.1 .2-7.4 .1 7.6 .2-37.9 .4 37.4 .3-16.3 .2 16 .3-11.6 .2 12.4 .3-28.7 .3 28.7 .2-28.7 .2 28.2 .2-80.3 .4 80.2 .2-9 .3 9.6 .2-10.3 .3 10.3 .2-19.6 .2 19.1 .2-32 .4 32.7 .3-6.5 .3 5.7 .2-4.6 .3 5.1 .3-3.5 .3 3.2 .2-6.4 .2 6.7 .2-7.7 .4 7.6 .2-4 .2 4.3 .3-3.7 .2 2.8 .2-3.9 .2 4.4 .2-34 .3 34.5 .2-24.2 .2 23.6 .3-27.2 .2 26.9 .2-9.3 .2 10.2 .2-44.5 .4 43.6 .2-14.1 .4 14.3 .2-8.4 .3 8.9 .2-10.2 .4 9.8 .2-7.8 .2 8.2 .2-23.3 .4 22.8 .3-5.3 .3 5.4 .2-11.9 .3 12.5 .3-13.1 .3 12.8 .2-9.4 .3 9.1 .2-43 .3 43.1 .2-32.7 .2 32.6 .3-20.1 .2 20.6 .2-13.4 .2 12.9 .2-45.7 .3 46.3 .3-13.2 .2 13.1 .2-30.8 .3 30.2 .2-22.3 .3 22.5 .2-21.1 .2 21.2 .2-157.8 .4 158 .2-13.6 .3 13.8 .3-7.4 .3 6.7 .2-8.7 .2 8.7 .2-17.4 .4 17.8 .2-12.4 .2 12.4 .3-5.3 .2 5.7 .2-10 .2 9.7 .2-34.3 .3 33.8 .3-21.7 .2 22.1 .3-21.1 .2 20.9 .3-12.7 .2 12.9 .2-54.3 .4 53.8 .2-29.2 .3 29.8 .2-30.1 .3 30.3 .2-14.1 .3 13.4 .2-27.6 .2 28.2 .2-37.1 .4 36.8 .2-2.9 .2 2.5 .3-2.5 .2 2.7 .2-6.3 .1 6.6 .2-8.6 .4 8.8 .3-4.5 .3 4.1 .2-6.1 .3 6.4 .2-2.9 .3 3.2 .2-3.1 .3 2.1 .2-1.2 .3 1.8 .2-4.2 .2 4 .2-158.4 .5 158.3 .2-15.8 .3 15.7 .2-43.1 .3 43 .3-35.6 .2 35.8 .2-63.1 .3 63 .3-40.7 .2 40.7 .2-20.9 .3 21.2 .2-25.3 .1 25.3 .2-46.9 .4 47.2 .2-10.5 .3 10.7 .2-11.1 .2 10.4 .3-11.1 .2 11.2 .3-4.6 .1 4.2 .2-19 .4 19.9 .3-7.2 .3 6.6 .2-16.2 .3 16.5 .3-14.1 .3 14.4 .2-10.5 .2 9.6 .2-37.2 .5 37.8 .2-11.9 .3 11.5 .3-29.5 .3 29.4 .2-18 .2 17.9 .2-58.2 .4 58.4 .2-4.2 .2 4.6 .3-4 .2 3.4 .2-2.9 .2 3.4 .2-12.2 .3 11.9 .3-6.3 .2 7 .3-10.7 .2 10.7 .3-9.3 .2 9.2 .2-72.7 .4 72.4 .2-18.4 .3 18.3 .3-26 .3 25.9 .2-29.2 .3 29.4 .2-43.2 .4 42.9 .2-11.5 .3 12.1 .3-5.7 .3 5.1 .2-12 .3 12.4 .3-10.3 .2 10 .2-19.3 .4 19.8 .3-17.3 .3 17.3 .2-7.2 .3 7.2 .3-11.4 .3 11.4 .2-14.6 .3 14.6 .2-12.1 .3 12.1 .2-55.4 .4 55.6 .2-36.1 .3 35.9 .2-25.1 .3 25.2 .2-38.5 .3 38.1 .2-27.1 .2 26.8 .2-43.8 .4 44.5 .2-5.4 .3 5.1 .2-7.3 .2 6.6 .3-5.5 .2 6.5 .2-4.9 .2 4.8 .2-8.8 .4 8.3 .3-5.1 .3 5.7 .2-7.5 .3 6.8 .3-5.4 .3 5.3 .2-4.2 .2 4.1 .2-33.6 .4 34.3 .2-24.5 .3 24.5 .2-12.1 .3 11.7 .2-22.1 .3 22.7 .2-15.2 .3 14.2 .2-16.2 .2 17.3 .2-67.1 .4 67.1 .2-34.4 .3 34.2 .3-35.6 .3 35.7 .2-19.2 .2 18.3 .2-40.9 .4 41.7 .3-10.6 .2 10.3 .2-14.8 .3 14.3 .2-10.7 .3 11.7 .2-28.7 .3 28 .2-10.8 .2 11.4 .2-73.7 .3 73.5 .3-15.1 .3 15.3 .2-28.6 .3 28.3 .2-19.9 .2 19.3 .2-44.5 .3 45.3 .3-18.4 .2 17.8 .2-15 .3 15.2 .2-12.6 .3 12.8 .2-27.6 .1 27.7 .2-51.6 .5 51 .2-10.4 .3 11 .3-15 .3 14.5 .2-8.9 .2 8.9 .2-19.2 .5 19.6 .2-10.8 .3 11 .2-8.2 .4 8.4 .2-11.5 .2 10.7 .2-42 .4 42.1 .2-34.3 .3 34.7 .2-14.3 .2 13.9 .3-12.9 .2 12.6 .2-24.3 .2 24.3 .2-56.4 .3 56.6 .3-21 .2 21.4 .3-26.9 .2 26.9 .2-8.3 .3 8.6 .2-16.7 .2 16.7 .2-32.7 .3 32.7 .2-3.9 .3 3.7 .2-7.3 .2 7.4 .3-3.8 .1 3.4 .2-8.4 .3 9 .3-6.5 .2 5.4 .2-5.5 .2 6 .3-4.8 .1 4.5 .2-88.8 .4 89 .3-14.3 .3 14.4 .2-29.8 .3 30.2 .3-33 .2 32.3 .2-39.2 .4 40 .3-34.5 .3 33.5 .2-29 .3 29.1 .3-32 .2 32.5 .2-43.2 .3 43.5 .3-14.4 .2 13.9 .3-19 .2 18.9 .2-12.7 .3 13.1 .2-20.3 .2 20.2 .2-41.4 .4 41.8 .2-14.4 .3 13.8 .3-14.3 .3 14.8 .2-22.2 .3 21.9 .2-159.6 .3 159.3 .3-82.5 .2 82.9 .2-57 .2 57.3 .2-100.2 .4 99.7 .3-21.9 .3 22 .2-25 .3 24.8 .3-39.9 .3 40.2 .2-13 .3 13 .2-54.3 .4 54.2 .2-20.5 .3 20.8 .3-19.4 .3 18.6 .2-9.5 .3 9.5 .3-5.2 .2 5.5 .2-24.8 .4 24.5 .2-12.6 .3 13.1 .2-6.3 .3 5.8 .3-5.8 .2 6.3 .3-9.2 .3 9.3 .2-5.6 .2 5 .2-77.4 .3 78.1 .3-12.1 .2 12.2 .3-35.5 .2 34.9 .2-29.4 .3 29.6 .2-20 .2 20.6 .2-43.7 .4 42.9 .2-25.4 .3 25.7 .3-24.1 .3 23.8 .2-14.2 .3 14.7 .3-30 .2 30 .2-37 .4 36.8 .3-30.4 .3 30.7 .2-14.4 .3 13.8 .3-8.7 .2 8.4 .2-44.4 .3 44.5 .3-28.2 .2 29 .3-30.8 .2 30.5 .2-24.3 .3 24.2 .2-29 .2 28.7 .2-102.1 .3 102.7 .3-15 .2 14.3 .2-8.5 .3 9.2 .2-18.7 .2 18.1 .3-22.1 .1 22.9 .2-26.3 .4 25.8 .3-13.5 .3 13.9 .2-22.1 .3 22.1 .2-9.9 .3 9.6 .2-6.1 .3 5.7 .3-5.7 .2 6.6 .3-20 .2 20 .2-103 .3 102.5 .3-53.4 .2 53.8 .3-43.1 .1 43.1 .2-81 .4 80.8 .3-45.8 .2 45.2 .3-38.2 .2 38.8 .3-54 .1 53.8 .2-63.3 .4 63.1 .3-4.8 .2 4.5 .3-3.4 .2 4.1 .3-9.7 .2 9.2 .2-11.9 .3 11.8 .3-6 .3 6 .2-5.6 .3 6.2 .2-9.4 .3 9.7 .2-5.8 .2 4.8 .2-81 .4 81 .2-32.9 .3 33.2 .3-16.1 .3 15.9 .2-28 .3 28.4 .2-31.5 .3 31.8 .2-44.3 .3 43.7 .3-13.7 .2 13.9 .2-57.7 .4 57.9 .2-19.8 .3 19.7 .3-10.8 .3 10.8 .2-7.7 .3 8 .3-20.7 .3 20.3 .2-18.4 .2 18.1 .2-30 .4 30 .2-7.8 .2 8 .3-25.9 .2 26 .2-15.7 .2 15.8 .2-34.1 .4 34.3 .2-14.4 .3 13.7 .3-27.1 .3 27.4 .2-21.5 .3 21.6 .3-10 .2 9.5 .2-53.6 .4 54 .2-40.6 .3 40.3 .2-40.7 .3 41.3 .2-18.9 .2 19 .2-71.1 .4 71.1 .2-19.5 .3 18.8 .2-47.4 .2 48 .3-49.6 .2 49.9 .3-51.4 .2 50.4 .3-58.1 .1 58.9 .2-110.5 .4 110.6 .2-75.4 .3 75 .2-36.6 .2 36.3 .3-42.8 .2 42.8 .2-78.9 .2 79.5 .2-90.8 .4 90 .2-30 .2 30.8 .3-21 .2 21 .2-19.5 .3 19.7 .2-27.1 .2 26.1 .2-36.2 .4 37.1 .2-11 .3 11 .2-8.9 .3 8.4 .2-16.7 .2 17.2 .2-190.4 .4 190.5 .2-23 .4 22.9 .2-44 .2 43.3 .2-57.4 .4 57.3 .3-48.4 .3 48.3 .2-30.3 .3 31 .3-46.9 .2 46.9 .2-93.5 .4 92.8 .3-21.8 .3 22.8 .2-25.6 .3 25.6 .3-21.3 .3 20.4 .2-26.2 .2 27 .2-32.6 .4 31.8 .3-6.9 .3 6.8 .2-22.5 .3 23.2 .2-8.4 .3 8.3 .2-13.5 .3 13.7 .3-28 .3 27.9 .2-12.7 .2 12.2 .2-49.2 .3 49.5 .3-25.4 .2 25.4 .2-26 .2 26 .3-14.9 .1 15.3 .2-44.4 .4 43.9 .2-6.9 .2 6.7 .3-19.9 .2 19.7 .2-8.1 .1 9 .2-27.1 .4 27 .2-20.1 .3 20.3 .2-6.7 .2 6.3 .3-8.2 .2 8.6 .3-23.6 .1 22.7 .2-53.7 .4 53.8 .2-12.7 .3 12.8 .2-29 .3 29 .2-44 .2 44.2 .2-74.5 .4 74.6 .2-20.9 .3 20.7 .2-17.6 .3 17.7 .2-16.8 .2 17.1 .2-27 .4 26.9 .2-13 .2 12.3 .3-6.5 .2 6.7 .2-8.4 .2 9 .2-47.1 .3 46.3 .2-14.2 .2 15.2 .3-12 .2 11.3 .2-13.5 .2 13.6 .2-21.1 .3 21.5 .3-5.2 .2 5 .2-11.9 .2 11.8 .3-6.2 .1 5.7 .2-46.3 .4 46.8 .3-27.7 .3 27.6 .2-38.8 .2 39 .2-253.9 .4 253.5 .3-35.8 .2 36.6 .3-32 .2 31.7 .3-24 .1 24 .2-94.4 .4 94.6 .2-8.3 .2 7.5 .3-8.7 .2 8.7 .2-5.8 .2 6.4 .2-15.9 .3 16 .2-8.7 .1 8.6 .2-90.7 .4 90.7 .3-34.4 .3 33.8 .2-37 .3 37.8 .2-74.5 .3 74.5 .3-47.9 .2 47.4 .2-58.4 .2 59 .2-242.1 .3 241.8 .3-87.1 .2 87.5 .2-67.3 .3 66.3 .2-66.6 .1 66.8 .2-124.1 .4 124 .2-33.6 .3 33.5 .2-58.3 .2 58.5 .2-98 .3 98.7 .3-12.6 .2 12.3 .2-22.6 .2 22 .3-26.9 .1 27.7 .2-39.9 .4 39.2 .3-19 .3 19.8 .2-34.4 .3 34.1 .3-34.6 .3 34.1 .2-29.6 .3 30.2 .2-64.9 .3 64.8 .3-31.7 .2 31.6 .2-27.3 .3 27.1 .2-34.2 .2 34.8 .3-14.8 .1 14.1 .2-57.1 .5 57.8 .2-23.8 .3 23.1 .2-9 .4 9.7 .2-34.8 .2 34.4 .2-39.6 .4 39.6 .3-11.8 .2 11.4 .3-25.8 .2 26.2 .3-19.8 .2 19.3 .3-29 .2 29.6 .2-63.7 .4 64 .2-12.6 .3 12.7 .2-7.6 .3 7 .2-13.3 .2 13.8 .2-27.2 .3 27 .3-15.4 .2 14.8 .2-13.6 .3 14.2 .2-6.5 .3 6.1 .2-14 .2 14.5 .2-36.6 .4 36.5 .2-5 .3 5.2 .3-9.6 .3 9 .2-11.1 .2 11 .2-17.4 .4 17.2 .2-4.8 .2 5 .3-12.7 .2 13.4 .2-10.7 .2 10.5 .2-31.5 .3 31.6 .3-10 .2 10 .2-11 .3 10.2 .2-24.5 .2 24.5 .3-18.9 .1 19.7 .2-45.3 .5 45.3 .2-30.9 .3 30.6 .3-22.5 .3 22.1 .2-11.7 .2 12.5 .2-36.3 .4 36 .2-9.8 .2 10 .3-11.5 .2 11.4 .2-6.7 .2 6.6 .2-15.9 .3 16.2 .2-11.9 .2 11.5 .3-7.8 .2 8 .2-6.6 .2 6.7 .2-27.1 .3 26.6 .3-12.6 .2 13.1 .2-10.6 .3 10.4 .2-14.1 .3 13.8 .2-12.3 .1 12.5 .2-41.4 .4 41.8 .3-15.7 .2 14.9 .3-22.8 .2 23.1 .3-29 .2 28.6 .2-72.8 .3 73 .3-24.7 .2 24.6 .3-7.7 .2 8.2 .3-8 .2 7.9 .2-34.1 .3 34.4 .2-14.3 .3 14.1 .2-13.8 .2 13.6 .2-27.4 .2 27.4 .2-80.5 .4 80.2 .3-45.8 .3 46.1 .2-26.3 .3 26.4 .2-45.5 .3 45.4 .2-83.2 .3 82.9 .3-34.6 .2 35.4 .2-18.6 .2 18.1 .3-31.9 .1 31.5 .2-46.4 .3 46.4 .3-24.3 .2 24.2 .2-15.3 .2 15.6 .3-32 .1 32.8 .2-56.8 .4 56.1 .2-9.6 .2 9.9 .3-14.1 .2 13.9 .2-17.7 .1 17.5 .2-24.7 .4 24.9 .3-15.4 .2 15.9 .2-13.2 .2 12.9 .2-57.5 .3 57.1 .3-25.8 .2 26.2 .2-25.6 .3 25.6 .2-17.2 .1 17.5 .2-34.5 .5 34.5 .2-14.4 .3 14.3 .2-13.9 .4 13.9 .2-20.5 .3 20.1 .2-6.6 .3 6.2 .2-24.5 .4 24.9 .2-15.2 .3 15.7 .3-17.7 .3 17.5 .2-6.6 .3 6.8 .3-6.7 .2 6.3 .2-98.9 .4 98.9 .2-68.4 .2 67.8 .3-72.5 .2 73 .2-53.1 .3 53.5 .2-71.1 .2 70.2 .2-95.5 .4 95.7 .2-25.8 .4 25.7 .2-51.8 .2 52 .2-63.9 .4 63.9 .2-38.1 .2 38.4 .3-13.2 .2 13.3 .3-20.4 .2 20.6 .2-23.8 .2 23.7 .2-52.5 .3 52.2 .3-33.3 .2 32.9 .2-20.4 .2 20.8 .3-22.7 .1 22.8 .2-139.9 .3 139.5 .3-99.7 .1 100 .3-70.9 .1 71.1 .2-241.3 .4 241.6 .2-78.7 .2 78.1 .3-75.4 .2 75.3 .2-101.3 .3 101.5 .3-27.6 .2 27.3 .3-41.9 .2 42.4 .3-86.6 .2 86.4 .2-147.1 .3 146.9 .3-32.5 .2 33.1 .3-87.2 .2 86.3 .3-45 .2 45.6 .2-111.6 .4 111.3 .2-87.2 .3 87.4 .3-50.6 .3 50.5 .2-86.5 .3 87 .3-54.1 .2 53.3 .2-130.6 .4 131.4 .3-103.5 .3 103.6 .2-45.3 .2 45 .2-118.1 .5 118 .2-29.2 .3 29 .3-83.8 .2 83.7 .2-145.1 .3 145.9 .3-64.5 .2 63.7 .2-70.2 .2 71 .3-50.7 .1 50.3 .2-91.7 .4 91 .3-73.9 .3 74.1 .2-57.4 .3 57.4 .3-54.1 .3 54.3 .2-61.2 .2 61.7 .2-91.9 .4 91.6 .2-29 .2 29.1 .3-57.8 .2 57.7 .2-64.4 .2 64.6 .2-79 .3 78.7 .2-41.7 .3 41.6 .2-54.4 .2 55.1 .3-68.4 .1 68 .2-86.2 .3 86.4 .3-25.2 .2 25.1 .2-19.1 .2 18.7 .3-21.8 .1 21.7 .2-48.4 .4 48.6 .3-29.3 .3 29.6 .2-40.9 .3 40.3 .3-26.7 .2 27.5 .2-93.4 .4 92.5 .3-7.1 .2 7.4 .2-15.6 .4 15.8 .2-1.5 .3 .9 .2-.8 .2 1.5 .2-2.3 .3 1.6 .3-.5 .2 1.1 .3-1 .2 1.2 .3-1.2 .3 1 .2-1.3 .3 1.3 .2-1.3 .3 1 .2-.7 .3 .5 .2-.7 .2 1 .2-1.4 .2 1.8 .3-1.2 0 1.2 .2-67.1 .4 67.1 .2-53.3 .3 52.9 .2-54.8 .2 54.4 .2-219.9 .3 221 .2-18.3 .3 18.1 .2-56.3 .2 55.7 .3-36.3 .1 36.3 .2-67.5 .3 67.7 .3-32.1 .2 32.6 .2-30.8 .2 30.3 .3-17.7 .1 18.3 .2-82.9 .4 82.8 .3-32.7 .3 31.8 .2-43.6 .3 43.8 .3-37.4 .2 37.8 .2-72.5 .4 72.4 .2-35.8 .3 36.3 .2-50 .3 49.2 .2-51.4 .2 51.7 .2-108.9 .3 109.1 .3-71.1 .2 70.7 .2-44 .3 43.6 .2-62.1 .1 63 .2-155.7 .5 155.5 .2-131 .3 131.1 .3-79.2 .3 78.8 .2-112.6 .3 113.1 .2-127.3 .3 127.3 .2-166.7 .3 166.3 .3-119.3 .2 118.9 .3-86.2 .1 86.8 .2-275.9 .5 275.8 .2-83.6 .3 83.3 .2-38.9 .3 39.3 .2-98 .3 97.6 .3-66.2 .2 66.8 .2-69.5 .3 69.5 .2-46.8 .3 46.3 .2-39 .1 39.6 .2-94.7 .4 94 .2-53.8 .3 54.2 .2-52.8 .2 52.7 .3-70.8 .2 70.9 .3-44.2 .1 43.8 .2-97.6 .4 97.4 .3-38.9 .3 38.9 .2-18.5 .3 18.7 .2-52 .3 51.7 .3-36.6 .2 36.8 .3-13.7 .1 14.5 .2-47.6 .2 47.2" fill="none" stroke="#1f77b4" stroke-width="1.68" stroke-linejoin="round" />
<rect x="59.10" y="440.75" width="467.65" height="304.05" fill="none" stroke="#000" stroke-width="0.800"/>
<text x="292.93" y="434.50" font-size="12.37" text-anchor="middle" textLength="64.40" lengthAdjust="spacingAndGlyphs">sellVolume</text>
<line x1="84.58" y1="744.80" x2="84.58" y2="748.74" stroke="#000" stroke-width="0.800"/>
<text x="84.58" y="760.03" font-size="10.29" text-anchor="middle" textLength="41.26" lengthAdjust="spacingAndGlyphs">2023-05</text>
<line x1="156.49" y1="744.80" x2="156.49" y2="748.74" stroke="#000" stroke-width="0.800"/>
<text x="156.49" y="760.03" font-size="10.29" text-anchor="middle" textLength="41.26" lengthAdjust="spacingAndGlyphs">2023-07</text>
<line x1="229.59" y1="744.80" x2="229.59" y2="748.74" stroke="#000" stroke-width="0.800"/>
<text x="229.59" y="760.03" font-size="10.29" text-anchor="middle" textLength="41.26" lengthAdjust="spacingAndGlyphs">2023-09</text>
<line x1="301.50" y1="744.80" x2="301.50" y2="748.74" stroke="#000" stroke-width="0.800"/>
<text x="301.50" y="760.03" font-size="10.29" text-anchor="middle" textLength="41.26" lengthAdjust="spacingAndGlyphs">2023-11</text>
<line x1="373.42" y1="744.80" x2="373.42" y2="748.74" stroke="#000" stroke-width="0.800"/>
<text x="373.42" y="760.03" font-size="10.29" text-anchor="middle" textLength="41.26" lengthAdjust="spacingAndGlyphs">2024-01</text>
<line x1="444.16" y1="744.80" x2="444.16" y2="748.74" stroke="#000" stroke-width="0.800"/>
<text x="444.16" y="760.03" font-size="10.29" text-anchor="middle" textLength="41.26" lengthAdjust="spacingAndGlyphs">2024-03</text>
<line x1="516.07" y1="744.80" x2="516.07" y2="748.74" stroke="#000" stroke-width="0.800"/>
<text x="516.07" y="760.03" font-size="10.29" text-anchor="middle" textLength="41.26" lengthAdjust="spacingAndGlyphs">2024-05</text>
<text x="292.93" y="774.59" font-size="10.29" text-anchor="middle" textLength="23.39" lengthAdjust="spacingAndGlyphs">Date</text>
<line x1="55.16" y1="731.00" x2="59.10" y2="731.00" stroke="#000" stroke-width="0.800"/>
<text x="51.12" y="735.04" font-size="10.29" text-anchor="end" textLength="15.39" lengthAdjust="spacingAndGlyphs">0.0</text>
<line x1="55.16" y1="676.28" x2="59.10" y2="676.28" stroke="#000" stroke-width="0.800"/>
<text x="51.12" y="680.32" font-size="10.29" text-anchor="end" textLength="15.39" lengthAdjust="spacingAndGlyphs">0.5</text>
<line x1="55.16" y1="621.56" x2="59.10" y2="621.56" stroke="#000" stroke-width="0.800"/>
<text x="51.12" y="625.60" font-size="10.29" text-anchor="end" textLength="15.39" lengthAdjust="spacingAndGlyphs">1.0</text>
<line x1="55.16" y1="566.84" x2="59.10" y2="566.84" stroke="#000" stroke-width="0.800"/>
<text x="51.12" y="570.88" font-size="10.29" text-anchor="end" textLength="15.39" lengthAdjust="spacingAndGlyphs">1.5</text>
<line x1="55.16" y1="512.12" x2="59.10" y2="512.12" stroke="#000" stroke-width="0.800"/>
<text x="51.12" y="516.16" font-size="10.29" text-anchor="end" textLength="15.39" lengthAdjust="spacingAndGlyphs">2.0</text>
<line x1="55.16" y1="457.40" x2="59.10" y2="457.40" stroke="#000" stroke-width="0.800"/>
<text x="51.12" y="461.44" font-size="10.29" text-anchor="end" textLength="15.39" lengthAdjust="spacingAndGlyphs">2.5</text>
<text x="28.98" y="593.64" font-size="10.29" text-anchor="middle" textLength="26.94" lengthAdjust="spacingAndGlyphs" transform="rotate(-90 28.98 593.64)">Value</text>
<text x="59.40" y="437.67" font-size="10.29" text-anchor="start" textLength="18.37" lengthAdjust="spacingAndGlyphs">1e9</text>
<rect x="64.10" y="445.75" width="142.71" height="18.36" rx="2.02" fill="#fff" fill-opacity="0.8" stroke="#ccc" stroke-opacity="0.8" stroke-width="1.00"/>
<line x1="68.10" y1="454.03" x2="88.12" y2="454.03" stroke="#1f77b4" stroke-width="1.50" stroke-linecap="square"/>
<text x="96.40" y="457.39" font-size="10.29" text-anchor="start" textLength="104.59" lengthAdjust="spacingAndGlyphs">SellingOrderQuantity</text>
<path d="M75.5,1596.9 L75.5,1572.3 L76.3,1560.3 L77.1,1575.8 L77.9,1574.3 L78.7,1564.6 L79.5,1567.0 L80.3,1571.3 L81.1,1576.7 L81.9,1568.4 L82.7,1574.6 L83.5,1560.7 L84.3,1559.1 L85.1,1565.7 L85.9,1566.5 L86.7,1577.3 L87.5,1577.6 L88.3,1570.7 L89.1,1571.5 L89.9,1564.9 L90.7,1559.9 L91.5,1569.8 L92.3,1564.6 L93.1,1559.0 L93.9,1574.9 L94.7,1578.6 L95.5,1576.9 L96.3,1563.3 L97.1,1567.7 L97.9,1564.6 L98.7,1559.1 L99.5,1576.8 L100.3,1567.0 L101.1,1569.0 L101.9,1569.7 L102.7,1569.0 L103.5,1568.0 L104.3,1563.2 L105.1,1568.7 L105.9,1562.3 L106.7,1572.1 L107.5,1560.5 L108.3,1567.4 L109.1,1565.0 L109.9,1568.9 L110.7,1564.9 L111.5,1570.0 L112.3,1564.8 L113.1,1562.2 L113.9,1579.3 L114.7,1569.7 L115.5,1572.7 L116.3,1577.9 L117.1,1580.7 L117.9,1590.3 L118.7,1589.2 L119.5,1579.5 L120.3,1578.3 L121.1,1576.0 L121.9,1570.1 L122.7,1564.3 L123.5,1564.7 L124.3,1570.6 L125.1,1568.8 L125.9,1566.2 L126.7,1578.5 L127.5,1570.8 L128.3,1569.3 L129.1,1579.3 L129.9,1568.6 L130.7,1568.9 L131.5,1564.7 L132.3,1576.9 L133.1,1562.3 L133.9,1566.0 L134.7,1572.3 L135.5,1578.9 L136.3,1562.0 L137.1,1565.9 L137.9,1558.6 L138.7,1559.0 L139.5,1574.2 L140.3,1566.4 L141.1,1569.2 L141.9,1563.1 L142.7,1570.7 L143.5,1567.8 L144.3,1578.4 L145.1,1560.1 L145.9,1578.4 L146.7,1569.6 L147.5,1562.4 L148.3,1574.9 L149.1,1573.5 L149.9,1565.8 L150.7,1577.7 L151.5,1569.0 L152.3,1558.8 L153.1,1573.8 L153.9,1564.2 L154.7,1568.8 L155.5,1570.7 L156.3,1569.1 L157.1,1558.9 L157.9,1576.7 L158.7,1567.4 L159.5,1572.0 L160.3,1576.7 L161.1,1572.9 L161.9,1560.8 L162.7,1569.8 L163.5,1570.1 L164.3,1568.9 L165.1,1578.7 L165.9,1567.3 L166.7,1560.3 L167.5,1558.6 L168.3,1572.9 L169.1,1573.0 L169.9,1564.1 L170.7,1569.8 L171.5,1578.3 L172.3,1576.5 L173.1,1561.3 L173.9,1567.8 L174.7,1561.2 L175.5,1562.7 L176.3,1573.1 L177.1,1570.9 L177.9,1571.0 L178.7,1569.4 L179.5,1574.1 L180.3,1571.8 L181.1,1574.3 L181.9,1572.1 L182.7,1565.6 L183.5,1569.8 L184.3,1578.3 L185.1,1566.8 L185.9,1560.0 L186.7,1559.6 L187.5,1562.6 L188.3,1561.2 L189.1,1575.7 L189.9,1578.6 L190.7,1581.9 L191.5,1573.1 L192.3,1571.1 L193.1,1560.0 L193.9,1564.6 L194.7,1565.0 L195.5,1572.8 L196.3,1564.5 L197.1,1575.1 L197.9,1572.2 L198.7,1576.4 L199.5,1580.1 L200.3,1568.0 L201.1,1567.9 L201.9,1570.5 L202.7,1577.0 L203.5,1566.3 L204.3,1566.5 L205.1,1578.4 L205.9,1575.2 L206.7,1584.7 L207.5,1585.2 L208.3,1574.7 L209.1,1573.4 L209.9,1573.1 L210.7,1572.1 L211.5,1577.0 L212.3,1574.4 L213.1,1573.9 L213.9,1575.6 L214.7,1565.6 L215.5,1578.3 L216.3,1577.2 L217.1,1573.3 L217.9,1574.3 L218.7,1572.0 L219.5,1566.5 L220.3,1559.4 L221.1,1576.9 L221.9,1563.4 L222.7,1573.5 L223.5,1564.3 L224.3,1579.1 L225.1,1583.1 L225.9,1575.8 L226.7,1572.3 L227.5,1565.3 L228.3,1566.3 L229.1,1575.2 L229.9,1574.2 L230.7,1571.4 L231.5,1579.2 L232.3,1567.5 L233.1,1562.0 L233.9,1577.7 L234.7,1578.1 L235.5,1564.0 L236.3,1564.6 L237.1,1561.4 L237.9,1569.4 L238.7,1559.3 L239.5,1561.7 L240.3,1573.2 L241.1,1576.5 L241.9,1578.5 L242.7,1568.5 L243.5,1566.2 L244.3,1567.8 L245.1,1567.8 L245.9,1560.2 L246.7,1560.7 L247.5,1573.3 L248.3,1578.8 L249.1,1577.1 L249.9,1571.7 L250.7,1579.9 L251.5,1559.2 L252.3,1566.2 L253.1,1579.4 L253.9,1569.4 L254.7,1575.3 L255.5,1572.6 L256.3,1574.5 L257.1,1585.9 L257.9,1584.4 L258.7,1578.4 L259.5,1571.3 L260.3,1571.3 L261.1,1575.5 L261.9,1577.4 L262.7,1569.4 L263.5,1563.2 L264.3,1560.7 L265.1,1574.3 L265.9,1559.1 L266.7,1569.9 L267.5,1578.9 L268.3,1576.9 L269.1,1574.4 L269.9,1575.0 L270.7,1576.7 L271.5,1566.7 L272.3,1561.1 L273.1,1569.2 L273.9,1563.3 L274.7,1561.1 L275.5,1558.8 L276.3,1568.5 L277.1,1566.3 L277.9,1565.2 L278.7,1560.3 L279.5,1565.9 L280.3,1563.8 L281.1,1567.6 L281.9,1562.7 L282.7,1562.1 L283.5,1577.0 L284.3,1571.3 L285.1,1571.2 L285.9,1566.0 L286.7,1562.5 L287.5,1578.2 L288.3,1566.3 L289.1,1565.5 L289.9,1567.6 L290.7,1568.6 L291.5,1565.2 L292.3,1570.4 L293.1,1568.5 L293.9,1561.8 L294.7,1563.2 L295.5,1566.2 L296.3,1559.4 L297.1,1565.5 L297.9,1564.0 L298.7,1566.9 L299.5,1567.3 L300.3,1563.6 L301.1,1561.5 L301.9,1568.8 L302.7,1578.5 L303.5,1571.2 L304.3,1572.7 L305.1,1561.9 L305.9,1563.9 L306.7,1565.1 L307.5,1562.4 L308.3,1568.3 L309.1,1569.4 L309.9,1578.8 L310.7,1570.9 L311.5,1563.2 L312.3,1575.9 L313.1,1568.6 L313.9,1573.5 L314.7,1574.6 L315.5,1574.2 L316.3,1574.3 L317.1,1564.3 L317.9,1574.3 L318.7,1565.5 L319.5,1578.6 L320.3,1560.3 L321.1,1562.2 L321.9,1560.6 L322.7,1573.9 L323.5,1579.5 L324.3,1563.3 L325.1,1568.3 L325.9,1575.9 L326.7,1560.9 L327.5,1573.1 L328.3,1576.1 L329.1,1563.0 L329.9,1564.3 L330.7,1576.1 L331.5,1573.3 L332.3,1567.0 L333.1,1565.9 L333.9,1561.9 L334.7,1575.7 L335.5,1559.7 L336.3,1573.0 L337.1,1576.1 L337.9,1564.7 L338.7,1567.2 L339.5,1568.3 L340.3,1567.9 L341.1,1565.0 L341.9,1567.1 L342.7,1571.2 L343.5,1572.2 L344.3,1576.4 L345.1,1577.4 L345.9,1572.5 L346.7,1577.6 L347.5,1562.5 L348.3,1578.5 L349.1,1566.6 L349.9,1568.8 L350.7,1561.7 L351.5,1565.5 L352.3,1570.5 L353.1,1575.0 L353.9,1566.5 L354.7,1577.0 L355.5,1574.6 L356.3,1561.0 L357.1,1561.6 L357.9,1559.7 L358.7,1560.1 L359.5,1567.9 L360.3,1577.6 L361.1,1564.4 L361.9,1562.2 L362.7,1577.7 L363.5,1570.5 L364.3,1562.0 L365.1,1574.7 L365.9,1573.4 L366.7,1573.7 L367.5,1561.1 L368.3,1578.7 L369.1,1576.4 L369.9,1573.1 L370.7,1569.8 L371.5,1568.9 L372.3,1559.6 L373.1,1578.6 L373.9,1573.2 L374.7,1568.6 L375.5,1578.1 L376.3,1573.7 L377.1,1559.1 L377.9,1558.9 L378.7,1567.6 L379.5,1572.4 L380.3,1574.1 L381.1,1562.5 L381.9,1563.7 L382.7,1559.6 L383.5,1575.2 L384.3,1567.5 L385.1,1559.5 L385.9,1563.4 L386.7,1566.9 L387.5,1570.2 L388.3,1560.9 L389.1,1561.2 L389.9,1576.0 L390.7,1562.0 L391.5,1572.9 L392.3,1562.4 L393.1,1574.3 L393.9,1566.8 L394.7,1559.3 L395.5,1575.9 L396.3,1568.3 L397.1,1575.9 L397.9,1577.7 L398.7,1579.4 L399.5,1573.4 L400.3,1575.5 L401.1,1563.1 L401.9,1577.3 L402.7,1570.9 L403.5,1578.9 L404.3,1578.6 L405.1,1571.6 L405.9,1579.9 L406.7,1566.6 L407.5,1567.0 L408.3,1579.5 L409.1,1570.7 L409.9,1574.6 L410.7,1564.1 L411.5,1564.9 L412.3,1570.8 L413.1,1571.4 L413.9,1579.0 L414.7,1569.8 L415.5,1578.7 L416.3,1560.3 L417.1,1578.1 L417.9,1563.2 L418.7,1567.1 L419.5,1567.2 L420.3,1574.9 L421.1,1570.3 L421.9,1575.0 L422.7,1579.3 L423.5,1575.1 L424.3,1575.0 L425.1,1576.3 L425.9,1566.2 L426.7,1577.3 L427.5,1559.7 L428.3,1567.3 L429.1,1577.5 L429.9,1560.5 L430.7,1568.0 L431.5,1576.9 L432.3,1569.1 L433.1,1562.1 L433.9,1573.6 L434.7,1566.2 L435.5,1573.0 L436.3,1578.1 L437.1,1569.7 L437.9,1571.3 L438.7,1570.9 L439.5,1561.0 L440.3,1560.5 L441.1,1568.7 L441.9,1564.3 L442.7,1562.2 L443.5,1571.8 L444.3,1563.8 L445.1,1577.7 L445.9,1574.6 L446.7,1573.5 L447.5,1567.0 L448.3,1578.0 L449.1,1559.2 L449.9,1567.6 L450.7,1562.4 L451.5,1571.4 L452.3,1561.0 L453.1,1565.5 L453.9,1563.8 L454.7,1570.5 L455.5,1571.4 L456.3,1563.7 L457.1,1576.5 L457.9,1573.4 L458.7,1570.9 L459.5,1569.3 L460.3,1578.0 L461.1,1573.5 L461.9,1574.1 L462.7,1562.3 L463.5,1562.5 L464.3,1561.6 L465.1,1561.7 L465.9,1559.9 L466.7,1560.3 L467.5,1569.7 L468.3,1576.1 L469.1,1572.8 L469.9,1570.7 L470.7,1573.1 L471.5,1579.0 L472.3,1570.5 L473.1,1558.7 L473.9,1578.0 L474.7,1571.4 L475.5,1575.8 L476.3,1573.5 L477.1,1562.3 L477.9,1568.0 L478.7,1564.2 L479.5,1576.7 L480.3,1569.9 L481.1,1568.3 L481.9,1576.0 L482.7,1571.5 L483.5,1570.2 L484.3,1562.9 L485.1,1559.0 L485.9,1564.5 L486.7,1559.9 L487.5,1584.1 L488.3,1594.3 L489.1,1594.7 L489.9,1595.0 L490.7,1595.3 L491.5,1595.7 L492.3,1588.3 L493.1,1579.0 L493.9,1567.2 L494.7,1577.4 L495.5,1575.5 L496.3,1567.1 L497.1,1567.5 L497.9,1561.7 L498.7,1568.9 L499.5,1560.8 L500.3,1561.1 L501.1,1563.9 L501.9,1577.2 L502.7,1568.8 L503.5,1578.7 L504.3,1572.8 L505.1,1563.0 L505.9,1572.1 L506.7,1560.5 L507.5,1563.5 L508.3,1567.4 L509.1,1573.5 L509.9,1572.4 L510.7,1561.3 L511.5,1563.7 L512.3,1568.9 L513.1,1572.1 L513.9,1569.5 L514.7,1571.8 L515.5,1578.9 L516.3,1571.5 L517.1,1559.2 L517.9,1560.6 L517.9,1596.9 Z" fill="#1f77b4" stroke="#1f77b4" stroke-width="1"/>
<path d="M75.3 1596.5l.2-105.1 .4 105.2 .2-36.9 .3 36.3 .2-40.2 .3 40.6 .2-13.9 .2 14.4 .2-47 .3 46.5 .3-22.3 .2 22.9 .2-30.1 .3 29.3 .2-27.1 .2 27.1 .2-76.1 .4 76.7 .2-55.8 .3 55.9 .2-42.8 .3 41.9 .3-37.8 .2 37.9 .2-99.5 .3 100 .3-32 .2 32.3 .3-55.3 .2 54.7 .2-32.7 .2 32.9 .2-79.2 .4 79.6 .2-56.5 .2 56.4 .3-55.7 .2 55 .3-59.1 .1 59 .2-88.7 .4 88.7 .2-46.9 .2 47.5 .3-31.7 .2 32.1 .2-34.5 .2 33.5 .3-44.8 .1 45.1 .2-56 .4 56.6 .2-28.9 .2 28 .3-41.5 .2 42.5 .3-46.9 .1 46.3 .2-91.6 .4 92.2 .3-76.1 .3 75.6 .2-26.8 .3 26.8 .2-57.3 .2 57.1 .2-199.7 .4 200.3 .3-29.8 .3 29.7 .2-28.7 .3 27.8 .2-48.4 .2 48.9 .2-58 .4 57.9 .2-45.3 .3 45.7 .2-14.2 .3 13.4 .2-45.9 .2 46.2 .3-15.3 .2 15.8 .3-28.5 .1 28.8 .2-58.6 .4 58.2 .2-20.4 .2 20.2 .3-17.2 .2 17.7 .2-30.3 .2 29.4 .3-22.4 .1 22.9 .2-45.7 .4 45.8 .2-11.2 .3 11 .2-39.4 .3 39.1 .2-30 .3 30.4 .2-33.8 .2 33.8 .2-82.1 .3 82.2 .2-67.6 .2 67.3 .2-66.5 .1 66.3 .2-85 .3 85.9 .3-13.5 .2 12.6 .2-19.1 .3 19.2 .2-24.9 .2 24.9 .2-34.9 .4 35.2 .2-25.6 .3 25 .2-21.1 .3 21.8 .3-11.3 .2 11.3 .2-71.7 .4 71.4 .2-54.8 .3 54.6 .3-50.6 .2 51.4 .3-18.7 .2 18.6 .2-89.5 .3 88.7 .3-14.8 .2 15.1 .2-53.8 .2 54.4 .3-46.5 .2 46.2 .2-30.3 .2 29.6 .2-61.4 .3 62.1 .3-48.9 .2 48.7 .3-48.9 .2 49.4 .2-32.8 .3 32.1 .2-51.5 .3 51.8 .2-26.5 .2 26.2 .2-98.7 .3 99.1 .3-9.5 .2 9.7 .2-13.2 .3 12.6 .2-9.2 .2 9.5 .2-31.3 .3 31.7 .2-15.5 .3 15 .2-13.5 .1 13.4 .2-17.7 .3 18.3 .2-1.4 .2 1.3 .2-2.4 .1 2.4 .2-2.9 .3 2.6 .3-1 .1 1.1 .2-14.2 .4 14.4 .3-8 .3 7.2 .2-6.7 .3 6.7 .3-11.5 .3 11.4 .2-3.2 .2 3.7 .2-56.1 .4 56.1 .2-29.9 .3 29.5 .3-46.5 .1 46.8 .2-163.7 .4 163.8 .2-72.2 .2 72 .2-43.9 .2 44.6 .3-46 .1 45.6 .2-105.1 .4 105.1 .2-21.8 .3 22.2 .2-23.2 .3 22.9 .3-14.7 .2 14.8 .2-46.8 .3 46.2 .3-18.6 .2 18.8 .3-14.4 .2 15.1 .2-23.5 .2 22.8 .2-73.3 .4 73.3 .2-18.4 .2 19 .3-23.3 .2 22.7 .2-22.8 .2 23.4 .2-30.8 .4 30.5 .2-17.4 .2 17.2 .3-26 .2 25.7 .3-19.6 .1 19.6 .2-90.3 .4 91.2 .2-20.8 .3 20.2 .2-19.1 .2 18.6 .3-25.5 .1 26.5 .2-75.8 .4 75.5 .3-55.2 .3 54.7 .2-56.6 .3 57.3 .2-61.2 .2 61.3 .2-95.3 .4 94.4 .2-7.6 .2 8.2 .3-13.2 .2 13.1 .2-17.9 .3 18 .2-15.5 .1 15.6 .2-33.4 .4 33.4 .2-18.2 .3 18.3 .2-20 .3 19.2 .2-28.1 .2 29 .2-150.5 .3 149.7 .2-126.1 .2 126.7 .2-51.1 .2 50.7 .3-110.8 .1 111.4 .2-191.7 .4 191.5 .2-118.8 .3 118.2 .2-44.6 .3 44.6 .2-52.6 .3 52.5 .2-55.3 .2 55.3 .2-171.7 .3 171.6 .3-28.1 .2 28.9 .3-25.4 .2 25 .2-19.4 .2 19.7 .2-35.3 .4 34.8 .2-21.3 .2 22 .3-24.8 .2 24.5 .3-16.9 .2 16.8 .2-20.7 .3 21.1 .2-22 .2 21.8 .2-101.4 .3 101.6 .3-28 .2 28 .2-22.4 .3 21.9 .2-41.2 .2 41.2 .2-52.2 .3 52.5 .2-31.1 .2 30.8 .3-20.2 .2 19.9 .2-20.8 .1 21.6 .2-201.2 .4 200.8 .3-32 .2 32.6 .3-25.9 .3 25.4 .2-15.5 .2 15.6 .2-48.7 .4 48.2 .2-26.2 .3 27 .2-20.6 .2 20.4 .3-26.2 .1 26.4 .2-60.8 .4 60.9 .2-12.6 .2 12.6 .2-33.9 .2 33.7 .2-43.1 .3 43.2 .3-15.2 .2 14.2 .3-19 .2 19.7 .2-13.1 .2 12.9 .2-112.1 .4 112.6 .2-30 .2 29.7 .3-47.9 .2 47.9 .2-42.9 .2 43.1 .2-68 .4 67.5 .2-6.4 .3 6.5 .2-18.8 .2 18.6 .2-21.4 .4 22.2 .2-12.7 .3 11.7 .2-8.8 .3 8.8 .2-7.7 .2 8.4 .2-81.3 .3 81.4 .3-48.2 .2 47.7 .2-59.1 .3 59.4 .2-32.7 .2 32.7 .2-97.5 .4 97.2 .2-51.6 .3 51.3 .2-83.5 .2 84.3 .2-122.6 .4 121.9 .2-40.7 .2 41.5 .3-72.3 .2 72.2 .3-48.6 .1 47.8 .2-90.2 .4 91 .3-22.2 .2 21.6 .3-17.4 .2 17.3 .2-29 .4 28.8 .2-7.2 .3 7.5 .2-16 .3 16.7 .3-10.7 .3 10.4 .2-17 .2 16.7 .2-61.8 .5 61.4 .2-31.8 .3 31.9 .2-15.7 .3 16.6 .3-40.8 .3 39.9 .2-23.5 .2 23.4 .2-85.9 .4 86.8 .2-16.9 .3 16.1 .2-16 .2 16.3 .3-7.4 .1 7.9 .2-31.6 .4 31.7 .3-10.5 .2 10 .3-23.3 .2 23 .3-21.3 .2 22.1 .2-21.8 .2 21.9 .2-104.6 .4 104.2 .3-16.1 .3 16 .2-10.9 .3 11.4 .2-33.3 .2 33.1 .2-43.1 .5 42.7 .2-30.5 .3 30.4 .2-21.9 .3 22 .3-13.5 .3 13.2 .2-11.1 .3 11.8 .3-26.2 .2 25.3 .2-40.3 .4 41 .2-7.6 .2 7.5 .3-8.3 .2 7.9 .2-4.4 .2 5.2 .2-11.6 .4 10.6 .3-5.1 .3 5.9 .2-5.2 .3 4.5 .3-6.6 .3 7.6 .2-8.7 .3 8.6 .2-6.1 .3 5.9 .2-83.6 .4 83 .2-59.5 .3 60.4 .2-47.2 .2 47.1 .2-80.6 .4 80.4 .2-23.1 .2 23.2 .3-14.8 .2 14 .3-19.4 .1 19.7 .2-31.1 .4 31.4 .2-4.8 .2 4.6 .3-15.2 .2 15 .2-12.8 .2 13.5 .3-15.8 .1 15 .2-17.5 .4 17.6 .3-11.1 .3 11.3 .2-7.1 .3 7.6 .2-7.6 .3 6.9 .3-4.1 .2 4.8 .2-63.3 .3 62.8 .3-23.4 .2 23.1 .2-27.1 .3 27.3 .2-12.6 .2 12.9 .3-23.4 .1 22.8 .2-42.3 .4 43.3 .3-1.7 .3 1.4 .2-4.2 .3 4.2 .2-2.4 .3 2.1 .3-2.3 .2 2.8 .2-7.8 .4 6.9 .2-1.5 .3 1.8 .2-5 .3 5.4 .2-4.2 .3 4.4 .2-1.7 .2 1.4 .2-43.9 .3 43.3 .3-32.7 .2 33 .2-15.7 .3 15.7 .2-26.3 .2 27 .2-49.1 .3 48.6 .3-30.4 .2 29.9 .3-11.7 .2 11.6 .2-11.4 .2 12.3 .2-149.5 .4 149.7 .2-14 .2 14 .3-16.3 .2 15.7 .3-14.6 .2 14.5 .2-12.1 .3 12.5 .2-4.8 .2 4.9 .2-20.1 .3 19.3 .3-9.9 .2 10.2 .3-15.2 .2 15.1 .2-5.4 .2 6 .2-35.5 .3 35.2 .3-15.9 .2 15.9 .2-13.7 .3 13.5 .2-23.5 .2 23.5 .3-13 .1 13.2 .2-69.3 .1 69.2 .2-32.6-.1 32.7 .2-69.3 .3 69.7 .3-30.9 .2 30.1 .2-20 .3 20.8 .2-28.6 .2 28.1 .2-49.4 .3 49.4 .3-7.7 .2 7.6 .3-3.8 .2 3.9 .2-2.1 .2 2.1 .2-10.1 .4 10.7 .2-7.4 .3 6.6 .2-8 .2 7.7 .2-30.7 .4 31 .3-11.6 .2 12.2 .3-27.6 .2 26.8 .2-273.2 .3 273.6 .2-42.5 .3 42.5 .2-27.6 .2 27.8 .3-27.6 .2 27.8 .2-18.3 .2 17.7 .2-71.3 .3 71.7 .3-28.4 .2 27.8 .2-32.6 .3 32.8 .2-14.2 .2 13.9 .2-48.9 .3 49.7 .3-9.3 .2 8.9 .2-8.6 .2 9.2 .3-15.9 .2 15.5 .2-8.7 .2 8.7 .2-25.6 .3 26.1 .3-19.4 .2 18.5 .2-7.2 .3 7.5 .2-20.9 .3 20.6 .2-7.5 .2 8.1 .3-14.5 .1 14.5 .2-63.1 .4 63.3 .2-26.1 .3 26 .2-52.1 .3 51.3 .2-50.9 .2 51.1 .2-72.8 .3 72.7 .2-9.5 .3 10 .2-10.2 .2 9.8 .3-2.7 .2 2.7 .2-7.3 .2 7.5 .2-14 .4 14.2 .2-5.6 .3 5.7 .2-10.1 .2 9.6 .2-75.1 .4 75.6 .2-18.9 .3 18.4 .2-57.1 .2 57.9 .2-110.4 .4 109.7 .2-41.3 .2 41.5 .3-25.8 .2 25.4 .2-32.5 .2 32.8 .3-18.5 .1 19 .2-52.8 .4 52.5 .2-14.6 .2 14.6 .3-11.4 .2 11.7 .2-34 .2 33.7 .3-23.7 .1 23.7 .2-41 .4 41.2 .3-9.5 .2 8.7 .3-3.4 .2 3.7 .2-15.8 .3 16.2 .3-7.9 .2 8 .2-13.6 .3 12.9 .2-10.7 .2 11.4 .2-78.6 .3 77.9 .3-37.6 .2 38.2 .2-37.3 .2 36.6 .3-20.4 .2 21.2 .2-39.9 .2 39.1 .2-47.1 .4 48 .2-3.4 .3 2.7 .2-3.5 .2 3.8 .3-4.8 .2 5 .3-3.6 .2 3.7 .2-8.6 .3 8.3 .3-5.7 .2 5.8 .3-2.1 .2 1.9 .3-3.3 .2 3.2 .3-7 .2 6.8 .2-30.5 .3 30.4 .3-7 .2 7.4 .2-6.1 .3 5.7 .2-13.2 .2 14 .2-20.1 .3 19.9 .3-17.2 .2 17.3 .3-16.4 .2 16.7 .2-12.6 .2 12.6 .2-68.6 .3 68.1 .3-15.4 .2 15.1 .3-39.1 .2 39.1 .2-34.9 .2 34.8 .2-46.2 .4 46.4 .2-9 .2 9.2 .3-4 .2 4.3 .3-5.2 .1 5.2 .2-18.2 .3 18.3 .3-13.5 .2 13.6 .2-6.2 .2 6 .2-148.5 .3 148.1 .3-39.4 .2 39.6 .2-21.1 .3 20.9 .2-39.6 .2 39.4 .2-55.9 .4 56.5 .2-48.2 .3 47.6 .2-18.3 .3 18.3 .2-23.9 .3 23.7 .2-15.5 .2 15.9 .2-65.3 .3 65.7 .2-26.8 .3 26.5 .2-22.2 .2 22.3 .3-43.6 .2 43.8 .2-41.5 .2 40.9 .2-52.1 .4 52.1 .2-27.8 .3 28.3 .3-21.7 .3 21.5 .2-29.4 .3 29.7 .2-12.8 .3 12.5 .2-52.8 .3 52.8 .2-36.1 .3 36.1 .2-27.9 .2 27.9 .3-19.4 .2 19.5 .2-23.3 .2 23 .2-48.4 .4 49 .2-17.3 .3 17.3 .2-35 .3 34.2 .3-38.5 .3 39.1 .2-29.9 .2 29.2 .2-53.8 .4 53.7 .3-12.4 .2 12.8 .3-5.6 .2 5.7 .2-17.8 .3 18.1 .3-14 .2 14.2 .2-15.5 .3 15.5 .2-7.4 .2 6.8 .2-194.6 .3 195.2 .3-23.2 .2 22.2 .3-49.2 .2 49.9 .2-26.1 .2 25.8 .2-80.9 .4 80.8 .3-61.5 .3 61.5 .2-48.1 .3 48.8 .2-69.2 .3 69 .3-59.4 .2 59.4 .2-85.6 .4 84.9 .2-44.2 .3 45 .2-58.4 .3 58.5 .2-44.7 .3 44.3 .2-59.2 .2 59.1 .2-71.5 .3 71.7 .3-62.1 .2 62 .2-55.7 .2 56 .3-28.8 .2 28.5 .2-46.5 .2 46.4 .2-287.6 .4 287.4 .2-62.7 .3 62.5 .2-55.1 .2 55.7 .2-131.1 .4 130.5 .2-43.3 .2 44.1 .3-40.7 .2 40.5 .3-32.9 .1 32.9 .2-50.6 .4 50.3 .2-30.3 .3 30.5 .2-20.6 .3 20.1 .2-11.7 .3 12.3 .2-29.5 .2 28.8 .2-46 .4 46.2 .2-13.2 .2 14 .3-30.6 .2 30.2 .2-29.7 .2 29.7 .3-11.8 .1 11.9 .2-43.9 .4 43.7 .2-29.2 .2 29.2 .3-22.9 .2 23.3 .3-37 .1 36.4 .2-109.6 .4 109.5 .2-25.3 .3 26 .2-31.9 .2 31.4 .3-19.4 .1 19.1 .2-38.5 .4 38.8 .2-19.5 .3 19.5 .2-11.1 .3 10.8 .2-29.5 .2 30.4 .2-46.1 .3 46.1 .3-40.1 .2 39.3 .2-11.4 .3 11.7 .2-17.6 .2 17.5 .2-46.8 .3 46.8 .3-29.2 .2 28.8 .3-31.4 .2 32.4 .2-40.1 .2 39.3 .2-86.5 .3 86.5 .3-28.7 .2 28.7 .2-63.4 .3 63.9 .2-60.9 .2 60.3 .3-75.7 .1 76.4 .2-169.9 .4 169.5 .2-16.6 .2 17.3 .3-29.5 .2 29.3 .2-26.8 .2 26.4 .2-36 .4 36.6 .2-11.1 .2 10.6 .3-14.2 .2 14.3 .3-10.3 .1 10.6 .2-31.7 .4 30.8 .2-21.9 .3 22.3 .2-15.9 .3 15.8 .2-16.2 .3 16.1 .2-26.1 .2 26.3 .2-102.1 .4 102.1 .2-49.4 .3 49.9 .2-44.2 .2 44.2 .3-87.2 .1 87.2 .2-106.8 .4 105.8 .3-82 .3 82.3 .2-89.5 .3 89.6 .2-78.6 .2 78.6 .2-106.2 .4 106.1 .2-22.9 .2 23.1 .2-21.8 .2 22.4 .3-44.7 .1 44.4 .2-52.6 .3 52.4 .3-20.3 .2 20.8 .3-39.6 .2 39 .3-35 .2 35.5 .3-36.9 .2 37 .2-100.8 .3 100.8 .2-28.7 .3 28.4 .2-34.9 .2 34.9 .3-33.6 .2 32.9 .2-70.7 .2 71 .2-81.9 .3 81.6 .3-30.2 .2 31.1 .2-33.1 .3 32.4 .2-61.2 .2 61.3 .2-79 .3 79 .2-22.5 .3 22.3 .2-9.3 .2 10.1 .3-17.7 .2 17.2 .2-26.3 .2 26.3 .2-30.3 .3 29.9 .3-19.5 .2 20 .3-8.1 .2 7.6 .3-7.3 .2 8.2 .3-7.2 .2 6.9 .2-62.1 .3 62.1 .3-47.2 .2 46.7 .2-30.7 .3 31.1 .2-34.8 .3 34.7 .2-31.2 .2 31.6 .3-26.2 .1 26.1 .2-92.8 .4 93.1 .3-25.4 .3 25.3 .2-34.5 .3 33.8 .2-55.8 .2 55.9 .2-141.3 .4 141.7 .2-76 .2 75.3 .2-40.6 .2 40.8 .3-59.8 .1 60.6 .2-102.7 .3 101.8 .3-27.1 .2 27.7 .2-49.4 .3 49.5 .2-27.6 .2 27 .2-174.3 .3 175 .3-40 .2 39.4 .3-54.9 .2 55 .2-26.1 .2 25.9 .2-91.4 .3 91.7 .3-16 .2 15.8 .2-23.4 .3 23.5 .2-24.3 .2 24 .3-34.2 .1 34.6 .2-62 .4 62.3 .2-28.8 .3 28.2 .2-37.8 .3 38.5 .2-26.8 .3 26.2 .2-28.5 .2 29 .2-168.2 .3 167.4 .3-28.3 .2 28.4 .3-54.2 .2 54.8 .2-37.6 .2 37.9 .2-70.1 .3 69 .3-52.8 .2 53.7 .2-26.1 .3 26 .2-35.8 .2 35.4 .3-51.9 .1 52.5 .2-117.6 .4 116.9 .3-10.9 .2 10.8 .3-28.8 .3 29.3 .2-21.2 .2 21.6 .2-36.6 .4 35.6 .2-11.8 .3 11.7 .2-9.7 .2 9.9 .3-24.3 .1 24.5 .2-43.6 .3 43.3 .3-37.7 .2 38.6 .2-11 .2 11 .2-13.2 .2 12.9 .2-85.1 .4 85.2 .2-54.5 .3 53.8 .2-39.1 .3 40 .3-30.6 .2 30.3 .2-87 .3 86.5 .2-27.6 .3 27.6 .2-26.1 .2 26.6 .3-12.3 .2 11.6 .2-26 .2 26.5 .2-50.4 .3 50.3 .3-22.2 .2 22.6 .3-14.3 .2 14.1 .3-12 .2 11.9 .3-14.5 .2 14.1 .2-80.3 .3 81 .2-59 .3 58.7 .2-35 .2 35.2 .3-44.9 .2 45 .2-56.4 .2 56.2 .2-68.7 .3 68.6 .2-31.2 .2 30.9 .2-30.9 .2 31 .3-20.3 .1 20.5 .2-52.3 .3 52.4 .3-35.3 .2 35 .2-15.2 .3 14.9 .2-17 .2 17 .2-48 .3 48.5 .3-13.6 .2 13.1 .3-9.7 .2 10.7 .2-7.8 .2 7.2 .2-23.5 .3 23.3 .3-14 .2 14.2 .3-11.2 .2 11.2 .2-6.8 .2 7.1 .2-69.7 .4 69.4 .2-19.1 .2 19.7 .3-23.5 .2 22.8 .3-41.3 .1 42.1 .2-284.8 .4 284.3 .2-87.3 .3 87.6 .2-63.2 .2 62.7 .3-32.1 .1 32.1 .2-112.6 .4 112.5 .2-40.2 .3 41 .2-51.5 .3 51.4 .2-38 .2 37.8 .2-76.6 .3 76.2 .2-16.5 .2 17.2 .3-19.1 .1 18.1 .2-25.1 .4 25.6 .2-11.3 .3 11.2 .2-14.6 .2 14.4 .2-136.4 .4 136.2 .3-64.9 .2 65 .3-89.5 .2 90.1 .2-287.9 .3 288.2 .2-94.4 .2 94.3 .2-123.4 .2 123 .3-111.5 .1 111.8 .2-173.8 .4 173.5 .2-30.7 .3 30.6 .2-47.6 .2 47.1 .2-103.5 .4 103.9 .2-6.3 .3 6.2 .2-8.5 .2 8.6 .3-5.5 .1 5.6 .2-25.5 .4 25.7 .2-11.5 .3 11.8 .2-15.7 .3 14.8 .2-19.5 .2 20.1 .3-17.4 .2 17.1 .3-7.9 .1 8.2 .2-87.4 .4 87.2 .2-44.8 .2 45.1 .3-32.1 .2 31.7 .3-16.2 .1 15.9 .2-51.9 .4 52.3 .2-37.1 .3 36.8 .2-17.1 .2 17.1 .3-23.1 .1 23.3 .2-74.8 .4 75.1 .2-4.9 .3 4.9 .2-4 .3 3.4 .2-6.2 .2 6.4 .2-9.9 .3 10.6 .3-8.7 .2 8.6 .2-7.1 .3 6.8 .2-6.1 .2 5.6 .2-66.8 .3 67.7 .3-15.7 .2 15.5 .3-32.7 .2 32.5 .2-28.1 .2 28 .2-47.5 .4 48.1 .2-24.1 .3 24.1 .2-37.3 .3 37 .2-26.3 .3 25.8 .2-40.4 .2 41.2 .2-66.7 .3 66.2 .3-24.2 .2 23.9 .3-11.3 .2 11.1 .2-7.3 .2 7.2 .2-32.6 .4 33.4 .2-17.1 .3 17.3 .3-17.8 .3 17.1 .2-15.2 .2 14.9 .2-56.6 .4 57.3 .2-34.8 .3 34.2 .2-20.4 .3 21.2 .2-36 .3 35.3 .2-47.6 .2 47.6 .2-65.4 .4 65.3 .2-16.9 .3 17.8 .3-20.2 .3 20.1 .2-11.8 .2 11.7 .2-38.2 .4 38.4 .2-10.7 .2 10.5 .3-5.6 .2 5.7 .3-14.5 .1 14.3 .2-18 .4 17.9 .2-9.2 .2 8.6 .3-10.3 .2 10.4 .2-13.6 .2 14.1 .3-5 .1 4.6 .2-30.9 .4 31.1 .2-25.5 .2 25.1 .3-19.5 .2 19.9 .2-25.2 .2 25.8 .3-19.4 .1 18.6 .2-77.3 .4 77.4 .2-48.8 .2 49.3 .3-39.9 .2 39.7 .2-55.9 .2 56.3 .3-65.9 .1 65.9 .2-109.3 .4 108.5 .3-12.4 .2 12.4 .3-21.3 .2 21.7 .2-48.6 .4 48.8 .2-27.9 .3 27.8 .2-16.8 .3 16.1 .3-29.4 .2 30.2 .2-144.6 .3 144.1 .2-37.9 .3 37.6 .2-32.8 .2 33 .3-45.4 .2 45.8 .2-57 .2 57.3 .2-130.3 .3 129.4 .3-57.8 .2 58.1 .2-29.9 .3 29.7 .2-51.1 .2 51.6 .2-80.2 .3 80.7 .3-21.4 .2 20.8 .3-51.7 .2 51.9 .2-41.6 .2 41.5 .2-65.8 .4 66 .2-28.4 .2 28.1 .3-15.5 .2 15.6 .2-23.5 .2 23.6 .2-40 .3 39.4 .3-14.9 .2 15.1 .2-33.2 .2 33.2 .2-23.5 .1 23.5 .2-87.5 .4 87.8 .3-30.5 .3 30.4 .2-15 .3 15.4 .2-18.1 .2 18 .2-37.3 .4 37.6 .2-31.9 .3 31.5 .2-26.7 .3 26.9 .2-24.9 .2 24.2 .2-38.6 .3 38.9 .3-17.7 .2 17.3 .2-24.9 .3 24.9 .2-14.9 .2 15.1 .2-34.9 .3 34.7 .2-26.7 .2 27.3 .3-18.7 .1 18.5 .2-171.5 .4 171 .2-121.5 .3 122.3 .2-64.9 .3 64.3 .2-112.6 .3 113.4 .2-94.8 .2 94.3 .2-167.3 .4 167 .2-39.7 .2 40 .3-29.7 .2 29.6 .3-37.3 .1 38 .2-78.8 .4 78 .2-30.3 .3 30.5 .2-27.2 .2 26.9 .3-39.4 .1 39.3 .2-50.9 .4 51.7 .2-18.3 .3 17.6 .2-43.6 .3 43.9 .2-17.9 .2 18.2 .2-133.1 .3 133.2 .3-37.7 .2 37.7 .2-33.3 .3 33.1 .2-37.3 .2 37.1 .2-250.6 .4 251.1 .2-87.1 .3 86.5 .2-103.1 .2 103.5 .2-118.7 .4 118.6 .2-96.3 .2 95.7 .3-64.6 .2 65.2 .3-76.8 .1 77.1 .2-171.6 .3 171 .3-22.5 .2 22.4 .2-16 .2 15.8 .2-31.7 .1 32.4 .2-50.7 .4 50.9 .2-22.2 .2 21.6 .2-40.5 .2 40.4 .3-15.2 .1 16 .2-188.6 .3 187.9 .2-64.2 .2 64.1 .2-117.6 .2 118 .3-138 .1 138.2 .2-167.3 .4 166.9 .2-23.1 .3 23.3 .2-34.4 .2 33.8 .2-74.9 .3 75.1 .3-55.6 .2 56 .2-21.4 .2 21.8 .2-43 .1 42.6 .2-149.8 .5 150 .2-50.1 .3 50 .2-67.4 .3 66.8 .3-40.8 .2 40.7 .2-95 .3 96 .2-24.7 .2 24.2 .3-37.2 .1 36.7 .2-66.3 .4 66.7 .2-20.1 .3 19.8 .2-55.2 .2 55.1 .2-98.8 .4 99.5 .3-53.5 .2 53.2 .3-47.5 .2 48 .2-116.6 .3 116.1 .2-35.4 .2 35.7 .2-29.6 .2 29.3 .3-46 .1 46.4 .2-78.6 .3 78.6 .3-50.7 .2 50.4 .3-21.9 .2 21.6 .2-59.6 .2 60.1 .2-77.5 .3 76.8 .3-65.9 .2 65.9 .2-27.7 .3 27.8 .2-58.3 .2 58.3 .3-43.5 .1 43.9 .2-142.1 .4 142.3 .2-52.6 .3 52.1 .2-55.2 .2 54.9 .2-78.6 .3 78.8 .2-4.7 .2 4.9 .2-6.7 .1 7.1 .2-18.1 .3 18.3 .3-2.3 .1 1.7 .2-2.4 .4 2.1 .3-.5 .2 .9 .3-.9 .2 .8 .3-.8 .2 .7 .3-.7 .2 .5 .3-.5 .2 .5 .3-.5 .2 .7 .3-.7 .2 1.1 .2-.8 .1 .8 .3-1.1-.1 .8 .2-71.4 .4 71.1 .2-52.6 .2 53.1 .2-205.1 .4 205.3 .2-54.7 .3 54.8 .2-26.3 .2 26 .2-79.2 .4 78.8 .2-60.6 .3 60.7 .2-40.7 .3 40.5 .2-47.9 .2 48.6 .2-100.9 .3 101.1 .2-23 .3 22.3 .2-52.6 .2 52.8 .3-26.3 .2 26.5 .2-49.2 .2 49.2 .2-61.1 .3 60.9 .2-34.7 .3 34.6 .2-53.3 .3 53.5 .2-38.2 .2 37.7 .2-132.4 .3 132.5 .3-41.3 .2 41.7 .3-55 .2 54.8 .3-41.8 .2 42.1 .3-57.9 .2 57.8 .2-167.8 .3 167.8 .2-60.3 .2 60.7 .2-58 .2 57.5 .3-23.3 .1 23.7 .2-85.7 .4 84.9 .2-31.6 .3 31.8 .2-48.7 .2 49 .2-174.6 .3 174.5 .3-68.6 .2 68.2 .2-151.9 .2 151.9 .2-287.2 .3 287.3 .3-33.9 .3 34.5 .2-73.1 .2 72.5 .2-106.6 .3 106.6 .3-52.1 .2 52.5 .2-60 .1 60.3 .2-85.7 .4 85.7 .3-58.4 .2 58.4 .3-42.7 .2 42.1 .2-126.4 .4 126.6 .2-88.2 .3 88.5 .2-74.6 .3 74.7 .3-78.4 .2 78.4 .2-164.2 .3 163.6 .2-25.4 .2 26.1 .3-50.8 .1 50.5 .3-48.4 .1 47.8 .2-64.4 .3 64.9 .3-45.3 .2 45.4 .2-24 .1 23.4 .2-51.9 .2 52.4" fill="none" stroke="#1f77b4" stroke-width="1.75" stroke-linejoin="round" />
<rect x="53.60" y="1295.40" width="486.80" height="316.90" fill="none" stroke="#000" stroke-width="0.833"/>
<text x="297.00" y="1288.90" font-size="12.88" text-anchor="middle" textLength="69.14" lengthAdjust="spacingAndGlyphs">buyVolume</text>
<line x1="80.12" y1="1612.30" x2="80.12" y2="1616.40" stroke="#000" stroke-width="0.833"/>
<text x="80.12" y="1628.15" font-size="10.72" text-anchor="middle" textLength="42.95" lengthAdjust="spacingAndGlyphs">2023-05</text>
<line x1="154.98" y1="1612.30" x2="154.98" y2="1616.40" stroke="#000" stroke-width="0.833"/>
<text x="154.98" y="1628.15" font-size="10.72" text-anchor="middle" textLength="42.95" lengthAdjust="spacingAndGlyphs">2023-07</text>
<line x1="231.07" y1="1612.30" x2="231.07" y2="1616.40" stroke="#000" stroke-width="0.833"/>
<text x="231.07" y="1628.15" font-size="10.72" text-anchor="middle" textLength="42.95" lengthAdjust="spacingAndGlyphs">2023-09</text>
<line x1="305.93" y1="1612.30" x2="305.93" y2="1616.40" stroke="#000" stroke-width="0.833"/>
<text x="305.93" y="1628.15" font-size="10.72" text-anchor="middle" textLength="42.95" lengthAdjust="spacingAndGlyphs">2023-11</text>
<line x1="380.79" y1="1612.30" x2="380.79" y2="1616.40" stroke="#000" stroke-width="0.833"/>
<text x="380.79" y="1628.15" font-size="10.72" text-anchor="middle" textLength="42.95" lengthAdjust="spacingAndGlyphs">2024-01</text>
<line x1="454.42" y1="1612.30" x2="454.42" y2="1616.40" stroke="#000" stroke-width="0.833"/>
<text x="454.42" y="1628.15" font-size="10.72" text-anchor="middle" textLength="42.95" lengthAdjust="spacingAndGlyphs">2024-03</text>
<line x1="529.28" y1="1612.30" x2="529.28" y2="1616.40" stroke="#000" stroke-width="0.833"/>
<text x="529.28" y="1628.15" font-size="10.72" text-anchor="middle" textLength="42.95" lengthAdjust="spacingAndGlyphs">2024-05</text>
<text x="297.00" y="1643.31" font-size="10.72" text-anchor="middle" textLength="24.34" lengthAdjust="spacingAndGlyphs">Date</text>
<line x1="49.50" y1="1598.00" x2="53.60" y2="1598.00" stroke="#000" stroke-width="0.833"/>
<text x="45.30" y="1602.20" font-size="10.72" text-anchor="end" textLength="22.64" lengthAdjust="spacingAndGlyphs">0.00</text>
<line x1="49.50" y1="1560.78" x2="53.60" y2="1560.78" stroke="#000" stroke-width="0.833"/>
<text x="45.30" y="1564.98" font-size="10.72" text-anchor="end" textLength="22.64" lengthAdjust="spacingAndGlyphs">0.25</text>
<line x1="49.50" y1="1523.56" x2="53.60" y2="1523.56" stroke="#000" stroke-width="0.833"/>
<text x="45.30" y="1527.76" font-size="10.72" text-anchor="end" textLength="22.64" lengthAdjust="spacingAndGlyphs">0.50</text>
<line x1="49.50" y1="1486.34" x2="53.60" y2="1486.34" stroke="#000" stroke-width="0.833"/>
<text x="45.30" y="1490.54" font-size="10.72" text-anchor="end" textLength="22.64" lengthAdjust="spacingAndGlyphs">0.75</text>
<line x1="49.50" y1="1449.12" x2="53.60" y2="1449.12" stroke="#000" stroke-width="0.833"/>
<text x="45.30" y="1453.32" font-size="10.72" text-anchor="end" textLength="22.64" lengthAdjust="spacingAndGlyphs">1.00</text>
<line x1="49.50" y1="1411.90" x2="53.60" y2="1411.90" stroke="#000" stroke-width="0.833"/>
<text x="45.30" y="1416.10" font-size="10.72" text-anchor="end" textLength="22.64" lengthAdjust="spacingAndGlyphs">1.25</text>
<line x1="49.50" y1="1374.68" x2="53.60" y2="1374.68" stroke="#000" stroke-width="0.833"/>
<text x="45.30" y="1378.88" font-size="10.72" text-anchor="end" textLength="22.64" lengthAdjust="spacingAndGlyphs">1.50</text>
<line x1="49.50" y1="1337.46" x2="53.60" y2="1337.46" stroke="#000" stroke-width="0.833"/>
<text x="45.30" y="1341.66" font-size="10.72" text-anchor="end" textLength="22.64" lengthAdjust="spacingAndGlyphs">1.75</text>
<line x1="49.50" y1="1300.24" x2="53.60" y2="1300.24" stroke="#000" stroke-width="0.833"/>
<text x="45.30" y="1304.44" font-size="10.72" text-anchor="end" textLength="22.64" lengthAdjust="spacingAndGlyphs">2.00</text>
<text x="15.63" y="1454.75" font-size="10.72" text-anchor="middle" textLength="28.05" lengthAdjust="spacingAndGlyphs" transform="rotate(-90 15.63 1454.75)">Value</text>
<text x="53.91" y="1292.20" font-size="10.72" text-anchor="start" textLength="19.12" lengthAdjust="spacingAndGlyphs">1e9</text>
<rect x="58.80" y="1300.60" width="149.66" height="19.12" rx="2.10" fill="#fff" fill-opacity="0.8" stroke="#ccc" stroke-opacity="0.8" stroke-width="1.04"/>
<line x1="62.97" y1="1309.22" x2="83.81" y2="1309.22" stroke="#1f77b4" stroke-width="1.56" stroke-linecap="square"/>
<text x="92.42" y="1312.73" font-size="10.72" text-anchor="start" textLength="109.97" lengthAdjust="spacingAndGlyphs">BuyingOrderQuantity</text>
<path d="M82.3 998.2l-.3-1.6 .5-3.1-.4-1.2 .7-3.3-.3-3.3-.5-1.8 .7-3.4 .2-1.7-.5-3 .8 .3-.1-2.8-.8-3.3 .5-3.1 .5-1.4-.8-.7 0-1.9 .4-3.6-.1-2.6-.1-3.9 .8-1.6-.1-2.3 .3 .1-.5-3.7 .5 3.2 .1 2.2-.3 1.4 1 1.2 .3 4.8-.3 .4 .2 2.4 .3 2.6 .8-2.6-.9-3.4 1 1 0-4.1 .2-1.4 .2-3.1-.3 2.7 .4 2.5-.3 .7 .2 5.1 0 1.2 0 .6-.2 5 .8 .8-.1 3.4 .3 3.4-.5 2.5 .6 1 0 2-.5 1.5 .6 2.1-.9 4.7 .8 1.2 .1 .8-.6 3.3 .2 1.9-.3 3 .9 4.7-.1 .6-.5 4.1 .3 1.6-.5 .5 .9 4.5 .1 1.6-.5 2.4 .6 1.3-.4 3.1 .1 1.5 .4 1.4 0 5.7-.7 1 .8 3.2 0 .2-.1 4.8 .6-.6-.8 2.2 0 3.5 .2 3.9 .7-.4 0 3 0 2 .1 3.3-.3-3.5 .2-.4 .3-4.8 .2 .7 .1-2.7-.8-3.5 .2-1.2 .1-2.5 .2-2.4 .1-4.7 .1-1.4 .6-2.4-.4-1.4 .6-4-.3-.8 .2-.7-.5-3.3 .3-2.8-.4-1.4 1-4-.6-.1-.2-5.6 0 .3 .8-3.6-.2-2.2 .2-4 .1-.8 0-2.5-.1-2.9-.3-1.6 .4-1.3 .7-2.2-.3-4.1 0-1.4 .4-.6-.5-4.1 .5-1.4 .5-2.1-.1-2.4-.1-3.2 .3-1.1 .1-3-.4-1.5 .2-3.5 .6-1.1 .3-5.8-.7-1.3 .2-3 .2-2.6-.2 .8 .6-4.1-.6-.6 .7-5.1-.3-.8 .3-2.9 .2 1.5 .4 2.6-.8 4.3 0 1.8 .1 2 .1 1.6 .7 2.7-.5 2.9-.1 .8 .2 2.8-.2 4.8-.2 1.8 1.1 2-1 1.7 .1 2.8 .7 1-.7 3.5 .1 1.5 .5 4.5-.1-.4 .5 4.9-.2-.4-.4 3.6 .5 1.8 .3 4.6 .2 2.5-1 1.3 .6 2.1-.4 3.8 .8 1.9-.6-.1 .8 4.3-.2 1.9 .3 1.9-.6 2.5 .1 3.4 .7 .4-.8 3.9 .7 1.3-.4 1.9-.2 4 .8 2.9-.5 .4 .4 3.9 .5 2.5-.5 2.9 .4 1.8-.7 3.4 .2-.4 .2 4.1 .4 1.1 .1 3.5-.5 3.7 .7 2.5 0-.1 .1 4.9-.2 2.4 .5 .5 0 4.3-.1-1-.4 4.6 .3 2.9 .1 .2 .4 3.7 0 1.2 .2 3.6-.2 3.1 .1 1-.3 2.8-.4-2.6 .2-1.8 .8-3-.6-3.5 .4-.3-.3-2 .3-4.3 .9-.8 .1-2.4-.8-3.3 .5-.8 .5-1.9-.1-4.1-.1-1.9 .2-2.7 .1-1.6 .1-2.2-.4 3.4 .7 2.2 .3 2 .3 1-.5 .9 .4 4.3 0 3.7-.4-.5 .7 4.4-.1-.5-.1 5 .3 .9 .1 2.4 0-1.8 .4-2 .5-2-.4-4 .6-.3 .3-4.4 .1 .3-.7-4.3 .6-1.6 .4-3.3 .5-1.7 .1-1.9-.2-2.4 .5-.3 0-2.2 .6-2.7 0-1.6 .3-3.8 0-2.6 .8-.9-.3-.4 .6-3.5 .3 .5 .2 4.4-.2 1.9 .6 1.9-.2 3.2-.2 1.2 .5 3.3-.2 1.9-.1 3.2-.1 1.8 .5 .8 .2 3.2 .2-2-.4-2.6 .2-1.2 .3-4.1 0-3.3 0-1.9 .6 .1-.3-4.9 .5-2.3-.1 0 .3-3.3-.3-1.6 .5-4.5-.3-.5-.1-3.7 .6-.1 0-2.9-.5-3.6 .4-.1 .1-2.8-.2-3.3 1-1.4-.3-4.4 0-1.2 .5 .8 0 4.9-.2 1.4-.6 1.6 .6 3.5-.3 2.8-.3 .5 .1 2.5 .8 3.8-.7 .8 0 3.6 .4 .7-.1 4.6 .1 1.7 .3 1.6-.1 1.9-.4 2.8 .2 1.7-.1 4.5 .3-.3-.4 2.4 .9 2.8-.2 1.9 .1 3.1 .1 2.6-.4 1.4 .3 4.4 .1 1-.4 3.8 .6-.3-.3 3.6 .3-1.4 .2-1.6 .3-4.9 .3-2-.6 0-.1-4.4 .7-2.8-.3-.5 .5-2.5 .3-1.8-.1-3.7 .6-1.2 .3-3.5-.1-2.3 .5-1.8-.4-2.3 .1-4.3 .4-1 0 1.1-.4 2.2 .6 4.8-.4 2 .1 1.9 .3 2.2 .5 2.3-.3 3.5-.2 1 .7 4.2 .4 .3-.3 2.6 .1 4.3-.5 .6 .9 2.4-.4 2.9 .2-1.2-.4-2.5-.3-4 .2-2.4 .1-3.6 .7-1.8-.3-1 .3-1.4-.2-4.8 .2-2.6 .2-1.7-.7-2.7 .1-.3 .6-2.6-.1-4.2-.5-2.1 .2-.4 .6-5.2 0 .6-.5-3.2 .3-4.2-.1 .5 .3-2.7-.9-3.1 .5-1.7-.4-3.7 0-1.4 .7-5.2-.4-2 .3-.6-.6-1.3 1-4.2-.4-2.7 .1-2.2-.2-1.2-.2-4 .3-1.6 .4 1.3-.8 4.9 .2 .6 .2 1.8 0 3.4-.2 2.3 0 .8 .2 2.9 .2 2.6 .5 3.7-.3 2.8 .2 .7 0 4-.1 2.4 .2 3-.4 1.4 .8 1.9 0 .8-.2 3 .1 2.9-.2 1.8-.3 4.6 .4 1.5-.5 1.2 1 2-.5 4.2 0 1.8 0 2.2 .6 3.4-.7 1.1 .2 3.3 .4 .8 0 3-.7 1.9 .5 2 .4 5.3 .3 1 0 1.9-.3 3.8-.5 .5 .4 2.3 .1 1.3 .4 5.6-.5-.4 .2 4.6-.1 2.3 0 1.7 .4 2 .4-1.7-.6-1.4 1-4 .1-2-.6-3.1 .9-2.1-.8-3.5 .3-.8 .6-2.9 0-2.2 0-.6-.1-3.4-.1-2.9 .1-3.7 .2-2.4 .1-.3 .2-1.8 0-4.9 .3-1.2 .1-.3-.2-4.9-.1-1.4 0-3.8 .1-.3 .5-1.9 .1-2.2-.4-2.9-.4-1.8 .8-4.2-.2-2.3 .4-1.8-.3-2 .4-.8 .1-4.2-.4-.3 .7-5-.5-.1 .5-4.1-.2 .2-.3-4.8 .7 0 .4-3.8-.1-.5-.4-5 0-.2 0-3.2 1-3.5-.4-1.2 .2-2.2 .4-2.3-.4-.9 .3-5 .1-1.4 .3-.2-.5-4.3-.2-2.7 0-2.7 .7-2.7-.1-.3 .2-2.4 .3-3.3-.9-1.2 .3-.8 .8-3.4-.1-3.9-.3-1.8-.1-2.3 .2-1.8 .1 2.9-.5 1.9 .2 3.9 .5 1-.2 2.8 .4 3-.1 .1 .1 1.5 .2 3.3 0 1.7-.1 2.5-.5 2.7 .9 2.8-.3 3.8 .5 .4-.2 4.2 .1 .8-.3 3.9-.2 1.3 .5 3.7-.1 1-.2 2.7 .2 .3 .4 3.8 .3 3.2-.3 .6 .5 1.1 .2 2.9 .4 1.1-.6 2.1 .4 4.6-.4 3.3 .5-.2 .4 4.7-.7 2.5-.2 .5 .4 4.6-.1 .3-.1 4 .1 2.5 .2 1.3 .6 1.3-.4 3.8 .1 1.5 .2 2.1-.5 1.3 .5 4.4 .2 .9-.1 3.4-.1 3.8 0 1 .2 1.3 .3 3.7-.9 2.3 1.1 4.2-.6-.2 .1 3.2 .8 1.4-.7 2.1 .8 3.7-.2 1 .8 2.8 .4-2.8-.5-1 .4-2.3 .1-1.8 .2-1.6 .4-3.2-.2-2.6 0-4.2 .6 .4 0-2.1-.1-1.7 0-2.3 .2-4-.3-2.6 .8-.6 .2-2.3 0-2.5 .7-2.5-.6-1.9 .2-3.5 .8-1.4-.4 3.3 .1 2.2-.1 .5 .7 5-.6 1.2 .4 2.4-.4 .2 .1 5.5 .5 1.4-.4 2.6 .9 .7-.1 4.7 .2 1.3-.3 1.6 .2 2.3-.2 3.5 .5 2.9-1 .2 .3 3.1 .5 1.9-.2 3.1-.2 3 .1 3.6-.3 2.1 .6 .8-.6 3 .9 1.3-.1 3.1-.7 3.5 .3 1 .5 3.8 .2 .6 0 1.6-.3 3.3 0 2.7 .4-1.6-.2-2.1-.3-3.7-.2-2.7 .1-1.1-.1-1.7 .6-4.1-.5-2.4 .5-3.4 .5-1.6-.6-2.7 0-2.4 .5-3.2-.5-.5 .2-3.3 0-3.4-.1-1 .5-2.4-.4-1.6-.1-2.8-.1-2.1 .4-2.3 .4-1.8 .2-4.5 0-1.6-.6-2.3 .6-.6-.1-4.8-.7-2.7 .6-.6-.6-4.9 1-1.2-1-1.9 .1-1.2 .5-3.1 .5-4.1-.8 0 .5-3.7-.3-1.7 .7-1.2 0-2.3-.8-5.8 .8-1.6-.3-1.6 .5-2.5-.9-3.2 .9-.2-.9-1.9 .3-3.2 .3-1.9-.1-5.4 .1 .6-.1-2.5 .1-4.1-.1-2.9 .2 .3 .1-3.1-.1-3.4-.3 2 .5 2.4-.6 4.2 .2 1.6 .9 1.1-.7 2.5 .3 4.8-.4-.3 .9 2.5-.2 4-.7-.1 .8 5.6 0 .8-.6 2.6 0 1.7 0 3.1 .5 1.5-.2 1.6-.2 2.6 1.1 2.1-.3 3.9-.1 1.9 .5 4.2-.6 1 .6 1.4 0 4.1-.3 2.1 0 .8-.3 3.3 0 1.5 .6 3.6 .1 2.3 .2 1.8-.4 3.1 0 2.6 .4-3.5-.1-1.1 .2-3.1 0 .5-.4-2.3 1.1-4.1-.9-2.1 1.1-4-.1 .5-.6-2.8 .1-4.1 .6-1.5 .1-1.5 .2 2.4-.4 3.8-.2 2 .3 2.7 .4 .8-.4 3.8 .8 2.7-.3 2.3 .4 1.4-.5 2.1 0 3.2 .3 2.5 .4 2-.7 .9-.1 2.3 .2 2.3 .7 1.7 .2 5.3-.1-.1-.5 3.1 .4 4.1-.6-.7 .9 2.2 .2 2.9 .1 3.4-.4 3.7 .3 .9-.3 3.7-.2 .6 .3 3.1 .6-.9 .1-4.2-.4-3.2 .6-2.5-.5-2.3 .4 1.2-.3-5 .4-.6 .2-4.2 .5 .3-.4-5.3 .5-.7 0-.8-.2-5.2 .8-.1-.1-5 .2-2.2-.3-2.5 1.1-2.2-.4 .2-.2-3.9 .5-2 .5 2.6-.6 2.2 1 3.3 .1-.5-.9 4 .1 4 .4 .8 .8 1.9 0 1.4-.3 4.3 .2 1.6 0 1.1 .5 2.9 .2 2.2 0 1.6-.1 5.3 0 .4 .5 4.3-.1-.4-.8 3.7 .2 .3 .5 5.5-.2 1.9 .8 2.7-.9-.6 1 5.3-.7-.5 .6 2-.6 2.5 .6 3.5 .1-2.8 .3-3.1 .1 0-.5-3 .4-4 .3-1.2-.4-.8-.5-4.4 0-.7 .3-2.3 .6-1.4-.6-4.4 .7-2.2-.6-1.5 .7-3.1-.4-3.4 .1 .2 0-1.9 0-4 .5-.8 .1-4.1-.4-3.3 .2 .1-.4-4.1-.1-1.8 .5-2.2 0-.6 .3-2.6-.6-4.1 .6-3.7-.1-.4-.6-3.9 .8-2.5-.1-1.4-.3-.7 0-2.4 .5-3.5-.8-3.2 1-2.6-.4-2.6 .2-.6 .1-2.8-.8-1.6 .5-1.8 0-4.6-.1-1.6 .3-2.1 .2-2.7-.7-1.2 .5-4.9-.2 .1 .1-5 .3-.1-.7-2.5 .7-2.8 .2-2.5-1.1-2 .9-1.4 0-2.3 0-4.1-.3-2.2-.3 .9 .1 4.9 1 2.1 .2 .6-.1 .6-.3 3.5 0 1.9 .7 2.8 .9-3.1 .9-.6-.2-3.7 .4 .5 0-2.8 .4-1.8 .2-3.4-.7-3.4 .4-1.7 .4-1.6-.2-3.5 .6 .8 0-5.3 .1 .1-.1-3.3 .1-1.9 .4-2.9-.2-3.4 .2-.9-.7-2.2 .8-3-.6-1.3 .8-1.5-.7-4 .1-3.6 .2-1.8 0-.4 .1-1.8-.4-5.2-.1-.4 .3-4.1 .4 .4 .2-2.5 .2-3.8-.7-1.5 0-4.9 .2 .1 .3-3.5-.5-3.2 .6-1.2-.1-1.4 .1-1.9 .4-3.6-.6-2.4-.1-3.5 .6-1.4-.2-2.1-.3-2.6 .6-3.4-.1-.2 1.1-1.5 0-4.4 .2-2 .1-1.4-.1 1.5 .1 1.4 1.1 2.1 .2 4.3-.1 .1 .1 2.5 0 3.1 .2 2.3 .7 .9-.8 4 .8 2.5-.3 1.3 1 3-.3 .2 0 5.5 .7 .8-.1 .8 .1 2.9 .4 1.7 .1 4.5 .1 2.1-.2 1.6 .7 1.9 .2 2-.3 4.9 .3 .1 0 3.1 0-3.1 .5-2 .3-1.2 .1-2.9-.5-1.8 .3-4.6 .2-1.8-.3-2 1.1-.9-.5-2.6 .2-2.7 0 2.6-.1 3.3 .7 .8-.2 2 .3 4 .3-.4 .1 2.7-.8 3 .6 1.2 .1 5.3 .2 1.8-.6 .5 .2 2.4 .8 4.5-.6 .8 .3 2 .2-.6-.1-5.5-.3-2.2 .5-2.6 .3-2-.7-.5 .5-2.2 .2-3.7-.5-.7 .8-4.5-.6-1 1-2 0-1.4-.8-5.3 .5-2.6 .1 .2-.2-2.4 0-2.4-.1-4.8 0-.7 .1-2 .6-3.1-.1 3.9 0 2.1 .4 .7 .1 3.2-.2 1.8-.5 2.7 .4 2.1 .6 1.4-.1 3.8-.9 2.4 .2 2.2 .3 3.3 .5-.1 0 5.5-.8-.7 .4 2.2-.4 4.1 .1 2.7 .1 2.7 .4 .2 .1 5.5 .4-.8-.3 3.3-.3 2.9-.4 3 .5 2-.3-1.1 0-3.3 .6-4.5-.4-.7 .4-3.6-.3-2.1 .9-2.7 0-2.5 .1 0 .2-3.8 .1-2.2-.3-.9-.4-5.2 .6-1.8-.4-1.4 0-3.2 .1-3 .4-.9 1-.6 .3-3.1 .3-2.5 .3-2-.3-4.3-.1-1.6 .4 .3 0-4.7 .3-3.2 .1-2.5 .3 .2 .1-3.3-.3-2.7 .2-1.8-.3-1.4 .7-4.3-.7 .2 .2-4.6 .2-1.9 .1 1.6 0 2.3 0 4.2 .4 2.8 .2 0-.2 3.8-.1 1.6 .4 2.6 0 .7-.6 2.5 .5 3.5-.4 1.9 .2 2.2 0 3.5-.5 .9 .6 3.9 .1 2.6-.1 3 .4 .8-.2 3.5-.3 .4 .3 3.2-.5 2.3 1 3.6-.4 1.8-.1 0 .5 4.1-.2 2.6 .5 1.2-.5 3.9 .2 2.9-.2 .9-.4-1.3 0-4.1 .3-.6 .7-3.2-.4-2-.5-3.4 .5-3.5-.2-1.6-.1-2.6 .2-.7 .6-3.6-.1-.9-.7-4.2 .9-2.6-.3-.8 .3-1.6 0-4.7-.1 .4 0-2.2-.6-4.1 1-2.9-.7-2.4 .1-1.9 .1-3 .1 .1-.2-4.8 .7-.7-.1-1.6-.3-3.9 .5 1.7-1 3.9 .7 1.1 .3 3.8-.3 1.7-.2 .8-.1 4.3 .3 1.6 .2 3.8-.6-.7 .8 2.8-.2 3.4 .1 2.8-.3 2.3 .7 3.2-.5 1.9-.2 3.1-.3 1 .9 3.6-.2 .9 .1 3.3-.3 1.9-.1 .3-.1 2.7 .3 2.2 .5 4.3-.4 .6 0 4.8 .5 1.7-.4 2.9 .1 .5 .5 3.6-.4 1.7-.5 .8 .6 4.8 0 1.5-.3 2.5 .4 1.5-.2 3.1 .8 2.1-.2 2.4 .2 2.8-.8 3.3 .6-1 .3 4.9-.3 1.7-.3 2.8 .6 1.5 .3-1.2-.1-1.9 .1-5.6-.3-1.1 .3-2.6 0-.8 1-1.2-.5-3.9 .3-1.9 .4-2.9-.7-2.7 .6-1.6 .1-1.2 1.2-2.4 .6 2.5-.2 2.2 .4 .8-.4 2.8-.1 1.9 .5 2.6-.5 4.2-.2-.2 1 4-.7 .3 .6 4.8 .4 2.6-.5 .6 .4-3.8 0-1.1-.2-3.8-.5-.5 .7-3.3 .4-3 0 .7-.9-2.7 .7-3.7-.2-2 .6-1.5-.4-3.4-.3-2.1 .8-2-.3-3 .5-.9-.5-3 .4-3.8-.2-2.2 .2-2.3 .3-.9-.4-2.8 .1-3.4-.6-1.7 .3-2.3 0-3.3 .9-1.7-.2-3.2-.7-.3 .4-2-.4-3.4 .6-2.3 .2 1.3 .1 2.3-.6 2.2 0 3.2 .9 1.6-.5 2.9 0 4.3 .7-.4-.2 5.2-.6 .6 .1 2 .1 2.9 .2 3.3 .2 .1 .2 3.7 .3 3.3-.5 1.1 .6 4.5-.1 1-.2 1.8 0 2.5 0 1.8-.2 1.5 .6 3.8 .4-2.9 .2-2.8-.7 0 .2-3.2 .4-3.4-.6-3.7 .8-.4-.1-.9 .2-3.7-.8-2.5 .4-4.1-.4-1.5 .4-.4 .7-2.2-.7-2.7 .1-4.1 .3-3.5 .1-2.3 0 .1-.6-2.8 .6-3.4 .3-2.5-.6-2 .3-1-.2-3.9 .7-2.1-.4-3.5 0-1 .5-.7-.2-4.2 .3-2.5-.5-1.5 .7-4.1 0-2.9-.7-1.3 .9-2-.6-3.2 .2-1.5 0 2.6 .1 3.6-.5 1.8 1 2-.3 3.1 .2 .6-.5 4.3-.3 .9 .9 2.2-.5 2.5 0 3.6-.4 1.3 .4 4.2 .5 0-.6 4.9-.3 1.3 0 .9 .7 3.8 0 .8-.3 4.6-.1 1.3 .3 3.5 .3 2.2-.5 2.1 .6 .1-.1 3.7-.4 3.1 .5 3.3 0 2.5 .1 .9-.2 3.8-.1-.7-.2 4.6-.4 .4 .9 4.4-.9 2.7 .7 1 0 1.3-.5 4.6 .6 2.1-.3 .9-.3 5 .2 .5 .3 .9-.2 3.1-.3 5 .1 .1 .1 4.2 .7 1.8-.2 2.3-.7 2.6 1 3.2 0-.3-.2 5.5-.5-.2 .8 2.2-.9 4 .2 2.2 0 .9 .2 3.4 .4-2.4 .3-1.8-.2-3.4 .1-2.7 .7-.6 .4 1.6-.6 1.2 1.1 4.4-.6 2.9 .9-.4-.6 4.6 .8 .8-.1 3.1 .1 1.6 .1 4.1 .4 1.5 .5 3.2-.1-.9-.2 5.6 .3-1.2 .4 4.1 0 2.1 .5-2-.2-2.9 .1-2 .7-3.2 .3-.9-.4-1.8 .7-1.8-.1-4.8 .1-1.6 .5-2.6 0-.8-.5-2.4-.2-3.5 .8-3.2-.1 .8 .5-2.8-.1-3.9-.3-1.7-.1 1.5-.3 1.8 0 2.8 .4 3 .2 4-.1 1 .5 2.3 0 4.3 .2-.1 0 4.7-.7-.5 .6 4.3-.5 3.5 .3 2.3 .1 1.5-.4 2.7 .4 .2 0 4 .5 2.7 .1 2.4-.6 .2 .7 3.3 .1 3.3-.2 2-.3 2.1-.2-2.3 .6-3.7-.3 .2-.1-5.1 .1-.7 .2-2 0-2.6 .8-.9-.1-3.6-.1-1-.3-3.9 0-1.9 .3-1.5 .1-2.4 .3-2.5 0-2.6 .1-2.6-.2-1.5 .3-3.6 .8-1.8-.7-1.6 .4-3.2 .4-1.9 .5-3 0-.4-.5-5.3 .1-.4 .9-2.6-.3-2.2-.2 2.7 .6 3.6-.2-.2 .1 3.5-.3 1 .7 3 .1 3.4-.9 3.7 1.1-.2-.3 1.9 .3 2.7-.3 4.6 0 2.9-.4 2.7 .6-.7-.6 2.7 .1 3.1 .1 2 .8 3.9-.6 .3-.1 3.1 0 1.8 1.1 3-.2 1.5-.7 2.4 .5 5.3 0 1.1 .5-2.8 .1-2.2-.2-2.6-.1-1 .2-3.9 .1-2.9 .1 .9 .3-4.6 .1-1.3-.3-2.3 .3-3.8 .4-.9-.2-2.8 .7-3.3-.1-.3 .5-3.9 .1-1.5-.6-1 .8-1.1-.4-3.3 .9-2.9-.1-3.7-.3-1.3 0-3.2 .5-.9-.1-1.3 .2-2.3 0-.9 0-2.8 .4 1.7-.5 1.5 .4 3.2 .6 1.1-.4 4.6 .9 .5-.2 3.2-.2 2.1 .5 2.2-.4-.8 .3-2.5 .9-4.1-.7-2.9 1-3.2-.6-1.6 .2 .2 .2-2.6 .4-5.6-.1-.6 .1 1.5 0 1.8 .3 4.5 .6 .5-.1 2.8 .4 1.7-.1 .6-.1 5.2 .6 1.9-.2 2.1-.4 2.4 1 2.2-.3 2.7 .4 1.3-.7 3.1 .7 3.5-.6 1 1 .4-.2 4.6 .2 1.9 0 3.3-.5-.5 .6 2.9-.6 2.2 1 5.1-.4 1.8 .1 1.5-.2-3.8 .4-1.8-.6-.8 0-2.6 .2-3.8 .2-.7 .4-4.8-.3-.7 .7-2.8-.1-1 0-4.5-.7-.4 .1-3.5 .3-2 .6-3.8-.9-.4 .2-3.1 .1-1.3 .4-2.6-.3-4.6 .4-2.5-.6 .5 .9-5.6-.4-2.4-.4-.6 .8-1.1 .2-4.4-.9-1.4 .5-4.4-.2-2.2 .8-1.9 .1-1.5-.3-1.6-.5-2.2 .3-3.6 .6 .9-.7 2.9 .4 4.2 .3 1.3 .2 2.9-.3 1.6-.1 2.9 .3 2-.5 1.5 .1 2.3 .2 4.9 .5-.2-.6 3.4 0 .5-.1 5.2 .3-.6 .2 3.1 .3 4.1-.9 .8 .1 2.2 .8 4.3 .2 1-.3 2.8-.3 3.7 .3 .7 0 3.8 .4 1.7 .6-.3 .4 3.9 .6 2.4-.5 3.6 1 .8-.6 3.1 .2 2.4 .8 .4 .6 3.1 .6 1.4-.3 1.2 .4 2.3 .7 2.4 .2 1.5 0-1.4-.5-1.9 .3-4.5 .5-1.7-.3-3.9 .4-1-.4-2.6 .3-.3 .1-4.7-.5-2.6 .1-2.7 .6-1.7-.4-3.1 .5 .2 0-4.6-.3-2.9-.1-2.4 .2-.4 .1-2 .4-2.3-.4-2.9 .2-2.2 .2-1.9-.3-2.5 0-2.2 .1-2.3-.4-2.1 .5-4-.5-.6 .8-5.6-.4-1.7 .2-2.5-.3-1.3 .6-3.1-.6-3.4-.1 1 .8-5.1 .3-3.1 .1-2.4-.8-2.2 .7-1.8-.4-1.8 .2-.8 .1-4.8-.6-.4 .5-3-.4-3.3 1 .2-.6-4.3 .6-1.1-.6-2.6 0-4.5 .3-1 .5 1.8 .2 4.1-.4 2.4-.1 .8-.2 .5 .4 2.7 0 3.6 .1 3.2 .5 1.3-.2 4.1 .1 .4 .3 .7-.4 2.9 .3 1.7 .4 4.9-.3 2.8 .2 .4 0 2.7-.3 2 .3 3.5 .6 .2-.2 3.8-.1 2.1 .7 2.2-.5 2.9 .6 2.6 .2 1.4-.2 4.1 .2 2.9-.3-.2 .1 3.7-.4 2.6 .7 .7-.4 4 .3 1.6-.2 3.7 1.2 .8 .2 1.4 .6 1.9 0 3.2 .6 0-.4 5.1 .3-1.2 .8 3.4 .4-2.2-.6-1.2 0-3.8 .7-1 .1-3.4-.6-3.3 .6-1.3-.2-.6 .5-2.5-.5-2.3 .9-3.8 0-.7-.4-4 .6 1.3-.8 1.6 .8 2.6-.3 1.8 .3 5.4 .3 .1-.8 3.8 .5 .2 .1 3.3 .2 3.5-.3 .3-.3 4.9 0 1.2 .8 3.5 0 2.4 .4 1-.4 .3 0 3.8 0 .7 .4 3.3 .5 4.1-.3-.5 .2 4.6 .5 .3-.8 3.9 .4-.2 .4 3.9-.1 2.1-.1 3.2 .7 1.5-.3 1.7 .2 2 .4 2.1-.3 3.1 .1 .8 .5 2.9-.5 4.1 .7 1.6 .1 .2-.7 5.4 .7 0-.1 3 .6-1.3 0-3.6 0-3.5-.3 1.1 .7-5.3-.7-1.7 .8-1.5 .2-1.1-.8-3.6 .1-3.2 .2-.8 .9-1.3-.6-3.8 .2-2.7 .1-1.4 .6 1.9 0 1.8 .1 4.8 .6 .6-.1 4 1.1 .9 .3 2.7 .2 1.5 0-3.8 1.1-.3 .1-1.1-.3-5.2 .5-.5 .6-1.7-.4-4.5 .5-2.6 .1 .9-.3-4.6 .6-3.1-.5 .3 .2-3.1 .4-2.2-.3-3.7 .3 0 .3-4-.3 2.9 .8 3.3-.7-.8 .6 4.7 .1 1.9-.1 2.8 .1 1.4-.4 2.3 .1 .6 1 2.4 0 4.7-.7 1.2-.1 .3 .8 2-.1 4 .4-.6-.2-2 .7-5.5-.2-1.2 .2-1.5 .6-1.9 1.4 1.8-.2 2.8 .8 1.4-.6 3.1 .5 1 .6 3.8-.6 2.4 1.1 1.9-.3 1.8 .4 .5 .9 2.3-.2-2.6 .2-.7-.5-3.6 .6-2.3 .1-1.2-.3-5.7 .1-.8-.5-1 .4-5.3 .2-.5-.3-1.9 0-1.5-.1-4.1 .3-2.5 .1-1.5 .3-3.3-.1-2.3-.3-3.7-.1 .2 .5-3.2 .1-2.1-.5-2.8 .2-2.9-.5-.6 0-2.3 .5-2.2 .1-4.6-.1-1.4 0-1.7-.2-3.1-.2-3.2-.2-1.9 .7-.9 0-4.2-.7-.6 1-3-.2-4.6 .1-.3-.5-2-.4-1.5 0-2.9 0-1.8 1-4.1-.2-2.6-.6-1.4 .3-2.4 0-1.5-.1-4.8 .5-.7-.3-4.8-.4-1.8 .9 .3-.6-4-.2 2 .2 1.5 .7 2.7-.1 3.3-.2 3.7 0 5-.1-.2 .1 2.1 .7 2.6-.3 2.7 0 2.4 .8 2.6 0 2.8-.1 3.4-.7 .6 .1 4.9 .6 2.1-.2 2.5-.1 1.1 .5 2.4 .2 3.3-.3 .7 .5 4.6-.4-1-.1 4.2 .2 1.8-.2 1.8 .6 3.1-.4 .7 .2 4.4-.1 2.8 .5 .3-.2 3.1 .2 4.6-.2-1.1 .2 5.5-.4-.9 .4 5.4 .3 .4 .3 2.6-.9 2.1 .1 1.3 .3 3.7 .2 4.2 .1 .7 .6-1 .1-1.2 1.1-3.2 1.8-1 0 3 0 1.6 .2 3.1 .5 2.7 .6-.4-.4 4 .2 .3 .4 3.1-.2 3.5 1.1 .1 .7 2.2-.2 3.3-.1-2.8 0-3.5 .2 .8 .1-3.8 .8-3.7-.2 .4-.3-2.1 .7-4 .4-1.4 .1-1.5-.6-4.7 .4-1.1-.4-3.7 .1-.1 .2-2.8-.1-4.2 .1-2.3 .5-1.2-.2-.8 .7-5.3-.1-1.5 .1-3-.4-2.5 .4-1.5 0-2.1 0 3.5 .6-.4-.8 4 .4 .6 .4 4.5-.3 2.3-.1 2.5 .6 1.2 .2 2.3-.3 1 .3 3.6 .4 1.1-.3 3 .4 .7 .5 3.7 .1-.1 .7 3 .4 1.7-.5 3.3 .6 3.2-.1 2.3-.6 .3 .9 2.5-.5 4.6 .1-.2-.3 3 .2 4.1 .9 .5-.4 1.4 .6 1.5-1 2.7 .3 2.7 .8 2.3-.4 3.3 .3-1.9 0-4.5 .3-.7-.9-1.3 .7-3.9 .1-2-.2-2.3 .3-1-.5-2.1 .6-3.1-.1-3.3-.1-1 .2-3.6-.8-2 .4-3.1 0-1.9 .2-1.1 .3-3.8 .2-2.8-.3-.8-.2-2.3 .6-2.4-.5-4.5 .3-.6-.1-4.4-.5-2 0 .8 .4-2.7 .1-2.6-.4-4.7 .8-1-.5-4 .3-.9 .5-2.1-.1-2.5 .5-3.7-.4-1.7 .4-2.8-.1-2.7 .4-.9 .5-4.2-.6-1.9 1-2.4-.4-.8 .5-2.9 0-3.6-.3 .8 .6-4.2 .2 3.1-.2 1.8 .8 1.8 .4 3.7-.7-.4 .5 1.7 .3 2.7 .2 3-.1-3 .3-1.5 .8-.6 .4-2.2-.4-1.1 .9-2.8-.3-4.6-.2-1.6 .6 .1-.4-2.8 .9-2.6-.6-2.8 .6-1.9 .1-1.7 .1-4.3-.5-3.5 .2 .1-.2-1.9 .9-5.2 .1-.5-.6-3 .5-2.8 0-1.8 .1 .7-.1 4.7 .5 2.9-.2 .9 0 3.5 .5 1.3-.4 2.4 .8 1.5-.8 1.8 .4 1.1-.2 3.2 .7 4.7 .5 .7 0 2.4-.4 1.9-.1 2.8 .3 3.4 0-.9-.1 4.5 .6 1.7 .4 3.3 0 .7 0 3.9-.5-.1 .5 4.5 .2 1.8-.2 1.6 .1 3.4 .8 .5-.5 3.3 .1 1.5 .4 4.7-.1 0-.5 3.3 .1 2.2 .6 4.9-.5-.5 .5 4.6 .1 1.5 0-2.1 .3 .2 .8-3.6 .4-1.8 .3 .8 1.1 2.8 .2 1.2-.3 1.8 .1 4.3 .4 1.2 .2 1.6 0 4.8 .4 2.5-.2 2.9 .9-.7-.5 5 .3 1-.2-2.2 .7-4.1 0 .6 .2-2.3 .4-3.8-.6-1.2 .6-3.5 .5-1.4 0-2.4-.3-3.9-.2-1.2 .7-1.2 0-2.7-.2-4.5 .2-1.5 0-1.6 .3-3.8 .5-.3-.2-4.8 .1 1-.5-2.3 .5-4-.3-2.4 .1-1 .3-2.4 .1-5.2 .2-2.2-.2-1.8-.2-2.3 .8-2.3 .3-.2-1-3.4 .8-4-.5-2.4 .7-2.8-.2-.4-.5-2.2 .8-3.3-.3-1.4 0-3.3 .7-1.1-.5-3.4-.4-2.9 .2-3.1 .4-1.2 .1 3.7 .6 .1-.8 1.6 .5 5.4 .6 2.1 .1 2.1-.5 .8 .2 4.9-.1-.4 .8 4.1-.1 2.1 .3 .3-.4 4.2 .7-.5 .8-3.2 .1-2.6 .4-2.6 .1-.6 0-2.1-.6-4.2 .3 .3 .6-3.3-.8-3.2 .4-1.3 .7-3.5-.3-2.4-.5-1.1 .7-2.5-.5-.7 .4-3.2 .3-2.3-.2-4.8-.1-.3 .5-3.4 .1-1.2 0-1.1-.2-2.1-.4-4.7 .1-1 0-3.2 0-.8 .7-2.6-.2-4.4-.1-.6 .3-2.9 .4 2.6-.5 1.7 .5 4.2-.1-.7-.2 3.9 0 2 0 .9 .1 5.5-.3 1.7 .2 2 0 1.5 .3 3-.3 2.4 .7 .9-.6 4.8 .5 .1 .4 1.9 .2 4.2-1-.3 .5 2.7 .1 4.9 0 1.4-.4 1.7 .6 2.7 .4 2.9-.8 1.2 .4 1.5 .3 5 .3 2.7-.8 1.6 .6 .8-.6 1.4 .3 4.1 .2 .9 .5 4.4-.5-.1 .4 4.8 .3 2.8-.4 2.8-.2 1.3 0 3.3 .1 2.4 .4 .8 .6-3.3 .2 .2 .4-2.7 .1-2.4-.5-1 .3-4.6 .5-1.7-.6-3.1 1-2.2-.8-.2 .5-4.7 .1-.7-.2-1.8-.2-3.7 .4-1.3 .2-3.8-.5 .3 .5-3.4 .4-2.4-.7-2.5 0-2 .7-3.6-.5-1.1 .3-2.1-.2-3.3 .5-2.3-.5 .3 .7-2.5-.6-4.5 .6-.6-.4-2.2 .6-1.7 0-5.8 0 .4 .2-3.3 .3 2 .5 1.7-.2 .7 .8 2.9 .5 2.8-.4 .5 .6 2.3-.6 4.4 .2 .9 .1 2.4 .8 4.3 .1 .9-.9 2.4 .4 2.8 .4 3.4-.1-.5 .2 5.2 0 1-.2 2.5 .7 1-.2 3.4 0 1.1 0 3.8 0 .7 1.1 4.5-.8 2.9 .8 2.5 .2 .9-.3 2.3-.2 2.3 .2 2.7 .1 2.7 .3 .5-.3 2.1-.1 4.2 1 .5-.4 4.1-.2 3.6-.1 2.1 .8 2.7-.2 2-.3 .8 .5 2.5 .5 1.7-.4 3.1 .2 3.3 0 .7-.2 .9 .7 2.4-.2 2.2-.1 3.9 .4-3-.4-2.5 .3-.3 .6-4.7-.6-.1 .5-5.1 0-2.6-.1-1.8 0-2.6 .4-1 1.5-1.8 .3 1.1 .9 3.6 .2 .9 .1 3.5-.4-2.5 .6-1.6-.6-4.3 .5-.5 .2-1.7-.1-4.6 .5-.8-.7-2.3 .5-3.7-.1 .4 .3-2.5 .1-2.9 .2-1.9-.2-3.1 .1-3.8-.3-2.6-.1-.5 .1-3.3 .3-2.9 .4 .7-.3-4.5-.3-2.2 .5-1.8 .5-1 0-2.8-.8-3.5 .4-2.9 .6-.8-.1-4.4-.2 .2 0-3.4-.4-2.2 .5-2.5 .3-2.3-.2-1.8-.4-4.9 .2-1.9 .3-1.5-.2-.5 .4-3.9 .6-3 .7-.4 0-2.1 .5 1.4-.1 2.6 .1 4.4 .4 1-.8 3 .9 1-.5 2.4-.1 1.9 .3 3 .2 2.4 .1 3.2 .1 1.1-.4-.9 .1-2.8 .7-2.4 0-4.5-.1-.2 0-4.9 .1-.8-.3-3.6 .5-2.9-.1-2.6-.1 .3 0-3.2 .5-2.5-.2-1.8 0-2.4 .6-2.9-.6-3.9 .6-.1-.5-4.4-.2 .6 .7-4.2 0-2 .3-2.7-.8-2.7 .7-3.3-.2-.2-.3-2.4 .4-4.4-.4-1.8 .1-.8-.1-1.3 0-4.9 .9-.7-.1-1.5-.5-3.2 .6-2-.9-4.4 .5-1 .2 1.8 .1 1.5-.4 2.4 .6 5.4 .3 2-.2 1.6 .1 .4-.2 4.6 1 2.8-.4 1.2 .1-1.9 .2-3.2 .3-.3 .8-3.7-.3-2.9 1-2.3-.8-1.8 .4-3.6 .5-2.3-.7-1.5 .3-.6 .3-2.2 0-3.8 .6-2.5-.5-.8 .7-3 .2-3.3-.1-3.7-.7-.2 .6-2.9 .3 .8-.1 2.6-.3 3.7 .6 3.3-.4 1.8 .2 2.6 .3 .9-.3 4.4 .5 .5-.1 2.2-.1 2.2 .3 1.6 .5 1.3-.1 4.1 .2-4 .1-.8 .6-1.1-.3-4.4 .2-1.7 .1 .2 .3-3.9-.4-2.9 .6-1.5-.3 1.2 .7 3.2 .1 .9-.4 4.6 .4-.7 .2 3.4 0 3.3 .6 2.6 .2 1.9-.2 1.5 .7 3.4-.5 .6 1.1 4.3 .2 .8 .4-2.4-.5-1.3 .4-3.4 .2-1.2 .5-2 .4-2.8-.2-3.3 .2 2.4-.3 .9 1 2.6-.6 5-.2 .6 1.1 3.9-.8-.3 1 3.8-.8 1.9 .1 2.8 .6 1.9-.2 3.7 .9 2.2-.3 1.5 0 .4 .7 4.6 .1 1.2 .1 .9-.2 3.8 .1-3.2-.1 .1 .1-4.7-.3-.6 .4-2.2 .5-4.8 .1-2.4-.6-.3-.2-3 1.1-3.1-1-.5 .9-4.5-.6-1.4 .5-2.3-.4-3.8 0-.4 .9-4.4-.4-.6 .2-3.4 .1-2.2-.5-3 .2-1.6 .3 .2 .3-4.6-.1-1.7 .8 0 .1 2.5 .4 3.8-.9-.9 1 4.9-.7 .7 .3 4.2-.1 2.4 .3 .2-.2 3.2 .2 1.2-.2 2.1-.3 3.3 .6 3.9-.4 .9 .3 4.3 .3 2.2-.2 .4-.3 2.5 0 4.5 .5-.5-.3 3.4 .2 1.2 .7 3.6 0 3.2-.1 3.1-.4 .9 .1 2.6-.3-3.6 .6-1.8-.3-2.1 .7-.2-.5-3.7-.1-1.6 .5-4.6 .3-1.1-.7-2.7 .9-.9-.6-2.5 .6-2.7-.1-3.3 .4 .4-.9-4.5 .9-2.2 .2-2.2-.9-.4 .3-2.1 .3-3.8 .6 3 .5 .9-.2 3.5 .5 1.7-.2-3.3 .1-1.8 .4 0 0-3.4 .3-2.4 .2-2.4-.1-2.3 .9-.7-.1-3.7 0 3 .3 .6 .1 4.4-.1 1.5 .2 3.9 0 2-.4-.5 .5 4.7 0 .4 .1 2.8-.3 1.8-.1 3.5 0 3.8-.3 1.5 .8 3.2-.6-.1-.2 3.7 0 .6 1 2.3 0 3.3-.9 2 .8 3.5-.7 2.1 .5 1.9-.4 1.4 .4 3.8 .5-1.4-.2-2.4 0-2.8 .2-2.1-.5-2.3 .5-4.1-.3-1.6 .6-1.6-.1-3.9 .2-.3-.3-2.7 .3-3-.4-2.6-.4-3.6 .6-.7 .5-3-.1-1.6-.2-1.6 .2-4.6 .2-2.5-.8-2 .3-.5-.1-3 .6-4.4 .1-1.5-.6-3.3 .5-2.9-.2-.6 .6-.7-.6-4 1-1.1-.1-1.5-.3 3.8 1 .3-.8 1.1 .7 5.4-.7 .8 .5 1.6-.2 4.2 .5 1.9 .6 .7 .1 3.8-.2 2.4-.2 1.3 .3 1.5-.3 4.5-.1 .8 .4 2.4 .2 1.1 .8 2.2 .1 2.8-.2 2.3 .6 2.5-.2-2.4 .3-2.6 .9-1.7-.5-1.3 .7-1.6 .1-3.1 .5 2-.2 3.9 .2 1.4-.1 2 .2 .5 .3 5.6-.7 .2 .9 3-.2 3.5 .5 2.4 .1 1.9-.3 .9-.2 1.8 .9 3.7-1 .3 .9 3.1-.1 3.3 0 3.4-.3 .8 .2 2.6 .1 1.1 .6 2.2-.5 3.2 .1 .7 .6 2.4-.2 3.5-.2 2.4-.1 1.1 .3 3.5 .4 2.9 .4-2.8-.5-.4 .5-4.8-.3-2.2 .2-.7-.4-2.8-.2-4.4 .5 .2-.1-4.3 .6-.1-.7-3 .8-1.1 .1-3.9-.8-2.4-.1-1.7 1-3.3-.6-.6 .1-2.5-.3-3.7 .5-4.2-.4-1.5 .5-2.9-.4-1.5 .4-1.6-.4-1.7 .9-2.3-.6-4.3 .1-3.2 0 .9 .1-4.7 0-2.1 .1-1-.1-1.5-.3-5.6 .4-1.3 .5-2.8 .2-2-.4-1.6 .2 1.7 .1 1.9-.2 2.8 .2 1.8-.3 2.1 .4 3.6 .1 1.3-.6 2.4 .7 2.7-.5 3 .5 2.9-.5 3.1 .1 .4-.1 2.3 .3 3.3 .4 4.5-.2 0-.5 3.5 .7 .4-.3 4.5-.3 1.9 .4 .5 .5 4.2-.7 3.3 .7 2.3-.6 1.3 .2 3.3 .1 2.1 0 3.1 0 2.2-.1 2.9 .6 .3-.7 2 .6 3.8 .1 .5-.5 3.2 .1 2.1 .4 1.6-.2 5.4 .2 2.3-.5 2.2-.1 2.6 .4 .8 .5-2.1-.5-2.7-.2-1.3 .1-2.6 .2-2.7 .8-2-.5-2.9 .5-2.6 .4-3-.4-1.4 .4-2.6-.6 .4 .5-3.6 .6-2.7-.1-2.8 .9-2-.1 .4 .2-3.9 .2-2.4-.5-3.4 .4 .4-.2-2.8 .1-4.8 .3-2 .2-.3-.2-1.4 1.1-2.8 0-3.8-.6-.8 .4-1.6 .1-3.5 .3-3 .1-2.6 .4-1.9-.3-2.2-.4-2.9 .3-.9 .6-1.1 .1-3.9-.1-.5-.6-1.8 .5-3.8 .5 1.1-.2 2.8-.4 1.5 .4 4.5 .1 .7-.1 4.1-.3 3.4 .1-.9 .7 3-1 3 .1 1.9 .5 3.8-.1 0-.3 4 .1 2.3 .5 3.1 .5 1.8 .1 1.1-1.1 4 .9 3-.8 .4 .5 4.6 .2 1-.5 1.5 .6 2.9 .3 1-.8 5.7 .5-.3 .1 3.5-.6 1.2 .6 3.3 .2-.9-.4-4.9 .8-2.7-.1-1.3-.3-1.3-.2-1.5 .1-5.6 .2-.2 .2-3.3-.5-2 .3-2.5-.3-.8 .2-2.1 .6-3.6-.2-4.6-.2-1.2 .7-.5-.3-3.7 .4-4.1-.4 .3-.1-3.5 .4-3.2-.2-.8 .1-1.8 .5-3.8-.4-1.4 .4-4.2-.9 .4 .9-5.3 .1-1.3-.4-1.9 .1-2.4 0 1.8-.1 .9 .9 5.3 .3 1-.1 .9 .2 2.8 .6-4-.3-.2-.1-3.7 .6-3.4 .1-2.3-.6-2.2 .2 0 .4-3.3-.2 3.6 .2-.8 .4 3.6 .1 1.5-.2 4.1 .6 .2 .2 3.9-.6 3.1 .4 2 .4 2.3-.5 2.1 .5 .8 .2 1.9 .4 3.5-.2-.2 .1 3.5-.2 3.5 .3 2.7-.4 2.4 .3-.6 .5 2.8-.2 3.4-.5 1.5 0 3.2 .1 1.1 1.1 2.9-.5 1.1 .1 3.8 .6 2.7-.7 2.4 .2 2.8 .1 1.1-.1 4 .6 2.1 .3 1.3-.1 3.1-.4 .4 .5 2.5-.2 3.7-.4 4 .5 .9-.1-.8 .7-5.4-.6-.5 .1-1.6-.1-4.7 .6-1.8-.7-3.5-.1-1.1 .8-3.1-.5-1.7 .8-.3-.2-4.7-.1-2.8 .2-1-.8-3.2 .5-2.2-.1 0 .3-2.4-.2-3-.1-2.5 .8-4-.9-.8 .8-1.7-.6-2.2 0-3.8-.1-2.4 .5-2.6 .5-2.7-.8-2.3 .7-.7-.3-2.7 .8-2.8-.5-1.5 0-3.9 .2-2.3 0-.9 .5-2.5-.4-1.9 .5-4-.4-1.6 .4-.7-.4-5.3 1-2-.5-1.4 .3 1.6-.2 1.6 .2 4.7-.5 1.1 .5 1.3-.3 3.1-.1 2.4 .1 2.1 .2 3.9 0 2.7 .1 .4 .3 2.6-.3 5.4 .5 0 .1 3.3 .2 .9 .2 4.9-.4 1 .5 2.9-.7 3.4 .8-.3-.9 3 .2 2.6 .8 4.7-.7-.7 .4 2.9 0 3.2 .6-1.2-.6-3-.4-3.9 .5-1.2 .2-1.1-.3-3.6-.1-4.4 .2-1.8 .7-1.6-.9-2.8 .6-2.8-.7-2.3 .4-1.7-.2-3.2 .5 0-.4-4.1 .3-3.1 .6-.4-.3-3.6-.6-1.3 .5-1.7 .3-4.7 0 .3-.6-2.7 .6-2.5 .2-1.5-.8-3 1.1-3.4-.5-3.8 0-1 .7 3.7 .3-1-.8 2 .4 4 .5-.1 .6 5.5-.2 .5-.4 .5 .4 3.2 .6 2.1-.3 2.3 .8 1.8-.1 2.5-.1 2.2 .5-3.2 .2-1.5-.3-2-.3-1.2 .7-2.5-.6-2.9 .2-2.9 .9-.7 .1-3-.1-3.3-.4 0 .4-3.3 .5 1.3 .2 2.5 .3 4.7-.4 .5 .4 2.9-.2 3.9 .2-.7-.1 5.5 .5-.1 .5 4.8-.8 .8 1.1 3.6-.4 1.1-.1 1.9 .2 1.5-.1 2.9 .5 3.1 .1 3.3-.1 1.2-.2 2.8 .4 2.9 .5-1 .2 3.8 .7 .9-.1 3.4 0-2.6 .5-.6 0-4.2 .3-2.5 .5-1.1 .2 2-.1 1.3 .7 1.5-.2 3.6-.2 3.9 .2-.7 .8 4.9-.6 1.8 0 .4 .4 3.2 .6 2.6 .3 .8-.2 1.8 .2 2.9-.2 1.7 .3 3.2 .5 1.6 .3 1.4 .3 1.9-.1 5 .2 2-.1 2.4 .5-.5 .1 3.4-.4 3.6 .1 2 .3 .1-.2 3.3 .5 3.3-.2 1.3 .3-1.9 .2-2.7 0-3.3 .1 .3 .5-2 0-2.5 .3-2.5 .3-3.4-.3-2.7 .6-.5-.5-3.2 .7-1.9 0-3.6-.1-.1 .1-2.3 .3-4.6 .3-1.3-.1-1.9 .6 3.5-.2 .8 .2 2.3-.1 4.3 .3 2.4-.1 1.4 .3 .4-.5 3.7 .5 3.6-.5 .1-.1 2.5 .6 3.2 0 2.7-.2 2 .7 2.4 .4 3.4-.4 1.4-.3-2 .9-4.3-.5 .6 .6-5.2 .1-1.9 .4-2.6 0-1 .1 2.8 .6 2.8-.2 .4-.5 4.9 .9-.8-.1 2.6-.4 4.2-.2 2.7 0 .9 .1 3.9 .5 2.4 .5 2.5 .2 .7-.6 1.3 .6 5.4 .2 1.7-.3 2.7 .1 .8-.4-1.3 .2-4.3 .7-3 0 .3-.1-2.7-.4-3.9 .3-3.1 .2-1.9-.3-.3 .7-4.4-.3-.4-.6-1.4 .9-3.5-.3-1.6 .5-4.3-.5 .2-.3-3.2-.1-2.4 .5-1.4-.3-2.3 .6-5.4-.1-.7-.3-3.7 .2 0 .4-3.9 .1-3.8-.6-.9 .7-1.7-.5-3.6 0-1.1 .3-3.5 .7-1.7-.7-2.6 .1-1.2 .1-1.8 0-3.2-.1-3.3 .5-2.3-.3-2.1 .8-3.4 .5-2.8-.3-.6 .4-3.2-.7-1.2 .9-2.8 0-2.2 0 1.4 .2 4.2 .5-.8 .4 3.7 0 1.2 .4 3.1 .5 .9-.7 2.9 .2 1.8 .5 1.7 .1 2.6 .1 1.9 0 4.1-.3 2.6 .9 .1-.4 3.3 .1 0 1 5.2 .3 .2-.1 1.6 .8 1.6-.7 4.2 .8 2.2 .3 1.2 .5 4-.3 1.7 .5 1.9-.7 1.2 .6 3.9-.5 2.7 .6 3 0 1-.5 3.8 .1 3.1 .4 .4-.4 1.4 .4 3.5 .5 1-.7 2.4 .7 2.6-.1 2.1 .1 3.2-.1 2.1-.3 3.4 .4 1.8 .5 3.8-.2 .6 0 2.6-.4 1.5 1 4.2-.4 2 .5-2.1 0-3.8-.1-3-.3 .7-.3-5.1 1.1-2.4-.2 .5-.5-2.5 0-4 .2-3.3 .2 .5-.1-4 .2-4 .2 .8 .5-5.2-.3-1.9 .5-2.1-.4-1.9-.3 1.6 .5 3.7 .4 3.2-.7 2.3 1.1 .8-.5 3.8 .2 2.1 .6 2.6-.4 .5-.4 1.6 1.1 4-.9 3.7 .6 1.1-.3 3.1 .4 2.5 .7 1.1-.5 3.8-.3 1.3 .9 2.7-.5 2.4 .8 2.8-.4 1.5-.3 4.3 .7 .1-.1 2.2 .6 1.3 0 5.2-.2 1.2 .3-3.8 0-1.2 .5-1.4-.6-2.7 .7-1.6-.2-2.9 0-1.6 .1-3.7 .3-2.8-.4-.3-.1-3.7 .2-3.1 .4-3.8 .2-2.1 0-1.5 .4-2.8-.8-2 .4-1.8 .4-1.5-.4-1.6 .8-3.7-.2-1 .4-5.3-.1 1 .3-2.6 .1-3.6 .6-.8-.6-5.5-.4 .9 .6-4.5-.3-.9 .8-2.8-.4-2.6 .4-1.6-.8-2.7 .2-3.5 .7-2.5 0-3.1 .2-.5-.7-1.7 .7-2.5 .3-1.7-.4-4.1 0-1.5 .8-3.1-.6-2.1 0-4.3 .6-1.8-.5-1.4 .6-2.2 .5 3.5 0 .5 .1 3.7-.2 1.4 0 3.5 0 3.2-.2 1.7 .2 2 .4-.1-.2 3.6-.6 4.7 .2-.5 .4 1.6 .1 3.5-.7 4.4 .2 2.1 .6 1.6 0 1.2 .1 3.4-.7 1.3 .1 3.9 0 1.5 .9 3-.8 2.3 .3 1.8 .6 .8-.7 2.1 .1 3.5 .5 4.7-.4-.1 0 2.8 .4 1.8 .2 3.8 .1 1.2-.6 4.5 .2 1.8 0 2.9 .2 .8-.5-1.8 .9-2.7-.7-1.6 1.1-1.6-.9-4.6 1.1-2.9-.5-1.2-.1-3.8 0 .6 0-2.2 .6-4.4-.2 .1-.3-2.9 .2-2.4 0-3.1 .1-2 .1-4.3 .9 .7-.3-3.7 .8-1.2-.7-1.1 .4-2.9 .7-2.1-.1 1 .5 4.2 .6 .4 .3 2.6 .1 2-.3 1.8 .6 2.3-.2 3.9-.1-2.1 .3-3.8-.4-2.1 .3-1.5 .8-3.1-.2-.9 .4-1.9-.6-1.9 .7-5 .3 .4-.2-3.6-.4-1.5 .4-4.3 .2-2-.5 .1 0-4.9 .8-1.9-.6-2.4 0-.5 .2-5.5 .5-2.4-.7-2.5 .4-2-.4 .3 .6-3.8 .1-.5-.1-4.5 0-1.7 .4-1.4 .3-1.9-.6-5.8 .5 .3 .2-4.3-.6-1.3-.2-2.5 .2-3.5 .6-1.4-.1-2.8-.1-.8-.2-5 .2-.7-.2 1.8 .4 2.7 .1 1.6 0 2.8 0 2.7-.2 2.7 .4 3.2 .2 .6-.8 3.1 .8 1.1 0 5 0-1.2-.4 4.7-.2 2.9 .4 2.3 .3 1.4 .3 3.5-.8 2.5 .9 .6-.4 3.5 .6 .3 0 4.2-.5 1.3 .1 2.3-.4 3.9 .5 1.4 .5 1.3-.9 4.2 .6 1.1 .2-.6 .7-3.1 .4 1.8-.1 2.6-.8 4.1 .1-.1 .9 3.4 0 3.5-.2 1.1-.2 3.1-.2 2.9 .1 2.1 .1 2.1-.1 3.2 0-.4 .3 4.3-.3 .9 .5 4.3-.1 2.7-.3 2.4 .5 .8 .1 3.9 .4 2.3-.8 1.5 .3 2.8-.1 1.7 .6 .6-.6 4.9 .3 1.9 0 .5-.1 3.3 .2 2.9 .2 2.6 .2 2.4-.3 .6-.3 2.7 .4 4.5-.1 1.2 0 3.4 .1 2.1-.2 1.4 1 1.8-.1 4.1-.5 1 .7 3-.1 .8 .2 3.5-.8 1.8 0 3.6 .2 2.7 .5 .8 .4 1.4-.5 4.3 0 1.9-.3 2.3 1 1.7-.4 2.8-.2-3.6 .6-2.4 .4-.6 .6-2.5 .1 1.7 .9 2.1-.1 1.9 .2 2.6 .4 .6-.2 3.8 .1-.6-.3-3.5 .1-1.7 .3-2 .7-4.6 .2-.2-.1-4.5-.1-.5-.3-2.8 .2-1.8-.1-4.8 1-.8-.1-2.4-.2-2.6 .7 4-.4 .1 .4 2.5 0 2.9 .5 .3-.3 4.5-.2 1.2 .6 2.1 0 1.8 0 2.5-.2 2.4 0 1.5 .3 4.1 0 1.1 .3 .3 .8 4.3-.6 1.7 .6 2.6 0 3.3 .3 .6 .1-3 .5-.3-.1-5.3 .1-.8-.4-2.2 .6-3 .1-1.5 .2-1.3 .4-3.9-.2-.9-.1-4.4 .2-.8 1.3-1.8 .4 3.2-.2-.4-.1 2.2 .7 5.2-.5 1.2 1.2 1.5-.7 2.7 .9 1.7-.2 1.9 .2-1.4 .6-1.9-.9-2.8 .7-1.4 0-2.6-.4-2.9 1.1-2-.6-3.2 .5-1 .1-3.6 .5-3.1 .3-.4-.3-4.8-.1-1.6-.1-2.6 .9-1.2 0-2.7 .1-1.5 .1-1.9 0-2.1 .7-1.7 .1-2.2-.6-3.2 1-2.6 .3 0-.3-3.8 .1-2.2 .5-2.6-.1-2.1 .4-3.1 .3-3-.3-2.5-.1-1.9 0-2.5 .3 .9 1-4.1-.2-2.3 .3-.9-.3-3.1 .3 2.9 .3 .6 .1 5 .1 .6 .3 1.5-.6 3.5 .3 1.5 .4 4.3 .1 1.1 .2 1.8-.4-2.5 1-3 0-2.2-.3-2.4-.3-.2 .3-2.4-.1-3 .6-3.7 .2-1.4 .5-1.5 0-5.1-.4-1.8 .2-1.8-.3-2.3 .1-2 .9-2.2-.2-2.9-.5-2.2 .5-2.2 .2-.7-.4-3.9 .5-.4-.2-2.8-.2-4.4 .5-1.3-.4 2.3 .7 3.8-.5-.6 .6 3.2 .3 4.1-.6 2.7 .8 2.2 0 1.3-.2 4.1 .3-.5-.6 3.6 .1 4 0 1.4 .1 .4 .7 4.8-.5 2-.3 2.4 .6 .9 .5 3.7-.8 .1 0 4.5 1 2.2-.4 2.1 .5-1.5-.8-1.9 1-2.2-.8-5.6 .2 .3 0-4.3 .5-.5 .4-4-.7-2.2 .8-3-.1 .4 .2-3.2-.1-2.7-.6-2.1 .6-1.4 .3-3.8-.8-3.1 1-2.7-.6-.9 .3-3-.1 .6 .5 4.3 .5 3.6-.1-.8 .3 2.7-.8 4.5 .3 .7 .4 2.9 .4 .7 .3 4.2-.4 2.1 .2-2.4 .4-1-.6-4.3 .3-1.1 .5-3.3-.2-2 .6-1.4-.1-.8-.3-3.6 .3-2 .4 1-.8 2.8 1 3.4-.8 2.5 .3 2.1 .3 2.4 .6 1.7-.4 3.5 .5 2.5-1 2 .8 .9-.5 3.8 .3 1.9 .4 3.6-.2 2-.3-.4 .3 3 .3 3.2 .4 2.2 .1 2-.6 3.4 .4 1.6 .1-1.5 .4-3.7-.6-1.1-.1-2.9 .8-3-.6-2 .1-2.1 .4-1-.1-3.9 0-3.3 .2-2.8 .3-.8-.3-.9 .3-2.5-.6-3.5 0-2.3 .6-2 .1-2.4-.1-1.9-.5-2.9 .5-2.8 .4-1.6 .4-2.5-.7-1.9 .2-3.1 0 2.9 .7 .8 0 3.5-.5 .8 .1 4.3 0 2.6 .7 1.1-.5 .4 0 4.9 .9 1.3 .2 2.5-.2 3.3-.1 .8 .3-3.1 .3-3.1-.2-1.7 .2-1.5-.6-2.2-.2-1.2 .4-3.7 .3-2.1-.2-2.9 .1-1.4-.4-2.9 .1-3.3-.1-1.3 .8-4.9-.2-.7-.4-3.8 .6-2.6 .1 .2-.4-4.8 .7-2.5-.3 .7 0-5-.4-2.2 .4 .3 .2-2.5 0-3.4 0-1.4 0-4.9-.3-1.4 .5-2.2 0-2.6-.2-2.5 .2-3.4 .8-2.1-.4 .4 .1-4.2 .6-1.7-.2-.5 .5-4.7-.3-.4 .3-4.4 .3-1.3-.1-1.9 .5-1.3 .2-3.7-.6-.2 .7-3.4 .5-1.4 0-5 .3-2-.6-.2 .8-3.2-.6-.6 .2-4.1 .5-1.8-.1-2.4 .6-1.3 .5-4.7-.9-2.3 .1-.7 .4-1.7 .6-2.9 0-2.2-.4 2.6 .5 2.5 0 2.7-.1 .8 .4 2.5-.4 1.5 .7 2.1-.5 3.6 .8 2.1-.2 1.9 0 2.1-.2 3.8-.1 .6 0 3.4 .4 2 .1 2-.1 1.7-.4 4.1 .2 2.5 .1 1.2 .2 3.9 .2 .3 .1 3 .4-.9-.7-5.3 .7-1-.1-2.4-.1-3.7-.2-1.7-.1-.9 .8-2.4-.4-3.1 .5-1.2-.8-4.6 .2-2.3 .8-2.8-.4-2.8 .5 1-.6-5.4 .8 .3-.3-2.1 0-3.7 0-3.7 .1 .5-.2-3.5 .2-3 .4 3.7 .2 1.1 .1 3.1-.7 1.3 .7 3.4-.8 3.1 1 2.5-.8 2.2 .3 1.6 .5 2.4-.1 2.5-.1 2.5 .2-.4 .3 5.1-.2 .1 .7 3.6-.4 2.3 .4-1.2-.8-2.4 .9-2.6-.4-2.4 .6-4-.6-1.5 .5-2 .4-.9-.1-3.1-.1 3.2 0 2.1 .6-.1 .7 2.2-.2 3.7-.1 3.2 .4 .3 .4 1.8 .2 2.8-.1 2.7-.5 1.9 .5 .7 .2 5.4 .6 1.2-.2 1.8 0-.5 .5-5.3-.1 0 .6-1.4-.6-3 .6-1.6 0-2.1 .4-4.5-.2-1.7 .5 4-.5 1.2 0 .7 .6 2.7-.4 3 .8 3.3-.3 1.6-.1 2.6 .5 2.6 0 2.7 .3 .5-.5 4.1 .6 2-.1 2.4-.1 2.4 .1 1.2-.1 5.1 .4 .6 0 3.2 .7 1.2-.9 2.9 .8 1.1 .3 2.4 .1 3.4 0 2.8-.6 3 .6 2.7-.4 1.9 .5 2.7-.1 0 .1 2.9 .6-.5-.6-5.9-.3-2.1 .8-2.5-.4 1.1 .3-2.8 .1-5.1 0-2.4-.2 .9 .3-5.8 .2 .6 0-1.8 .4-5.5 0-1 .4 3.5 .2 .4-.6 4.2 .5 .7-.2 1.7 .5 4.8-.2-.6-.4 5.6 .3 2.4-.5-1.1 0 5.8 1.1 .2-.1 2.7 0 .7-.5 5.5 .1-.4 0 4 .1 2.2 .2 3.1 .1 1.1 .4-1.5-.6-2.9 .1-1.8 .6-1.4 .5-4-.7-2 .8-4.4 .1 .2-.4-2.3-.2-4.6 .1 .7 .4-4.8 .2-2.6-.5-2.6 1-.8-.4-2.6 0 1 .2 4.2 .5 1.7-.1 4.2-.6 1.3 .5 2.4 .4 2.8-.4 2.2 .3 2.9 .4 .6 .2 1.6-.5 5-.2-.5 .6 3.5-.4-.8 .2-4.3 .3-3.5-.4 .1 .9-2.1-.9-2.5 .4-4.3-.4-3.2 0-1.8 .1-2.5 .3-1.1 .3-1 0-5.4-.3-1.8 0-3.3 .4-1.8-.2-.1-.1-3.2 .6-3.5 0-2.1-.3-.4 .4-5.3-.3 .1 0-5 .3-1.6 0-.9 0-1.6-.7-4 .4-3.4 .5-1.7-.8-2.6 .7-.6-.2-2.2-.4-3.8 .1-2.6 .4-2 1.5 0-.4 .9 1 2.4-.4 4.6-.2 3.4-.2 1.4 .9 0 .1 2.8-.1 5.4 .4 2-.9 1.8 .6 .2 .4 4-.3 2.1 .3 2.7-.3 2.2 .2 3.6 .1 .8 .4 1.7-.6 3 0 2.2 1 3.8-.6 3.1 .7 .9-.7 2.4 .4 2.5 .5 1.2-.3 4.1 .5 2.9-1 .4 .7 2.7 .5-1 .3-2-.7-5.3 .2-1.7 .4-1.8 .4-2.4-.3-.8 .6-3.3 .3 1.4 .4 3 .1 1.8-.3 4.4 .4 4.4-.3-.7 0 3.6 .4 1.3 .1 5 .2 .8-.7 .3 .3 3.9 0-1.6 .5-1.3-.6-4.1 1-.5-.8-2.7 .2-4.9 .3-2.7 .6-.1-.1-2.6 .5-1.1-.3-3.9 0 1.1 0 3.5 .5 3-.1 2.3 .8-.3-.1 1.3 .4 3.7-.1 3 .1 .7 .5 2.7-.5 2.3-.1 1.9 .9 4.5-.6 2.9 .4 2.3-.5 2 1 1.2-.2 4-.1-.7-.2 5.3 .3 .7 0-.9-.5-2.8 .3-2.1 .7-3.3-.7-4.1 .9-.6-.1-3.9-.7-2.9 .7-2.3 .1-.6-.9-1.8 .7-2.5 0-2.2-.5-1.8 .7-3.5 .2-3.1-.3-1.2-.5-3 0-3.6 .5-.2 .5-2.1 0-4.6-.4-2.7 .4-.9-.2-3.1-.3-.9 .3-3.1-.5 3.7 .7 2.8 0 1.3 .6 2.6-.4 3 0 .4 .1 4.4-.1 2.4 0 .7 .3 2.8-.1 2.2 .1 3.4 .7 1.4-.6 3.7 .7 .5-.2 3 .4-3.3-.7-1.3 .9-.8-.1-2.8 .4-3.8 .2-2.1-.7-.5 .1-3.4 .4-2.8-.2-3.3 0-.8 .2-3.6 0-2.8 0-2.3 0-.5 .5-2.4 .5 2.9-.3 3.3 .5-.1-.5 3.6 .1 1.2 0 4.5 1.1 1.3 .2 2.3 .2 2.5 .1 3.1-.4 .9-.3-2.9 .6-.1-.4-3.8-.3-2.3 .6-1.4-.4-5.2 0-1.4 .6-1.3-.1-4.1-.1 .4 0-3.7 .3-3.1-.3-.4 0-2.7 .2-1.4 .6-5.6-.1-1.6-.2-1.3 .3-3.6 .5-1.7-.6 .2 .2-3.4 .4-1.7 .2-2.7 .4-2.6-.5-2.8 .4 2.7-.8 1.2 .9 2.1-.6 5 .5 1-.7 .7 0 5.6 .3 .8 .3 2.1 .4 1.1 0 4.3-.8 3.3 .1 2.4 .3 .8-.2 2.2 .1 3.6 0 1.9 .8 2.5-.8 1.9 .1 3.4 0 4.2 .4 .8 .4 4.6 0 1.9-.1 1.4 .1 1.9 .2 2.5-.7 1.5-.1 3.1 .4 3.7-.1 0 .4 3.2 .3 4.6-.2-.4-.4 4.3 .2 1.7-.3-.8 .4-5.7 .1 1 0-3.9-.3-2.7 .5-.8-.3-5 .1-.4-.3-4.4 .2 .7 .6-2.5-.5-3.8 .6-3.5 .3-1.5-.8-1 .1-4.2 .6-1-.4-3.5 .7-2.5-.7-.3 .7-2.2 .1-5.8-.2-1.3-.4-3.1 .3-1.3-.5-.7 .9-5.4-.4-2.3 0 .2 .2-3.4 .5 .7-.6 4.6 .6 3.1-.3-.8-.3 2.4 0 3.8-.2 4.3 .7 1.9-.6 .5 .4 4.4 .2 2.1-.4 2.7 .1 0 .8 4.4-1 .4 .2 2.1 .9 2.1-.4 2.3-.2 4.3 .4 3.3 .2-.5-.1 2.8-.8 2.4 .1 4.4 .1-.1 0 5.2 .1-.4 0 2.3 0 4.8 .5 1.9 0 1.5 .3 3.2-.6 2.4 1 .8-.9 2.2 .1 1.8 .1 2.4 0 4.5 .5 .8-.2 4.3 .4-.7-.7 2.7 .4 3.4 .2 2 .4 4.5-.5-.1 .6 4.7-.8 .1 .9 2.5-.4 3.9 .4 2.2-.3 1.6 0-1.8-.3-4.5 .9-1.8 .2-3 0-.2-.6-1.1 .6-5.6-.2-.5-.2-3.4-.3-.1 .8-2.4-.5-2.5-.1-2.1 .5-5.5-.2-1.4 .4-2.6-.1-1.6 .1 1.8-.2 3.8-.1 .1 0 3.1 0 1.3 .4 3.3 .1 3 .1 4.2-.5-.3 .3 3.8 .1 2.8 .2 1.6-.5 2 .9 2.2 0 4.3 .2 2.1 .1 2.2-.2 1.4-.5 1.1 .4 4.5-.3 0 .8 5.1-.9 .1 .2 2.4 .2 3.4-.1-3.5-.2-.4 .9-4.2-.3 .1 .5-4-.7-1.9 .7-3.8-.1-.2-.6-5.1 .7 0-.7-4 .3-2.6 .4-3.3 .5 .1 0-2.2-.8-2.7 .5-3.6-.4-2.7 .1 .2 .3-3.4 .3-2.8-.2-3.8 .5 .2-.1-5.2 .2 .6-.7-5.3 .5-1.3 .1 .9 .3 2.8 .2 4.5-.7 .6 .7 3.4-.2 2 .1 2.6-.6 3.4 1.1-.4-.1 4.2-.8 1 .2 2.2-.1 4 .2 3.6 0 1.5 .7 2.6 .2 .3-.4 3.5 .3 .8 .4 3.8-1 3.2 .4 2 .1 1 .2 3.1 .3 3.3 .6 1.4 0 .8-.5-1.9 .2-1.7 .5-3.5 .2-1.4-.7-3.7 .9-.9-.6-5.1 0-1.2 .2-1.8 0-3.4-.1-.5 .7-1.7-.6-3.6 .5-2.7 .1-3.6-.8-2.4 .5 .4 .2-5-.2 0 .3-2.9-.4-3.6 .4-.7-.4-2.1 0-4.3-.1-.5 .5-3-.6-4.5 .6-.4 .4-2 0-1.4-.7-5.1 .5-2.8-.1 .8-.3-4 0-2.5 .2-3.5 .7-2.4-.4-.8-.1 .8 .1 5.4 .1 .7 .1 2.6-.4 1 .3 2.3 .2 3.7-.4 2.8 .2 2.1 .3 1.9-.2 2.3 .3 1.8 0 4.4 .6 1.8 .1 2.3-.2 1.3-.6 3.5 .9-.1-.2 3.9 .2 3.1-.2 1.6 .1 2.2 .4 2.6-.8 2.2 .4 2.8 .1 1.2-.4 3.4 0 2.9 .5 .6 .6 4.3-.7 1.9-.2 .9 .7 4.4-.6 2.4 1 .5 .1 3.1-.2 4.2 .1 .7-.8 2.5 .6 3.4-.2 .6-.2 2.2 0 2.2 .6 3.5 .1-1.4 .2-2.4-.6-2.4 .5-3.4 .2-3.2 .2 .2-.2-3.9 .9-.5-.4-1.4 0-2.3-.4-2.8 .1-4.6 .6-1 .1-2 .2-1.9 .2-2.2 .3-3.9-.1-2.2-.6-2.5 .3-3.1 0-2.2 .4-1-.6-3.4 .3-2-.2-2.6 .5-1.7 .6-3.2-.5-.6-.1-3-.1-.8 .5-1.8 .2-5 .1-2.8 .2 .7-.4-3.9 .3-3.9 .1-1.3 .1-2.5-.2-3.3-.5-.7 .7-1.5-.7-3.8 .2-2.6 .4-.7 .4-2.8-.7-3.3 0-.8 .6-4.9-.1 .2 .6-3.3-1-.9 .4-4.4-.1-.4 .4-3.8 .2 3.8-.1 1.6 .1 2.3-.3 2 .8 3.2-.3 1.6-.2 1.6 .7 4.4 0 2.6-.8 1.5 .7 .8-.3 4.3 0 2.2 0 1.6 .8 3.3-.5 1.7 .6 1.5-.4 1.9-.3 4 .7 3.8-.4 2.1 .1 2.6 .4 .1 .1 2.9-.7 1 .2 3 .4 3.4 .2-1.9-.5-2.6 0-1.3 .1-4.9 .3-1.5 .3-1.7 0-3.9-.3-.9 .7-1.7-.8-2.7 .9-2.5-.7-3 .6-2.8-.5-.6 .2-3.1 .3-4.5-.2-1.4-.3-.8 .3-4.1-.2-2.1 .4-1.5 0-3 0-1.4 .8-2.6-.4-1.6 .2-4.7-.1-1.1 .5 .9-.4 5.5-.3-.7-.1 4.8 .9 1.6-.2 3.2 .5 1.6-.4 2.6 .4 3.5-.1-1.2-.6 3.5 .9 4.4-.9 1.5 0 1.4 0 3.6 .9-.2-.2 3.9-.5 3.5 .3 .2 .1 5-.1 1.9 .8 .9-.6 4.7 0-1.1-.1 3.1 0 3.2 .9 3 .1 3.3-.4 .8-.4-1 .3-2.3 .4-2.3-.1-4.9 .4 .4-.4-4.4 .1-1.4 .8-1.2-.2-5.1-.1-.9 .9-2.7-.4-.3 .2-4 .2 4.1 .4 1.1-.6 1.2 .1 3.4 .4 .7-.4 3.7 .1 2.1 .8 2.8 0 1.5-.1 3.1-.4-2.7 .4-2.6 .6-3.5 0-1.1-.9-1.4 .3-2.4 .3-2.6 0-3.2 .7-.8-.2-5.2-.7 .6 .8-4.2-.3-1.7-.3-3.7 1-2.5-1-1.5 1-1.4-.4-2.9-.2 1.4 0 2 .3 2.5-.4 4 0 3.4 .9 2.5-.3 .9 .3 3.9-.5 .7-.2 3.1 .7 1.9 0 3.8-.6-1 .1 4.6 .5 3.4-.1-.8-.1 4.5-.2 2.1 0 1 .4 4.3 .5 2-.7 1.1 .3 3.7 .2 2.3-.1 3.8-.2-.6 .5 3.1-.2 2.9 .3 .8-.3 5.2 .1 2.6 .1 .7 .1 1 .1 3-.1 2.2-.1 2.3-.1 4.5 .7 1.2-.3 .2 .3 2.8 .5 4-.3 3.1 .2 .2 .2 1.9-.7 5 .8 1.4-.2 1.7 .7 4 .2 .7-.1 2.7 .4 .5 .3 3.1 .2-.8-.4-5.3 0-1.4 .5-1.3 .3-4.3 .1-1.2-.5-.3 .4-2.9 0-2 0-2.5 .4-2.2 0-4.6 0-3-.2-2.5 .1-2.2 .2 .7-.9-5.6 .8-2.1-.2 0 .2-4.5-.6-.1 1-4.6 0-1.1-.8-2 .2-3 .6-.8 0-3.2-.4-1.6 .2-3.1 0 1 .3 2.1 .1 5.3-.6 2.7 .1-.7 0 4.3 .8 .9 .1 2.1-.2 4.8-.1 .9 .4 3.3-.7 2.2 .7 3.1-.2 1.9 .6 2.2-.4 2.2 .6-2-.1-1.7-.2-1.8-.5-2.2 1-4.1-.3-3.2-.2-1.2 .5-4.1-.5 .7-.1-3.8 .9-.6-.1-2.1-.6-5.6 .2-.3 .6-3.1 .3-1.4-.3-1.3 0-2.2-.5-3.6 .4-1-.2-2.8 .3-1.9 .6-5.5 0 .2 0-1.9-.3-3.7 .3-3.5-.4-1.4 .2-2.2 .4-3.1-.3-.8 .1-3.5 .1-2.3 .5-1.4-.5-4.1 .1-2.6 .1 .3-.2-2.7 .1-2.6 .6-5.1 0-1.2-.4-3.4 .2-1.1-.3-1.4 .1-4.2 .5 .2-.3-3.7 .6-4.3-.2-2.1 .4-1.7-.7-2.8 .5-1.3-.3 2.6 0 1.9 .7 2.4-.5 4.2 .5-.6-.1 3.4-.2 3.5 .8-.1-.6 3.4 0 4.7 .5 1.7-.1 1.6-.2 .4 .2 3.5 0 1.7 .5 2.7-.4 2.2 .6 4.6-.3 2.7 0 .9-.2 1.2 .1 2-.2 3.7 .1 3.7 .4 1.8 .2 2-.5 2.5 .4 3.7 .2-.5-.7 4.5 .3 .2 .2 4.9 0 1 .3 1.6 .4 5-.7 .5 .9 .7-.5 3.7-.4 4 1 1.6-.2 2.7-.2 2.5-.5 3.1 1.1 .9-.4 2.7-.4 2.8 .4 1.3-.4-3.6 .5 .1-.1-4.8 .4-1.9-.6-.3 .4-3.4 .6-.9-.4-4.1 .1-3.4 .1-1.7-.2-.5-.3-3.5 0-3.1 .4-3.2 .2-1.4 .3-3-.6-2.7 .1-2.5 0 .5 .1-2.9 .1-3.8 .3 0-.3-3.9 .5-2.5 .3-2.4-.4-3.2 .5-1.1-.3-3.1 .3-2.8-.4 .3 1-3-.8-4.4 .8-1.7-.3-2.4-.2-2.5 1-1.7-.7-1.6 .9-3-.4-2-.1 .8-.4 5.3 .5 .9 .2 2.8 .2 1.4 .1 3 .1 1.3-.1 4.6-.8 3 .4-.6 .1 3.5-.6 3.4 1.1 .2-.8 4.2 .7 2.1-.7 1 .8 3.8 0 2.4-.3 3.9-.1 1.6-.1 1.2-.3 2.4 .4 2.1-.4 3.3 .7 3.2-.7-.3 .9 4.1-.8 3.4 .3 1.4 .6 3.7-1 1.4 .4 3.3 .1 1.2 .2 3.2 .3 2.7-1-.5 1 3.4-.6 1.3 .4 4.1-.5 3 .5 1.6-.7 2.5 .7 1 0 4.3-.5 3.4 .3-.9 .1 4 0-1.4-.2-3.1 .4-3.7 .2 .3 .2-4.1 .2-3.7-.3-.3-.4-4.8 .6-1 .2-2.4-.1-2.3 .1-2.1 .1-2.9 0-.2 .2-5.1-.3-.3 .2-2.7 .1-3.2 0-2.9-.2-.6 .2-3.6 .4 .6-.4 4.9 .6 1 .2 4.2-.2-.8 .1 2.5 .2 2.5-.2 4.5 0 3 .4 1-.1 3-.1 .2 .3 2.4-.2 3.5 .1 2.1 .1 3.7 .1 2.7-.4 .9 0 3.6 .4 .8-.2 3.8 1 2.1-.1-.7-.7 4.1 0 3.4 .3 2.4 .1 1.9 .4 0 .3 3.5-.3 1.3-.1 3 .2-4.1-.1-1.3 .3 .2 .2-5.4 0-.8-.2-2.9 .1-2.6-.2-.1 .8-4-.8-3.8 .4 .6-.3-4.4 .4-3.6 .5-2.9-.4-2.5 .8-.8-.2-4.8-.2-.6 0 1.2 .5 3.2-.5 2.8-.2 1.4 .4 3.7-.2 1.2 .8 3.2-.2 3.1 0 .9 .3 3.8-.1 2.7 0-.9-.6 3.7 .6 4-.4-.5 .2 4.8-.3 2.1 .6 2.3 .3 .1-.6 3.7 .5 .4-.2 3.8 .1 3.7-.1 1.2-.1-3.2 .2-.7-.2-3.9 .4-.2-.1-3.9 .1-3.8 .4-1.1-.5-2.6 .7-.6-.6-2.9 .4-1.8 .2-4.1 0-1.6 .3-4.1-.4-2.3 .5-2-.1-.3 0-2.8-.1-1.4 .4-5.4-.2-2.2 0-1-.1-2.9-.2-.2 1-2.4-.4-3.7-.6-3.8 .2-.4 .7-3.2-.5-3.2 .8-1.9-.5-2-.3-3 .5-.7-.1-3.4 0-1.6-.1-1.8-.1-3.3 .5-1.9 .2-3.2-.2-1 .3-2.9 .6 3.9-.4-.6 .4 4.7-.1 1.7 .2 3-.3 .3 .2 2.6 .3 3.2-.8 3.7 .2 2.1 .2 1.2 .7 4.2 0 1.4-.1 0-.8 3.4 .2 2.1 .4 3.2-.2-2.1 .4-2.4 .2-.9-.1-5.5-.1-1.9 .6-2.9 .4-1.5-.6-2.3 .6-3-.5 .5 .6-3.9 0-2.4 .2 3.2 .4 2.6-.4 1.9 .5-.5-.2 3.6-.2 .4 .2 3.4" fill="none" stroke="#1f77b4" stroke-width="1.92" stroke-linejoin="round" />
<rect x="61.50" y="844.50" width="466.25" height="301.10" fill="none" stroke="#000" stroke-width="0.798"/>
<text x="294.62" y="838.27" font-size="12.34" text-anchor="middle" textLength="116.22" lengthAdjust="spacingAndGlyphs">binanceWhaleDelta</text>
<line x1="86.90" y1="1145.60" x2="86.90" y2="1149.53" stroke="#000" stroke-width="0.798"/>
<text x="86.90" y="1160.79" font-size="10.26" text-anchor="middle" textLength="41.13" lengthAdjust="spacingAndGlyphs">2023-05</text>
<line x1="158.60" y1="1145.60" x2="158.60" y2="1149.53" stroke="#000" stroke-width="0.798"/>
<text x="158.60" y="1160.79" font-size="10.26" text-anchor="middle" textLength="41.13" lengthAdjust="spacingAndGlyphs">2023-07</text>
<line x1="231.48" y1="1145.60" x2="231.48" y2="1149.53" stroke="#000" stroke-width="0.798"/>
<text x="231.48" y="1160.79" font-size="10.26" text-anchor="middle" textLength="41.13" lengthAdjust="spacingAndGlyphs">2023-09</text>
<line x1="303.18" y1="1145.60" x2="303.18" y2="1149.53" stroke="#000" stroke-width="0.798"/>
<text x="303.18" y="1160.79" font-size="10.26" text-anchor="middle" textLength="41.13" lengthAdjust="spacingAndGlyphs">2023-11</text>
<line x1="374.88" y1="1145.60" x2="374.88" y2="1149.53" stroke="#000" stroke-width="0.798"/>
<text x="374.88" y="1160.79" font-size="10.26" text-anchor="middle" textLength="41.13" lengthAdjust="spacingAndGlyphs">2024-01</text>
<line x1="445.40" y1="1145.60" x2="445.40" y2="1149.53" stroke="#000" stroke-width="0.798"/>
<text x="445.40" y="1160.79" font-size="10.26" text-anchor="middle" textLength="41.13" lengthAdjust="spacingAndGlyphs">2024-03</text>
<line x1="517.10" y1="1145.60" x2="517.10" y2="1149.53" stroke="#000" stroke-width="0.798"/>
<text x="517.10" y="1160.79" font-size="10.26" text-anchor="middle" textLength="41.13" lengthAdjust="spacingAndGlyphs">2024-05</text>
<text x="294.62" y="1175.30" font-size="10.26" text-anchor="middle" textLength="23.32" lengthAdjust="spacingAndGlyphs">Date</text>
<line x1="57.57" y1="864.00" x2="61.50" y2="864.00" stroke="#000" stroke-width="0.798"/>
<text x="53.55" y="868.02" font-size="10.26" text-anchor="end" textLength="12.18" lengthAdjust="spacingAndGlyphs">20</text>
<line x1="57.57" y1="927.50" x2="61.50" y2="927.50" stroke="#000" stroke-width="0.798"/>
<text x="53.55" y="931.52" font-size="10.26" text-anchor="end" textLength="12.18" lengthAdjust="spacingAndGlyphs">10</text>
<line x1="57.57" y1="991.00" x2="61.50" y2="991.00" stroke="#000" stroke-width="0.798"/>
<text x="53.55" y="995.02" font-size="10.26" text-anchor="end" textLength="5.84" lengthAdjust="spacingAndGlyphs">0</text>
<line x1="57.57" y1="1054.50" x2="61.50" y2="1054.50" stroke="#000" stroke-width="0.798"/>
<text x="53.55" y="1058.52" font-size="10.26" text-anchor="end" textLength="20.53" lengthAdjust="spacingAndGlyphs">−10</text>
<line x1="57.57" y1="1118.00" x2="61.50" y2="1118.00" stroke="#000" stroke-width="0.798"/>
<text x="53.55" y="1122.02" font-size="10.26" text-anchor="end" textLength="20.53" lengthAdjust="spacingAndGlyphs">−20</text>
<text x="26.29" y="995.91" font-size="10.26" text-anchor="middle" textLength="26.86" lengthAdjust="spacingAndGlyphs" transform="rotate(-90 26.29 995.91)">Value</text>
<rect x="66.48" y="849.48" width="135.60" height="18.31" rx="2.01" fill="#fff" fill-opacity="0.8" stroke="#ccc" stroke-opacity="0.8" stroke-width="1.00"/>
<line x1="70.48" y1="857.74" x2="90.43" y2="857.74" stroke="#1f77b4" stroke-width="1.50" stroke-linecap="square"/>
<text x="98.69" y="861.09" font-size="10.26" text-anchor="start" textLength="97.62" lengthAdjust="spacingAndGlyphs">WhaleRetailPosition</text>
<path d="M724.8 1590.6l.2-20.6 .2 21 .3-9.6 0 9 .3-11.7 0 11.6 .2-28.3 .2 28.3 .2-10.7 0 10.9 .2-22 .3 22.4 .2-18.2 .1 17.5 .2-24.2 .2 24.8 .2-17.6 .1 17.1 .3-8.8 0 9.4 .3-16 .1 15.9 .2-16.7 0 16.9 .2-57 .3 56.6 .2-11.9 .1 12 .2-18.3 .2 18.5 .2-14.4 .1 14.5 .2-5.3 .1 4.7 .2-8.8 0 9.3 .2-36.9 .2 36.9 .2-23.9 .1 23.7 .2-24.9 .1 25 .2-22.1 0 22.1 .2-30.8 .3 30.5 .2-16.9 .2 17 .2-18.9 .1 18.9 .2-45.6 .2 45.4 .2-15.5 0 16 .2-24.3 .2 24 .3-14.5 0 14.3 .3-18.6 0 18.5 .2-30.3 .2 31 .2-12.6 .1 12.2 .3-16.1 .1 15.8 .2-9.7 0 10.3 .2-25.2 .3 24.9 .2-9.3 .1 9.7 .3-16.7 0 16.2 .2-20.5 .2 20.4 .2-11.2 .1 11.5 .2-10.8 .1 10.9 .3-5.8 0 5.2 .2-26.7 .2 27.1 .2-17.2 .1 17.3 .2-20.7 .2 21-.2-13 10.6 6-.2 6.4 .2-26.4 .2 26.5 .2-12.9 0 12.9 .2-19.5 .3 19.4 .2-4.3 .1 4.2 .2-29.3 .2 29.7 .3-8 0 7.6 .3-7 0 7.1 .2-24.4 .2 25-.2-13 9.6 3-.2 9.2 .2-22.2 .2 22.7 .2-5.8 0 5.4 .2-22.5 .2 23.1 .3-19 .1 19.1 .2-8 .1 7.4 .3-15.9 0 16.4 .2-47.9 .2 47.7 .2-7.4 0 7.1 .3-6.3-.1 6.1 .2-21.8 .3 22 .2-6.8 .2 7.4 .2-19.1 .1 18.4 .2-26.3 .3 26.5 .2-16.9 .1 17.3 .2-30.5 .2 30.3 .2-19.1 0 19 .2-30.6 .2 30.6 .2-16.5 .1 16.8 .3-16.7 .1 16.7 .2-18.3 0 18.1 .2-23.1 .2 23.3 .2-7.6 .1 7.3 .3-12.5 .1 12.4 .2-15.7 0 16.2 .2-23 .2 22.9 .3-14.4 0 14.2 .3-15.6 .1 15.7 .2-7.1 .1 7.3 .3-12.8 0 12.5 .3-15.1 0 14.8 .2-22.4 .2 22.8 .3-18.7 .1 18.8 .2-4.9 .1 4.7 .3-17.6 0 17.1 .2-72.2 .2 72.5 .2-7 .1 7.2 .3-9.9 0 10.2 .3-21.6 .1 21 .2-15.7 0 15.7 .2-30.4 .1 30.7 .3-4.7 0 4.9 .3-7.5-.1 7.4 .2-16.9 .3 16.9 .2-4.6 .2 4.5 .2-5.4 .1 5.5 .2-22.8 .2 22.4 .2-5.3 0 5.4 .2-20.5 .2 21-.2-2 9-13-.2 14.9 .2-28.9 .3 28.8 .2-23.9 .1 24 .2-29.9 .2 29.7 .2-11.7 0 11.9 .2-21.9 .2 21.7 .3-7.1 .1 7.3 .2-15.1 .1 14.8 .2-5.2 0 4.9 .2-19.3 .2 19.5 .3-15.4 0 15.2 .2-22.3 .2 22.2 .3-5.9 0 6.3 .3-13.6 0 13.5 .2-34.5 .2 34.4 .3-7 0 7.2 .3-18 0 18.2 .2-47.8 .1 47.6 .2-15.2-.1 15.4 .2-30.8 .2 31-.2-20 6.6 15-.2 4.4 .2-26.4 .2 26.4 .2-5.9 0 6 .2-24.6 .2 24.4 .3-9 .1 9.4 .2-8.2 .1 8.2 .3-7.7 0 7.3 .2-34.3 .2 34.3 .3-7.1 0 7.2 .2-27.6 .2 27.8 .2-18.4 .1 18.3 .2-7.5 0 7.7 .2-36.7 .2 36.8 .3-13.1 .1 12.6 .2-26 .1 26.6 .3-28.7 0 28.4 .2-72.6 .2 72.3 .3-13 0 13.1 .2-19 .2 19.6 .2-14 .1 13.6 .3-6.9 0 6.9 .3-7.7 0 7.8 .2-32.7 .3 32.7 .2-10 .1 10.3 .3-14.3 .1 14 .2-19.6 .1 19.4 .3-14 0 14.3 .2-4.1 0 3.8 .2-35.5 .2 35.7 .3-10.5 .1 10.2 .2-9.7 .1 9.9 .3-13.8 0 14.1 .2-30.9 .2 30.7 .3-16.7 0 16.8 .2-28.1 .2 28 .2-7.7 .1 7.8 .2-21.8 0 21.7 .2-55.1 .2 55.3 .3-14.9 .1 14.3 .2-8.6 .1 9.3 .3-9.1 0 9 .2-17.9 .2 17.6 .2-4.1 0 3.7 .2-26.2 .2 26.7 .3-9.1 .1 9 .3-21.2 0 21.3 .2-31.2 .2 30.9 .2-7.7 .1 7.7 .2-4.6 0 4.9 .2-22.7 .2 22.4 .3-7.1 .1 7 .2-6.4 0 6.4 .2-27.1 .2 27.5 .2-16.6 0 16.4 .2-48.9 .2 49.3 .2-14.4 0 14.2 .2-21.9 .2 22 .3-16.1 .1 15.8 .2-14.1 .1 14.6 .3-7.4 0 6.6 .2-32.2 .2 32.8 .2-10.9 .1 11 .2-19 0 19 .2-27 .1 26.6 .3-12.9-.1 12.7 .2-47.9 .2 48.1 .2-9.4 0 9.2 .2-26 .1 26.2 .3-18.4 0 18.8 .3-7.8-.1 7.2 .2-29.6 .2 29.8 .2-6.9 0 6.8 .2-30.4 .2 30.7 .2-13.3 0 13.3 .2-18.2 .3 17.8 .2-4.9 0 5.6 .2-21.3 .2 21.3 .3-11.9 0 11.2 .2-26.3 .2 26.3 .3-8.1 .1 8.7 .2-19.3 0 18.8 .2-26.7 .2 26.9 .3-17.2 .1 16.8 .2-22.2 0 22.6 .2-33.6 .2 33.3 .2-9.3 .1 9.3 .2-15.9 .1 16.2 .2-5.2 0 5.5 .2-24.2 .3 24 .2-5 .1 5.2 .2-35.9 .2 35.4 .3-10.1 0 10.5 .3-5.8 0 5.4 .2-27.8 .2 28.3 .2-5.8 .1 5.2 .3-14.9 0 15.6 .2-29 .2 28.4 .2-13.4 .1 13.4 .3-22.7 0 22.9 .3-9.3 .1 9.1 .2-20.9 0 21.2 .2-33.7 .2 33.6 .3-18.5 .1 18.1 .2-8.1 .1 8.9 .3-15.2 0 15.1 .2-43.3 .2 42.7 .3-13.9 0 13.9 .2-27.4 .2 27.4 .3-6.7 0 7.3 .3-22.6 .1 22.1 .2-15.1 0 15.1 .2-28.4 .3 28.6 .2-14.6 .1 14.4 .2-24.9 .1 25.2 .3-13.3 0 13.3 .3-10.4 0 10.6 .2-29.2 .2 28.9 .2-12.6 .1 12.5 .2-26.5 .1 26.3 .3-12.5-.1 12.4 .2-20.5 .3 20.7 .2-12.4 .1 12.6 .3-12.8 0 12.7 .2-22.5 .1 23 .3-5.3-.1 5 .2-19.6 .3 19.9 .2-15.8 .1 15.5 .3-13.3 0 12.9 .2-38.3 .2 38.7 .3-6.9 0 7 .2-27.4 .2 27.3 .3-5.7 0 5.3 .3-5.9 .1 6.5 .2-20.1 0 19.6 .2-24.4 .2 24.7 .3-19.3 0 19.5 .2-27.2 .2 27 .2-17.5 .1 17.3 .3-5.6 0 6 .3-9.1 0 8.7 .2-34.5 .3 34.3 .2-4.6 .1 4.6 .3-17.2 .1 17.3 .2-7.9 .1 8.2 .2-22.9 .2 23.2 .2-8.3 .1 7.8 .2-8.1 0 8 .2-28.4 .3 28.4 .2-14.4 .2 14.2 .2-3.9 .1 4.4 .2-17.8 .2 17.5 .2-4.2 .1 4.5 .2-11.2 .1 11 .2-6 0 6.2 .2-54.1 .2 53.8 .2-6.6 0 6.9 .3-7.6-.1 7.8 .2-29.4 .3 29 .2-8.9 .2 9.1 .2-19.5 .1 19.6 .2-40.8 .3 40.7 .2-17.4 .1 17.4 .2-29.2 .2 29.3 .2-13.6 .1 13.6 .2-19.9 .1 19.7 .2-7.5 0 7.7 .2-30.8 .2 30.9 .2-7.8 0 7.4 .2-21.9 .2 22.3 .3-4.1 .1 4 .2-8.2 .1 8.2 .3-5.9 0 5.8 .2-18.7 .3 18.5 .2-6.2 .2 6.1 .2-11.9 .2 12.3 .2-8.9 .1 8.7 .2-28.7 .2 28.5 .2-23 .1 23.5 .3-24.6 0 24.1 .2-29.4 .2 29.9 .3-6.3 0 6 .3-3.9 0 3.8 .2-17 .2 16.8 .2-13.2 .1 13.2 .2-10.1 0 10.8 .2-20.7 .2 20 .3-13.9 0 14.1 .2-35.5 .2 36 .3-16.4 .1 16 .2-15.9 .1 15.6 .3-18.7 0 18.7 .2-28.3 .2 28.9 .2-4.9 .1 4.8 .2-8.9 0 8.4 .2-21.3 .2 21.5-.1-.5 .2-278.2 .2 278.2 0-5.9 0 6.8 .2-23.5 .2 22.8 .3-18.8 .1 19.1 .2-7.3 .1 7.2 .3-8.7 0 8.8 .2-24.5 .2 24.2 .3-13.9 .1 14 .2-6.5 0 7 .2-20.3 .2 20.1 .3-9.4 .1 9.7 .2-5 0 4.4 .2-16.3 .2 16.4 .2-13.6 .1 13.6 .3-4 0 4 .2-22 .2 21.9 .2-4.2 0 4.3 .2-18.4 .2 18.4 .3 0 .1 0 .2 0 .1 .4 .3 0 .2 .2 .2 0-.4 4.6 .2-3.6 .3 3.6 .2-3.1 .2 3.1 .3-3.6 .1 3.6 .3-2.1 .1 2.1 .3-2.3 .2 2.3 .2-3.5 .2 3.5 .2-2.5 .2 2.5 .2-2 .2 2 .3-2.6 .1 2.6 .3-2.1 .1 2.1 .3-2 .2 2 .2-3.1 .1 3.1 .2-7.6 .3 7.6 .2-3.4 .2 3.4 .3-2.9 .2 2.9 .2-1.9 .2 1.9 .2-3.4 .2 3.4 .3-2.5 .2 2.5 .2-2.5 .1 2.5 .2-3.6 .3 3.6 .3-2.8 .2 2.8 .2-2.8 .2 2.8 .2-2.5 .2 2.5 .3-2.4 .2 2.4 .2-3.3 .2 3.3 .2-3.1 .2 3.1 .3-3.2 .2 3.2 .2-3.6 .2 3.6 .3-2.4 .2 2.4 .2-2.4 .2 2.4 .2-2.5 .2 2.5 .3-1.9 .2 1.9 .2-3.5 .2 3.5 .2-3.3 .2 3.3 .3-2.4 .1 2.4 .2-4 .3 4 .2-3.4 .2 3.4 .3-2.6 .2 2.6 .2-2.6 .2 2.6 .2-3.9 .2 3.9 .3-2.4 .2 2.4 .2-2.1 .2 2.1 .2-3.5 .2 3.5 .2-2.3 .2 2.3 .3-2.9 .2 2.9 .2-2.6 .2 2.6 .2-3.9 .2 3.9 .3-3.3 .2 3.3 .2-2.9 .1 2.9 .2-5.2 .3 5.2 .3-3 .2 3 .2-2.6 .2 2.6 .3-2.6 .2 2.6 .2-3.2 .2 3.2 .2-2.9 .2 2.9 .3-2.5 .2 2.5 .2-3.8 .2 3.8 .3-3.4 .1 3.4 .2-4.4 .3 4.4 .3-3.1 .2 3.1 .2-3.6 .2 3.6 .2-3.8 .2 3.8 .3-3.9 .2 3.9 .2-2.5 .2 2.5 .3-3.4 .2 3.4 .2-2.9 .2 2.9 .2-3.7 .2 3.7 .3-3.7 .1 3.7 .2-5.2 .3 5.2 .2-4.7 .2 4.7 .2-2.8 .2 2.8 .2-5.2 .1 5.2 .2-14.6 .3 14.6 .2-5.1 .2 5.1 .2-3.2 .2 3.2 .2-3.9 .1 3.9 .2-5.2 .3 5.2 .3-3.7 .2 3.7 .2-4.3 .2 4.3 .2-5 .2 5 .3-4.6 .2 4.6 .2-4.8 .2 4.8 .3-4 .2 4 .2-3.9 .2 3.9 .2-4.3 .2 4.3 .3-3.2 .1 3.2 .2-6 .3 6 .3-5.6 .2 5.6 .2-3.6 .2 3.6 .3-5.3 .2 5.3 .2-4.5 .2 4.5 .2-5 .2 5 .3-3 .2 3 .2-5.3 .2 5.3 .3-5.5 .2 5.5 .2-5.2 .2 5.2 .3-5.4 .2 5.4 .2-5 .2 5 .3-5 .2 5 .2-4.8 .2 4.8 .2-4.1 .2 4.1 .3-5.3 .2 5.3 .2-5.9 .2 5.9 .3-4.4 .1 4.4 .2-6 .3 6 .2-3.5 .2 3.5 .2-5.2 .2 5.2 .2-5.8 .2 5.8 .2-4.4 .1 4.4 .2-6.6 .2 6.6 .3-6.5 .1 6.5 .2-5.4 .1 5.4 .3-6.3 0 6.3 .2-37.6 .2 37.6 .3-3.7 .1 3.7 .2-4.4 .1 4.4 .3-5.6 0 5.6 .2-6 .3 6 .3-4.9 .1 4.9 .3-5.7 .2 5.7 .2-5.4 .2 5.4 .3-3.9 .1 3.9 .3-3.6 .2 3.6 .2-4 .2 4 .3-3.9 .1 3.9 .3-4.6 .2 4.6 .2-4 .2 4 .3-5.4 .1 5.4 .3-3.9 .1 3.9 .2-7.6 .3 7.6 .2-4.1 .2 4.1 .3-6 .1 6 .3-6.5 .1 6.5 .3-7.4 .2 7.4 .2-4.4 .2 4.4 .2-7.1 .2 7.1 .2-5.6 .2 5.6 .3-4.1 .1 4.1 .3-4.1 .1 4.1 .3-5.1 .2 5.1 .2-6.7 .1 6.7 .2-8 .3 8 .3-6.3 .2 6.3 .2-4.6 .2 4.6 .3-4.3 .2 4.3 .2-4.3 .2 4.3 .2-3.5 .2 3.5 .3-4.1 .2 4.1 .2-6.3 .2 6.3 .3-5.1 .1 5.1 .2-6.6 .3 6.6 .2-4.5 .2 4.5 .2-5.6 .2 5.6 .2-5.5 .1 5.5 .2-29 .2 29 .3-6.3 .1 6.3 .2-6.2 .1 6.2 .3-6.5 0 6.5 .2-6.6 .3 6.6 .3-5.5 .2 5.5 .2-4.1 .2 4.1 .3-4.6 .2 4.6 .2-5 .2 5 .2-6.1 .2 6.1 .3-5.9 .2 5.9 .2-4.5 .2 4.5 .3-4.5 .1 4.5 .2-7.2 .3 7.2 .2-4.6 .2 4.6 .3-6.9 .2 6.9 .2-5.1 .2 5.1 .2-6.2 .2 6.2 .3-5.1 .2 5.1 .2-6.6 .1 6.6 .2-7.6 .2 7.6 .3-5 .1 5 .2-4.5 .1 4.5 .3-4.4 0 4.4 .2-35 .2 35 .3-4.6 .1 4.6 .2-5.9 .1 5.9 .3-6.1 0 6.1 .2-7.6 .3 7.6 .3-3.9 .1 3.9 .3-6.6 .2 6.6 .2-6 .2 6 .3-4 .1 4 .3-5.7 .2 5.7 .2-6.3 .2 6.3 .3-6.1 .1 6.1 .3-4.6 .2 4.6 .2-5.2 .2 5.2 .3-5.2 .1 5.2 .3-6.4 .1 6.4 .2-8.2 .3 8.2 .2-7.5 .2 7.5 .2-5.9 .2 5.9 .2-5.7 .2 5.7 .2-6.2 .1 6.2 .2-7.6 .3 7.6 .3-2.3 .2 2.3 .2-3.5 .2 3.5 .3-2.4 .2 2.4 .2-4.6 .2 4.6 .2-2.6 .2 2.6 .3-3.8 .2 3.8 .2-3.2 .2 3.2 .3-2.9 .1 2.9 .2-4.6 .3 4.6 .3-2.6 .2 2.6 .2-3.7 .2 3.7 .3-3.9 .2 3.9 .2-2.5 .2 2.5 .2-4.2 .2 4.2 .3-3.1 .2 3.1 .2-3.8 .2 3.8 .3-3.6 .1 3.6 .2-5.2 .3 5.2 .3-3 .2 3 .2-1.8 .2 1.8 .3-2.8 .2 2.8 .2-2.7 .2 2.7 .2-2 .2 2 .3-1.9 .2 1.9 .2-2.4 .2 2.4 .3-3.1 .1 3.1 .2-3.6 .3 3.6 .3-2.5 .2 2.5 .2-2.3 .2 2.3 .3-3.6 .2 3.6 .2-2.4 .2 2.4 .2-2.5 .2 2.5 .3-2.3 .2 2.3 .2-3.6 .2 3.6 .3-2.8 .1 2.8 .2-6.6 .3 6.6 .2-2.9 .2 2.9 .3-3.5 .2 3.5 .2-2.8 .2 2.8 .2-2.8 .2 2.8 .3-2.5 .2 2.5 .2-3.4 .1 3.4 .2-3.6 .3 3.6 .2-3 .2 3 .2-3.3 .2 3.3 .2-2.8 .1 2.8 .2-12.6 .3 12.6 .2-3.7 .2 3.7 .2-3.9 .2 3.9 .2-3.7 .2 3.7 .2-3.7 .2 3.7 .2-4.4 .1 4.4 .2-4.6 .3 4.6 .3-3.2 .1 3.2 .3-2.6 .2 2.6 .2-3.8 .2 3.8 .3-2.5 .1 2.5 .3-3.9 .1 3.9 .2-8 .3 8 .2-2.9 .2 2.9 .2-4.2 .2 4.2 .2-2.8 .2 2.8 .2-3.2 .2 3.2 .2-3.7 .1 3.7 .2-4.6 .3 4.6 .2-4.4 .2 4.4 .2-4.3 .2 4.3 .2-4.5 .2 4.5 .2-4 .2 4 .2-3.8 .2 3.8 .2-3.7 .2 3.7 .2-3.7 .2 3.7 .2-3.5 .1 3.5 .2-8 .3 8 .2-5.2 .2 5.2 .3-2.8 .2 2.8 .2-3.8 .2 3.8 .2-4.4 .2 4.4 .2-5.6 .2 5.6 .3-3.3 .2 3.3 .2-5.3 .1 5.3 .2-5.6 .3 5.6 .2-4.7 .2 4.7 .2-4.5 .2 4.5 .2-4.9 .2 4.9 .2-4 .1 4 .2-6.6 .3 6.6 .2-3.5 .2 3.5 .3-4.9 .2 4.9 .2-3.8 .2 3.8 .2-4.8 .2 4.8 .3-3.7 .2 3.7 .2-3.4 .1 3.4 .2-13 .3 13 .2-5.5 .2 5.5 .2-4.2 .2 4.2 .2-3.6 .2 3.6 .2-3 .2 3 .2-5.1 .1 5.1 .2-5.6 .3 5.6 .3-3.1 .1 3.1 .3-4.9 .2 4.9 .2-3.6 .2 3.6 .3-3.1 .1 3.1 .3-4.8 .1 4.8 .2-7.6 .2 7.6 .3-7.2 .1 7.2 .2-4.5 .1 4.5 .3-5.3 0 5.3 .2-15.6 .3 15.6 .2-7.1 .2 7.1 .2-4 .2 4 .2-7.4 .2 7.4 .2-6.2 .1 6.2 .2-7.6 .3 7.6 .3-3.4 .1 3.4 .3-2.9 .2 2.9 .2-4.9 .2 4.9 .3-4.1 .1 4.1 .3-4.3 .1 4.3 .2-5.6 .3 5.6 .2-4.6 .2 4.6 .3-3.1 .2 3.1 .2-4.5 .2 4.5 .2-3.1 .2 3.1 .3-2.9 .2 2.9 .2-3.4 .1 3.4 .2-7.6 .3 7.6 .2-6.6 .2 6.6 .2-4.4 .2 4.4 .2-7.1 .2 7.1 .2-7 .2 7 .2-3.8 .1 3.8 .2-12.2 .3 12.2 .3-3.2 .1 3.2 .3-5.3 .2 5.3 .2-5.5 .2 5.5 .3-5.7 .1 5.7 .3-3.3 .1 3.3 .2-6 .3 6 .2-5.3 .2 5.3 .3-5.9 .2 5.9 .2-3.3 .2 3.3 .2-4.9 .2 4.9 .3-4.2 .2 4.2 .2-4.3 .1 4.3 .2-6.6 .3 6.6 .2-4.2 .2 4.2 .2-5.5 .2 5.5 .2-5.1 .2 5.1 .2-6 .2 6 .2-4.8 .1 4.8 .2-37 .3 37 .2-5.6 .2 5.6 .2-3.3 .2 3.3 .2-5.3 .1 5.3 .2-6 .3 6 .2-4.3 .2 4.3 .2-4.5 .2 4.5 .2-5.5 .1 5.5 .2-12 .3 12 .2-3.5 .2 3.5 .2-4.3 .2 4.3 .2-2.7 .2 2.7 .2-4.3 .1 4.3 .2-4.6 .3 4.6 .2-3.3 .2 3.3 .2-3.7 .2 3.7 .2-3.3 .2 3.3 .2-2.8 .2 2.8 .2-3.8 .1 3.8 .2-6 .3 6 .2-3.8 .2 3.8 .3-3.1 .2 3.1 .2-2.7 .2 2.7 .2-2.8 .2 2.8 .3-2.8 .2 2.8 .2-4.6 .1 4.6 .2-4.6 .3 4.6 .2-4.3 .2 4.3 .3-4 .2 4 .2-2.6 .2 2.6 .2-3.8 .2 3.8 .3-4.1 .2 4.1 .2-3.5 .1 3.5 .2-19.6 .3 19.6 .2-3.5 .2 3.5 .2-4 .2 4 .2-3.9 .2 3.9 .2-3.4 .1 3.4 .2-5.6 .3 5.6 .3-5 .2 5 .2-4.4 .2 4.4 .3-3.8 .2 3.8 .2-4.6 .2 4.6 .2-4.9 .2 4.9 .3-2.9 .2 2.9 .2-5 .2 5 .3-4.6 .1 4.6 .2-8 .3 8 .2-4.3 .2 4.3 .3-4.3 .2 4.3 .2-3.8 .2 3.8 .2-3.3 .2 3.3 .3-3.7 .2 3.7 .2-3.4 .1 3.4 .2-6 .3 6 .2-4 .2 4 .3-3.7 .2 3.7 .2-3.9 .2 3.9 .2-5 .2 5 .3-4.7 .2 4.7 .2-4.7 .1 4.7 .2-14 .3 14 .2-4.5 .2 4.5 .2-5.2 .2 5.2 .2-3.8 .2 3.8 .2-3.4 .1 3.4 .2-5.6 .3 5.6 .3-4.3 .2 4.3 .2-4.2 .2 4.2 .3-3 .2 3 .2-3.4 .2 3.4 .2-4.2 .2 4.2 .3-4.8 .2 4.8 .2-5.2 .2 5.2 .3-3.1 .1 3.1 .2-6 .2 6 .3-5.5 .1 5.5 .2-4.3 .1 4.3 .3-3.8 0 3.8 .2-17.6 .2 17.6 .3-9.8 .1 9.8 .2-15.1 .1 15.1 .3-9.1 0 9.1 .2-21 .3 21 .2-8 .2 8 .2-5.9 .2 5.9 .2-9.6 .1 9.6 .2-10.6 .3 10.6 .3-6.3 .1 6.3 .3-6.3 .2 6.3 .2-7.1 .2 7.1 .3-9.5 .1 9.5 .3-8.1 .1 8.1 .2-12.6 .3 12.6 .3-12.2 .1 12.2 .3-11.4 .2 11.4 .2-8.1 .2 8.1 .3-11.3 .1 11.3 .3-6.9 .1 6.9 .2-12.6 .3 12.6 .2-8.1 .2 8.1 .2-10 .2 10 .2-9.4 .2 9.4 .2-7.7 .2 7.7 .2-6.5 .1 6.5 .2-11.6 .3 11.6 .2-9.6 .2 9.6 .3-7.1 .2 7.1 .2-6.5 .2 6.5 .2-9.8 .2 9.8 .3-8.9 .2 8.9 .2-6.1 .1 6.1 .2-10.6 .3 10.6 .2-9.2 .2 9.2 .3-5.8 .2 5.8 .2-10 .2 10 .2-9 .2 9 .3-5.5 .2 5.5 .2-7.2 .1 7.2 .2-13.6 .3 13.6 .2-5.6 .2 5.6 .2-4.9 .2 4.9 .2-7.5 .2 7.5 .2-5.1 .1 5.1 .2-7.6 .3 7.6 .2-6 .2 6 .2-5.2 .2 5.2 .2-6.7 .1 6.7 .2-13.6 .2 13.6 .3-9.5 .1 9.5 .2-13.1 .1 13.1 .3-12.8 0 12.8 .2-32.6 .2 32.6 .3-6.8 .1 6.8 .2-6.1 .1 6.1 .3-8.2 0 8.2 .2-8.6 .2 8.6 1.2-1.8 .2-25.8 .1 26 .3-15.5-.1 15.6 .2-22.2 .2 22.1 .3-11.6 0 11.8 .2-22.4 .1 22.1 .3-8.4 0 8.3 .2-13.6 0 13.8 .2-22 .1 22.3 .3-14.9-.1 14.5 .2-22.9 .1 22.8 .2-6.6 0 7.1 .2-22.7 .2 22.6 .2-9.8 0 9.5 .2-27.9 .2 28.3 .3-19.6 0 19.5 .2-24.8 .1 24.8 .2-17.6-.1 17.7 .2-23.3 .2 23.2 .2-6.4 .1 6.1 .2-7.6 0 7.8 .2-38.5 .2 38.5 .3-17 0 17.1 .3-21.5 0 21.7 .2-28.2 .2 27.9 .3-17.5 0 17.6 .3-6.9 0 7.1 .2-53.4 .2 53.3 .2-7.4 .1 7.2 .2-9.7 0 9.6 .2-20.6 .2 20.5 .2-6.1 0 6.1 .2-22.8 .1 22.9 .3-8.9-.1 9.2 .2-18.3 .2 18 .2-9.3 0 9.2 .2-18.1 .2 18.5 .3-4.6 0 4.2 .2-22.5 .2 22.9 .3-5.9 0 5.5 .2-26.9 .2 27.4 .3-15 0 14.7 .2-21.6 .3 21.4 .2-4.9 .1 5.3 .2-15.9 .1 15.5 .3-4.9-.1 5.4 .2-14.4 .2 13.9 .3-9.4 0 9.8 .2-19.3 .2 19 .2-7.2 0 7 .2-17 .1 17.5 .3-13.3-.1 13.2 .2-55.2 .2 54.8 .2-5.1 .1 5.1 .2-15.6 .1 15.7 .3-3.5 .1 3.5 .2-8.4 0 8.5 .2-34 .2 34.1 .2-7.4 0 7.7 .2-22.4 .3 22.3 .2-17.2 .1 16.8 .2-39.9 .2 40.4 .3-12.3 0 11.7 .2-22.8 .2 23 .2-8.9 0 9.2 .2-25.5 .2 25.3 .3-17.5 0 17.5 .2-20.1 .1 20.4 .2-13.7 0 13.4 .2-23.4 .1 23.3 .2-12.3-.1 12.2 .2-17.2 .3 17.4 .2-7.2 .1 7.1 .2-16.6 .2 16.4 .2-5.4 .1 5.4 .2-5.6 0 5.7 .2-59.9 .2 59.9 .3-11.6 .1 11.9 .2-8.6 .1 8.2 .2-15 .2 15.1 .3-5.2 0 5.4 .2-24 .2 23.8 .2-9.9 0 10.1 .2-65.5 .1 65.7 .3-7.3-.1 7.4 .2-25.4 .1 25.1 .3-7 0 6.9 .3-9.8-.1 10 .2-15.9 .2 15.9 .2-5.8 .1 5.4 .2-3.9 0 4.2 .2-32.1 .2 32.1 .3-18.3 0 18.5 .2-23.3 .2 23.3 .2-7.7 0 7.6 .2-16.3 .2 16.4 .2-10 0 9.8 .2-17.1 .1 17.4 .3-3.8-.1 3.7 .2-46.3 .2 46 .3-4.9 0 5.2 .2-24.7 .2 24.7 .3-5 0 4.6 .2-14.3 .2 14.4 .3-4.9 0 4.9 .2-16.9 .2 16.8 .2-12.1 .1 12.1 .2-4.2 0 4.5 .2-57.2 .1 57 .3-14.6-.1 14.8 .2-17.8 .2 17.4 .2-8 0 8.5 .2-23.7 .2 23.3 .2-10 .1 10 .2-8.3 0 8.7 .2-26.3 .2 26.3 .3-9.1 0 9.2 .2-16.1 .1 15.9 .3-6.2-.1 6.2 .2-15.1 .3 15.1 .2-10 .1 9.7 .2-24 .2 24.4 .2-7.1 0 6.7 .2-45.9 .2 46.3 .2-13.7 0 13.5 .2-25 .2 24.9 .2-7.2 0 7.2 .2-16.4 .1 16.8 .3-6.9 0 6.8 .2-8.8 0 8.9 .2-81 .2 80.4 .3-18.1 .1 18.6 .2-17.7 0 17.8 .2-21.3 .2 21.3 .3-5 .1 4.7 .2-11.4 0 11.1 .2-56.8 .2 57.4 .3-8 .1 7.8 .2-7.6 0 7.5 .2-18.7 .2 18.5 .2-6.7 0 6.6 .2-24.2 .1 24.6 .3-5.7 0 5.5 .3-20.9-.1 20.7 .2-98.4 .2 98.8 .2-18.2 0 18.2 .2-26.5 .1 26.3 .3-9.2 0 9.3 .2-16.6 .1 16.4 .3-10.2 0 10.5 .2-6.8 0 6.5 .2-37.9 .2 38.2 .2-5.3 0 5.4 .3-6-.1 5.7 .2-18.7 .2 18.8 .3-8.2 0 8.2 .2-28.1 .1 28.3 .3-18.6-.1 18.6 .2-28.3 .2 28.2 .2-7.2 .1 7.3 .3-5.4 0 5.1 .2-24.9 .2 25 .2-10.8 .1 10.8 .3-5.7 0 5.9 .2-55.3 .1 54.8 .3-12-.1 12.2 .2-25.1 .2 25 .2-20 0 20 .2-22.3 .2 22.7 .2-15 .1 15 .2-17.3 0 17.3 .2-52.3 .2 51.9 .2-6.2 .1 6.5 .2-4.1 0 4.1 .2-16.1 .3 15.9 .2-14.2 .1 14.4 .3-9.1 0 9.2 .2-34.3 .2 33.9 .2-15.8 .1 15.7 .2-20 0 20.3 .2-25.5 .2 25.4 .2-12.4 0 12.6 .2-20.8 .2 20.9 .2-12.9 .1 12.9 .2-7.8 0 7.4 .2-16.9 .2 17.4 .2-4.6-.1 4.4 .2-19.7 .3 19.9 .2-14.2 .1 14.2 .3-6.2 0 5.8 .2-36 .2 36.3 .3-18 .1 18 .3-11.2 0 11 .2-21.8 .1 21.5 .3-6.4-.1 7 .2-52.8 .1 52.5 .3-10.7-.1 10.8 .2-21.3 .2 21.5 .2-10.9-.1 10.8 .2-16.3 .2 15.8 .3-4.7 .1 5.1 .2-11.2 0 10.8 .2-41.8 .2 42 .3-6.7 .1 6.8 .2-16.9 .1 16.9 .2-25.3 .2 25.6 .2-10.7 .1 10.6 .2-9.5 0 9.2 .2-15 .2 15 .3-7.7 0 7.9 .2-24.6 .2 24.2 .3-12.4 0 12.6 .2-37 .2 37.1 .2-6 0 6.1 .2-24.8 .1 24.6 .3-15 0 15 .3-12.6-.1 12.9 .2-51.3 .1 51 .3-7.5-.1 7.7 .2-18.7 .1 18.8 .3-13.8-.1 13.4 .2-23.5 .2 24 .3-17.8 .1 17.3 .2-19.3 0 19.6 .2-34.2 .3 34.3 .2-9.3 .2 9.2 .2-23.8 .1 23.4 .2-40.8 .2 40.8 .2-8.6 .1 9 .2-10.5 0 10.6 .2-24.1 .2 23.9 .3-8.5 .1 8.3 .2-18.9 .1 19.3 .2-30.3 .2 30.1 .3-8.1 .1 8.4 .2-11.7 .1 11.4 .2-16.3 .2 16 .2-10.2 .1 10.7 .2-25.8 .2 25.7 .2-20.6 0 20.2 .2-73.2 .1 73.8 .3-12.3 0 12 .3-13.4-.1 13.6 .2-24.2 .2 23.9 .2-12.3 0 12.5 .2-23.5 .2 23.4 .2-9.8 0 9.8 .2-30.1 .2 29.9 .2-16.4 .1 16.7 .3-12.7 0 12.3 .2-19.1 .1 19.5 .3-4.5-.1 4.6 .2-22.2 .2 21.9 .3-16.7 0 16.8 .2-21.7 .1 21.5 .3-5.4 0 5.5 .2-12.1 0 12.3 .2-40.2 .2 39.8 .2-7.8 .1 8 .3-11.7-.1 11.8 .2-18.8 .2 18.7 .3-15.8 0 16 .2-7.1 0 7.2 .2-67.7 .3 67.5 .2-12.2 .1 12.3 .2-25.2 .1 24.8 .3-17.3 0 17.7 .2-6.9 0 6.6 .2-25.9 .1 26.1 .3-9.6-.1 9.6 .2-19.1 .3 18.9 .2-11.2 .1 11.3 .3-3.8 0 3.9 .2-46.1 .2 46 .3-9.1 .1 9.5 .2-17.9 .1 17.6 .2-20.2 .2 20.3 .2-16.4 .1 16.5 .2-8.3 0 8.1 .2-26.1 .2 25.9 .2-10.5 0 10.5 .2-24 .2 24 .2-6.6 .1 6.7 .2-20.8 .2 21.1 .3-8.6 0 8.6 .2-22.3 .2 22 .2-8.8 0 8.9 .2-18.3 .2 18.3 .2-13.9 0 13.6 .2-19.4 .2 19.5 .2-9.9-.1 9.8 .2-18.6 .2 19 .2-16.6 .1 16.5 .2-15.9 0 16 .2-20.2 .2 20.4" fill="none" stroke="#1f77b4" stroke-width="1.79" stroke-linejoin="round" />
<rect x="703.75" y="1298.10" width="485.25" height="311.40" fill="none" stroke="#000" stroke-width="0.831"/>
<text x="946.38" y="1291.62" font-size="12.84" text-anchor="middle" textLength="64.76" lengthAdjust="spacingAndGlyphs">botTracker</text>
<line x1="730.19" y1="1609.50" x2="730.19" y2="1613.59" stroke="#000" stroke-width="0.831"/>
<text x="730.19" y="1625.30" font-size="10.68" text-anchor="middle" textLength="42.81" lengthAdjust="spacingAndGlyphs">2023-05</text>
<line x1="804.81" y1="1609.50" x2="804.81" y2="1613.59" stroke="#000" stroke-width="0.831"/>
<text x="804.81" y="1625.30" font-size="10.68" text-anchor="middle" textLength="42.81" lengthAdjust="spacingAndGlyphs">2023-07</text>
<line x1="880.65" y1="1609.50" x2="880.65" y2="1613.59" stroke="#000" stroke-width="0.831"/>
<text x="880.65" y="1625.30" font-size="10.68" text-anchor="middle" textLength="42.81" lengthAdjust="spacingAndGlyphs">2023-09</text>
<line x1="955.28" y1="1609.50" x2="955.28" y2="1613.59" stroke="#000" stroke-width="0.831"/>
<text x="955.28" y="1625.30" font-size="10.68" text-anchor="middle" textLength="42.81" lengthAdjust="spacingAndGlyphs">2023-11</text>
<line x1="1029.90" y1="1609.50" x2="1029.90" y2="1613.59" stroke="#000" stroke-width="0.831"/>
<text x="1029.90" y="1625.30" font-size="10.68" text-anchor="middle" textLength="42.81" lengthAdjust="spacingAndGlyphs">2024-01</text>
<line x1="1103.30" y1="1609.50" x2="1103.30" y2="1613.59" stroke="#000" stroke-width="0.831"/>
<text x="1103.30" y="1625.30" font-size="10.68" text-anchor="middle" textLength="42.81" lengthAdjust="spacingAndGlyphs">2024-03</text>
<line x1="1177.92" y1="1609.50" x2="1177.92" y2="1613.59" stroke="#000" stroke-width="0.831"/>
<text x="1177.92" y="1625.30" font-size="10.68" text-anchor="middle" textLength="42.81" lengthAdjust="spacingAndGlyphs">2024-05</text>
<text x="946.38" y="1640.41" font-size="10.68" text-anchor="middle" textLength="24.27" lengthAdjust="spacingAndGlyphs">Date</text>
<line x1="699.66" y1="1595.80" x2="703.75" y2="1595.80" stroke="#000" stroke-width="0.831"/>
<text x="695.47" y="1599.99" font-size="10.68" text-anchor="end" textLength="6.08" lengthAdjust="spacingAndGlyphs">0</text>
<line x1="699.66" y1="1557.60" x2="703.75" y2="1557.60" stroke="#000" stroke-width="0.831"/>
<text x="695.47" y="1561.79" font-size="10.68" text-anchor="end" textLength="19.27" lengthAdjust="spacingAndGlyphs">200</text>
<line x1="699.66" y1="1519.40" x2="703.75" y2="1519.40" stroke="#000" stroke-width="0.831"/>
<text x="695.47" y="1523.59" font-size="10.68" text-anchor="end" textLength="19.27" lengthAdjust="spacingAndGlyphs">400</text>
<line x1="699.66" y1="1481.20" x2="703.75" y2="1481.20" stroke="#000" stroke-width="0.831"/>
<text x="695.47" y="1485.39" font-size="10.68" text-anchor="end" textLength="19.27" lengthAdjust="spacingAndGlyphs">600</text>
<line x1="699.66" y1="1443.00" x2="703.75" y2="1443.00" stroke="#000" stroke-width="0.831"/>
<text x="695.47" y="1447.19" font-size="10.68" text-anchor="end" textLength="19.27" lengthAdjust="spacingAndGlyphs">800</text>
<line x1="699.66" y1="1404.80" x2="703.75" y2="1404.80" stroke="#000" stroke-width="0.831"/>
<text x="695.47" y="1408.99" font-size="10.68" text-anchor="end" textLength="25.87" lengthAdjust="spacingAndGlyphs">1000</text>
<line x1="699.66" y1="1366.60" x2="703.75" y2="1366.60" stroke="#000" stroke-width="0.831"/>
<text x="695.47" y="1370.79" font-size="10.68" text-anchor="end" textLength="25.87" lengthAdjust="spacingAndGlyphs">1200</text>
<line x1="699.66" y1="1328.40" x2="703.75" y2="1328.40" stroke="#000" stroke-width="0.831"/>
<text x="695.47" y="1332.59" font-size="10.68" text-anchor="end" textLength="25.87" lengthAdjust="spacingAndGlyphs">1400</text>
<text x="662.60" y="1454.70" font-size="10.68" text-anchor="middle" textLength="27.96" lengthAdjust="spacingAndGlyphs" transform="rotate(-90 662.60 1454.70)">Value</text>
<rect x="1044.29" y="1303.29" width="139.53" height="19.06" rx="2.09" fill="#fff" fill-opacity="0.8" stroke="#ccc" stroke-opacity="0.8" stroke-width="1.04"/>
<line x1="1048.44" y1="1311.88" x2="1069.21" y2="1311.88" stroke="#1f77b4" stroke-width="1.56" stroke-linecap="square"/>
<text x="1077.80" y="1315.37" font-size="10.68" text-anchor="start" textLength="100.02" lengthAdjust="spacingAndGlyphs">estimatedBotCount</text>
</svg>
</body></html>
